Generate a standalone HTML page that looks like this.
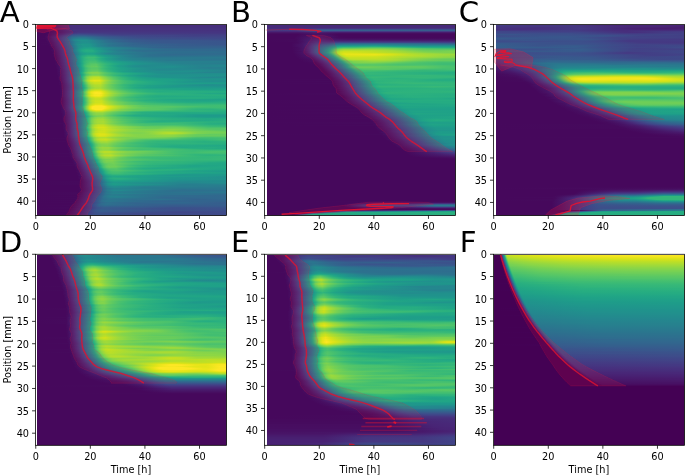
<!DOCTYPE html>
<html><head><meta charset="utf-8"><title>Figure</title>
<style>
html,body{margin:0;padding:0;background:#fff}
#fig{position:relative;width:685px;height:475px;overflow:hidden;background:#fff;font-family:"DejaVu Sans","Liberation Sans",sans-serif}
.hm{position:absolute;overflow:hidden}
.hm i{display:block;height:1px}
svg{position:absolute;left:0;top:0}
text{font-family:"DejaVu Sans","Liberation Sans",sans-serif;fill:#000}
</style></head><body><div id="fig">
<div class="hm" style="left:36px;top:25px;width:191px;height:191px">
<i style="background:linear-gradient(90deg,#fff 0.8px,#46085c 0.8px,#470e61 11.5px,#482979 28.5px,#46307e 36.5px,#472d7b 133.5px,#472f7d 190.5px)"></i>
<i style="background:linear-gradient(90deg,#fff 0.8px,#46085c 0.8px,#470e61 11.5px,#482979 29.5px,#472e7c 35.5px,#472e7c 190.5px)"></i>
<i style="background:linear-gradient(90deg,#fff 0.8px,#46085c 0.8px,#470e61 11.5px,#482677 27.5px,#472f7d 36.5px,#472d7b 79.5px,#46307e 96.5px,#46307e 190.5px)"></i>
<i style="background:linear-gradient(90deg,#fff 0.8px,#46085c 0.8px,#470e61 11.5px,#482979 28.5px,#472f7d 34.5px,#472d7b 77.5px,#46327e 99.5px,#46327e 190.5px)"></i>
<i style="background:linear-gradient(90deg,#fff 0.8px,#46085c 0.8px,#460b5e 10.5px,#482979 29.5px,#46327e 37.5px,#472f7d 79.5px,#46337f 103.5px,#46337f 190.5px)"></i>
<i style="background:linear-gradient(90deg,#fff 0.8px,#46085c 0.8px,#46085c 8.5px,#470d60 13.5px,#481c6e 24.5px,#472f7d 34.5px,#46337f 38.5px,#46327e 190.5px)"></i>
<i style="background:linear-gradient(90deg,#fff 0.8px,#46085c 0.8px,#46085c 10.5px,#470d60 15.5px,#472e7c 35.5px,#463480 43.5px,#463480 190.5px)"></i>
<i style="background:linear-gradient(90deg,#fff 0.8px,#46085c 0.8px,#46085c 10.5px,#481d6f 25.5px,#472f7d 34.5px,#453882 42.5px,#453581 190.5px)"></i>
<i style="background:linear-gradient(90deg,#fff 0.8px,#46085c 0.8px,#460a5d 11.5px,#482475 26.5px,#453882 34.5px,#414287 43.5px,#443a83 77.5px,#453882 190.5px)"></i>
<i style="background:linear-gradient(90deg,#fff 0.8px,#46085c 0.8px,#46085c 9.5px,#471164 15.5px,#46307e 28.5px,#424186 33.5px,#3e4c8a 37.5px,#3c508b 42.5px,#423f85 79.5px,#433d84 190.5px)"></i>
<i style="background:linear-gradient(90deg,#fff 0.8px,#46085c 0.8px,#46085c 8.5px,#471164 14.5px,#472a7a 23.5px,#423f85 29.5px,#38588c 36.5px,#365d8d 41.5px,#365d8d 48.5px,#3d4e8a 63.5px,#404588 86.5px,#414487 135.5px,#423f85 159.5px,#424186 190.5px)"></i>
<i style="background:linear-gradient(90deg,#fff 0.8px,#46085c 0.8px,#46085c 8.5px,#481467 14.5px,#46307e 23.5px,#3f4889 29.5px,#33638d 36.5px,#306a8e 42.5px,#306a8e 48.5px,#39568c 68.5px,#3f4889 102.5px,#414287 154.5px,#414487 190.5px)"></i>
<i style="background:linear-gradient(90deg,#fff 0.8px,#46085c 0.8px,#46085c 8.5px,#471063 12.5px,#482979 20.5px,#404688 27.5px,#2e6e8e 36.5px,#2a788e 43.5px,#2a778e 49.5px,#2f6b8e 57.5px,#365c8d 72.5px,#3e4c8a 102.5px,#404688 190.5px)"></i>
<i style="background:linear-gradient(90deg,#fff 0.8px,#46085c 0.8px,#460a5d 10.5px,#481769 15.5px,#46337f 22.5px,#414487 26.5px,#2a788e 37.5px,#26818e 44.5px,#277f8e 49.5px,#2f6b8e 61.5px,#355f8d 73.5px,#3a538b 95.5px,#3d4e8a 111.5px,#3f4889 190.5px)"></i>
<i style="background:linear-gradient(90deg,#fff 0.8px,#46085c 0.8px,#46085c 9.5px,#481a6c 16.5px,#453882 23.5px,#3e4a89 27.5px,#27808e 37.5px,#23888e 40.5px,#228c8d 44.5px,#238a8d 50.5px,#2a778e 59.5px,#2f6c8e 67.5px,#375a8c 92.5px,#3a538b 112.5px,#3e4c8a 190.5px)"></i>
<i style="background:linear-gradient(90deg,#fff 0.8px,#46085c 0.8px,#46085c 9.5px,#48186a 16.5px,#453781 23.5px,#3c4f8a 28.5px,#24868e 38.5px,#21918c 42.5px,#20938c 45.5px,#20928c 51.5px,#277f8e 60.5px,#2e6d8e 72.5px,#365d8d 93.5px,#39568c 115.5px,#39568c 152.5px,#3b518b 190.5px)"></i>
<i style="background:linear-gradient(90deg,#fff 0.8px,#46085c 0.8px,#46085c 10.5px,#481a6c 17.5px,#443983 24.5px,#3b518b 29.5px,#25848e 39.5px,#21908d 45.5px,#21908d 51.5px,#2e6f8e 72.5px,#33638d 84.5px,#365c8d 97.5px,#38588c 116.5px,#39558c 190.5px)"></i>
<i style="background:linear-gradient(90deg,#fff 0.8px,#46085c 0.8px,#460a5d 12.5px,#48186a 17.5px,#472d7b 22.5px,#404688 27.5px,#31668e 33.5px,#25848e 39.5px,#228d8d 42.5px,#20928c 47.5px,#21908d 52.5px,#2c738e 70.5px,#34608d 97.5px,#38588c 125.5px,#39558c 190.5px)"></i>
<i style="background:linear-gradient(90deg,#fff 0.8px,#46085c 0.8px,#46085c 11.5px,#481769 17.5px,#482677 21.5px,#453781 24.5px,#3c4f8a 29.5px,#228b8d 40.5px,#1f948c 46.5px,#1f948c 52.5px,#277f8e 64.5px,#2e6f8e 80.5px,#365d8d 109.5px,#39558c 190.5px)"></i>
<i style="background:linear-gradient(90deg,#fff 0.8px,#46085c 0.8px,#460a5d 13.5px,#481668 17.5px,#472e7c 23.5px,#3d4e8a 29.5px,#2d718e 35.5px,#21918c 41.5px,#1f998a 46.5px,#1f978b 53.5px,#24868e 61.5px,#2b758e 73.5px,#32648e 97.5px,#39558c 190.5px)"></i>
<i style="background:linear-gradient(90deg,#fff 0.8px,#46085c 0.8px,#46085c 12.5px,#481467 17.5px,#472c7a 23.5px,#453882 25.5px,#3b518b 30.5px,#218e8d 41.5px,#1f988b 47.5px,#1f978b 53.5px,#25848e 62.5px,#2b748e 73.5px,#31688e 91.5px,#365c8d 143.5px,#375a8c 190.5px)"></i>
<i style="background:linear-gradient(90deg,#fff 0.8px,#46085c 0.8px,#46085c 13.5px,#460b5e 15.5px,#472a7a 23.5px,#424086 27.5px,#3c4f8a 30.5px,#2d718e 36.5px,#21908d 42.5px,#1f998a 48.5px,#1f988b 54.5px,#23898e 61.5px,#29798e 73.5px,#30698e 98.5px,#355f8d 147.5px,#355e8d 190.5px)"></i>
<i style="background:linear-gradient(90deg,#fff 0.8px,#46085c 0.8px,#46085c 13.5px,#470d60 16.5px,#472d7b 24.5px,#3d4e8a 30.5px,#2d708e 36.5px,#20928c 42.5px,#1f9e89 48.5px,#1f9f88 54.5px,#24878e 69.5px,#32658e 115.5px,#34618d 130.5px,#34618d 190.5px)"></i>
<i style="background:linear-gradient(90deg,#fff 0.8px,#46085c 0.8px,#46085c 14.5px,#460b5e 16.5px,#472c7a 24.5px,#3d4d8a 30.5px,#2b748e 37.5px,#1f978b 43.5px,#1f9e89 45.5px,#20a486 50.5px,#20a486 55.5px,#21908d 67.5px,#25838e 79.5px,#306a8e 122.5px,#32648e 155.5px,#31668e 190.5px)"></i>
<i style="background:linear-gradient(90deg,#fff 0.8px,#46085c 0.8px,#46085c 14.5px,#471164 18.5px,#472f7d 25.5px,#424186 28.5px,#39568c 32.5px,#287d8e 38.5px,#1e9c89 43.5px,#21a585 46.5px,#24aa83 50.5px,#23a983 55.5px,#1e9c89 61.5px,#24868e 73.5px,#2a768e 94.5px,#2f6b8e 133.5px,#31688e 190.5px)"></i>
<i style="background:linear-gradient(90deg,#fff 0.8px,#46085c 0.8px,#46085c 14.5px,#471063 18.5px,#472d7b 25.5px,#423f85 28.5px,#39558c 32.5px,#287c8e 38.5px,#1e9d89 43.5px,#22a884 46.5px,#27ad81 50.5px,#25ac82 56.5px,#20a486 59.5px,#1f9a8a 64.5px,#238a8d 72.5px,#287c8e 82.5px,#2d708e 98.5px,#2f6b8e 122.5px,#31688e 190.5px)"></i>
<i style="background:linear-gradient(90deg,#fff 0.8px,#46085c 0.8px,#46085c 15.5px,#470e61 18.5px,#46307e 26.5px,#414487 29.5px,#375a8c 33.5px,#27808e 39.5px,#1f9f88 44.5px,#22a884 47.5px,#25ac82 50.5px,#25ab82 56.5px,#1e9c89 63.5px,#26818e 81.5px,#2e6f8e 106.5px,#2f6b8e 190.5px)"></i>
<i style="background:linear-gradient(90deg,#fff 0.8px,#46085c 0.8px,#46085c 15.5px,#470d60 18.5px,#472f7d 26.5px,#3b528b 32.5px,#287c8e 39.5px,#1f9a8a 44.5px,#20a386 47.5px,#22a884 51.5px,#21a685 57.5px,#20938c 66.5px,#25858e 77.5px,#2c738e 108.5px,#2e6d8e 138.5px,#2e6d8e 190.5px)"></i>
<i style="background:linear-gradient(90deg,#fff 0.8px,#46085c 0.8px,#46085c 15.5px,#471063 19.5px,#472e7c 26.5px,#3b518b 32.5px,#297a8e 39.5px,#1f978b 44.5px,#1f9e89 46.5px,#20a486 51.5px,#1fa287 57.5px,#24878e 71.5px,#29798e 92.5px,#2e6d8e 129.5px,#306a8e 190.5px)"></i>
<i style="background:linear-gradient(90deg,#fff 0.8px,#46085c 0.8px,#46085c 16.5px,#460b5e 18.5px,#482979 25.5px,#3e4c8a 31.5px,#29798e 39.5px,#1e9c89 45.5px,#22a785 51.5px,#21a685 57.5px,#1e9c89 62.5px,#21908d 69.5px,#25838e 80.5px,#2d708e 113.5px,#306a8e 136.5px,#2f6c8e 190.5px)"></i>
<i style="background:linear-gradient(90deg,#fff 0.8px,#46085c 0.8px,#46085c 16.5px,#470e61 19.5px,#481d6f 23.5px,#46327e 27.5px,#39568c 33.5px,#287c8e 39.5px,#1f968b 43.5px,#21a685 46.5px,#2ab07f 51.5px,#29af7f 58.5px,#21a685 62.5px,#1e9c89 68.5px,#25858e 86.5px,#2c718e 111.5px,#2e6d8e 128.5px,#2d708e 190.5px)"></i>
<i style="background:linear-gradient(90deg,#fff 0.8px,#46085c 0.8px,#46085c 16.5px,#470d60 19.5px,#46307e 27.5px,#404588 30.5px,#39568c 33.5px,#287d8e 39.5px,#1f998a 43.5px,#25ab82 46.5px,#34b679 52.5px,#32b67a 58.5px,#24aa83 63.5px,#1f9e89 69.5px,#26828e 89.5px,#2b748e 107.5px,#2c718e 120.5px,#2b748e 190.5px)"></i>
<i style="background:linear-gradient(90deg,#fff 0.8px,#46085c 0.8px,#46085c 17.5px,#471063 20.5px,#482071 24.5px,#453581 28.5px,#3e4989 31.5px,#33628d 35.5px,#25848e 40.5px,#1e9b8a 43.5px,#27ad81 46.5px,#35b779 49.5px,#3dbc74 52.5px,#3dbc74 58.5px,#26ad81 65.5px,#1fa187 71.5px,#23898e 86.5px,#277e8e 97.5px,#2a778e 117.5px,#2a788e 190.5px)"></i>
<i style="background:linear-gradient(90deg,#fff 0.8px,#46085c 0.8px,#46085c 17.5px,#460b5e 19.5px,#481f70 24.5px,#472f7d 27.5px,#3e4989 31.5px,#375b8d 34.5px,#25838e 40.5px,#1fa088 44.5px,#2ab07f 47.5px,#34b679 49.5px,#3aba76 52.5px,#3aba76 57.5px,#25ac82 64.5px,#1fa187 69.5px,#228c8d 83.5px,#26828e 96.5px,#297b8e 118.5px,#2a768e 190.5px)"></i>
<i style="background:linear-gradient(90deg,#fff 0.8px,#46085c 0.8px,#46085c 17.5px,#470e61 20.5px,#46337f 28.5px,#3f4889 31.5px,#34608d 35.5px,#26828e 40.5px,#1fa088 44.5px,#2fb47c 48.5px,#3bbb75 53.5px,#3bbb75 58.5px,#29af7f 63.5px,#1fa187 70.5px,#218f8d 82.5px,#25838e 96.5px,#297b8e 124.5px,#2b748e 190.5px)"></i>
<i style="background:linear-gradient(90deg,#fff 0.8px,#46085c 0.8px,#46085c 17.5px,#470d60 20.5px,#472d7b 27.5px,#3f4788 31.5px,#355f8d 35.5px,#26818e 40.5px,#1f9e89 44.5px,#2ab07f 47.5px,#38b977 50.5px,#3fbc73 53.5px,#3dbc74 59.5px,#28ae80 65.5px,#20a386 71.5px,#21908d 85.5px,#23898e 95.5px,#29798e 133.5px,#29798e 190.5px)"></i>
<i style="background:linear-gradient(90deg,#fff 0.8px,#46085c 0.8px,#46085c 18.5px,#471063 21.5px,#472d7b 27.5px,#3d4d8a 32.5px,#29798e 39.5px,#1f9f88 44.5px,#25ac82 46.5px,#2db27d 47.5px,#3bbb75 50.5px,#44bf70 54.5px,#44bf70 59.5px,#37b878 62.5px,#27ad81 68.5px,#1fa088 78.5px,#218f8d 98.5px,#27808e 125.5px,#277f8e 190.5px)"></i>
<i style="background:linear-gradient(90deg,#fff 0.8px,#46085c 0.8px,#46085c 18.5px,#460b5e 20.5px,#472a7a 27.5px,#3e4a89 32.5px,#2a778e 39.5px,#1e9d89 44.5px,#25ab82 46.5px,#32b67a 48.5px,#48c16e 53.5px,#4ac16d 59.5px,#2db27d 68.5px,#22a785 76.5px,#1fa188 82.5px,#21918c 101.5px,#26828e 130.5px,#277e8e 190.5px)"></i>
<i style="background:linear-gradient(90deg,#fff 0.8px,#46085c 0.8px,#46085c 18.5px,#470e61 21.5px,#482475 26.5px,#3e4989 32.5px,#2b758e 39.5px,#1e9c89 44.5px,#24aa83 46.5px,#32b67a 48.5px,#40bd72 50.5px,#50c46a 54.5px,#54c568 59.5px,#3aba76 66.5px,#2fb47c 70.5px,#23a983 78.5px,#1fa187 85.5px,#1f968b 98.5px,#26828e 139.5px,#297b8e 190.5px)"></i>
<i style="background:linear-gradient(90deg,#fff 0.8px,#46085c 0.8px,#46085c 18.5px,#470d60 21.5px,#482979 27.5px,#3f4889 32.5px,#2b758e 39.5px,#1e9d89 44.5px,#25ac82 46.5px,#37b878 48.5px,#4ac16d 51.5px,#58c765 55.5px,#5ac864 60.5px,#4ac16d 63.5px,#32b67a 70.5px,#26ad81 76.5px,#20a386 83.5px,#1f948c 99.5px,#228c8d 115.5px,#26818e 161.5px,#26818e 190.5px)"></i>
<i style="background:linear-gradient(90deg,#fff 0.8px,#46085c 0.8px,#46085c 19.5px,#471063 22.5px,#472d7b 28.5px,#3c4f8a 33.5px,#287d8e 40.5px,#1f9e89 44.5px,#26ad81 46.5px,#3bbb75 48.5px,#50c46a 51.5px,#5cc863 55.5px,#5cc863 60.5px,#46c06f 64.5px,#32b67a 69.5px,#25ab82 75.5px,#1fa188 81.5px,#21908d 97.5px,#228b8d 108.5px,#228b8d 134.5px,#26828e 165.5px,#24868e 190.5px)"></i>
<i style="background:linear-gradient(90deg,#fff 0.8px,#46085c 0.8px,#46085c 19.5px,#470e61 22.5px,#472c7a 28.5px,#3d4d8a 33.5px,#287c8e 40.5px,#1e9d89 44.5px,#26ad81 46.5px,#44bf70 49.5px,#54c568 51.5px,#60ca60 55.5px,#63cb5f 60.5px,#46c06f 65.5px,#32b67a 70.5px,#25ab82 76.5px,#1fa187 81.5px,#218e8d 98.5px,#238a8d 109.5px,#218f8d 135.5px,#25838e 163.5px,#25858e 190.5px)"></i>
<i style="background:linear-gradient(90deg,#fff 0.8px,#46085c 0.8px,#46085c 19.5px,#470e61 22.5px,#472c7a 28.5px,#3e4c8a 33.5px,#29798e 40.5px,#21918c 43.5px,#1fa187 45.5px,#2ab07f 47.5px,#3dbc74 49.5px,#52c569 52.5px,#5cc863 55.5px,#5ac864 61.5px,#3dbc74 67.5px,#2eb37c 72.5px,#25ab82 77.5px,#1fa287 83.5px,#20938c 97.5px,#228d8d 109.5px,#218e8d 135.5px,#277f8e 171.5px,#26818e 190.5px)"></i>
<i style="background:linear-gradient(90deg,#fff 0.8px,#46085c 0.8px,#46085c 19.5px,#470d60 22.5px,#472a7a 28.5px,#3e4c8a 33.5px,#2a788e 40.5px,#1fa088 45.5px,#28ae80 47.5px,#3bbb75 49.5px,#4ec36b 52.5px,#58c765 55.5px,#58c765 61.5px,#42be71 65.5px,#34b679 69.5px,#28ae80 74.5px,#1fa188 85.5px,#228d8d 112.5px,#23888e 146.5px,#27808e 173.5px,#27808e 190.5px)"></i>
<i style="background:linear-gradient(90deg,#fff 0.8px,#46085c 0.8px,#46085c 20.5px,#470d60 22.5px,#482374 27.5px,#3e4a89 33.5px,#2a788e 40.5px,#1f9f88 45.5px,#28ae80 47.5px,#3dbc74 49.5px,#52c569 52.5px,#5cc863 55.5px,#5cc863 61.5px,#46c06f 65.5px,#34b679 70.5px,#29af7f 74.5px,#20a486 82.5px,#20938c 101.5px,#23898e 121.5px,#23888e 159.5px,#26828e 190.5px)"></i>
<i style="background:linear-gradient(90deg,#fff 0.8px,#46085c 0.8px,#46085c 20.5px,#471063 23.5px,#472e7c 29.5px,#3b518b 34.5px,#277f8e 41.5px,#1f9f88 45.5px,#28ae80 47.5px,#3dbc74 49.5px,#54c568 52.5px,#60ca60 56.5px,#60ca60 61.5px,#42be71 67.5px,#34b679 71.5px,#26ad81 77.5px,#20a486 83.5px,#1f958b 99.5px,#238a8d 122.5px,#228d8d 160.5px,#25858e 190.5px)"></i>
<i style="background:linear-gradient(90deg,#fff 0.8px,#46085c 0.8px,#46085c 20.5px,#471063 23.5px,#482173 27.5px,#46337f 30.5px,#3c508b 34.5px,#277f8e 41.5px,#1fa088 45.5px,#29af7f 47.5px,#40bd72 49.5px,#5cc863 52.5px,#69cd5b 56.5px,#6ccd5a 61.5px,#4ec36b 66.5px,#38b977 71.5px,#26ad81 78.5px,#1fa187 85.5px,#1f958b 98.5px,#218f8d 114.5px,#21908d 154.5px,#26828e 190.5px)"></i>
<i style="background:linear-gradient(90deg,#fff 0.8px,#46085c 0.8px,#46085c 20.5px,#470e61 23.5px,#472d7b 29.5px,#3c508b 34.5px,#297a8e 40.5px,#1e9c89 44.5px,#27ad81 46.5px,#32b67a 47.5px,#50c46a 49.5px,#70cf57 52.5px,#7fd34e 55.5px,#81d34d 61.5px,#56c667 68.5px,#44bf70 72.5px,#2cb17e 80.5px,#22a884 87.5px,#1e9d89 99.5px,#218e8d 122.5px,#228c8d 150.5px,#25848e 171.5px,#25848e 190.5px)"></i>
<i style="background:linear-gradient(90deg,#fff 0.8px,#46085c 0.8px,#46085c 20.5px,#470e61 23.5px,#472d7b 29.5px,#3c508b 34.5px,#297a8e 40.5px,#1e9b8a 44.5px,#26ad81 46.5px,#3dbc74 48.5px,#5ac864 50.5px,#75d054 53.5px,#81d34d 56.5px,#81d34d 62.5px,#6ccd5a 65.5px,#5cc863 68.5px,#3bbb75 77.5px,#2ab07f 86.5px,#23a983 94.5px,#1e9d89 108.5px,#20928c 120.5px,#228c8d 134.5px,#228d8d 190.5px)"></i>
<i style="background:linear-gradient(90deg,#fff 0.8px,#46085c 0.8px,#46085c 20.5px,#470d60 23.5px,#472c7a 29.5px,#3c4f8a 34.5px,#277f8e 41.5px,#1fa088 45.5px,#29af7f 47.5px,#50c46a 50.5px,#69cd5b 53.5px,#77d153 56.5px,#7ad151 62.5px,#58c765 68.5px,#3fbc73 75.5px,#2fb47c 82.5px,#22a884 93.5px,#1e9b8a 108.5px,#21918c 130.5px,#218f8d 190.5px)"></i>
<i style="background:linear-gradient(90deg,#fff 0.8px,#46085c 0.8px,#46085c 21.5px,#470d60 23.5px,#482475 28.5px,#46327e 30.5px,#3d4e8a 34.5px,#277f8e 41.5px,#1fa188 45.5px,#24aa83 46.5px,#38b977 48.5px,#58c765 50.5px,#75d054 53.5px,#84d44b 56.5px,#86d549 62.5px,#5ac864 69.5px,#38b977 77.5px,#2cb17e 82.5px,#22a785 89.5px,#1f998a 103.5px,#20928c 120.5px,#21918c 190.5px)"></i>
<i style="background:linear-gradient(90deg,#fff 0.8px,#46085c 0.8px,#46085c 21.5px,#471063 24.5px,#472c7a 29.5px,#3c4f8a 34.5px,#297b8e 40.5px,#1f9e89 44.5px,#22a785 45.5px,#2ab07f 46.5px,#38b977 47.5px,#70cf57 50.5px,#95d840 53.5px,#a5db36 56.5px,#aadc32 58.5px,#aadc32 62.5px,#67cc5c 71.5px,#48c16e 77.5px,#2cb17e 86.5px,#22a785 93.5px,#1f978b 109.5px,#20928c 120.5px,#20938c 148.5px,#228b8d 190.5px)"></i>
<i style="background:linear-gradient(90deg,#fff 0.8px,#46085c 0.8px,#46085c 21.5px,#471063 24.5px,#472a7a 29.5px,#3c508b 34.5px,#287d8e 40.5px,#1fa188 44.5px,#24aa83 45.5px,#2eb37c 46.5px,#52c569 48.5px,#8ed645 51.5px,#addc30 54.5px,#bddf26 57.5px,#c0df25 62.5px,#bade28 63.5px,#9dd93b 66.5px,#77d153 71.5px,#54c568 77.5px,#34b679 86.5px,#28ae80 92.5px,#1fa287 103.5px,#1f958b 123.5px,#20928c 146.5px,#23888e 171.5px,#238a8d 190.5px)"></i>
<i style="background:linear-gradient(90deg,#fff 0.8px,#46085c 0.8px,#46085c 21.5px,#470e61 24.5px,#472a7a 29.5px,#3c508b 34.5px,#277e8e 40.5px,#1fa188 44.5px,#24aa83 45.5px,#3fbc73 47.5px,#90d743 51.5px,#aadc32 53.5px,#b5de2b 54.5px,#c5e021 57.5px,#c2df23 63.5px,#9dd93b 67.5px,#86d549 70.5px,#5ac864 77.5px,#40bd72 83.5px,#29af7f 93.5px,#23a983 99.5px,#1fa187 110.5px,#1e9d89 133.5px,#21908d 158.5px,#21918c 190.5px)"></i>
<i style="background:linear-gradient(90deg,#fff 0.8px,#46085c 0.8px,#46085c 21.5px,#470e61 24.5px,#482979 29.5px,#3c4f8a 34.5px,#277e8e 40.5px,#1f988b 43.5px,#1fa187 44.5px,#25ac82 45.5px,#31b57b 46.5px,#42be71 47.5px,#6ccd5a 49.5px,#9bd93c 51.5px,#c0df25 54.5px,#c5e021 55.5px,#d0e11c 57.5px,#d0e11c 63.5px,#a0da39 68.5px,#90d743 70.5px,#6ccd5a 75.5px,#56c667 79.5px,#3dbc74 85.5px,#32b67a 89.5px,#26ad81 96.5px,#20a386 112.5px,#1fa187 134.5px,#20938c 164.5px,#1f948c 190.5px)"></i>
<i style="background:linear-gradient(90deg,#fff 0.8px,#46085c 0.8px,#46085c 22.5px,#470e61 24.5px,#482878 29.5px,#404588 33.5px,#38588c 35.5px,#24878e 41.5px,#1f9a8a 43.5px,#20a486 44.5px,#28ae80 45.5px,#37b878 46.5px,#7ad151 49.5px,#aadc32 51.5px,#d5e21a 54.5px,#e5e419 58.5px,#e2e418 63.5px,#d0e11c 65.5px,#a8db34 69.5px,#7ad151 75.5px,#63cb5f 79.5px,#48c16e 85.5px,#3bbb75 89.5px,#2db27d 96.5px,#23a983 106.5px,#20a386 119.5px,#1fa088 137.5px,#21918c 171.5px,#21918c 190.5px)"></i>
<i style="background:linear-gradient(90deg,#fff 0.8px,#46085c 0.8px,#46085c 22.5px,#470d60 24.5px,#482677 29.5px,#3e4c8a 34.5px,#287c8e 40.5px,#1fa188 44.5px,#25ab82 45.5px,#31b57b 46.5px,#42be71 47.5px,#86d549 50.5px,#b0dd2f 52.5px,#c8e020 54.5px,#d0e11c 55.5px,#dae319 58.5px,#d8e219 63.5px,#d2e21b 64.5px,#c8e020 65.5px,#98d83e 70.5px,#81d34d 73.5px,#69cd5b 77.5px,#4cc26c 84.5px,#40bd72 88.5px,#2eb37c 99.5px,#24aa83 111.5px,#1fa287 127.5px,#1f948c 159.5px,#21908d 183.5px,#20928c 190.5px)"></i>
<i style="background:linear-gradient(90deg,#fff 0.8px,#46085c 0.8px,#46085c 22.5px,#471063 25.5px,#472c7a 30.5px,#3b528b 35.5px,#27808e 41.5px,#1f9a8a 44.5px,#20a486 45.5px,#27ad81 46.5px,#35b779 47.5px,#70cf57 50.5px,#89d548 51.5px,#9bd93c 52.5px,#b5de2b 54.5px,#bddf26 55.5px,#cae11f 58.5px,#c8e020 64.5px,#aadc32 67.5px,#84d44b 72.5px,#6ccd5a 76.5px,#5ac864 80.5px,#4cc26c 84.5px,#3aba76 91.5px,#2cb17e 101.5px,#21a685 120.5px,#1f988b 148.5px,#1f988b 190.5px)"></i>
<i style="background:linear-gradient(90deg,#fff 0.8px,#46085c 0.8px,#46085c 22.5px,#470e61 25.5px,#46307e 31.5px,#3c4f8a 35.5px,#277e8e 41.5px,#1fa188 45.5px,#25ab82 46.5px,#2fb47c 47.5px,#69cd5b 50.5px,#93d741 52.5px,#addc30 54.5px,#bade28 56.5px,#c5e021 58.5px,#c5e021 64.5px,#bade28 65.5px,#84d44b 72.5px,#58c765 81.5px,#40bd72 88.5px,#2ab07f 101.5px,#22a785 117.5px,#1f9e89 144.5px,#1e9b8a 190.5px)"></i>
<i style="background:linear-gradient(90deg,#fff 0.8px,#46085c 0.8px,#46085c 22.5px,#470e61 25.5px,#482878 30.5px,#3d4d8a 35.5px,#297a8e 41.5px,#1e9c89 45.5px,#21a585 46.5px,#37b878 48.5px,#5ac864 50.5px,#84d44b 52.5px,#a8db34 55.5px,#b8de29 59.5px,#b5de2b 64.5px,#84d44b 70.5px,#65cb5e 75.5px,#58c765 78.5px,#38b977 87.5px,#27ad81 98.5px,#1fa187 128.5px,#21908d 170.5px,#20938c 190.5px)"></i>
<i style="background:linear-gradient(90deg,#fff 0.8px,#46085c 0.8px,#46085c 23.5px,#470d60 25.5px,#472d7b 31.5px,#3b528b 36.5px,#277f8e 42.5px,#1fa187 46.5px,#25ab82 47.5px,#2fb47c 48.5px,#50c46a 50.5px,#7ad151 52.5px,#86d549 53.5px,#9dd93b 55.5px,#addc30 58.5px,#b0dd2f 64.5px,#81d34d 70.5px,#5ec962 76.5px,#3bbb75 85.5px,#29af7f 94.5px,#22a884 102.5px,#1fa287 112.5px,#20928c 155.5px,#218f8d 170.5px,#21918c 190.5px)"></i>
<i style="background:linear-gradient(90deg,#fff 0.8px,#46085c 0.8px,#46085c 23.5px,#470d60 25.5px,#472d7b 31.5px,#3b518b 36.5px,#287d8e 42.5px,#1fa088 46.5px,#23a983 47.5px,#2db27d 48.5px,#4ec36b 50.5px,#75d054 52.5px,#98d83e 55.5px,#aadc32 58.5px,#addc30 64.5px,#89d548 69.5px,#70cf57 73.5px,#54c568 79.5px,#37b878 88.5px,#28ae80 96.5px,#1fa287 111.5px,#1f988b 137.5px,#1f948c 190.5px)"></i>
<i style="background:linear-gradient(90deg,#fff 0.8px,#46085c 0.8px,#46085c 23.5px,#470d60 25.5px,#472c7a 31.5px,#3c508b 36.5px,#297b8e 42.5px,#1e9c89 46.5px,#21a585 47.5px,#28ae80 48.5px,#44bf70 50.5px,#6ccd5a 52.5px,#90d743 55.5px,#a5db36 59.5px,#a8db34 64.5px,#81d34d 70.5px,#60ca60 76.5px,#4cc26c 81.5px,#35b779 88.5px,#24aa83 98.5px,#1fa188 109.5px,#1e9c89 124.5px,#1f988b 190.5px)"></i>
<i style="background:linear-gradient(90deg,#fff 0.8px,#46085c 0.8px,#46085c 23.5px,#470d60 25.5px,#472d7b 31.5px,#3b518b 36.5px,#287c8e 42.5px,#1f9e89 46.5px,#22a785 47.5px,#2ab07f 48.5px,#48c16e 50.5px,#70cf57 52.5px,#95d840 55.5px,#a8db34 58.5px,#addc30 64.5px,#7fd34e 71.5px,#52c569 80.5px,#38b977 88.5px,#28ae80 97.5px,#22a785 107.5px,#20a386 119.5px,#1fa287 145.5px,#1e9d89 168.5px,#1f9f88 190.5px)"></i>
<i style="background:linear-gradient(90deg,#fff 0.8px,#46085c 0.8px,#46085c 23.5px,#470d60 25.5px,#472d7b 31.5px,#424186 34.5px,#3a538b 36.5px,#27808e 42.5px,#1f9a8a 45.5px,#20a486 46.5px,#27ad81 47.5px,#46c06f 49.5px,#6ece58 51.5px,#86d549 52.5px,#addc30 55.5px,#b8de29 57.5px,#c0df25 59.5px,#c2df23 64.5px,#9bd93c 69.5px,#81d34d 73.5px,#58c765 81.5px,#3fbc73 89.5px,#2db27d 100.5px,#24aa83 116.5px,#1fa287 148.5px,#1fa088 171.5px,#1fa287 190.5px)"></i>
<i style="background:linear-gradient(90deg,#fff 0.8px,#46085c 0.8px,#46085c 23.5px,#470d60 25.5px,#472e7c 31.5px,#3e4c8a 35.5px,#297b8e 41.5px,#1f9f88 45.5px,#22a884 46.5px,#2db27d 47.5px,#3dbc74 48.5px,#67cc5c 50.5px,#98d83e 52.5px,#c2df23 55.5px,#d2e21b 58.5px,#d8e219 60.5px,#d8e219 64.5px,#93d741 73.5px,#7ad151 77.5px,#6ccd5a 80.5px,#4cc26c 88.5px,#3aba76 95.5px,#32b67a 100.5px,#29af7f 112.5px,#25ab82 131.5px,#21a585 190.5px)"></i>
<i style="background:linear-gradient(90deg,#fff 0.8px,#46085c 0.8px,#46085c 23.5px,#470d60 25.5px,#472f7d 31.5px,#404588 34.5px,#38588c 36.5px,#23888e 42.5px,#1e9b8a 44.5px,#21a585 45.5px,#29af7f 46.5px,#3aba76 47.5px,#4ec36b 48.5px,#7fd34e 50.5px,#b2dd2d 52.5px,#d0e11c 54.5px,#dde318 55.5px,#ece51b 58.5px,#efe51c 61.5px,#ece51b 64.5px,#e7e419 65.5px,#d5e21a 67.5px,#aadc32 72.5px,#95d840 75.5px,#69cd5b 83.5px,#46c06f 93.5px,#37b878 101.5px,#2cb17e 109.5px,#25ac82 124.5px,#28ae80 146.5px,#25ac82 190.5px)"></i>
<i style="background:linear-gradient(90deg,#fff 0.8px,#46085c 0.8px,#46085c 23.5px,#470d60 25.5px,#482878 30.5px,#3c4f8a 35.5px,#29798e 40.5px,#1f9e89 44.5px,#23a983 45.5px,#2eb37c 46.5px,#40bd72 47.5px,#56c667 48.5px,#a2da37 51.5px,#c0df25 52.5px,#d0e11c 53.5px,#eae51a 55.5px,#f8e621 58.5px,#fbe723 60.5px,#f6e620 64.5px,#f1e51d 65.5px,#e7e419 66.5px,#d5e21a 68.5px,#a5db36 74.5px,#8bd646 78.5px,#65cb5e 86.5px,#48c16e 96.5px,#3bbb75 103.5px,#31b57b 111.5px,#2ab07f 121.5px,#25ab82 190.5px)"></i>
<i style="background:linear-gradient(90deg,#fff 0.8px,#46085c 0.8px,#46085c 23.5px,#470d60 25.5px,#472f7d 31.5px,#404588 34.5px,#38588c 36.5px,#23898e 42.5px,#1e9c89 44.5px,#21a685 45.5px,#2ab07f 46.5px,#3bbb75 47.5px,#84d44b 50.5px,#b8de29 52.5px,#cae11f 53.5px,#e7e419 55.5px,#f4e61e 57.5px,#fbe723 59.5px,#fbe723 64.5px,#f6e620 65.5px,#e5e419 67.5px,#d2e21b 69.5px,#a0da39 76.5px,#73d056 85.5px,#5cc863 92.5px,#46c06f 102.5px,#37b878 113.5px,#2eb37c 124.5px,#2ab07f 146.5px,#22a785 173.5px,#21a685 190.5px)"></i>
<i style="background:linear-gradient(90deg,#fff 0.8px,#46085c 0.8px,#46085c 23.5px,#470d60 25.5px,#472f7d 31.5px,#404588 34.5px,#38588c 36.5px,#23888e 42.5px,#1f9a8a 44.5px,#21a585 45.5px,#29af7f 46.5px,#38b977 47.5px,#65cb5e 49.5px,#b2dd2d 52.5px,#c5e021 53.5px,#e2e418 55.5px,#f4e61e 58.5px,#f6e620 63.5px,#efe51c 65.5px,#d5e21a 68.5px,#a5db36 74.5px,#8bd646 78.5px,#73d056 83.5px,#65cb5e 86.5px,#52c569 92.5px,#3dbc74 102.5px,#34b679 110.5px,#2db27d 122.5px,#25ac82 190.5px)"></i>
<i style="background:linear-gradient(90deg,#fff 0.8px,#46085c 0.8px,#46085c 23.5px,#470d60 25.5px,#482878 30.5px,#3d4e8a 35.5px,#2a788e 40.5px,#1e9d89 44.5px,#22a785 45.5px,#2db27d 46.5px,#3dbc74 47.5px,#86d549 50.5px,#bade28 52.5px,#cde11d 53.5px,#e7e419 55.5px,#f6e620 58.5px,#f8e621 62.5px,#f1e51d 65.5px,#e7e419 66.5px,#d5e21a 68.5px,#9dd93b 75.5px,#6ece58 83.5px,#56c667 89.5px,#3aba76 100.5px,#2db27d 109.5px,#27ad81 120.5px,#29af7f 190.5px)"></i>
<i style="background:linear-gradient(90deg,#fff 0.8px,#46085c 0.8px,#46085c 23.5px,#470d60 25.5px,#472e7c 31.5px,#39568c 36.5px,#24878e 42.5px,#1f998a 44.5px,#20a386 45.5px,#28ae80 46.5px,#37b878 47.5px,#4ac16d 48.5px,#7ad151 50.5px,#aadc32 52.5px,#bddf26 53.5px,#d8e219 55.5px,#e7e419 58.5px,#eae51a 62.5px,#e7e419 64.5px,#e2e418 65.5px,#d8e219 66.5px,#9bd93c 73.5px,#75d054 79.5px,#56c667 86.5px,#44bf70 92.5px,#37b878 99.5px,#29af7f 110.5px,#24aa83 124.5px,#26ad81 190.5px)"></i>
<i style="background:linear-gradient(90deg,#fff 0.8px,#46085c 0.8px,#46085c 23.5px,#471063 26.5px,#472d7b 31.5px,#3a548c 36.5px,#26828e 42.5px,#1f9e89 45.5px,#22a785 46.5px,#2cb17e 47.5px,#3bbb75 48.5px,#65cb5e 50.5px,#93d741 52.5px,#a5db36 53.5px,#c0df25 55.5px,#d5e21a 59.5px,#d2e21b 64.5px,#c5e021 66.5px,#bade28 67.5px,#84d44b 74.5px,#63cb5f 80.5px,#56c667 83.5px,#40bd72 90.5px,#2fb47c 100.5px,#26ad81 118.5px,#28ae80 163.5px,#25ac82 190.5px)"></i>
<i style="background:linear-gradient(90deg,#fff 0.8px,#46085c 0.8px,#46085c 23.5px,#471063 26.5px,#472c7a 31.5px,#3b528b 36.5px,#27808e 42.5px,#1f9a8a 45.5px,#20a386 46.5px,#34b679 48.5px,#6ece58 51.5px,#86d549 52.5px,#98d83e 53.5px,#b0dd2f 55.5px,#b8de29 56.5px,#c8e020 59.5px,#c5e021 64.5px,#84d44b 73.5px,#60ca60 80.5px,#4ac16d 87.5px,#34b679 101.5px,#2cb17e 112.5px,#27ad81 126.5px,#26ad81 165.5px,#22a785 190.5px)"></i>
<i style="background:linear-gradient(90deg,#fff 0.8px,#46085c 0.8px,#46085c 23.5px,#471063 26.5px,#472a7a 31.5px,#3c508b 36.5px,#277f8e 42.5px,#1f998a 45.5px,#1fa287 46.5px,#26ad81 47.5px,#32b67a 48.5px,#6ccd5a 51.5px,#95d840 53.5px,#addc30 55.5px,#b5de2b 56.5px,#c5e021 59.5px,#c0df25 65.5px,#84d44b 73.5px,#5ec962 81.5px,#4cc26c 87.5px,#32b67a 102.5px,#28ae80 115.5px,#22a884 132.5px,#1fa187 190.5px)"></i>
<i style="background:linear-gradient(90deg,#fff 0.8px,#46085c 0.8px,#46085c 23.5px,#470e61 26.5px,#46307e 32.5px,#3c4f8a 36.5px,#277e8e 42.5px,#1f998a 45.5px,#20a386 46.5px,#26ad81 47.5px,#34b679 48.5px,#70cf57 51.5px,#9bd93c 53.5px,#bddf26 56.5px,#cae11f 59.5px,#c8e020 65.5px,#addc30 68.5px,#8bd646 73.5px,#63cb5f 81.5px,#48c16e 89.5px,#32b67a 100.5px,#29af7f 109.5px,#24aa83 127.5px,#20a386 167.5px,#21a585 190.5px)"></i>
<i style="background:linear-gradient(90deg,#fff 0.8px,#46085c 0.8px,#46085c 23.5px,#470e61 26.5px,#482979 31.5px,#3c4f8a 36.5px,#287d8e 42.5px,#1f988b 45.5px,#1fa187 46.5px,#25ac82 47.5px,#42be71 49.5px,#84d44b 52.5px,#98d83e 53.5px,#b2dd2d 55.5px,#bade28 56.5px,#cde11d 59.5px,#cde11d 64.5px,#c5e021 66.5px,#a8db34 70.5px,#90d743 74.5px,#6ccd5a 82.5px,#54c568 89.5px,#42be71 96.5px,#31b57b 108.5px,#28ae80 124.5px,#22a884 150.5px,#22a785 174.5px,#25ac82 190.5px)"></i>
<i style="background:linear-gradient(90deg,#fff 0.8px,#46085c 0.8px,#46085c 23.5px,#470e61 26.5px,#482979 31.5px,#3d4e8a 36.5px,#287d8e 42.5px,#1fa188 46.5px,#25ab82 47.5px,#40bd72 49.5px,#81d34d 52.5px,#95d840 53.5px,#bade28 56.5px,#cae11f 59.5px,#cde11d 65.5px,#b8de29 68.5px,#98d83e 74.5px,#75d054 82.5px,#52c569 94.5px,#37b878 110.5px,#2cb17e 127.5px,#25ac82 155.5px,#29af7f 190.5px)"></i>
<i style="background:linear-gradient(90deg,#fff 0.8px,#46085c 0.8px,#46085c 23.5px,#470e61 26.5px,#482979 31.5px,#3c4f8a 36.5px,#277e8e 42.5px,#1f988b 45.5px,#1fa287 46.5px,#26ad81 47.5px,#34b679 48.5px,#44bf70 49.5px,#70cf57 51.5px,#9dd93b 53.5px,#c2df23 56.5px,#d2e21b 59.5px,#d5e21a 65.5px,#b8de29 69.5px,#84d44b 79.5px,#7cd250 81.5px,#65cb5e 88.5px,#56c667 94.5px,#46c06f 104.5px,#3bbb75 118.5px,#2eb37c 156.5px,#2eb37c 190.5px)"></i>
<i style="background:linear-gradient(90deg,#fff 0.8px,#46085c 0.8px,#46085c 23.5px,#470e61 26.5px,#482979 31.5px,#3c4f8a 36.5px,#277f8e 42.5px,#1f9a8a 45.5px,#20a486 46.5px,#28ae80 47.5px,#4ac16d 49.5px,#8ed645 52.5px,#a8db34 53.5px,#c2df23 55.5px,#d5e21a 57.5px,#dfe318 59.5px,#dfe318 65.5px,#c5e021 69.5px,#aadc32 73.5px,#84d44b 81.5px,#67cc5c 89.5px,#50c46a 100.5px,#46c06f 109.5px,#3fbc73 135.5px,#37b878 150.5px,#38b977 190.5px)"></i>
<i style="background:linear-gradient(90deg,#fff 0.8px,#46085c 0.8px,#46085c 23.5px,#470e61 26.5px,#472a7a 31.5px,#3b518b 36.5px,#26828e 42.5px,#1f9e89 45.5px,#22a884 46.5px,#2db27d 47.5px,#54c568 49.5px,#86d549 51.5px,#bade28 53.5px,#d5e21a 55.5px,#e2e418 56.5px,#f4e61e 59.5px,#f6e620 65.5px,#e5e419 68.5px,#d2e21b 71.5px,#addc30 78.5px,#98d83e 83.5px,#73d056 94.5px,#5ac864 106.5px,#52c569 114.5px,#3fbc73 151.5px,#3dbc74 169.5px,#40bd72 190.5px)"></i>
<i style="background:linear-gradient(90deg,#fff 0.8px,#46085c 0.8px,#46085c 24.5px,#470e61 26.5px,#472a7a 31.5px,#3b528b 36.5px,#25858e 42.5px,#1fa287 45.5px,#27ad81 46.5px,#35b779 47.5px,#4ac16d 48.5px,#7fd34e 50.5px,#d0e11c 53.5px,#dfe318 54.5px,#f8e621 56.5px,#fde725 57.5px,#fde725 67.5px,#fbe723 68.5px,#e7e419 71.5px,#d8e219 74.5px,#b5de2b 80.5px,#89d548 90.5px,#70cf57 97.5px,#5cc863 107.5px,#56c667 116.5px,#56c667 134.5px,#40bd72 172.5px,#3fbc73 190.5px)"></i>
<i style="background:linear-gradient(90deg,#fff 0.8px,#46085c 0.8px,#46085c 24.5px,#470e61 26.5px,#482979 31.5px,#443983 33.5px,#3b528b 36.5px,#24868e 42.5px,#1f998a 44.5px,#20a386 45.5px,#28ae80 46.5px,#37b878 47.5px,#4cc26c 48.5px,#81d34d 50.5px,#d5e21a 53.5px,#e5e419 54.5px,#fde725 56.5px,#fde725 67.5px,#f6e620 69.5px,#eae51a 71.5px,#d8e219 74.5px,#b0dd2f 81.5px,#a2da37 84.5px,#77d153 96.5px,#67cc5c 104.5px,#5cc863 113.5px,#54c568 135.5px,#40bd72 159.5px,#3dbc74 169.5px,#40bd72 190.5px)"></i>
<i style="background:linear-gradient(90deg,#fff 0.8px,#46085c 0.8px,#46085c 24.5px,#470e61 26.5px,#482979 31.5px,#3c508b 36.5px,#25848e 42.5px,#1fa187 45.5px,#26ad81 46.5px,#35b779 47.5px,#4ac16d 48.5px,#7fd34e 50.5px,#d2e21b 53.5px,#e2e418 54.5px,#fde725 56.5px,#fde725 67.5px,#eae51a 70.5px,#d8e219 73.5px,#c2df23 76.5px,#93d741 85.5px,#73d056 95.5px,#67cc5c 101.5px,#5cc863 111.5px,#56c667 123.5px,#35b779 160.5px,#34b679 173.5px,#3bbb75 190.5px)"></i>
<i style="background:linear-gradient(90deg,#fff 0.8px,#46085c 0.8px,#46085c 24.5px,#470d60 26.5px,#472e7c 32.5px,#3d4e8a 36.5px,#2a788e 41.5px,#1f9e89 45.5px,#22a884 46.5px,#3fbc73 48.5px,#70cf57 50.5px,#c0df25 53.5px,#d2e21b 54.5px,#dfe318 55.5px,#ece51b 56.5px,#fde725 59.5px,#fde725 65.5px,#f8e621 66.5px,#e7e419 68.5px,#dae319 70.5px,#b0dd2f 76.5px,#81d34d 85.5px,#60ca60 98.5px,#58c765 112.5px,#58c765 122.5px,#2fb47c 159.5px,#2cb17e 172.5px,#32b67a 190.5px)"></i>
<i style="background:linear-gradient(90deg,#fff 0.8px,#46085c 0.8px,#46085c 24.5px,#471063 27.5px,#472c7a 32.5px,#3a538b 37.5px,#25838e 43.5px,#1fa088 46.5px,#24aa83 47.5px,#2fb47c 48.5px,#40bd72 49.5px,#6ece58 51.5px,#a0da39 53.5px,#b2dd2d 54.5px,#c0df25 55.5px,#d8e219 57.5px,#e5e419 60.5px,#e5e419 65.5px,#d2e21b 68.5px,#bddf26 71.5px,#93d741 79.5px,#7cd250 85.5px,#60ca60 97.5px,#52c569 109.5px,#32b67a 152.5px,#2ab07f 190.5px)"></i>
<i style="background:linear-gradient(90deg,#fff 0.8px,#46085c 0.8px,#46085c 24.5px,#470e61 27.5px,#482979 32.5px,#3d4e8a 37.5px,#287c8e 43.5px,#1fa088 47.5px,#23a983 48.5px,#2eb37c 49.5px,#50c46a 51.5px,#8ed645 54.5px,#b0dd2f 57.5px,#c0df25 60.5px,#bddf26 65.5px,#b5de2b 67.5px,#a0da39 70.5px,#7cd250 77.5px,#65cb5e 83.5px,#46c06f 96.5px,#37b878 108.5px,#32b67a 119.5px,#2db27d 172.5px,#25ac82 190.5px)"></i>
<i style="background:linear-gradient(90deg,#fff 0.8px,#46085c 0.8px,#46085c 24.5px,#470e61 27.5px,#472d7b 33.5px,#3b528b 38.5px,#287d8e 44.5px,#1fa088 48.5px,#23a983 49.5px,#2db27d 50.5px,#6ece58 54.5px,#86d549 56.5px,#9dd93b 60.5px,#9dd93b 66.5px,#81d34d 71.5px,#67cc5c 77.5px,#42be71 89.5px,#34b679 96.5px,#29af7f 105.5px,#25ab82 121.5px,#24aa83 190.5px)"></i>
<i style="background:linear-gradient(90deg,#fff 0.8px,#46085c 0.8px,#46085c 25.5px,#470d60 27.5px,#472c7a 33.5px,#3c4f8a 38.5px,#297a8e 44.5px,#1e9c89 48.5px,#27ad81 50.5px,#40bd72 52.5px,#63cb5f 54.5px,#7fd34e 57.5px,#8ed645 60.5px,#8ed645 66.5px,#65cb5e 75.5px,#52c569 81.5px,#3dbc74 90.5px,#28ae80 106.5px,#22a884 130.5px,#22a884 190.5px)"></i>
<i style="background:linear-gradient(90deg,#fff 0.8px,#46085c 0.8px,#46085c 25.5px,#470d60 27.5px,#472a7a 33.5px,#3d4d8a 38.5px,#27808e 45.5px,#1f9a8a 48.5px,#1fa287 49.5px,#2fb47c 51.5px,#4cc26c 53.5px,#5ec962 54.5px,#7cd250 57.5px,#89d548 60.5px,#89d548 66.5px,#60ca60 74.5px,#4cc26c 80.5px,#3dbc74 86.5px,#2ab07f 99.5px,#25ab82 109.5px,#23a983 133.5px,#1fa088 157.5px,#1fa088 190.5px)"></i>
<i style="background:linear-gradient(90deg,#fff 0.8px,#46085c 0.8px,#46085c 25.5px,#471063 28.5px,#472f7d 34.5px,#3e4c8a 38.5px,#287c8e 45.5px,#1e9d89 49.5px,#28ae80 51.5px,#50c46a 54.5px,#6ece58 57.5px,#7cd250 60.5px,#7cd250 66.5px,#52c569 75.5px,#38b977 83.5px,#2eb37c 88.5px,#24aa83 98.5px,#21a685 135.5px,#1e9b8a 162.5px,#1f9a8a 190.5px)"></i>
<i style="background:linear-gradient(90deg,#fff 0.8px,#46085c 0.8px,#46085c 25.5px,#471063 28.5px,#472e7c 34.5px,#3b518b 39.5px,#277f8e 46.5px,#1fa188 50.5px,#2cb17e 52.5px,#52c569 55.5px,#6ccd5a 58.5px,#7ad151 61.5px,#7fd34e 66.5px,#48c16e 81.5px,#32b67a 91.5px,#29af7f 98.5px,#23a983 113.5px,#21a585 135.5px,#1e9c89 159.5px,#1e9c89 190.5px)"></i>
<i style="background:linear-gradient(90deg,#fff 0.8px,#46085c 0.8px,#46085c 25.5px,#470e61 28.5px,#472e7c 34.5px,#3e4a89 38.5px,#287c8e 45.5px,#1e9d89 49.5px,#21a685 50.5px,#34b679 52.5px,#63cb5f 55.5px,#7fd34e 58.5px,#8ed645 61.5px,#90d743 67.5px,#6ece58 74.5px,#50c46a 83.5px,#3fbc73 91.5px,#31b57b 101.5px,#26ad81 121.5px,#1f9f88 170.5px,#1fa287 190.5px)"></i>
<i style="background:linear-gradient(90deg,#fff 0.8px,#46085c 0.8px,#46085c 25.5px,#470e61 28.5px,#472e7c 34.5px,#3a538b 39.5px,#277e8e 45.5px,#1fa088 49.5px,#23a983 50.5px,#2db27d 51.5px,#3aba76 52.5px,#6ccd5a 55.5px,#81d34d 57.5px,#98d83e 61.5px,#9bd93c 66.5px,#98d83e 67.5px,#7cd250 72.5px,#67cc5c 77.5px,#4ac16d 87.5px,#3dbc74 94.5px,#32b67a 104.5px,#28ae80 128.5px,#22a884 167.5px,#23a983 190.5px)"></i>
<i style="background:linear-gradient(90deg,#fff 0.8px,#46085c 0.8px,#46085c 25.5px,#470e61 28.5px,#482677 33.5px,#3e4a89 38.5px,#277e8e 45.5px,#1fa088 49.5px,#23a983 50.5px,#2db27d 51.5px,#4cc26c 53.5px,#70cf57 55.5px,#89d548 57.5px,#93d741 58.5px,#a2da37 61.5px,#a5db36 67.5px,#9dd93b 68.5px,#75d054 76.5px,#54c568 86.5px,#44bf70 94.5px,#37b878 105.5px,#2cb17e 122.5px,#25ab82 156.5px,#23a983 173.5px,#26ad81 190.5px)"></i>
<i style="background:linear-gradient(90deg,#fff 0.8px,#46085c 0.8px,#46085c 26.5px,#470d60 28.5px,#472d7b 34.5px,#3b518b 39.5px,#287d8e 45.5px,#1fa088 49.5px,#23a983 50.5px,#2db27d 51.5px,#4cc26c 53.5px,#73d056 55.5px,#93d741 58.5px,#a2da37 61.5px,#a2da37 67.5px,#73d056 76.5px,#54c568 85.5px,#38b977 100.5px,#2fb47c 108.5px,#27ad81 124.5px,#22a884 170.5px,#27ad81 190.5px)"></i>
<i style="background:linear-gradient(90deg,#fff 0.8px,#46085c 0.8px,#46085c 26.5px,#470d60 28.5px,#472d7b 34.5px,#3b518b 39.5px,#287d8e 45.5px,#1fa088 49.5px,#23a983 50.5px,#2db27d 51.5px,#4cc26c 53.5px,#73d056 55.5px,#95d840 58.5px,#a5db36 62.5px,#a8db34 67.5px,#8bd646 72.5px,#75d054 77.5px,#58c765 86.5px,#40bd72 96.5px,#2cb17e 111.5px,#26ad81 120.5px,#29af7f 190.5px)"></i>
<i style="background:linear-gradient(90deg,#fff 0.8px,#46085c 0.8px,#46085c 26.5px,#470d60 28.5px,#472c7a 34.5px,#3b518b 39.5px,#287d8e 45.5px,#1fa088 49.5px,#23a983 50.5px,#2db27d 51.5px,#4cc26c 53.5px,#73d056 55.5px,#8bd646 57.5px,#95d840 58.5px,#a5db36 61.5px,#a8db34 67.5px,#7fd34e 75.5px,#58c765 86.5px,#48c16e 92.5px,#34b679 105.5px,#2fb47c 111.5px,#2fb47c 125.5px,#35b779 148.5px,#2ab07f 173.5px,#28ae80 190.5px)"></i>
<i style="background:linear-gradient(90deg,#fff 0.8px,#46085c 0.8px,#460a5d 27.5px,#471063 29.5px,#482576 33.5px,#423f85 37.5px,#3c508b 39.5px,#287c8e 45.5px,#1f9f88 49.5px,#22a785 50.5px,#2cb17e 51.5px,#5ac864 54.5px,#6ece58 55.5px,#89d548 57.5px,#93d741 58.5px,#a2da37 61.5px,#a5db36 67.5px,#81d34d 74.5px,#6ece58 79.5px,#58c765 87.5px,#46c06f 98.5px,#3dbc74 111.5px,#3dbc74 139.5px,#28ae80 172.5px,#25ab82 190.5px)"></i>
<i style="background:linear-gradient(90deg,#fff 0.8px,#46085c 0.8px,#46085c 26.5px,#471063 29.5px,#472a7a 34.5px,#3c4f8a 39.5px,#287d8e 45.5px,#1fa188 49.5px,#24aa83 50.5px,#2eb37c 51.5px,#7ad151 55.5px,#8bd646 56.5px,#aadc32 59.5px,#b8de29 62.5px,#b8de29 66.5px,#b2dd2d 68.5px,#8bd646 75.5px,#73d056 81.5px,#54c568 94.5px,#4cc26c 100.5px,#40bd72 117.5px,#3dbc74 146.5px,#2ab07f 173.5px,#29af7f 190.5px)"></i>
<i style="background:linear-gradient(90deg,#fff 0.8px,#46085c 0.8px,#46085c 26.5px,#471063 29.5px,#472a7a 34.5px,#3c508b 39.5px,#277e8e 45.5px,#1f988b 48.5px,#1fa287 49.5px,#25ac82 50.5px,#32b67a 51.5px,#58c765 53.5px,#95d840 56.5px,#addc30 58.5px,#bddf26 60.5px,#c5e021 62.5px,#c5e021 67.5px,#98d83e 76.5px,#7cd250 83.5px,#63cb5f 92.5px,#4ec36b 104.5px,#4ac16d 108.5px,#4ec36b 138.5px,#35b779 168.5px,#2fb47c 190.5px)"></i>
<i style="background:linear-gradient(90deg,#fff 0.8px,#46085c 0.8px,#46085c 26.5px,#470e61 29.5px,#472a7a 34.5px,#3c508b 39.5px,#277f8e 45.5px,#1f9a8a 48.5px,#20a386 49.5px,#34b679 51.5px,#6ece58 54.5px,#86d549 55.5px,#98d83e 56.5px,#b2dd2d 58.5px,#bade28 59.5px,#cae11f 62.5px,#cde11d 67.5px,#a8db34 76.5px,#95d840 83.5px,#7cd250 93.5px,#60ca60 109.5px,#5ec962 125.5px,#63cb5f 135.5px,#5cc863 145.5px,#4ac16d 158.5px,#3bbb75 173.5px,#37b878 190.5px)"></i>
<i style="background:linear-gradient(90deg,#fff 0.8px,#46085c 0.8px,#46085c 26.5px,#470e61 29.5px,#472a7a 34.5px,#3c508b 39.5px,#27808e 45.5px,#1e9b8a 48.5px,#20a486 49.5px,#28ae80 50.5px,#37b878 51.5px,#5ec962 53.5px,#a2da37 56.5px,#bddf26 58.5px,#c5e021 59.5px,#d5e21a 62.5px,#d8e219 67.5px,#cde11d 70.5px,#bddf26 73.5px,#a0da39 82.5px,#89d548 91.5px,#69cd5b 109.5px,#67cc5c 123.5px,#70cf57 132.5px,#70cf57 140.5px,#69cd5b 148.5px,#58c765 158.5px,#48c16e 172.5px,#48c16e 190.5px)"></i>
<i style="background:linear-gradient(90deg,#fff 0.8px,#46085c 0.8px,#46085c 26.5px,#470e61 29.5px,#482979 34.5px,#3c4f8a 39.5px,#277e8e 45.5px,#1fa187 49.5px,#25ab82 50.5px,#31b57b 51.5px,#69cd5b 54.5px,#98d83e 56.5px,#bade28 59.5px,#cde11d 62.5px,#d0e11c 68.5px,#aadc32 78.5px,#84d44b 93.5px,#75d054 101.5px,#6ccd5a 109.5px,#6ece58 121.5px,#77d153 128.5px,#7cd250 137.5px,#77d153 146.5px,#5ec962 161.5px,#54c568 171.5px,#54c568 183.5px,#5ac864 190.5px)"></i>
<i style="background:linear-gradient(90deg,#fff 0.8px,#46085c 0.8px,#46085c 26.5px,#460b5e 28.5px,#482374 33.5px,#453781 36.5px,#3d4e8a 39.5px,#287c8e 45.5px,#1f9e89 49.5px,#22a884 50.5px,#2cb17e 51.5px,#3bbb75 52.5px,#63cb5f 54.5px,#90d743 56.5px,#b5de2b 59.5px,#c8e020 62.5px,#d0e11c 65.5px,#d2e21b 68.5px,#addc30 81.5px,#98d83e 90.5px,#89d548 98.5px,#7fd34e 106.5px,#7fd34e 117.5px,#89d548 127.5px,#8bd646 137.5px,#7fd34e 149.5px,#73d056 155.5px,#5cc863 171.5px,#56c667 181.5px,#5ac864 190.5px)"></i>
<i style="background:linear-gradient(90deg,#fff 0.8px,#46085c 0.8px,#46085c 27.5px,#471365 30.5px,#482878 34.5px,#3d4e8a 39.5px,#287c8e 45.5px,#1f9f88 49.5px,#22a884 50.5px,#3bbb75 52.5px,#63cb5f 54.5px,#90d743 56.5px,#b5de2b 59.5px,#c8e020 62.5px,#cde11d 68.5px,#a5db36 82.5px,#90d743 92.5px,#84d44b 101.5px,#81d34d 114.5px,#8bd646 125.5px,#8bd646 136.5px,#6ece58 161.5px,#60ca60 184.5px,#60ca60 190.5px)"></i>
<i style="background:linear-gradient(90deg,#fff 0.8px,#46085c 0.8px,#46085c 27.5px,#471365 30.5px,#482878 34.5px,#414487 38.5px,#3d4e8a 39.5px,#287d8e 45.5px,#1fa188 49.5px,#25ab82 50.5px,#2fb47c 51.5px,#69cd5b 54.5px,#98d83e 56.5px,#bddf26 59.5px,#d0e11c 63.5px,#d0e11c 68.5px,#b2dd2d 75.5px,#98d83e 85.5px,#8ed645 91.5px,#86d549 99.5px,#86d549 107.5px,#9dd93b 128.5px,#9dd93b 135.5px,#7ad151 160.5px,#6ccd5a 190.5px)"></i>
<i style="background:linear-gradient(90deg,#fff 0.8px,#46085c 0.8px,#46085c 27.5px,#470d60 29.5px,#472e7c 35.5px,#3d4d8a 39.5px,#287c8e 45.5px,#1fa088 49.5px,#24aa83 50.5px,#3fbc73 52.5px,#69cd5b 54.5px,#95d840 56.5px,#b2dd2d 58.5px,#bddf26 59.5px,#d0e11c 63.5px,#cde11d 68.5px,#aadc32 76.5px,#9dd93b 80.5px,#8bd646 87.5px,#7fd34e 96.5px,#81d34d 106.5px,#8bd646 113.5px,#aadc32 127.5px,#b0dd2f 131.5px,#b0dd2f 137.5px,#a8db34 143.5px,#81d34d 159.5px,#7ad151 164.5px,#75d054 171.5px,#75d054 190.5px)"></i>
<i style="background:linear-gradient(90deg,#fff 0.8px,#46085c 0.8px,#46085c 27.5px,#470d60 29.5px,#472e7c 35.5px,#39558c 40.5px,#25858e 46.5px,#1fa187 49.5px,#25ab82 50.5px,#31b57b 51.5px,#58c765 53.5px,#9dd93b 56.5px,#b0dd2f 57.5px,#c8e020 59.5px,#d5e21a 61.5px,#dae319 63.5px,#d8e219 68.5px,#b8de29 75.5px,#9dd93b 82.5px,#8bd646 89.5px,#7fd34e 97.5px,#7fd34e 104.5px,#86d549 111.5px,#addc30 127.5px,#b5de2b 133.5px,#b5de2b 136.5px,#a8db34 145.5px,#90d743 153.5px,#7cd250 162.5px,#70cf57 176.5px,#70cf57 190.5px)"></i>
<i style="background:linear-gradient(90deg,#fff 0.8px,#46085c 0.8px,#46085c 27.5px,#471063 30.5px,#472d7b 35.5px,#3a538b 40.5px,#25838e 46.5px,#1fa088 49.5px,#24aa83 50.5px,#2fb47c 51.5px,#40bd72 52.5px,#6ccd5a 54.5px,#9dd93b 56.5px,#b0dd2f 57.5px,#cae11f 59.5px,#d8e219 61.5px,#dfe318 63.5px,#dfe318 68.5px,#d0e11c 72.5px,#b5de2b 78.5px,#9dd93b 85.5px,#86d549 97.5px,#84d44b 106.5px,#8bd646 115.5px,#98d83e 122.5px,#9dd93b 128.5px,#9dd93b 135.5px,#98d83e 139.5px,#69cd5b 160.5px,#63cb5f 172.5px,#67cc5c 190.5px)"></i>
<i style="background:linear-gradient(90deg,#fff 0.8px,#46085c 0.8px,#46085c 27.5px,#470e61 30.5px,#472c7a 35.5px,#424086 38.5px,#3b528b 40.5px,#26828e 46.5px,#1e9d89 49.5px,#22a785 50.5px,#2cb17e 51.5px,#3bbb75 52.5px,#7cd250 55.5px,#aadc32 57.5px,#cde11d 60.5px,#dde318 63.5px,#dae319 68.5px,#c8e020 73.5px,#b0dd2f 79.5px,#a0da39 85.5px,#93d741 90.5px,#84d44b 101.5px,#84d44b 113.5px,#90d743 127.5px,#90d743 134.5px,#67cc5c 159.5px,#67cc5c 190.5px)"></i>
<i style="background:linear-gradient(90deg,#fff 0.8px,#46085c 0.8px,#46085c 27.5px,#470e61 30.5px,#482979 35.5px,#3c4f8a 40.5px,#277f8e 46.5px,#1f998a 49.5px,#20a386 50.5px,#26ad81 51.5px,#34b679 52.5px,#6ece58 55.5px,#9dd93b 57.5px,#c0df25 60.5px,#cae11f 62.5px,#d0e11c 64.5px,#cde11d 69.5px,#b5de2b 74.5px,#a2da37 80.5px,#93d741 87.5px,#89d548 95.5px,#84d44b 103.5px,#84d44b 111.5px,#8bd646 122.5px,#8bd646 132.5px,#84d44b 139.5px,#63cb5f 158.5px,#5cc863 169.5px,#5cc863 190.5px)"></i>
<i style="background:linear-gradient(90deg,#fff 0.8px,#46085c 0.8px,#46085c 28.5px,#470d60 30.5px,#472e7c 36.5px,#3a538b 41.5px,#27808e 47.5px,#1f9a8a 50.5px,#20a386 51.5px,#26ad81 52.5px,#32b67a 53.5px,#69cd5b 56.5px,#7fd34e 57.5px,#a2da37 60.5px,#addc30 62.5px,#b2dd2d 64.5px,#b2dd2d 69.5px,#a0da39 73.5px,#81d34d 85.5px,#7cd250 91.5px,#7fd34e 110.5px,#7ad151 126.5px,#6ece58 137.5px,#58c765 149.5px,#4ac16d 160.5px,#46c06f 174.5px,#4cc26c 190.5px)"></i>
<i style="background:linear-gradient(90deg,#fff 0.8px,#46085c 0.8px,#460a5d 29.5px,#471063 31.5px,#472a7a 36.5px,#3c4f8a 41.5px,#287c8e 47.5px,#1f9f88 51.5px,#23a983 52.5px,#2db27d 53.5px,#4ec36b 55.5px,#89d548 58.5px,#a2da37 60.5px,#aadc32 61.5px,#bade28 64.5px,#bddf26 69.5px,#9dd93b 77.5px,#8ed645 82.5px,#7cd250 91.5px,#70cf57 103.5px,#65cb5e 128.5px,#56c667 140.5px,#4ac16d 146.5px,#3bbb75 160.5px,#42be71 190.5px)"></i>
<i style="background:linear-gradient(90deg,#fff 0.8px,#46085c 0.8px,#46085c 28.5px,#460b5e 30.5px,#482878 36.5px,#3d4d8a 41.5px,#29798e 47.5px,#1e9d89 51.5px,#21a685 52.5px,#2ab07f 53.5px,#3aba76 54.5px,#5ec962 56.5px,#8bd646 58.5px,#b0dd2f 61.5px,#bddf26 63.5px,#c2df23 64.5px,#c8e020 69.5px,#c2df23 71.5px,#95d840 81.5px,#7ad151 89.5px,#60ca60 99.5px,#52c569 110.5px,#4ac16d 134.5px,#35b779 158.5px,#37b878 170.5px,#40bd72 183.5px,#40bd72 190.5px)"></i>
<i style="background:linear-gradient(90deg,#fff 0.8px,#46085c 0.8px,#46085c 29.5px,#470d60 31.5px,#472d7b 37.5px,#424086 40.5px,#3b528b 42.5px,#277f8e 48.5px,#1f998a 51.5px,#20a386 52.5px,#26ad81 53.5px,#34b679 54.5px,#56c667 56.5px,#6ccd5a 57.5px,#81d34d 58.5px,#a5db36 61.5px,#b8de29 65.5px,#bade28 70.5px,#93d741 78.5px,#65cb5e 92.5px,#44bf70 108.5px,#3bbb75 117.5px,#2fb47c 167.5px,#3aba76 190.5px)"></i>
<i style="background:linear-gradient(90deg,#fff 0.8px,#46085c 0.8px,#460a5d 30.5px,#471063 32.5px,#482475 36.5px,#433e85 40.5px,#3c4f8a 42.5px,#297b8e 48.5px,#1f9e89 52.5px,#22a785 53.5px,#2ab07f 54.5px,#5ac864 57.5px,#6ece58 58.5px,#93d741 61.5px,#a5db36 64.5px,#aadc32 70.5px,#86d549 78.5px,#63cb5f 89.5px,#46c06f 103.5px,#38b977 112.5px,#31b57b 122.5px,#2fb47c 149.5px,#29af7f 168.5px,#2fb47c 190.5px)"></i>
<i style="background:linear-gradient(90deg,#fff 0.8px,#46085c 0.8px,#46085c 29.5px,#460b5e 31.5px,#472e7c 38.5px,#3a538b 43.5px,#25858e 50.5px,#1fa187 53.5px,#24aa83 54.5px,#2eb37c 55.5px,#6ece58 59.5px,#84d44b 61.5px,#9bd93c 65.5px,#9dd93b 70.5px,#9bd93c 71.5px,#86d549 75.5px,#6ece58 81.5px,#54c568 90.5px,#40bd72 100.5px,#37b878 109.5px,#31b57b 121.5px,#2fb47c 148.5px,#29af7f 168.5px,#2cb17e 190.5px)"></i>
<i style="background:linear-gradient(90deg,#fff 0.8px,#46085c 0.8px,#46085c 29.5px,#470d60 32.5px,#472c7a 38.5px,#3c4f8a 43.5px,#26818e 50.5px,#1e9b8a 53.5px,#20a386 54.5px,#31b57b 56.5px,#5ec962 59.5px,#75d054 61.5px,#8bd646 65.5px,#8ed645 71.5px,#73d056 77.5px,#54c568 87.5px,#40bd72 97.5px,#34b679 109.5px,#2eb37c 120.5px,#2fb47c 149.5px,#29af7f 190.5px)"></i>
<i style="background:linear-gradient(90deg,#fff 0.8px,#46085c 0.8px,#46085c 30.5px,#470d60 32.5px,#472a7a 38.5px,#3e4c8a 43.5px,#287d8e 50.5px,#1f9f88 54.5px,#2ab07f 56.5px,#56c667 59.5px,#73d056 62.5px,#81d34d 65.5px,#86d549 71.5px,#6ece58 77.5px,#5ac864 84.5px,#4ac16d 92.5px,#34b679 110.5px,#2cb17e 123.5px,#26ad81 190.5px)"></i>
<i style="background:linear-gradient(90deg,#fff 0.8px,#46085c 0.8px,#46085c 30.5px,#471063 33.5px,#472e7c 39.5px,#3b528b 44.5px,#287c8e 50.5px,#1f9e89 54.5px,#21a685 55.5px,#29af7f 56.5px,#34b679 57.5px,#52c569 59.5px,#73d056 62.5px,#7fd34e 65.5px,#81d34d 71.5px,#5ec962 80.5px,#48c16e 90.5px,#2eb37c 115.5px,#26ad81 136.5px,#22a785 190.5px)"></i>
<i style="background:linear-gradient(90deg,#fff 0.8px,#46085c 0.8px,#46085c 30.5px,#470e61 33.5px,#472e7c 39.5px,#3b518b 44.5px,#287c8e 50.5px,#1f9e89 54.5px,#21a685 55.5px,#29af7f 56.5px,#42be71 58.5px,#63cb5f 60.5px,#75d054 62.5px,#86d549 66.5px,#7fd34e 72.5px,#65cb5e 78.5px,#58c765 82.5px,#44bf70 92.5px,#2db27d 115.5px,#25ab82 133.5px,#23a983 190.5px)"></i>
<i style="background:linear-gradient(90deg,#fff 0.8px,#46085c 0.8px,#46085c 30.5px,#470d60 33.5px,#472d7b 39.5px,#3b518b 44.5px,#287c8e 50.5px,#1f9f88 54.5px,#22a884 55.5px,#2cb17e 56.5px,#48c16e 58.5px,#6ece58 60.5px,#8bd646 63.5px,#90d743 64.5px,#98d83e 66.5px,#98d83e 72.5px,#77d153 79.5px,#5ec962 88.5px,#4ac16d 99.5px,#32b67a 119.5px,#24aa83 146.5px,#27ad81 176.5px,#23a983 190.5px)"></i>
<i style="background:linear-gradient(90deg,#fff 0.8px,#46085c 0.8px,#46085c 31.5px,#470d60 33.5px,#472c7a 39.5px,#433e85 42.5px,#3c4f8a 44.5px,#297a8e 50.5px,#1e9b8a 54.5px,#20a486 55.5px,#27ad81 56.5px,#42be71 58.5px,#65cb5e 60.5px,#86d549 63.5px,#95d840 66.5px,#95d840 72.5px,#7fd34e 77.5px,#60ca60 86.5px,#54c568 92.5px,#46c06f 103.5px,#38b977 134.5px,#29af7f 156.5px,#23a983 190.5px)"></i>
<i style="background:linear-gradient(90deg,#fff 0.8px,#46085c 0.8px,#46085c 31.5px,#471063 34.5px,#46307e 40.5px,#3d4e8a 44.5px,#27808e 51.5px,#1f9a8a 54.5px,#1fa287 55.5px,#25ac82 56.5px,#31b57b 57.5px,#4ec36b 59.5px,#60ca60 60.5px,#6ece58 61.5px,#89d548 64.5px,#93d741 67.5px,#90d743 71.5px,#8bd646 73.5px,#77d153 77.5px,#60ca60 83.5px,#54c568 88.5px,#44bf70 99.5px,#40bd72 106.5px,#42be71 135.5px,#2db27d 172.5px,#2db27d 190.5px)"></i>
<i style="background:linear-gradient(90deg,#fff 0.8px,#46085c 0.8px,#46085c 31.5px,#470e61 34.5px,#472f7d 40.5px,#3a548c 45.5px,#26818e 51.5px,#1f9a8a 54.5px,#20a386 55.5px,#26ad81 56.5px,#32b67a 57.5px,#63cb5f 60.5px,#7fd34e 62.5px,#90d743 64.5px,#9bd93c 67.5px,#98d83e 72.5px,#6ece58 83.5px,#5ec962 91.5px,#56c667 100.5px,#54c568 110.5px,#3aba76 156.5px,#3bbb75 190.5px)"></i>
<i style="background:linear-gradient(90deg,#fff 0.8px,#46085c 0.8px,#46085c 32.5px,#470d60 34.5px,#472d7b 40.5px,#3e4a89 44.5px,#2a788e 50.5px,#1e9b8a 54.5px,#20a486 55.5px,#35b779 57.5px,#58c765 59.5px,#84d44b 61.5px,#a5db36 64.5px,#b8de29 68.5px,#b8de29 73.5px,#98d83e 81.5px,#81d34d 90.5px,#75d054 98.5px,#69cd5b 110.5px,#46c06f 135.5px,#3dbc74 145.5px,#3bbb75 157.5px,#44bf70 174.5px,#46c06f 190.5px)"></i>
<i style="background:linear-gradient(90deg,#fff 0.8px,#46085c 0.8px,#46085c 32.5px,#470d60 34.5px,#472c7a 40.5px,#3c508b 45.5px,#277e8e 51.5px,#1f988b 54.5px,#1fa187 55.5px,#25ac82 56.5px,#31b57b 57.5px,#40bd72 58.5px,#7cd250 61.5px,#98d83e 63.5px,#aadc32 65.5px,#b8de29 68.5px,#b8de29 73.5px,#98d83e 82.5px,#81d34d 91.5px,#6ccd5a 104.5px,#46c06f 135.5px,#3fbc73 144.5px,#3fbc73 157.5px,#46c06f 171.5px,#42be71 190.5px)"></i>
<i style="background:linear-gradient(90deg,#fff 0.8px,#46085c 0.8px,#460a5d 33.5px,#481467 36.5px,#482979 40.5px,#3d4e8a 45.5px,#297a8e 51.5px,#1e9d89 55.5px,#21a685 56.5px,#29af7f 57.5px,#37b878 58.5px,#6ccd5a 61.5px,#7cd250 62.5px,#93d741 64.5px,#a5db36 67.5px,#aadc32 68.5px,#aadc32 73.5px,#84d44b 85.5px,#6ccd5a 100.5px,#40bd72 143.5px,#3bbb75 158.5px,#40bd72 190.5px)"></i>
<i style="background:linear-gradient(90deg,#fff 0.8px,#46085c 0.8px,#46085c 32.5px,#460b5e 34.5px,#482878 40.5px,#3e4c8a 45.5px,#27808e 52.5px,#1f9a8a 55.5px,#20a386 56.5px,#26ad81 57.5px,#42be71 59.5px,#7cd250 62.5px,#89d548 63.5px,#9dd93b 65.5px,#a8db34 67.5px,#addc30 68.5px,#b0dd2f 74.5px,#98d83e 79.5px,#77d153 90.5px,#5ec962 105.5px,#50c46a 119.5px,#32b67a 159.5px,#31b57b 174.5px,#37b878 190.5px)"></i>
<i style="background:linear-gradient(90deg,#fff 0.8px,#46085c 0.8px,#46085c 33.5px,#470d60 35.5px,#472d7b 41.5px,#3b518b 46.5px,#287d8e 52.5px,#1fa187 56.5px,#25ab82 57.5px,#31b57b 58.5px,#52c569 60.5px,#7cd250 62.5px,#a2da37 65.5px,#b5de2b 68.5px,#bade28 74.5px,#98d83e 82.5px,#7ad151 91.5px,#63cb5f 101.5px,#58c765 108.5px,#4ac16d 133.5px,#32b67a 160.5px,#2eb37c 170.5px,#31b57b 190.5px)"></i>
<i style="background:linear-gradient(90deg,#fff 0.8px,#46085c 0.8px,#460a5d 34.5px,#471063 36.5px,#482475 40.5px,#453781 43.5px,#3d4e8a 46.5px,#29798e 52.5px,#1e9c89 56.5px,#21a585 57.5px,#28ae80 58.5px,#35b779 59.5px,#56c667 61.5px,#6ccd5a 62.5px,#90d743 65.5px,#a2da37 68.5px,#a8db34 71.5px,#a8db34 74.5px,#89d548 81.5px,#67cc5c 91.5px,#54c568 100.5px,#48c16e 110.5px,#32b67a 169.5px,#37b878 190.5px)"></i>
<i style="background:linear-gradient(90deg,#fff 0.8px,#46085c 0.8px,#46085c 33.5px,#460b5e 35.5px,#482677 41.5px,#463480 43.5px,#3b518b 47.5px,#287d8e 53.5px,#1f9f88 57.5px,#22a884 58.5px,#2cb17e 59.5px,#4ac16d 61.5px,#6ccd5a 63.5px,#77d153 64.5px,#89d548 66.5px,#98d83e 69.5px,#93d741 75.5px,#6ece58 83.5px,#56c667 91.5px,#48c16e 98.5px,#3fbc73 108.5px,#32b67a 167.5px,#37b878 190.5px)"></i>
<i style="background:linear-gradient(90deg,#fff 0.8px,#46085c 0.8px,#46085c 34.5px,#471063 37.5px,#46307e 43.5px,#3d4e8a 47.5px,#27808e 54.5px,#1f9a8a 57.5px,#1fa287 58.5px,#25ac82 59.5px,#3dbc74 61.5px,#5ec962 63.5px,#7cd250 66.5px,#86d549 68.5px,#8bd646 70.5px,#89d548 75.5px,#65cb5e 84.5px,#54c568 92.5px,#46c06f 104.5px,#3bbb75 118.5px,#37b878 131.5px,#34b679 168.5px,#38b977 190.5px)"></i>
<i style="background:linear-gradient(90deg,#fff 0.8px,#46085c 0.8px,#46085c 34.5px,#460b5e 36.5px,#482677 42.5px,#424086 46.5px,#3b518b 48.5px,#26828e 55.5px,#20928c 57.5px,#20a386 59.5px,#2fb47c 61.5px,#4cc26c 63.5px,#6ccd5a 66.5px,#7ad151 69.5px,#7cd250 76.5px,#6ece58 80.5px,#5ac864 90.5px,#3bbb75 124.5px,#35b779 152.5px,#37b878 190.5px)"></i>
<i style="background:linear-gradient(90deg,#fff 0.8px,#46085c 0.8px,#46085c 35.5px,#470d60 37.5px,#472a7a 43.5px,#3d4d8a 48.5px,#287d8e 55.5px,#1f9f88 59.5px,#22a785 60.5px,#2ab07f 61.5px,#35b779 62.5px,#54c568 64.5px,#70cf57 67.5px,#7fd34e 70.5px,#81d34d 76.5px,#6ece58 82.5px,#58c765 92.5px,#44bf70 108.5px,#31b57b 159.5px,#31b57b 190.5px)"></i>
<i style="background:linear-gradient(90deg,#fff 0.8px,#46085c 0.8px,#46085c 35.5px,#460b5e 37.5px,#482677 43.5px,#443983 46.5px,#3c508b 49.5px,#297a8e 55.5px,#1e9c89 59.5px,#27ad81 61.5px,#4ec36b 64.5px,#6ccd5a 67.5px,#7ad151 70.5px,#7ad151 76.5px,#60ca60 83.5px,#50c46a 89.5px,#3fbc73 99.5px,#38b977 107.5px,#28ae80 190.5px)"></i>
<i style="background:linear-gradient(90deg,#fff 0.8px,#46085c 0.8px,#46085c 36.5px,#470d60 38.5px,#472a7a 44.5px,#3d4d8a 49.5px,#277e8e 56.5px,#1fa188 60.5px,#2cb17e 62.5px,#52c569 65.5px,#6ccd5a 68.5px,#73d056 70.5px,#75d054 77.5px,#5cc863 84.5px,#48c16e 94.5px,#37b878 110.5px,#2eb37c 147.5px,#25ab82 173.5px,#23a983 190.5px)"></i>
<i style="background:linear-gradient(90deg,#fff 0.8px,#46085c 0.8px,#460a5d 37.5px,#482173 43.5px,#443983 47.5px,#3c508b 50.5px,#27808e 57.5px,#1fa187 61.5px,#2cb17e 63.5px,#44bf70 65.5px,#60ca60 68.5px,#69cd5b 70.5px,#73d056 77.5px,#50c46a 92.5px,#3bbb75 106.5px,#32b67a 117.5px,#2cb17e 148.5px,#22a884 171.5px,#22a785 190.5px)"></i>
<i style="background:linear-gradient(90deg,#fff 0.8px,#46085c 0.8px,#46085c 36.5px,#470d60 39.5px,#472a7a 45.5px,#3e4c8a 50.5px,#297b8e 57.5px,#1e9c89 61.5px,#26ad81 63.5px,#48c16e 66.5px,#5ec962 69.5px,#6ccd5a 72.5px,#6ece58 78.5px,#60ca60 82.5px,#44bf70 96.5px,#32b67a 112.5px,#23a983 159.5px,#21a685 190.5px)"></i>
<i style="background:linear-gradient(90deg,#fff 0.8px,#46085c 0.8px,#460a5d 38.5px,#482173 44.5px,#443983 48.5px,#3c4f8a 51.5px,#277e8e 58.5px,#1fa088 62.5px,#29af7f 64.5px,#42be71 66.5px,#5ec962 69.5px,#6ccd5a 72.5px,#6ece58 78.5px,#42be71 93.5px,#35b779 101.5px,#2db27d 110.5px,#20a486 158.5px,#21a685 190.5px)"></i>
<i style="background:linear-gradient(90deg,#fff 0.8px,#46085c 0.8px,#46085c 37.5px,#470d60 40.5px,#472a7a 46.5px,#3e4c8a 51.5px,#287c8e 58.5px,#1f9e89 62.5px,#28ae80 64.5px,#4cc26c 67.5px,#65cb5e 70.5px,#6ece58 72.5px,#70cf57 79.5px,#46c06f 93.5px,#37b878 102.5px,#2eb37c 110.5px,#20a486 156.5px,#22a884 190.5px)"></i>
<i style="background:linear-gradient(90deg,#fff 0.8px,#46085c 0.8px,#46085c 38.5px,#470d60 40.5px,#482173 45.5px,#443983 49.5px,#3c508b 52.5px,#26818e 59.5px,#20928c 61.5px,#1fa287 63.5px,#2db27d 65.5px,#46c06f 67.5px,#5ec962 70.5px,#69cd5b 73.5px,#67cc5c 79.5px,#42be71 91.5px,#35b779 98.5px,#2cb17e 107.5px,#25ac82 121.5px,#22a785 148.5px,#22a884 190.5px)"></i>
<i style="background:linear-gradient(90deg,#fff 0.8px,#46085c 0.8px,#46085c 38.5px,#460b5e 40.5px,#472a7a 47.5px,#3e4c8a 52.5px,#2c728e 58.5px,#1f998a 63.5px,#23a983 65.5px,#3dbc74 68.5px,#52c569 71.5px,#58c765 73.5px,#58c765 80.5px,#44bf70 86.5px,#37b878 92.5px,#26ad81 107.5px,#23a983 120.5px,#25ab82 154.5px,#21a585 190.5px)"></i>
<i style="background:linear-gradient(90deg,#fff 0.8px,#46085c 0.8px,#46085c 39.5px,#470d60 41.5px,#482173 46.5px,#443983 50.5px,#3d4e8a 53.5px,#297b8e 60.5px,#1f9a8a 64.5px,#23a983 66.5px,#34b679 68.5px,#46c06f 71.5px,#4ec36b 73.5px,#54c568 80.5px,#42be71 87.5px,#35b779 95.5px,#29af7f 109.5px,#2ab07f 146.5px,#22a884 168.5px,#20a386 190.5px)"></i>
<i style="background:linear-gradient(90deg,#fff 0.8px,#46085c 0.8px,#46085c 39.5px,#460b5e 41.5px,#472a7a 48.5px,#3e4a89 53.5px,#2a768e 60.5px,#1e9d89 65.5px,#25ab82 67.5px,#34b679 69.5px,#40bd72 71.5px,#50c46a 75.5px,#54c568 81.5px,#38b977 100.5px,#2db27d 115.5px,#28ae80 135.5px,#20a486 158.5px,#1f9e89 190.5px)"></i>
<i style="background:linear-gradient(90deg,#fff 0.8px,#46085c 0.8px,#46085c 39.5px,#470d60 42.5px,#482878 48.5px,#3f4788 53.5px,#29798e 61.5px,#1f9f88 66.5px,#21a585 67.5px,#2db27d 69.5px,#38b977 71.5px,#44bf70 74.5px,#48c16e 76.5px,#4ac16d 82.5px,#3dbc74 90.5px,#31b57b 102.5px,#25ab82 122.5px,#1e9b8a 190.5px)"></i>
<i style="background:linear-gradient(90deg,#fff 0.8px,#46085c 0.8px,#46085c 40.5px,#470d60 42.5px,#482071 47.5px,#46307e 50.5px,#3e4a89 54.5px,#33638d 58.5px,#25858e 63.5px,#1e9c89 66.5px,#24aa83 68.5px,#2ab07f 69.5px,#3aba76 72.5px,#42be71 75.5px,#44bf70 81.5px,#31b57b 94.5px,#26ad81 112.5px,#1fa088 190.5px)"></i>
<i style="background:linear-gradient(90deg,#fff 0.8px,#46085c 0.8px,#46085c 40.5px,#460b5e 42.5px,#481f70 47.5px,#46337f 51.5px,#3f4889 54.5px,#34608d 58.5px,#26828e 63.5px,#1f9f88 67.5px,#26ad81 69.5px,#35b779 72.5px,#3fbc73 76.5px,#40bd72 81.5px,#37b878 88.5px,#31b57b 96.5px,#24aa83 127.5px,#1fa187 157.5px,#1f9f88 190.5px)"></i>
<i style="background:linear-gradient(90deg,#fff 0.8px,#46085c 0.8px,#46085c 40.5px,#470d60 43.5px,#46327e 51.5px,#39568c 57.5px,#287d8e 63.5px,#1f988b 67.5px,#24aa83 70.5px,#34b679 76.5px,#35b779 83.5px,#2fb47c 89.5px,#28ae80 107.5px,#21a585 122.5px,#1f998a 147.5px,#1f9a8a 190.5px)"></i>
<i style="background:linear-gradient(90deg,#fff 0.8px,#46085c 0.8px,#46085c 41.5px,#482071 48.5px,#424186 54.5px,#3b528b 57.5px,#287d8e 64.5px,#1e9d89 69.5px,#22a884 72.5px,#27ad81 76.5px,#28ae80 82.5px,#20a486 102.5px,#1f988b 135.5px,#1f988b 190.5px)"></i>
<i style="background:linear-gradient(90deg,#fff 0.8px,#46085c 0.8px,#46085c 41.5px,#460b5e 43.5px,#481d6f 48.5px,#472d7b 51.5px,#3c4f8a 57.5px,#2a788e 64.5px,#1e9c89 70.5px,#22a884 76.5px,#1f9e89 115.5px,#1f9a8a 159.5px,#21918c 190.5px)"></i>
<i style="background:linear-gradient(90deg,#fff 0.8px,#46085c 0.8px,#46085c 41.5px,#470d60 44.5px,#472f7d 52.5px,#3b528b 58.5px,#277e8e 65.5px,#1e9c89 70.5px,#21a585 73.5px,#25ab82 77.5px,#1fa187 102.5px,#1f988b 130.5px,#21908d 190.5px)"></i>
<i style="background:linear-gradient(90deg,#fff 0.8px,#46085c 0.8px,#46085c 41.5px,#470d60 44.5px,#472d7b 52.5px,#423f85 55.5px,#39558c 59.5px,#287c8e 65.5px,#1e9d89 70.5px,#25ab82 74.5px,#28ae80 77.5px,#29af7f 83.5px,#1fa287 105.5px,#1f968b 138.5px,#21918c 190.5px)"></i>
<i style="background:linear-gradient(90deg,#fff 0.8px,#46085c 0.8px,#46085c 42.5px,#460b5e 44.5px,#472a7a 52.5px,#424186 56.5px,#3b518b 59.5px,#287c8e 66.5px,#1e9c89 71.5px,#21a585 74.5px,#25ab82 78.5px,#25ac82 84.5px,#1fa088 106.5px,#1f948c 136.5px,#21918c 190.5px)"></i>
<i style="background:linear-gradient(90deg,#fff 0.8px,#46085c 0.8px,#46085c 42.5px,#470d60 45.5px,#472d7b 53.5px,#414487 57.5px,#3a538b 60.5px,#2a788e 66.5px,#1f978b 71.5px,#1fa188 74.5px,#21a585 78.5px,#218f8d 143.5px,#228c8d 190.5px)"></i>
<i style="background:linear-gradient(90deg,#fff 0.8px,#46085c 0.8px,#460a5d 44.5px,#472a7a 53.5px,#424186 57.5px,#3c508b 60.5px,#2c738e 66.5px,#21918c 71.5px,#1f9a8a 74.5px,#1f9f88 78.5px,#1f988b 110.5px,#238a8d 147.5px,#228b8d 190.5px)"></i>
<i style="background:linear-gradient(90deg,#fff 0.8px,#46085c 0.8px,#460a5d 44.5px,#482576 52.5px,#424086 57.5px,#3c4f8a 60.5px,#228c8d 71.5px,#1f968b 75.5px,#1f998a 78.5px,#24878e 144.5px,#228d8d 190.5px)"></i>
<i style="background:linear-gradient(90deg,#fff 0.8px,#46085c 0.8px,#460a5d 44.5px,#482576 52.5px,#443a83 56.5px,#3c4f8a 60.5px,#2c728e 66.5px,#21908d 71.5px,#1f968b 73.5px,#1e9c89 77.5px,#21918c 100.5px,#25848e 144.5px,#25838e 159.5px,#238a8d 190.5px)"></i>
<i style="background:linear-gradient(90deg,#fff 0.8px,#46085c 0.8px,#460a5d 44.5px,#482979 53.5px,#443983 56.5px,#3a538b 61.5px,#2a778e 67.5px,#20928c 72.5px,#1e9c89 77.5px,#228d8d 122.5px,#277e8e 148.5px,#26828e 190.5px)"></i>
<i style="background:linear-gradient(90deg,#fff 0.8px,#46085c 0.8px,#46085c 42.5px,#470d60 45.5px,#482475 52.5px,#453882 56.5px,#3e4c8a 60.5px,#23898e 71.5px,#20928c 74.5px,#1f958b 78.5px,#277e8e 145.5px,#287d8e 190.5px)"></i>
<i style="background:linear-gradient(90deg,#fff 0.8px,#46085c 0.8px,#46085c 42.5px,#470d60 45.5px,#482878 53.5px,#3e4989 60.5px,#26828e 71.5px,#23898e 74.5px,#228d8d 78.5px,#27808e 109.5px,#297b8e 190.5px)"></i>
<i style="background:linear-gradient(90deg,#fff 0.8px,#46085c 0.8px,#46085c 42.5px,#470d60 45.5px,#482677 53.5px,#3f4788 60.5px,#277f8e 71.5px,#24868e 74.5px,#238a8d 78.5px,#287c8e 108.5px,#2a788e 190.5px)"></i>
<i style="background:linear-gradient(90deg,#fff 0.8px,#46085c 0.8px,#46085c 42.5px,#470d60 45.5px,#481f70 51.5px,#453581 56.5px,#404688 60.5px,#29798e 71.5px,#25838e 78.5px,#2a768e 146.5px,#2a778e 190.5px)"></i>
<i style="background:linear-gradient(90deg,#fff 0.8px,#46085c 0.8px,#46085c 42.5px,#470d60 45.5px,#481f70 51.5px,#404688 60.5px,#297a8e 71.5px,#25848e 77.5px,#27808e 109.5px,#2c718e 146.5px,#2a768e 190.5px)"></i>
<i style="background:linear-gradient(90deg,#fff 0.8px,#46085c 0.8px,#46085c 42.5px,#470d60 45.5px,#481f70 51.5px,#404688 60.5px,#287d8e 71.5px,#23888e 77.5px,#23898e 83.5px,#287d8e 102.5px,#2e6f8e 137.5px,#2c718e 190.5px)"></i>
<i style="background:linear-gradient(90deg,#fff 0.8px,#46085c 0.8px,#46085c 42.5px,#481c6e 50.5px,#453581 56.5px,#404688 60.5px,#29798e 71.5px,#26828e 77.5px,#2d708e 134.5px,#2b748e 190.5px)"></i>
<i style="background:linear-gradient(90deg,#fff 0.8px,#46085c 0.8px,#460a5d 43.5px,#482979 53.5px,#3f4788 60.5px,#2a768e 70.5px,#26818e 77.5px,#2c728e 123.5px,#2a768e 190.5px)"></i>
<i style="background:linear-gradient(90deg,#fff 0.8px,#46085c 0.8px,#460a5d 42.5px,#482374 51.5px,#463480 55.5px,#3e4989 60.5px,#2a788e 70.5px,#26828e 76.5px,#25838e 83.5px,#2d718e 130.5px,#2d708e 190.5px)"></i>
<i style="background:linear-gradient(90deg,#fff 0.8px,#46085c 0.8px,#460a5d 42.5px,#482475 51.5px,#46327e 54.5px,#404688 59.5px,#2c738e 69.5px,#287d8e 76.5px,#2d718e 118.5px,#2d718e 160.5px,#306a8e 190.5px)"></i>
<i style="background:linear-gradient(90deg,#fff 0.8px,#46085c 0.8px,#46085c 40.5px,#481f70 49.5px,#424086 57.5px,#2c728e 68.5px,#297a8e 71.5px,#277e8e 75.5px,#2f6b8e 135.5px,#31688e 190.5px)"></i>
<i style="background:linear-gradient(90deg,#fff 0.8px,#46085c 0.8px,#460a5d 41.5px,#482071 49.5px,#46327e 53.5px,#404688 58.5px,#2b758e 68.5px,#27808e 74.5px,#26818e 80.5px,#2f6c8e 124.5px,#31688e 190.5px)"></i>
<i style="background:linear-gradient(90deg,#fff 0.8px,#46085c 0.8px,#46085c 39.5px,#481b6d 47.5px,#414287 57.5px,#2d718e 67.5px,#287d8e 74.5px,#277e8e 81.5px,#31688e 130.5px,#31688e 190.5px)"></i>
<i style="background:linear-gradient(90deg,#fff 0.8px,#46085c 0.8px,#460a5d 40.5px,#482374 49.5px,#46307e 52.5px,#3f4889 58.5px,#2d708e 67.5px,#2a788e 73.5px,#32658e 154.5px,#30698e 190.5px)"></i>
<i style="background:linear-gradient(90deg,#fff 0.8px,#46085c 0.8px,#46085c 38.5px,#482173 48.5px,#404688 57.5px,#2e6d8e 66.5px,#2b758e 72.5px,#2e6f8e 96.5px,#2d718e 126.5px,#33628d 160.5px,#31678e 190.5px)"></i>
<i style="background:linear-gradient(90deg,#fff 0.8px,#46085c 0.8px,#460a5d 39.5px,#482374 48.5px,#414487 56.5px,#2e6f8e 66.5px,#2b748e 70.5px,#2b758e 78.5px,#2f6b8e 102.5px,#32648e 154.5px,#32648e 190.5px)"></i>
<i style="background:linear-gradient(90deg,#fff 0.8px,#46085c 0.8px,#46085c 37.5px,#481d6f 46.5px,#404588 56.5px,#2f6c8e 65.5px,#2c728e 68.5px,#2b758e 72.5px,#32658e 120.5px,#33628d 190.5px)"></i>
<i style="background:linear-gradient(90deg,#fff 0.8px,#46085c 0.8px,#460a5d 38.5px,#482173 47.5px,#424086 55.5px,#31688e 65.5px,#2d708e 71.5px,#31678e 98.5px,#31678e 149.5px,#365d8d 190.5px)"></i>
<i style="background:linear-gradient(90deg,#fff 0.8px,#46085c 0.8px,#46085c 36.5px,#481a6c 44.5px,#472f7d 50.5px,#414287 55.5px,#2f6b8e 65.5px,#2d718e 71.5px,#32648e 99.5px,#32648e 149.5px,#365c8d 190.5px)"></i>
<i style="background:linear-gradient(90deg,#fff 0.8px,#46085c 0.8px,#46085c 35.5px,#481b6d 44.5px,#46307e 50.5px,#3f4889 56.5px,#31678e 63.5px,#2d708e 69.5px,#34618d 113.5px,#355e8d 190.5px)"></i>
<i style="background:linear-gradient(90deg,#fff 0.8px,#46085c 0.8px,#460a5d 36.5px,#481f70 45.5px,#472a7a 48.5px,#3f4889 56.5px,#32648e 63.5px,#2f6b8e 69.5px,#375b8d 133.5px,#365c8d 190.5px)"></i>
<i style="background:linear-gradient(90deg,#fff 0.8px,#46085c 0.8px,#46085c 34.5px,#482071 45.5px,#3f4788 56.5px,#365d8d 62.5px,#32648e 68.5px,#38588c 133.5px,#375a8c 190.5px)"></i>
<i style="background:linear-gradient(90deg,#fff 0.8px,#46085c 0.8px,#460a5d 35.5px,#481b6d 43.5px,#433e85 54.5px,#39558c 61.5px,#365d8d 67.5px,#375a8c 104.5px,#3b518b 137.5px,#39558c 190.5px)"></i>
<i style="background:linear-gradient(90deg,#fff 0.8px,#46085c 0.8px,#460a5d 34.5px,#482374 45.5px,#423f85 54.5px,#3a548c 61.5px,#375b8d 67.5px,#3c4f8a 129.5px,#3b528b 190.5px)"></i>
<i style="background:linear-gradient(90deg,#fff 0.8px,#46085c 0.8px,#46085c 32.5px,#471063 37.5px,#481f70 43.5px,#404688 55.5px,#39558c 60.5px,#365c8d 65.5px,#3c4f8a 133.5px,#3c508b 190.5px)"></i>
<i style="background:linear-gradient(90deg,#fff 0.8px,#46085c 0.8px,#460a5d 33.5px,#481d6f 42.5px,#424186 53.5px,#39558c 59.5px,#365d8d 65.5px,#3c508b 130.5px,#3c4f8a 190.5px)"></i>
<i style="background:linear-gradient(90deg,#fff 0.8px,#46085c 0.8px,#460a5d 32.5px,#481f70 42.5px,#404688 54.5px,#39568c 60.5px,#375b8d 65.5px,#3e4989 141.5px,#3e4c8a 190.5px)"></i>
<i style="background:linear-gradient(90deg,#fff 0.8px,#46085c 0.8px,#46085c 30.5px,#48186a 39.5px,#472e7c 47.5px,#424186 53.5px,#3c508b 58.5px,#39558c 64.5px,#404588 143.5px,#3e4c8a 190.5px)"></i>
<i style="background:linear-gradient(90deg,#fff 0.8px,#46085c 0.8px,#460a5d 31.5px,#481769 38.5px,#472d7b 46.5px,#424086 52.5px,#3c508b 58.5px,#3a538b 62.5px,#3e4989 101.5px,#3e4a89 190.5px)"></i>
<i style="background:linear-gradient(90deg,#fff 0.8px,#46085c 0.8px,#460a5d 30.5px,#48186a 38.5px,#443b84 50.5px,#3e4c8a 55.5px,#3a548c 61.5px,#3f4788 108.5px,#3e4a89 190.5px)"></i>
<i style="background:linear-gradient(90deg,#fff 0.8px,#46085c 0.8px,#46085c 28.5px,#481769 37.5px,#472e7c 46.5px,#424186 52.5px,#3c4f8a 58.5px,#3b518b 62.5px,#3e4a89 91.5px,#3f4788 190.5px)"></i>
</div>
<div class="hm" style="left:265px;top:25px;width:191px;height:191px">
<i style="background:linear-gradient(90deg,#fff 1.9px,#472a7a 1.9px,#472a7a 190.5px)"></i>
<i style="background:linear-gradient(90deg,#fff 1.9px,#472a7a 1.9px,#472a7a 190.5px)"></i>
<i style="background:linear-gradient(90deg,#fff 1.9px,#472a7a 1.9px,#472c7a 190.5px)"></i>
<i style="background:linear-gradient(90deg,#fff 1.9px,#472e7c 1.9px,#472e7c 33.5px,#453581 52.5px,#463480 190.5px)"></i>
<i style="background:linear-gradient(90deg,#fff 1.9px,#453581 1.9px,#453781 31.5px,#3b518b 56.5px,#3c4f8a 190.5px)"></i>
<i style="background:linear-gradient(90deg,#fff 1.9px,#453882 1.9px,#443983 30.5px,#39568c 48.5px,#355f8d 57.5px,#365d8d 190.5px)"></i>
<i style="background:linear-gradient(90deg,#fff 1.9px,#482677 1.9px,#482878 31.5px,#443a83 48.5px,#423f85 56.5px,#443b84 70.5px,#443b84 190.5px)"></i>
<i style="background:linear-gradient(90deg,#fff 1.9px,#481769 1.9px,#481769 33.5px,#482071 52.5px,#481b6d 69.5px,#481b6d 190.5px)"></i>
<i style="background:linear-gradient(90deg,#fff 1.9px,#470d60 1.9px,#470d60 31.5px,#481668 50.5px,#470d60 74.5px,#470d60 190.5px)"></i>
<i style="background:linear-gradient(90deg,#fff 1.9px,#46085c 1.9px,#46085c 32.5px,#471365 49.5px,#471365 55.5px,#46085c 72.5px,#46085c 190.5px)"></i>
<i style="background:linear-gradient(90deg,#fff 1.9px,#46085c 1.9px,#46085c 31.5px,#481668 50.5px,#481467 57.5px,#46085c 73.5px,#46085c 190.5px)"></i>
<i style="background:linear-gradient(90deg,#fff 1.9px,#46085c 1.9px,#46085c 30.5px,#48186a 50.5px,#481769 57.5px,#46085c 75.5px,#46085c 190.5px)"></i>
<i style="background:linear-gradient(90deg,#fff 1.9px,#46085c 1.9px,#46085c 29.5px,#481b6d 49.5px,#481b6d 55.5px,#460b5e 71.5px,#46085c 81.5px,#46085c 190.5px)"></i>
<i style="background:linear-gradient(90deg,#fff 1.9px,#46085c 1.9px,#46085c 29.5px,#481f70 50.5px,#481d6f 57.5px,#470d60 74.5px,#460b5e 190.5px)"></i>
<i style="background:linear-gradient(90deg,#fff 1.9px,#46085c 1.9px,#460a5d 31.5px,#482475 51.5px,#482374 57.5px,#481769 67.5px,#471365 83.5px,#471365 190.5px)"></i>
<i style="background:linear-gradient(90deg,#fff 1.9px,#46085c 1.9px,#460a5d 31.5px,#482979 52.5px,#482979 57.5px,#481f70 69.5px,#481c6e 190.5px)"></i>
<i style="background:linear-gradient(90deg,#fff 1.9px,#46085c 1.9px,#460a5d 30.5px,#471164 37.5px,#472c7a 49.5px,#46327e 56.5px,#472d7b 64.5px,#472f7d 108.5px,#472c7a 190.5px)"></i>
<i style="background:linear-gradient(90deg,#fff 1.9px,#46085c 1.9px,#46085c 27.5px,#460b5e 32.5px,#48186a 40.5px,#453581 51.5px,#443b84 56.5px,#443b84 64.5px,#404588 75.5px,#424086 190.5px)"></i>
<i style="background:linear-gradient(90deg,#fff 1.9px,#46085c 1.9px,#46085c 26.5px,#470d60 33.5px,#481a6c 40.5px,#472e7c 46.5px,#423f85 52.5px,#3d4d8a 63.5px,#355f8d 72.5px,#32658e 78.5px,#30698e 127.5px,#32648e 159.5px,#375a8c 190.5px)"></i>
<i style="background:linear-gradient(90deg,#fff 1.9px,#46085c 1.9px,#46085c 26.5px,#481467 37.5px,#482173 42.5px,#46327e 46.5px,#404588 51.5px,#3a548c 57.5px,#34608d 64.5px,#2c728e 71.5px,#297b8e 78.5px,#27808e 111.5px,#2c718e 190.5px)"></i>
<i style="background:linear-gradient(90deg,#fff 1.9px,#46085c 1.9px,#46085c 26.5px,#481467 37.5px,#482374 42.5px,#443a83 47.5px,#3e4c8a 51.5px,#375b8d 55.5px,#2e6e8e 63.5px,#23898e 71.5px,#21918c 75.5px,#1f968b 110.5px,#23888e 148.5px,#238a8d 190.5px)"></i>
<i style="background:linear-gradient(90deg,#fff 1.9px,#46085c 1.9px,#46085c 26.5px,#481467 37.5px,#481c6e 40.5px,#46337f 45.5px,#3f4889 49.5px,#375b8d 53.5px,#2a788e 62.5px,#1f968b 69.5px,#1f9f88 71.5px,#22a884 75.5px,#28ae80 109.5px,#20a486 133.5px,#1e9c89 157.5px,#1e9d89 190.5px)"></i>
<i style="background:linear-gradient(90deg,#fff 1.9px,#46085c 1.9px,#46085c 26.5px,#460b5e 31.5px,#48186a 39.5px,#472f7d 44.5px,#3b518b 50.5px,#306a8e 55.5px,#287c8e 60.5px,#1e9d89 67.5px,#22a785 69.5px,#31b57b 72.5px,#42be71 78.5px,#42be71 88.5px,#4ec36b 106.5px,#4ec36b 114.5px,#4ac16d 122.5px,#2fb47c 148.5px,#28ae80 159.5px,#25ac82 190.5px)"></i>
<i style="background:linear-gradient(90deg,#fff 1.9px,#46085c 1.9px,#46085c 26.5px,#470e61 34.5px,#48186a 39.5px,#472f7d 44.5px,#3a538b 50.5px,#2e6f8e 55.5px,#25838e 60.5px,#1f9f88 65.5px,#25ab82 67.5px,#34b679 69.5px,#48c16e 71.5px,#52c569 72.5px,#65cb5e 75.5px,#6ece58 78.5px,#6ece58 87.5px,#77d153 103.5px,#77d153 115.5px,#6ccd5a 131.5px,#4cc26c 159.5px,#42be71 175.5px,#3fbc73 190.5px)"></i>
<i style="background:linear-gradient(90deg,#fff 1.9px,#46085c 1.9px,#46085c 26.5px,#470d60 33.5px,#481668 38.5px,#482374 42.5px,#443b84 46.5px,#3a548c 50.5px,#2a778e 56.5px,#25848e 59.5px,#1fa187 64.5px,#22a884 65.5px,#32b67a 67.5px,#69cd5b 71.5px,#7fd34e 73.5px,#93d741 76.5px,#9bd93c 78.5px,#9bd93c 108.5px,#90d743 122.5px,#60ca60 157.5px,#5ac864 171.5px,#5cc863 190.5px)"></i>
<i style="background:linear-gradient(90deg,#fff 1.9px,#46085c 1.9px,#46085c 27.5px,#481467 38.5px,#482878 43.5px,#443a83 46.5px,#3a548c 50.5px,#26828e 58.5px,#1fa088 63.5px,#27ad81 65.5px,#31b57b 66.5px,#5cc863 69.5px,#7fd34e 71.5px,#a8db34 75.5px,#b5de2b 79.5px,#b2dd2d 109.5px,#a0da39 127.5px,#7cd250 147.5px,#6ece58 158.5px,#6ccd5a 175.5px,#73d056 190.5px)"></i>
<i style="background:linear-gradient(90deg,#fff 1.9px,#46085c 1.9px,#46085c 27.5px,#470e61 35.5px,#481668 39.5px,#482071 42.5px,#443983 46.5px,#3a538b 50.5px,#25838e 58.5px,#1f958b 61.5px,#1fa287 63.5px,#24aa83 64.5px,#38b977 66.5px,#69cd5b 69.5px,#90d743 71.5px,#a0da39 72.5px,#bddf26 75.5px,#cae11f 78.5px,#cae11f 88.5px,#c2df23 103.5px,#a5db36 132.5px,#7cd250 157.5px,#77d153 163.5px,#75d054 175.5px,#7fd34e 190.5px)"></i>
<i style="background:linear-gradient(90deg,#fff 1.9px,#46085c 1.9px,#46085c 27.5px,#481467 39.5px,#482475 43.5px,#453882 46.5px,#3b518b 50.5px,#25838e 58.5px,#1f968b 61.5px,#20a486 63.5px,#2fb47c 65.5px,#3dbc74 66.5px,#86d549 70.5px,#aadc32 72.5px,#c8e020 75.5px,#d5e21a 78.5px,#d5e21a 85.5px,#c8e020 104.5px,#addc30 132.5px,#86d549 161.5px,#7fd34e 169.5px,#7cd250 182.5px,#81d34d 190.5px)"></i>
<i style="background:linear-gradient(90deg,#fff 1.9px,#46085c 1.9px,#46085c 28.5px,#481467 40.5px,#481f70 43.5px,#453781 47.5px,#3b518b 51.5px,#277e8e 58.5px,#1f9e89 63.5px,#27ad81 65.5px,#32b67a 66.5px,#40bd72 67.5px,#7ad151 70.5px,#a5db36 72.5px,#b5de2b 73.5px,#cae11f 75.5px,#e2e418 79.5px,#dae319 108.5px,#cde11d 124.5px,#a8db34 149.5px,#8ed645 178.5px,#8bd646 190.5px)"></i>
<i style="background:linear-gradient(90deg,#fff 1.9px,#46085c 1.9px,#46085c 29.5px,#481467 41.5px,#482374 45.5px,#472f7d 47.5px,#3d4e8a 52.5px,#26818e 60.5px,#1f948c 63.5px,#20a386 65.5px,#25ac82 66.5px,#3fbc73 68.5px,#7ad151 71.5px,#b8de29 74.5px,#d8e219 77.5px,#e7e419 81.5px,#eae51a 110.5px,#d8e219 126.5px,#b8de29 144.5px,#aadc32 155.5px,#9bd93c 180.5px,#9dd93b 190.5px)"></i>
<i style="background:linear-gradient(90deg,#fff 1.9px,#46085c 1.9px,#46085c 29.5px,#471365 42.5px,#481c6e 45.5px,#46327e 49.5px,#3c4f8a 54.5px,#26828e 62.5px,#1fa088 66.5px,#2ab07f 68.5px,#38b977 69.5px,#48c16e 70.5px,#70cf57 72.5px,#addc30 75.5px,#c5e021 77.5px,#dde318 81.5px,#e2e418 109.5px,#d0e11c 126.5px,#c5e021 133.5px,#9bd93c 175.5px,#95d840 190.5px)"></i>
<i style="background:linear-gradient(90deg,#fff 1.9px,#46085c 1.9px,#46085c 30.5px,#481467 44.5px,#472e7c 50.5px,#3e4c8a 55.5px,#2a788e 62.5px,#1e9c89 67.5px,#20a486 68.5px,#32b67a 70.5px,#54c568 72.5px,#a5db36 76.5px,#c5e021 79.5px,#d0e11c 81.5px,#d5e21a 83.5px,#d2e21b 108.5px,#c0df25 127.5px,#b5de2b 134.5px,#a8db34 158.5px,#93d741 178.5px,#8ed645 190.5px)"></i>
<i style="background:linear-gradient(90deg,#fff 1.9px,#46085c 1.9px,#46085c 31.5px,#471365 45.5px,#481c6e 48.5px,#46307e 52.5px,#3a538b 58.5px,#26818e 65.5px,#1fa088 69.5px,#2ab07f 71.5px,#48c16e 73.5px,#95d840 77.5px,#b5de2b 80.5px,#c8e020 84.5px,#c8e020 111.5px,#9bd93c 155.5px,#89d548 180.5px,#86d549 190.5px)"></i>
<i style="background:linear-gradient(90deg,#fff 1.9px,#46085c 1.9px,#46085c 32.5px,#471164 46.5px,#481a6c 49.5px,#482878 52.5px,#3c508b 59.5px,#287d8e 66.5px,#1e9c89 70.5px,#26ad81 72.5px,#31b57b 73.5px,#63cb5f 76.5px,#8bd646 78.5px,#addc30 81.5px,#c0df25 85.5px,#c2df23 109.5px,#bade28 119.5px,#a2da37 135.5px,#7ad151 170.5px,#70cf57 183.5px,#70cf57 190.5px)"></i>
<i style="background:linear-gradient(90deg,#fff 1.9px,#46085c 1.9px,#46085c 33.5px,#470e61 46.5px,#481467 49.5px,#472e7c 55.5px,#3d4d8a 60.5px,#297a8e 67.5px,#1fa088 72.5px,#23a983 73.5px,#38b977 75.5px,#58c765 77.5px,#7fd34e 79.5px,#a0da39 82.5px,#b0dd2f 85.5px,#b5de2b 88.5px,#b8de29 95.5px,#b5de2b 117.5px,#a5db36 131.5px,#89d548 148.5px,#6ccd5a 169.5px,#65cb5e 179.5px,#65cb5e 190.5px)"></i>
<i style="background:linear-gradient(90deg,#fff 1.9px,#46085c 1.9px,#46085c 35.5px,#470e61 48.5px,#481668 51.5px,#482677 55.5px,#424186 60.5px,#3c508b 62.5px,#26828e 70.5px,#1fa287 74.5px,#2db27d 76.5px,#67cc5c 80.5px,#84d44b 83.5px,#98d83e 87.5px,#9bd93c 96.5px,#a5db36 107.5px,#a5db36 118.5px,#98d83e 131.5px,#7cd250 147.5px,#6ece58 159.5px,#63cb5f 177.5px,#63cb5f 190.5px)"></i>
<i style="background:linear-gradient(90deg,#fff 1.9px,#46085c 1.9px,#46085c 36.5px,#470e61 50.5px,#482878 57.5px,#433e85 61.5px,#3b528b 64.5px,#25838e 72.5px,#20938c 74.5px,#20a386 76.5px,#25ab82 77.5px,#38b977 79.5px,#54c568 81.5px,#6ece58 84.5px,#81d34d 88.5px,#95d840 107.5px,#95d840 113.5px,#89d548 126.5px,#67cc5c 147.5px,#5cc863 158.5px,#52c569 175.5px,#52c569 190.5px)"></i>
<i style="background:linear-gradient(90deg,#fff 1.9px,#46085c 1.9px,#46085c 38.5px,#460b5e 50.5px,#471063 52.5px,#482677 58.5px,#443b84 62.5px,#3c508b 65.5px,#26828e 73.5px,#1fa188 77.5px,#29af7f 79.5px,#4ec36b 82.5px,#69cd5b 85.5px,#7ad151 89.5px,#81d34d 96.5px,#84d44b 109.5px,#75d054 123.5px,#63cb5f 135.5px,#50c46a 154.5px,#44bf70 175.5px,#44bf70 190.5px)"></i>
<i style="background:linear-gradient(90deg,#fff 1.9px,#46085c 1.9px,#46085c 41.5px,#460a5d 50.5px,#470e61 53.5px,#482576 59.5px,#443983 63.5px,#3d4e8a 66.5px,#2a778e 73.5px,#1e9d89 78.5px,#20a486 79.5px,#2db27d 81.5px,#44bf70 83.5px,#5ac864 86.5px,#67cc5c 89.5px,#6ccd5a 91.5px,#6ece58 96.5px,#6ece58 107.5px,#56c667 133.5px,#4ec36b 146.5px,#3fbc73 179.5px,#3fbc73 190.5px)"></i>
<i style="background:linear-gradient(90deg,#fff 1.9px,#46085c 1.9px,#46085c 44.5px,#460a5d 52.5px,#471063 55.5px,#472e7c 62.5px,#3d4d8a 67.5px,#287c8e 75.5px,#1fa188 80.5px,#27ad81 82.5px,#3aba76 84.5px,#4ec36b 87.5px,#58c765 90.5px,#5ac864 110.5px,#4cc26c 131.5px,#48c16e 160.5px,#3fbc73 177.5px,#3fbc73 190.5px)"></i>
<i style="background:linear-gradient(90deg,#fff 1.9px,#46085c 1.9px,#46085c 52.5px,#460b5e 54.5px,#482475 61.5px,#443983 65.5px,#3d4d8a 68.5px,#287c8e 76.5px,#1fa188 81.5px,#27ad81 83.5px,#3aba76 85.5px,#4ec36b 88.5px,#58c765 91.5px,#5ac864 106.5px,#50c46a 133.5px,#50c46a 159.5px,#42be71 190.5px)"></i>
<i style="background:linear-gradient(90deg,#fff 1.9px,#46085c 1.9px,#46085c 53.5px,#470d60 56.5px,#472f7d 64.5px,#3c4f8a 69.5px,#2a788e 76.5px,#1e9c89 81.5px,#20a386 82.5px,#2cb17e 84.5px,#4ac16d 87.5px,#58c765 89.5px,#67cc5c 93.5px,#67cc5c 106.5px,#5ec962 132.5px,#60ca60 146.5px,#5cc863 158.5px,#4ec36b 174.5px,#46c06f 190.5px)"></i>
<i style="background:linear-gradient(90deg,#fff 1.9px,#46085c 1.9px,#46085c 54.5px,#470d60 57.5px,#472a7a 64.5px,#3c4f8a 70.5px,#2a788e 77.5px,#1e9c89 82.5px,#25ab82 84.5px,#40bd72 87.5px,#5ac864 90.5px,#67cc5c 93.5px,#6ccd5a 95.5px,#6ccd5a 104.5px,#5ec962 123.5px,#5ec962 155.5px,#4ac16d 181.5px,#4ac16d 190.5px)"></i>
<i style="background:linear-gradient(90deg,#fff 1.9px,#46085c 1.9px,#46085c 55.5px,#470d60 58.5px,#472a7a 65.5px,#3d4d8a 71.5px,#297b8e 79.5px,#1f9e89 84.5px,#25ab82 86.5px,#3dbc74 89.5px,#58c765 94.5px,#5ec962 98.5px,#5ec962 119.5px,#58c765 131.5px,#52c569 159.5px,#46c06f 178.5px,#46c06f 190.5px)"></i>
<i style="background:linear-gradient(90deg,#fff 1.9px,#46085c 1.9px,#46085c 56.5px,#470d60 59.5px,#482979 66.5px,#3e4a89 72.5px,#2a778e 80.5px,#1f9f88 86.5px,#25ab82 88.5px,#38b977 91.5px,#50c46a 97.5px,#56c667 108.5px,#58c765 122.5px,#40bd72 159.5px,#40bd72 178.5px,#46c06f 190.5px)"></i>
<i style="background:linear-gradient(90deg,#fff 1.9px,#46085c 1.9px,#46085c 57.5px,#460b5e 59.5px,#482475 66.5px,#46337f 69.5px,#3e4989 73.5px,#32648e 78.5px,#23888e 84.5px,#1fa187 88.5px,#2db27d 91.5px,#42be71 97.5px,#46c06f 110.5px,#34b679 154.5px,#3aba76 190.5px)"></i>
<i style="background:linear-gradient(90deg,#fff 1.9px,#46085c 1.9px,#46085c 58.5px,#460b5e 60.5px,#481f70 66.5px,#472d7b 69.5px,#414287 73.5px,#38598c 77.5px,#27808e 84.5px,#1f998a 88.5px,#21a585 90.5px,#29af7f 92.5px,#38b977 96.5px,#3dbc74 99.5px,#3dbc74 104.5px,#34b679 133.5px,#2eb37c 190.5px)"></i>
<i style="background:linear-gradient(90deg,#fff 1.9px,#46085c 1.9px,#46085c 59.5px,#460b5e 61.5px,#481f70 67.5px,#472d7b 70.5px,#3f4788 75.5px,#365c8d 79.5px,#287d8e 85.5px,#1e9b8a 90.5px,#25ab82 93.5px,#2eb37c 96.5px,#35b779 100.5px,#26ad81 190.5px)"></i>
<i style="background:linear-gradient(90deg,#fff 1.9px,#46085c 1.9px,#46085c 59.5px,#460b5e 62.5px,#481f70 68.5px,#46307e 72.5px,#424186 75.5px,#39558c 79.5px,#297b8e 86.5px,#1f998a 91.5px,#20a386 93.5px,#26ad81 95.5px,#32b67a 100.5px,#35b779 106.5px,#28ae80 172.5px,#28ae80 190.5px)"></i>
<i style="background:linear-gradient(90deg,#fff 1.9px,#46085c 1.9px,#46085c 60.5px,#460b5e 63.5px,#472f7d 73.5px,#404688 77.5px,#3a548c 80.5px,#297a8e 87.5px,#1f978b 92.5px,#22a884 95.5px,#2eb37c 99.5px,#34b679 104.5px,#2ab07f 190.5px)"></i>
<i style="background:linear-gradient(90deg,#fff 1.9px,#46085c 1.9px,#46085c 61.5px,#470d60 64.5px,#472c7a 73.5px,#424086 77.5px,#3a548c 81.5px,#2a788e 88.5px,#1f958b 93.5px,#23a983 97.5px,#2ab07f 100.5px,#2fb47c 104.5px,#2fb47c 122.5px,#35b779 140.5px,#35b779 161.5px,#2eb37c 190.5px)"></i>
<i style="background:linear-gradient(90deg,#fff 1.9px,#46085c 1.9px,#46085c 62.5px,#470d60 65.5px,#472d7b 74.5px,#424186 78.5px,#39558c 82.5px,#29798e 89.5px,#1f968b 94.5px,#1fa188 96.5px,#2db27d 101.5px,#34b679 106.5px,#34b679 190.5px)"></i>
<i style="background:linear-gradient(90deg,#fff 1.9px,#46085c 1.9px,#46085c 63.5px,#470d60 66.5px,#482071 72.5px,#46327e 76.5px,#3f4788 80.5px,#375b8d 84.5px,#27808e 91.5px,#1f988b 95.5px,#22a785 98.5px,#2fb47c 102.5px,#37b878 107.5px,#31b57b 128.5px,#35b779 153.5px,#31b57b 190.5px)"></i>
<i style="background:linear-gradient(90deg,#fff 1.9px,#46085c 1.9px,#46085c 64.5px,#470d60 67.5px,#46307e 77.5px,#424186 80.5px,#355e8d 86.5px,#25838e 93.5px,#1f9a8a 97.5px,#23a983 100.5px,#28ae80 102.5px,#32b67a 108.5px,#2cb17e 132.5px,#31b57b 160.5px,#28ae80 190.5px)"></i>
<i style="background:linear-gradient(90deg,#fff 1.9px,#46085c 1.9px,#460a5d 66.5px,#482071 74.5px,#443b84 80.5px,#3a548c 85.5px,#287c8e 93.5px,#1f988b 98.5px,#22a785 101.5px,#26ad81 103.5px,#31b57b 109.5px,#2eb37c 147.5px,#26ad81 173.5px,#25ac82 190.5px)"></i>
<i style="background:linear-gradient(90deg,#fff 1.9px,#46085c 1.9px,#46085c 66.5px,#481769 72.5px,#46307e 79.5px,#404588 83.5px,#365c8d 88.5px,#27808e 95.5px,#1f9a8a 100.5px,#20a486 102.5px,#26ad81 105.5px,#2eb37c 110.5px,#31b57b 138.5px,#26ad81 171.5px,#26ad81 190.5px)"></i>
<i style="background:linear-gradient(90deg,#fff 1.9px,#46085c 1.9px,#460a5d 68.5px,#481769 73.5px,#46307e 80.5px,#414487 84.5px,#375b8d 89.5px,#277e8e 96.5px,#1f988b 101.5px,#21a685 104.5px,#2db27d 111.5px,#32b67a 134.5px,#2db27d 156.5px,#2cb17e 190.5px)"></i>
<i style="background:linear-gradient(90deg,#fff 1.9px,#46085c 1.9px,#46085c 67.5px,#481b6d 75.5px,#443b84 83.5px,#38588c 89.5px,#26818e 97.5px,#1e9b8a 102.5px,#22a884 105.5px,#2fb47c 111.5px,#35b779 131.5px,#2fb47c 190.5px)"></i>
<i style="background:linear-gradient(90deg,#fff 1.9px,#46085c 1.9px,#460a5d 69.5px,#481c6e 76.5px,#46337f 82.5px,#3c508b 88.5px,#2a768e 96.5px,#1f968b 102.5px,#20a486 105.5px,#28ae80 109.5px,#2eb37c 114.5px,#37b878 150.5px,#31b57b 190.5px)"></i>
<i style="background:linear-gradient(90deg,#fff 1.9px,#46085c 1.9px,#46085c 68.5px,#481b6d 76.5px,#453581 83.5px,#3b528b 89.5px,#2a778e 97.5px,#1f968b 103.5px,#20a486 106.5px,#26ad81 110.5px,#2ab07f 114.5px,#2fb47c 145.5px,#32b67a 190.5px)"></i>
<i style="background:linear-gradient(90deg,#fff 1.9px,#46085c 1.9px,#46085c 68.5px,#460b5e 71.5px,#472f7d 82.5px,#3a548c 90.5px,#297b8e 98.5px,#1f9a8a 104.5px,#24aa83 108.5px,#2db27d 113.5px,#31b57b 190.5px)"></i>
<i style="background:linear-gradient(90deg,#fff 1.9px,#46085c 1.9px,#46085c 69.5px,#470d60 72.5px,#481f70 78.5px,#443b84 85.5px,#38588c 91.5px,#277f8e 99.5px,#1f998a 104.5px,#22a884 107.5px,#32b67a 114.5px,#32b67a 149.5px,#38b977 170.5px,#35b779 190.5px)"></i>
<i style="background:linear-gradient(90deg,#fff 1.9px,#46085c 1.9px,#46085c 69.5px,#460b5e 72.5px,#481c6e 78.5px,#472f7d 83.5px,#3a538b 91.5px,#29798e 99.5px,#1f988b 105.5px,#21a685 108.5px,#29af7f 112.5px,#2eb37c 116.5px,#2eb37c 148.5px,#34b679 168.5px,#2fb47c 190.5px)"></i>
<i style="background:linear-gradient(90deg,#fff 1.9px,#46085c 1.9px,#46085c 70.5px,#481d6f 79.5px,#463480 85.5px,#414487 88.5px,#3a548c 92.5px,#297a8e 100.5px,#1f988b 106.5px,#22a785 110.5px,#29af7f 116.5px,#2db27d 190.5px)"></i>
<i style="background:linear-gradient(90deg,#fff 1.9px,#46085c 1.9px,#46085c 70.5px,#460b5e 73.5px,#481f70 80.5px,#472e7c 84.5px,#404588 89.5px,#39558c 93.5px,#218f8d 105.5px,#20a486 110.5px,#29af7f 118.5px,#2db27d 160.5px,#2ab07f 190.5px)"></i>
<i style="background:linear-gradient(90deg,#fff 1.9px,#46085c 1.9px,#46085c 71.5px,#481d6f 80.5px,#433e85 88.5px,#3a538b 93.5px,#287c8e 102.5px,#1f998a 108.5px,#1fa287 110.5px,#24aa83 113.5px,#2ab07f 119.5px,#2eb37c 159.5px,#2cb17e 190.5px)"></i>
<i style="background:linear-gradient(90deg,#fff 1.9px,#46085c 1.9px,#46085c 71.5px,#460b5e 74.5px,#481f70 81.5px,#46307e 86.5px,#3c508b 93.5px,#2a788e 102.5px,#1f958b 108.5px,#1fa287 111.5px,#25ac82 115.5px,#2cb17e 125.5px,#2fb47c 190.5px)"></i>
<i style="background:linear-gradient(90deg,#fff 1.9px,#46085c 1.9px,#46085c 72.5px,#481c6e 81.5px,#46327e 87.5px,#3b518b 94.5px,#297a8e 103.5px,#1f988b 109.5px,#21a585 112.5px,#28ae80 116.5px,#2eb37c 121.5px,#2db27d 190.5px)"></i>
<i style="background:linear-gradient(90deg,#fff 1.9px,#46085c 1.9px,#460a5d 74.5px,#482071 83.5px,#433d84 90.5px,#3b528b 95.5px,#297b8e 104.5px,#1f998a 110.5px,#21a585 113.5px,#29af7f 118.5px,#2db27d 122.5px,#29af7f 190.5px)"></i>
<i style="background:linear-gradient(90deg,#fff 1.9px,#46085c 1.9px,#460a5d 75.5px,#481d6f 83.5px,#46337f 89.5px,#3d4e8a 95.5px,#2b748e 104.5px,#1f958b 111.5px,#1fa187 114.5px,#24aa83 118.5px,#28ae80 123.5px,#2cb17e 146.5px,#27ad81 190.5px)"></i>
<i style="background:linear-gradient(90deg,#fff 1.9px,#46085c 1.9px,#46085c 74.5px,#460b5e 77.5px,#481d6f 84.5px,#453781 91.5px,#3d4d8a 96.5px,#2a778e 106.5px,#1f978b 113.5px,#1fa088 115.5px,#24aa83 120.5px,#2ab07f 142.5px,#27ad81 190.5px)"></i>
<i style="background:linear-gradient(90deg,#fff 1.9px,#46085c 1.9px,#46085c 75.5px,#460b5e 78.5px,#482071 86.5px,#443b84 93.5px,#3e4c8a 97.5px,#2c718e 106.5px,#20928c 113.5px,#1f9f88 116.5px,#22a884 120.5px,#27ad81 126.5px,#2ab07f 146.5px,#28ae80 190.5px)"></i>
<i style="background:linear-gradient(90deg,#fff 1.9px,#46085c 1.9px,#46085c 76.5px,#460b5e 79.5px,#481d6f 86.5px,#472e7c 91.5px,#3e4c8a 98.5px,#2d718e 107.5px,#21918c 114.5px,#1e9d89 117.5px,#21a685 121.5px,#25ac82 126.5px,#29af7f 150.5px,#25ac82 190.5px)"></i>
<i style="background:linear-gradient(90deg,#fff 1.9px,#46085c 1.9px,#46085c 77.5px,#470e61 81.5px,#482173 88.5px,#453781 94.5px,#3e4c8a 99.5px,#2f6b8e 107.5px,#218e8d 115.5px,#1e9d89 119.5px,#20a486 123.5px,#22a884 127.5px,#25ab82 154.5px,#25ab82 174.5px,#21a685 190.5px)"></i>
<i style="background:linear-gradient(90deg,#fff 1.9px,#46085c 1.9px,#46085c 78.5px,#482173 89.5px,#453882 95.5px,#3e4c8a 100.5px,#2d718e 109.5px,#20938c 117.5px,#21a685 124.5px,#25ac82 161.5px,#24aa83 190.5px)"></i>
<i style="background:linear-gradient(90deg,#fff 1.9px,#46085c 1.9px,#460a5d 80.5px,#482576 91.5px,#424186 98.5px,#3b518b 102.5px,#2a778e 111.5px,#1f968b 118.5px,#1fa187 121.5px,#23a983 125.5px,#26ad81 130.5px,#27ad81 190.5px)"></i>
<i style="background:linear-gradient(90deg,#fff 1.9px,#46085c 1.9px,#460a5d 81.5px,#481f70 90.5px,#46337f 96.5px,#3e4c8a 102.5px,#2d708e 111.5px,#20928c 119.5px,#1f9f88 122.5px,#22a884 127.5px,#25ac82 132.5px,#25ab82 190.5px)"></i>
<i style="background:linear-gradient(90deg,#fff 1.9px,#46085c 1.9px,#460a5d 82.5px,#482173 92.5px,#3e4989 103.5px,#31678e 111.5px,#228d8d 120.5px,#1fa187 127.5px,#22a785 132.5px,#25ab82 147.5px,#25ac82 190.5px)"></i>
<i style="background:linear-gradient(90deg,#fff 1.9px,#46085c 1.9px,#460a5d 83.5px,#482374 94.5px,#3e4a89 105.5px,#2b748e 116.5px,#1f988b 125.5px,#1fa088 129.5px,#20a486 135.5px,#25ab82 190.5px)"></i>
<i style="background:linear-gradient(90deg,#fff 1.9px,#46085c 1.9px,#46085c 83.5px,#460b5e 86.5px,#481f70 94.5px,#472e7c 99.5px,#423f85 103.5px,#3b518b 108.5px,#21908d 123.5px,#1e9b8a 126.5px,#20a486 131.5px,#22a884 136.5px,#21a585 162.5px,#23a983 190.5px)"></i>
<i style="background:linear-gradient(90deg,#fff 1.9px,#46085c 1.9px,#46085c 84.5px,#470d60 88.5px,#481d6f 95.5px,#453581 102.5px,#3e4c8a 108.5px,#2c728e 118.5px,#1f948c 126.5px,#20a386 132.5px,#22a785 137.5px,#22a785 190.5px)"></i>
<i style="background:linear-gradient(90deg,#fff 1.9px,#46085c 1.9px,#460a5d 87.5px,#481c6e 96.5px,#472e7c 102.5px,#404688 108.5px,#2e6f8e 119.5px,#1f968b 129.5px,#1fa188 134.5px,#20a486 139.5px,#21a685 190.5px)"></i>
<i style="background:linear-gradient(90deg,#fff 1.9px,#46085c 1.9px,#46085c 87.5px,#460b5e 90.5px,#482173 99.5px,#443983 106.5px,#3e4c8a 111.5px,#2b758e 122.5px,#1f988b 131.5px,#1fa187 136.5px,#21a585 141.5px,#1fa287 190.5px)"></i>
<i style="background:linear-gradient(90deg,#fff 1.9px,#46085c 1.9px,#46085c 88.5px,#470d60 92.5px,#482071 100.5px,#453882 107.5px,#3e4989 112.5px,#2f6b8e 121.5px,#218e8d 130.5px,#1f9f88 137.5px,#1fa287 142.5px,#1fa188 190.5px)"></i>
<i style="background:linear-gradient(90deg,#fff 1.9px,#46085c 1.9px,#460a5d 91.5px,#481f70 101.5px,#443983 109.5px,#3e4a89 114.5px,#24868e 130.5px,#20938c 134.5px,#1e9b8a 138.5px,#1fa088 144.5px,#1fa088 190.5px)"></i>
<i style="background:linear-gradient(90deg,#fff 1.9px,#46085c 1.9px,#460a5d 92.5px,#460b5e 94.5px,#482677 105.5px,#404688 114.5px,#2e6d8e 125.5px,#20928c 135.5px,#1e9d89 140.5px,#1fa187 145.5px,#1fa287 156.5px,#1fa188 190.5px)"></i>
<i style="background:linear-gradient(90deg,#fff 1.9px,#46085c 1.9px,#46085c 92.5px,#460b5e 95.5px,#482576 106.5px,#443a83 112.5px,#3e4a89 117.5px,#2d708e 127.5px,#1f958b 137.5px,#1f9e89 141.5px,#20a386 147.5px,#20a486 157.5px,#1fa187 190.5px)"></i>
<i style="background:linear-gradient(90deg,#fff 1.9px,#46085c 1.9px,#460a5d 95.5px,#482979 109.5px,#443b84 114.5px,#3e4c8a 119.5px,#2d718e 129.5px,#20928c 138.5px,#1f9e89 143.5px,#1fa287 148.5px,#1fa187 190.5px)"></i>
<i style="background:linear-gradient(90deg,#fff 1.9px,#46085c 1.9px,#460a5d 96.5px,#48186a 104.5px,#482878 110.5px,#3f4788 119.5px,#375b8d 125.5px,#297b8e 133.5px,#1f958b 140.5px,#1fa188 145.5px,#21a585 151.5px,#1fa287 190.5px)"></i>
<i style="background:linear-gradient(90deg,#fff 1.9px,#46085c 1.9px,#46085c 95.5px,#460b5e 99.5px,#472e7c 113.5px,#3e4c8a 121.5px,#2a778e 133.5px,#1f998a 142.5px,#1e9d89 144.5px,#20a486 151.5px,#1fa287 190.5px)"></i>
<i style="background:linear-gradient(90deg,#fff 1.9px,#46085c 1.9px,#46085c 97.5px,#470d60 101.5px,#481f70 109.5px,#46307e 115.5px,#3e4a89 122.5px,#2b748e 134.5px,#1f978b 144.5px,#1fa187 154.5px,#1fa187 190.5px)"></i>
<i style="background:linear-gradient(90deg,#fff 1.9px,#46085c 1.9px,#460a5d 100.5px,#481d6f 110.5px,#404588 122.5px,#2e6e8e 134.5px,#1f978b 146.5px,#1fa187 155.5px,#21a585 190.5px)"></i>
<i style="background:linear-gradient(90deg,#fff 1.9px,#46085c 1.9px,#46085c 100.5px,#481a6c 110.5px,#472f7d 118.5px,#404588 124.5px,#2c718e 137.5px,#20928c 146.5px,#1f998a 149.5px,#1fa187 157.5px,#21a685 190.5px)"></i>
<i style="background:linear-gradient(90deg,#fff 1.9px,#46085c 1.9px,#460a5d 103.5px,#482878 117.5px,#404688 126.5px,#2a768e 140.5px,#20938c 148.5px,#1f9e89 153.5px,#20a386 159.5px,#21a685 171.5px,#20a486 190.5px)"></i>
<i style="background:linear-gradient(90deg,#fff 1.9px,#46085c 1.9px,#46085c 102.5px,#460b5e 106.5px,#472d7b 120.5px,#3e4a89 129.5px,#2d718e 140.5px,#1f958b 150.5px,#1fa088 155.5px,#21a685 161.5px,#24aa83 171.5px,#22a785 190.5px)"></i>
<i style="background:linear-gradient(90deg,#fff 1.9px,#46085c 1.9px,#46085c 104.5px,#481a6c 114.5px,#472f7d 122.5px,#3e4a89 130.5px,#2d718e 141.5px,#20928c 150.5px,#20a386 157.5px,#25ac82 171.5px,#22a785 190.5px)"></i>
<i style="background:linear-gradient(90deg,#fff 1.9px,#46085c 1.9px,#46085c 104.5px,#460b5e 108.5px,#472c7a 122.5px,#3e4a89 131.5px,#2b748e 143.5px,#1f9a8a 154.5px,#21a685 165.5px,#21a585 190.5px)"></i>
<i style="background:linear-gradient(90deg,#fff 1.9px,#46085c 1.9px,#460a5d 107.5px,#481a6c 116.5px,#472c7a 123.5px,#414487 130.5px,#2e6e8e 143.5px,#21908d 153.5px,#1f968b 156.5px,#1fa088 165.5px,#1fa188 190.5px)"></i>
<i style="background:linear-gradient(90deg,#fff 1.9px,#46085c 1.9px,#460a5d 108.5px,#48186a 116.5px,#472d7b 124.5px,#3f4889 132.5px,#2c738e 145.5px,#218f8d 153.5px,#1f9a8a 158.5px,#1fa188 165.5px,#1f9f88 190.5px)"></i>
<i style="background:linear-gradient(90deg,#fff 1.9px,#46085c 1.9px,#46085c 107.5px,#481b6d 118.5px,#472e7c 125.5px,#414487 131.5px,#2f6c8e 143.5px,#1f998a 156.5px,#20a486 167.5px,#1fa187 190.5px)"></i>
<i style="background:linear-gradient(90deg,#fff 1.9px,#46085c 1.9px,#460a5d 109.5px,#481a6c 118.5px,#472e7c 126.5px,#3e4989 134.5px,#2b758e 147.5px,#21918c 155.5px,#1f9a8a 159.5px,#1fa187 168.5px,#1f9f88 190.5px)"></i>
<i style="background:linear-gradient(90deg,#fff 1.9px,#46085c 1.9px,#46085c 108.5px,#460b5e 112.5px,#481a6c 119.5px,#472e7c 127.5px,#3e4989 135.5px,#2d708e 147.5px,#1f948c 159.5px,#1f9e89 168.5px,#1e9d89 190.5px)"></i>
<i style="background:linear-gradient(90deg,#fff 1.9px,#46085c 1.9px,#46085c 109.5px,#481a6c 120.5px,#472e7c 128.5px,#404588 135.5px,#30698e 147.5px,#21918c 160.5px,#1e9b8a 170.5px,#1e9b8a 190.5px)"></i>
<i style="background:linear-gradient(90deg,#fff 1.9px,#46085c 1.9px,#46085c 110.5px,#482071 124.5px,#404688 137.5px,#2f6b8e 149.5px,#21918c 162.5px,#1f998a 171.5px,#1f988b 190.5px)"></i>
<i style="background:linear-gradient(90deg,#fff 1.9px,#46085c 1.9px,#46085c 111.5px,#481a6c 122.5px,#472d7b 130.5px,#424086 136.5px,#34618d 147.5px,#218e8d 161.5px,#1f998a 172.5px,#1f988b 190.5px)"></i>
<i style="background:linear-gradient(90deg,#fff 1.9px,#46085c 1.9px,#46085c 111.5px,#460b5e 115.5px,#481a6c 123.5px,#472a7a 130.5px,#404688 139.5px,#31688e 150.5px,#228d8d 162.5px,#1f978b 173.5px,#1f968b 190.5px)"></i>
<i style="background:linear-gradient(90deg,#fff 1.9px,#46085c 1.9px,#46085c 112.5px,#460b5e 116.5px,#481b6d 124.5px,#472f7d 132.5px,#3f4889 140.5px,#2e6d8e 152.5px,#26818e 158.5px,#20928c 165.5px,#1e9b8a 174.5px,#1f9a8a 190.5px)"></i>
<i style="background:linear-gradient(90deg,#fff 1.9px,#46085c 1.9px,#46085c 113.5px,#481b6d 125.5px,#472f7d 133.5px,#424086 138.5px,#32648e 150.5px,#21918c 164.5px,#1e9c89 175.5px,#1f9a8a 190.5px)"></i>
<i style="background:linear-gradient(90deg,#fff 1.9px,#46085c 1.9px,#46085c 113.5px,#460b5e 117.5px,#481b6d 126.5px,#472c7a 133.5px,#424186 140.5px,#31668e 152.5px,#21918c 165.5px,#1e9c89 172.5px,#1e9d89 190.5px)"></i>
<i style="background:linear-gradient(90deg,#fff 1.9px,#46085c 1.9px,#460a5d 116.5px,#481a6c 126.5px,#482979 133.5px,#414487 142.5px,#2f6c8e 155.5px,#20928c 167.5px,#1f9a8a 171.5px,#1fa088 178.5px,#1fa188 190.5px)"></i>
<i style="background:linear-gradient(90deg,#fff 1.9px,#46085c 1.9px,#46085c 115.5px,#460b5e 119.5px,#481c6e 128.5px,#414487 142.5px,#31678e 154.5px,#21908d 167.5px,#1e9c89 178.5px,#1f9e89 190.5px)"></i>
<i style="background:linear-gradient(90deg,#fff 1.9px,#46085c 1.9px,#46085c 116.5px,#460b5e 120.5px,#481c6e 129.5px,#472a7a 135.5px,#424086 142.5px,#31668e 155.5px,#228b8d 168.5px,#1f948c 178.5px,#1f948c 190.5px)"></i>
<i style="background:linear-gradient(90deg,#fff 1.9px,#46085c 1.9px,#46085c 117.5px,#460b5e 121.5px,#481a6c 129.5px,#472c7a 137.5px,#424086 144.5px,#34608d 155.5px,#23898e 169.5px,#20928c 176.5px,#20938c 190.5px)"></i>
<i style="background:linear-gradient(90deg,#fff 1.9px,#46085c 1.9px,#46085c 118.5px,#460b5e 122.5px,#481b6d 131.5px,#463480 141.5px,#3f4788 148.5px,#32658e 158.5px,#238a8d 170.5px,#1f948c 179.5px,#1f958b 190.5px)"></i>
<i style="background:linear-gradient(90deg,#fff 1.9px,#46085c 1.9px,#46085c 120.5px,#481c6e 133.5px,#482979 139.5px,#424086 147.5px,#31668e 160.5px,#23898e 172.5px,#20928c 179.5px,#20938c 190.5px)"></i>
<i style="background:linear-gradient(90deg,#fff 1.9px,#46085c 1.9px,#46085c 121.5px,#460b5e 125.5px,#481f70 136.5px,#443b84 147.5px,#3d4e8a 154.5px,#24868e 173.5px,#218f8d 179.5px,#20938c 190.5px)"></i>
<i style="background:linear-gradient(90deg,#fff 1.9px,#46085c 1.9px,#46085c 123.5px,#481d6f 137.5px,#46327e 145.5px,#3e4989 154.5px,#31688e 164.5px,#24878e 175.5px,#218f8d 181.5px,#20928c 190.5px)"></i>
<i style="background:linear-gradient(90deg,#fff 1.9px,#46085c 1.9px,#46085c 124.5px,#460b5e 128.5px,#481b6d 137.5px,#463480 147.5px,#3e4989 155.5px,#24868e 176.5px,#228d8d 181.5px,#21908d 190.5px)"></i>
<i style="background:linear-gradient(90deg,#fff 1.9px,#46085c 1.9px,#46085c 126.5px,#481a6c 138.5px,#453581 149.5px,#3e4a89 157.5px,#25838e 177.5px,#228c8d 183.5px,#218f8d 190.5px)"></i>
<i style="background:linear-gradient(90deg,#fff 1.9px,#46085c 1.9px,#46085c 127.5px,#470d60 132.5px,#482878 146.5px,#443a83 152.5px,#3c508b 160.5px,#23888e 179.5px,#21908d 185.5px,#21918c 190.5px)"></i>
<i style="background:linear-gradient(90deg,#fff 1.9px,#46085c 1.9px,#46085c 129.5px,#482173 145.5px,#453781 153.5px,#3e4c8a 161.5px,#24878e 181.5px,#218f8d 190.5px)"></i>
<i style="background:linear-gradient(90deg,#fff 1.9px,#46085c 1.9px,#46085c 130.5px,#481f70 146.5px,#453581 155.5px,#3e4c8a 164.5px,#287d8e 181.5px,#24878e 190.5px)"></i>
<i style="background:linear-gradient(90deg,#fff 1.9px,#46085c 1.9px,#46085c 132.5px,#482071 149.5px,#3f4788 165.5px,#29798e 183.5px,#26818e 190.5px)"></i>
<i style="background:linear-gradient(90deg,#fff 1.9px,#46085c 1.9px,#46085c 134.5px,#481d6f 150.5px,#424186 166.5px,#2e6e8e 183.5px,#2a778e 190.5px)"></i>
<i style="background:linear-gradient(90deg,#fff 1.9px,#46085c 1.9px,#46085c 135.5px,#481a6c 150.5px,#46337f 163.5px,#355e8d 181.5px,#2f6c8e 190.5px)"></i>
<i style="background:linear-gradient(90deg,#fff 1.9px,#46085c 1.9px,#46085c 137.5px,#481467 149.5px,#472f7d 165.5px,#3e4a89 178.5px,#355f8d 188.5px,#34608d 190.5px)"></i>
<i style="background:linear-gradient(90deg,#fff 1.9px,#46085c 1.9px,#46085c 139.5px,#481b6d 158.5px,#443a83 178.5px,#3d4e8a 190.5px)"></i>
<i style="background:linear-gradient(90deg,#fff 1.9px,#46085c 1.9px,#46085c 140.5px,#48186a 159.5px,#46307e 177.5px,#414287 190.5px)"></i>
<i style="background:linear-gradient(90deg,#fff 1.9px,#46085c 1.9px,#46085c 141.5px,#481d6f 169.5px,#453581 190.5px)"></i>
<i style="background:linear-gradient(90deg,#fff 1.9px,#46085c 1.9px,#46085c 142.5px,#481b6d 173.5px,#472a7a 190.5px)"></i>
<i style="background:linear-gradient(90deg,#fff 1.9px,#46085c 1.9px,#46085c 144.5px,#482071 190.5px)"></i>
<i style="background:linear-gradient(90deg,#fff 1.9px,#46085c 1.9px,#46085c 146.5px,#48186a 190.5px)"></i>
<i style="background:linear-gradient(90deg,#fff 1.9px,#46085c 1.9px,#46085c 152.5px,#471063 190.5px)"></i>
<i style="background:linear-gradient(90deg,#fff 1.9px,#46085c 1.9px,#46085c 167.5px,#460b5e 190.5px)"></i>
<i style="background:linear-gradient(90deg,#fff 1.9px,#46085c 1.9px,#46085c 190.5px)"></i>
<i style="background:linear-gradient(90deg,#fff 1.9px,#46085c 1.9px,#46085c 190.5px)"></i>
<i style="background:linear-gradient(90deg,#fff 1.9px,#46085c 1.9px,#46085c 190.5px)"></i>
<i style="background:linear-gradient(90deg,#fff 1.9px,#46085c 1.9px,#46085c 190.5px)"></i>
<i style="background:linear-gradient(90deg,#fff 1.9px,#46085c 1.9px,#46085c 190.5px)"></i>
<i style="background:linear-gradient(90deg,#fff 1.9px,#46085c 1.9px,#46085c 190.5px)"></i>
<i style="background:linear-gradient(90deg,#fff 1.9px,#46085c 1.9px,#46085c 190.5px)"></i>
<i style="background:linear-gradient(90deg,#fff 1.9px,#46085c 1.9px,#46085c 190.5px)"></i>
<i style="background:linear-gradient(90deg,#fff 1.9px,#46085c 1.9px,#46085c 190.5px)"></i>
<i style="background:linear-gradient(90deg,#fff 1.9px,#46085c 1.9px,#46085c 190.5px)"></i>
<i style="background:linear-gradient(90deg,#fff 1.9px,#46085c 1.9px,#46085c 190.5px)"></i>
<i style="background:linear-gradient(90deg,#fff 1.9px,#46085c 1.9px,#46085c 190.5px)"></i>
<i style="background:linear-gradient(90deg,#fff 1.9px,#46085c 1.9px,#46085c 190.5px)"></i>
<i style="background:linear-gradient(90deg,#fff 1.9px,#46085c 1.9px,#46085c 190.5px)"></i>
<i style="background:linear-gradient(90deg,#fff 1.9px,#46085c 1.9px,#46085c 190.5px)"></i>
<i style="background:linear-gradient(90deg,#fff 1.9px,#46085c 1.9px,#46085c 190.5px)"></i>
<i style="background:linear-gradient(90deg,#fff 1.9px,#46085c 1.9px,#46085c 190.5px)"></i>
<i style="background:linear-gradient(90deg,#fff 1.9px,#46085c 1.9px,#46085c 190.5px)"></i>
<i style="background:linear-gradient(90deg,#fff 1.9px,#46085c 1.9px,#46085c 190.5px)"></i>
<i style="background:linear-gradient(90deg,#fff 1.9px,#46085c 1.9px,#46085c 190.5px)"></i>
<i style="background:linear-gradient(90deg,#fff 1.9px,#46085c 1.9px,#46085c 190.5px)"></i>
<i style="background:linear-gradient(90deg,#fff 1.9px,#46085c 1.9px,#46085c 190.5px)"></i>
<i style="background:linear-gradient(90deg,#fff 1.9px,#46085c 1.9px,#46085c 190.5px)"></i>
<i style="background:linear-gradient(90deg,#fff 1.9px,#46085c 1.9px,#46085c 190.5px)"></i>
<i style="background:linear-gradient(90deg,#fff 1.9px,#46085c 1.9px,#46085c 190.5px)"></i>
<i style="background:linear-gradient(90deg,#fff 1.9px,#46085c 1.9px,#46085c 190.5px)"></i>
<i style="background:linear-gradient(90deg,#fff 1.9px,#46085c 1.9px,#46085c 190.5px)"></i>
<i style="background:linear-gradient(90deg,#fff 1.9px,#46085c 1.9px,#46085c 190.5px)"></i>
<i style="background:linear-gradient(90deg,#fff 1.9px,#46085c 1.9px,#46085c 190.5px)"></i>
<i style="background:linear-gradient(90deg,#fff 1.9px,#46085c 1.9px,#46085c 190.5px)"></i>
<i style="background:linear-gradient(90deg,#fff 1.9px,#46085c 1.9px,#46085c 190.5px)"></i>
<i style="background:linear-gradient(90deg,#fff 1.9px,#46085c 1.9px,#46085c 190.5px)"></i>
<i style="background:linear-gradient(90deg,#fff 1.9px,#46085c 1.9px,#46085c 190.5px)"></i>
<i style="background:linear-gradient(90deg,#fff 1.9px,#46085c 1.9px,#46085c 190.5px)"></i>
<i style="background:linear-gradient(90deg,#fff 1.9px,#46085c 1.9px,#46085c 190.5px)"></i>
<i style="background:linear-gradient(90deg,#fff 1.9px,#46085c 1.9px,#46085c 190.5px)"></i>
<i style="background:linear-gradient(90deg,#fff 1.9px,#46085c 1.9px,#46085c 190.5px)"></i>
<i style="background:linear-gradient(90deg,#fff 1.9px,#46085c 1.9px,#46085c 190.5px)"></i>
<i style="background:linear-gradient(90deg,#fff 1.9px,#46085c 1.9px,#46085c 190.5px)"></i>
<i style="background:linear-gradient(90deg,#fff 1.9px,#46085c 1.9px,#46085c 190.5px)"></i>
<i style="background:linear-gradient(90deg,#fff 1.9px,#46085c 1.9px,#46085c 190.5px)"></i>
<i style="background:linear-gradient(90deg,#fff 1.9px,#46085c 1.9px,#46085c 190.5px)"></i>
<i style="background:linear-gradient(90deg,#fff 1.9px,#46085c 1.9px,#460a5d 190.5px)"></i>
<i style="background:linear-gradient(90deg,#fff 1.9px,#46085c 1.9px,#46085c 86.5px,#470e61 111.5px,#471365 190.5px)"></i>
<i style="background:linear-gradient(90deg,#fff 1.9px,#46085c 1.9px,#46085c 80.5px,#481f70 110.5px,#481f70 144.5px,#46307e 168.5px,#46327e 190.5px)"></i>
<i style="background:linear-gradient(90deg,#fff 1.9px,#46085c 1.9px,#46085c 78.5px,#481467 87.5px,#472c7a 99.5px,#443983 109.5px,#443a83 142.5px,#423f85 148.5px,#375a8c 164.5px,#34608d 170.5px,#34618d 190.5px)"></i>
<i style="background:linear-gradient(90deg,#fff 1.9px,#46085c 1.9px,#46085c 78.5px,#481668 86.5px,#46337f 98.5px,#433d84 102.5px,#3f4889 110.5px,#3e4989 143.5px,#3c4f8a 148.5px,#2c728e 166.5px,#2a788e 172.5px,#2a788e 190.5px)"></i>
<i style="background:linear-gradient(90deg,#fff 1.9px,#46085c 1.9px,#46085c 78.5px,#481467 87.5px,#472c7a 99.5px,#443983 109.5px,#443a83 142.5px,#424086 149.5px,#375a8c 164.5px,#34608d 170.5px,#34618d 190.5px)"></i>
<i style="background:linear-gradient(90deg,#fff 1.9px,#46085c 1.9px,#46085c 80.5px,#481f70 110.5px,#481f70 144.5px,#46307e 168.5px,#46327e 190.5px)"></i>
<i style="background:linear-gradient(90deg,#fff 1.9px,#46085c 1.9px,#46085c 87.5px,#470e61 112.5px,#471365 190.5px)"></i>
<i style="background:linear-gradient(90deg,#fff 1.9px,#46085c 1.9px,#460a5d 190.5px)"></i>
<i style="background:linear-gradient(90deg,#fff 1.9px,#46085c 1.9px,#46085c 76.5px,#481668 81.5px,#481769 84.5px,#46327e 138.5px,#3a538b 190.5px)"></i>
<i style="background:linear-gradient(90deg,#fff 1.9px,#46085c 1.9px,#46085c 60.5px,#471063 63.5px,#46307e 70.5px,#3c4f8a 75.5px,#2d708e 81.5px,#1f968b 152.5px,#21a685 190.5px)"></i>
<i style="background:linear-gradient(90deg,#fff 1.9px,#46085c 1.9px,#460a5d 46.5px,#463480 54.5px,#38588c 60.5px,#2a788e 66.5px,#20938c 72.5px,#1fa188 76.5px,#22a884 81.5px,#2ab07f 190.5px)"></i>
<i style="background:linear-gradient(90deg,#fff 1.9px,#46085c 1.9px,#460a5d 37.5px,#481467 39.5px,#472f7d 42.5px,#3c508b 45.5px,#2d708e 48.5px,#1f958b 56.5px,#1fa187 60.5px,#22a884 64.5px,#2ab07f 190.5px)"></i>
<i style="background:linear-gradient(90deg,#fff 1.9px,#46085c 1.9px,#460a5d 29.5px,#481467 31.5px,#482475 33.5px,#443983 35.5px,#3b528b 37.5px,#2b758e 40.5px,#20928c 43.5px,#20a386 46.5px,#22a884 48.5px,#23a983 108.5px,#2ab07f 190.5px)"></i>
<i style="background:linear-gradient(90deg,#fff 1.9px,#46085c 1.9px,#46085c 21.5px,#470d60 23.5px,#482576 27.5px,#404588 30.5px,#355e8d 32.5px,#26818e 35.5px,#1e9c89 38.5px,#1fa187 39.5px,#22a884 42.5px,#23a983 108.5px,#2ab07f 190.5px)"></i>
</div>
<div class="hm" style="left:494px;top:25px;width:191px;height:191px">
<i style="background:linear-gradient(90deg,#fff 2px,#433d84 2px,#463480 35.5px,#453781 79.5px,#482677 121.5px,#482475 190.5px)"></i>
<i style="background:linear-gradient(90deg,#fff 2px,#453581 2px,#453781 83.5px,#482677 139.5px,#482677 161.5px,#482071 190.5px)"></i>
<i style="background:linear-gradient(90deg,#fff 2px,#463480 2px,#46307e 48.5px,#453882 85.5px,#482576 134.5px,#481d6f 190.5px)"></i>
<i style="background:linear-gradient(90deg,#fff 2px,#453581 2px,#472f7d 19.5px,#472f7d 42.5px,#443a83 87.5px,#482173 137.5px,#481c6e 170.5px,#481f70 190.5px)"></i>
<i style="background:linear-gradient(90deg,#fff 2px,#46327e 2px,#472f7d 26.5px,#453882 86.5px,#482374 142.5px,#482173 175.5px,#482576 190.5px)"></i>
<i style="background:linear-gradient(90deg,#fff 2px,#443a83 2px,#443983 27.5px,#423f85 73.5px,#472d7b 122.5px,#472e7c 190.5px)"></i>
<i style="background:linear-gradient(90deg,#fff 2px,#3f4788 2px,#424086 47.5px,#424086 82.5px,#472e7c 131.5px,#443983 171.5px,#443a83 190.5px)"></i>
<i style="background:linear-gradient(90deg,#fff 2px,#3f4889 2px,#404588 87.5px,#472f7d 132.5px,#46307e 146.5px,#433d84 171.5px,#423f85 190.5px)"></i>
<i style="background:linear-gradient(90deg,#fff 2px,#3e4c8a 2px,#3d4d8a 74.5px,#443983 130.5px,#424086 190.5px)"></i>
<i style="background:linear-gradient(90deg,#fff 2px,#3a538b 2px,#3a548c 17.5px,#3c4f8a 42.5px,#3c508b 75.5px,#424186 141.5px,#414487 173.5px,#424086 190.5px)"></i>
<i style="background:linear-gradient(90deg,#fff 2px,#3c4f8a 2px,#3b528b 58.5px,#3c508b 110.5px,#414487 146.5px,#423f85 190.5px)"></i>
<i style="background:linear-gradient(90deg,#fff 2px,#3d4e8a 2px,#39568c 70.5px,#3c508b 107.5px,#424186 146.5px,#424086 190.5px)"></i>
<i style="background:linear-gradient(90deg,#fff 2px,#39558c 2px,#39568c 75.5px,#414487 122.5px,#424186 190.5px)"></i>
<i style="background:linear-gradient(90deg,#fff 2px,#375b8d 2px,#3a548c 50.5px,#39558c 85.5px,#414287 127.5px,#433d84 190.5px)"></i>
<i style="background:linear-gradient(90deg,#fff 2px,#39568c 2px,#3a538b 58.5px,#39558c 87.5px,#3a538b 97.5px,#433e85 135.5px,#443983 190.5px)"></i>
<i style="background:linear-gradient(90deg,#fff 2px,#3d4e8a 2px,#3a548c 33.5px,#3c508b 60.5px,#3b518b 88.5px,#3c4f8a 97.5px,#443983 134.5px,#443b84 190.5px)"></i>
<i style="background:linear-gradient(90deg,#fff 2px,#3d4d8a 2px,#3c4f8a 87.5px,#3f4889 108.5px,#443983 135.5px,#443983 190.5px)"></i>
<i style="background:linear-gradient(90deg,#fff 2px,#3a538b 2px,#3c508b 87.5px,#3e4a89 111.5px,#443a83 144.5px,#453882 190.5px)"></i>
<i style="background:linear-gradient(90deg,#fff 2px,#375b8d 2px,#3b518b 53.5px,#3c508b 98.5px,#433e85 143.5px,#443b84 190.5px)"></i>
<i style="background:linear-gradient(90deg,#fff 2px,#365d8d 2px,#3a538b 44.5px,#3a538b 93.5px,#414487 138.5px,#424186 190.5px)"></i>
<i style="background:linear-gradient(90deg,#fff 2px,#355f8d 2px,#3a538b 43.5px,#38598c 72.5px,#38588c 88.5px,#414287 142.5px,#3f4788 170.5px,#404688 190.5px)"></i>
<i style="background:linear-gradient(90deg,#fff 2px,#355e8d 2px,#39568c 46.5px,#365c8d 83.5px,#3e4a89 118.5px,#414287 143.5px,#3e4989 190.5px)"></i>
<i style="background:linear-gradient(90deg,#fff 2px,#365d8d 2px,#365c8d 80.5px,#3d4e8a 108.5px,#404588 141.5px,#414487 159.5px,#3e4c8a 190.5px)"></i>
<i style="background:linear-gradient(90deg,#fff 2px,#38588c 2px,#39558c 53.5px,#375a8c 88.5px,#424086 144.5px,#404588 190.5px)"></i>
<i style="background:linear-gradient(90deg,#fff 2px,#3c4f8a 2px,#3b528b 48.5px,#365c8d 71.5px,#365d8d 87.5px,#414287 138.5px,#424186 190.5px)"></i>
<i style="background:linear-gradient(90deg,#fff 2px,#3b528b 2px,#39568c 16.5px,#39558c 48.5px,#365c8d 86.5px,#424186 141.5px,#404688 190.5px)"></i>
<i style="background:linear-gradient(90deg,#fff 2px,#3a548c 2px,#38598c 18.5px,#38598c 85.5px,#39558c 97.5px,#424186 134.5px,#3f4788 190.5px)"></i>
<i style="background:linear-gradient(90deg,#fff 2px,#3e4c8a 2px,#3a548c 77.5px,#3c508b 96.5px,#443a83 134.5px,#3f4889 190.5px)"></i>
<i style="background:linear-gradient(90deg,#fff 2px,#404688 2px,#3d4e8a 26.5px,#3b528b 75.5px,#3d4d8a 98.5px,#443b84 131.5px,#404588 190.5px)"></i>
<i style="background:linear-gradient(90deg,#fff 2px,#404688 2px,#3c508b 27.5px,#3b518b 86.5px,#423f85 150.5px,#414287 190.5px)"></i>
<i style="background:linear-gradient(90deg,#fff 2px,#404688 2px,#3d4e8a 13.5px,#3a548c 48.5px,#3a548c 76.5px,#3c4f8a 108.5px,#424086 156.5px,#424086 171.5px,#404688 190.5px)"></i>
<i style="background:linear-gradient(90deg,#fff 2px,#414287 2px,#3d4d8a 14.5px,#3a538b 31.5px,#38588c 63.5px,#3a548c 98.5px,#414487 147.5px,#3e4989 190.5px)"></i>
<i style="background:linear-gradient(90deg,#fff 2px,#423f85 2px,#3c4f8a 26.5px,#375a8c 69.5px,#38588c 96.5px,#3f4788 138.5px,#3e4989 190.5px)"></i>
<i style="background:linear-gradient(90deg,#fff 2px,#433e85 2px,#3e4c8a 15.5px,#3b528b 27.5px,#375b8d 55.5px,#38598c 96.5px,#3e4a89 139.5px,#3f4788 190.5px)"></i>
<i style="background:linear-gradient(90deg,#fff 2px,#443b84 2px,#3d4e8a 16.5px,#355e8d 47.5px,#38598c 107.5px,#3f4889 169.5px,#3e4a89 190.5px)"></i>
<i style="background:linear-gradient(90deg,#fff 2px,#453781 2px,#3f4788 13.5px,#3a548c 26.5px,#34608d 42.5px,#32658e 57.5px,#33628d 94.5px,#39558c 135.5px,#3a548c 190.5px)"></i>
<i style="background:linear-gradient(90deg,#fff 2px,#46337f 2px,#3e4989 16.5px,#375b8d 32.5px,#30698e 59.5px,#365d8d 190.5px)"></i>
<i style="background:linear-gradient(90deg,#fff 2px,#46307e 2px,#404588 13.5px,#39558c 24.5px,#33638d 36.5px,#2e6e8e 54.5px,#30698e 108.5px,#2f6b8e 163.5px,#31688e 190.5px)"></i>
<i style="background:linear-gradient(90deg,#fff 2px,#472d7b 2px,#3f4788 17.5px,#33628d 35.5px,#2d708e 48.5px,#2b758e 58.5px,#2c738e 98.5px,#2e6f8e 118.5px,#2d718e 190.5px)"></i>
<i style="background:linear-gradient(90deg,#fff 2px,#482677 2px,#443a83 14.5px,#3c508b 28.5px,#2e6d8e 48.5px,#29798e 63.5px,#297a8e 99.5px,#2b748e 121.5px,#2a788e 156.5px,#2a768e 190.5px)"></i>
<i style="background:linear-gradient(90deg,#fff 2px,#482173 2px,#463480 15.5px,#3e4c8a 29.5px,#2f6c8e 48.5px,#287c8e 63.5px,#277f8e 104.5px,#297b8e 190.5px)"></i>
<i style="background:linear-gradient(90deg,#fff 2px,#481c6e 2px,#46327e 17.5px,#3e4a89 31.5px,#2c738e 54.5px,#277f8e 64.5px,#25848e 95.5px,#297b8e 171.5px,#277f8e 190.5px)"></i>
<i style="background:linear-gradient(90deg,#fff 2px,#48186a 2px,#472f7d 19.5px,#3c4f8a 36.5px,#297a8e 58.5px,#24868e 70.5px,#25848e 190.5px)"></i>
<i style="background:linear-gradient(90deg,#fff 2px,#481668 2px,#472d7b 21.5px,#3d4d8a 37.5px,#297a8e 56.5px,#228c8d 68.5px,#21908d 150.5px,#238a8d 171.5px,#238a8d 190.5px)"></i>
<i style="background:linear-gradient(90deg,#fff 2px,#481467 2px,#481a6c 9.5px,#453581 28.5px,#38598c 42.5px,#24868e 59.5px,#20928c 65.5px,#1f968b 70.5px,#1f998a 118.5px,#20938c 166.5px,#1f958b 190.5px)"></i>
<i style="background:linear-gradient(90deg,#fff 2px,#471164 2px,#481b6d 14.5px,#463480 30.5px,#3d4d8a 39.5px,#2f6b8e 49.5px,#20928c 62.5px,#1fa187 71.5px,#21a585 89.5px,#1fa188 157.5px,#1fa287 190.5px)"></i>
<i style="background:linear-gradient(90deg,#fff 2px,#470e61 2px,#481a6c 17.5px,#472c7a 29.5px,#3d4d8a 41.5px,#2e6f8e 51.5px,#1f988b 63.5px,#22a884 70.5px,#26ad81 75.5px,#28ae80 102.5px,#22a884 139.5px,#26ad81 190.5px)"></i>
<i style="background:linear-gradient(90deg,#fff 2px,#470d60 2px,#481668 17.5px,#482576 29.5px,#433d84 38.5px,#38598c 46.5px,#287c8e 55.5px,#1f988b 62.5px,#21a685 66.5px,#2eb37c 72.5px,#38b977 81.5px,#3bbb75 97.5px,#2cb17e 140.5px,#2cb17e 161.5px,#32b67a 190.5px)"></i>
<i style="background:linear-gradient(90deg,#fff 2px,#460b5e 2px,#481467 20.5px,#482475 31.5px,#443a83 39.5px,#38598c 47.5px,#27808e 56.5px,#1e9b8a 62.5px,#22a785 65.5px,#31b57b 69.5px,#40bd72 74.5px,#4ac16d 80.5px,#50c46a 93.5px,#50c46a 110.5px,#44bf70 141.5px,#44bf70 178.5px,#48c16e 190.5px)"></i>
<i style="background:linear-gradient(90deg,#fff 2px,#460a5d 2px,#470d60 13.5px,#481668 25.5px,#481f70 31.5px,#472c7a 36.5px,#414487 43.5px,#355e8d 49.5px,#25838e 57.5px,#1f9e89 62.5px,#25ac82 65.5px,#3bbb75 69.5px,#54c568 74.5px,#60ca60 80.5px,#65cb5e 86.5px,#73d056 119.5px,#73d056 135.5px,#63cb5f 176.5px,#65cb5e 190.5px)"></i>
<i style="background:linear-gradient(90deg,#fff 2px,#460a5d 2px,#470e61 20.5px,#481b6d 31.5px,#472e7c 38.5px,#3c4f8a 46.5px,#287c8e 55.5px,#1f9e89 61.5px,#28ae80 64.5px,#54c568 69.5px,#7cd250 75.5px,#8bd646 80.5px,#93d741 86.5px,#a8db34 120.5px,#a5db36 145.5px,#89d548 177.5px,#86d549 190.5px)"></i>
<i style="background:linear-gradient(90deg,#fff 2px,#46085c 2px,#470e61 24.5px,#481b6d 33.5px,#472d7b 39.5px,#39558c 48.5px,#26828e 56.5px,#1fa187 61.5px,#22a884 62.5px,#31b57b 64.5px,#5ec962 68.5px,#8bd646 72.5px,#a2da37 75.5px,#b2dd2d 78.5px,#bddf26 82.5px,#c2df23 87.5px,#d2e21b 128.5px,#d2e21b 139.5px,#cde11d 151.5px,#a5db36 181.5px,#a5db36 190.5px)"></i>
<i style="background:linear-gradient(90deg,#fff 2px,#46085c 2px,#460b5e 22.5px,#481769 33.5px,#472f7d 41.5px,#3e4c8a 47.5px,#277f8e 56.5px,#1fa188 61.5px,#22a785 62.5px,#31b57b 64.5px,#75d054 69.5px,#9dd93b 72.5px,#bddf26 75.5px,#d0e11c 78.5px,#dae319 81.5px,#e5e419 91.5px,#ece51b 121.5px,#ece51b 149.5px,#e7e419 156.5px,#dae319 164.5px,#cae11f 171.5px,#b8de29 183.5px,#b8de29 190.5px)"></i>
<i style="background:linear-gradient(90deg,#fff 2px,#46085c 2px,#460a5d 22.5px,#470d60 28.5px,#481668 34.5px,#472e7c 42.5px,#3c508b 49.5px,#277f8e 57.5px,#20938c 60.5px,#1fa287 62.5px,#2cb17e 64.5px,#42be71 66.5px,#93d741 71.5px,#c5e021 75.5px,#d5e21a 77.5px,#e2e418 79.5px,#efe51c 83.5px,#f4e61e 87.5px,#f1e51d 135.5px,#f6e620 146.5px,#f4e61e 159.5px,#dfe318 172.5px,#cae11f 184.5px,#c8e020 190.5px)"></i>
<i style="background:linear-gradient(90deg,#fff 2px,#46085c 2px,#460a5d 26.5px,#48186a 37.5px,#46307e 44.5px,#3a538b 51.5px,#25838e 59.5px,#1fa188 63.5px,#22a884 64.5px,#34b679 66.5px,#70cf57 70.5px,#addc30 74.5px,#cde11d 77.5px,#e2e418 80.5px,#eae51a 82.5px,#f4e61e 86.5px,#f6e620 90.5px,#efe51c 123.5px,#f1e51d 159.5px,#e2e418 173.5px,#d8e219 180.5px,#d0e11c 190.5px)"></i>
<i style="background:linear-gradient(90deg,#fff 2px,#46085c 2px,#460a5d 28.5px,#481769 38.5px,#472a7a 44.5px,#3b518b 52.5px,#297b8e 59.5px,#1f9e89 64.5px,#27ad81 66.5px,#3bbb75 68.5px,#69cd5b 71.5px,#95d840 74.5px,#b0dd2f 76.5px,#c2df23 78.5px,#d2e21b 80.5px,#dde318 82.5px,#eae51a 87.5px,#ece51b 92.5px,#e7e419 103.5px,#e2e418 144.5px,#e5e419 154.5px,#dde318 171.5px,#cae11f 190.5px)"></i>
<i style="background:linear-gradient(90deg,#fff 2px,#46085c 2px,#460a5d 31.5px,#48186a 40.5px,#46307e 47.5px,#3a548c 54.5px,#277f8e 61.5px,#20938c 64.5px,#1fa187 66.5px,#2ab07f 68.5px,#40bd72 70.5px,#69cd5b 73.5px,#93d741 76.5px,#bade28 80.5px,#d0e11c 84.5px,#dae319 89.5px,#dae319 97.5px,#d0e11c 118.5px,#d5e21a 160.5px,#cde11d 171.5px,#bddf26 185.5px,#bddf26 190.5px)"></i>
<i style="background:linear-gradient(90deg,#fff 2px,#46085c 2px,#46085c 29.5px,#460a5d 33.5px,#481467 40.5px,#46327e 49.5px,#3c4f8a 55.5px,#277e8e 63.5px,#1f9f88 68.5px,#26ad81 70.5px,#37b878 72.5px,#7ad151 78.5px,#9bd93c 82.5px,#addc30 86.5px,#bade28 93.5px,#bade28 133.5px,#bddf26 134.5px,#bade28 155.5px,#a5db36 175.5px,#a0da39 182.5px,#a0da39 190.5px)"></i>
<i style="background:linear-gradient(90deg,#fff 2px,#46085c 2px,#46085c 31.5px,#460b5e 36.5px,#481a6c 44.5px,#472d7b 50.5px,#3b528b 58.5px,#277f8e 66.5px,#1e9d89 71.5px,#27ad81 74.5px,#3dbc74 77.5px,#60ca60 82.5px,#73d056 86.5px,#7cd250 89.5px,#84d44b 95.5px,#93d741 134.5px,#89d548 156.5px,#7ad151 172.5px,#77d153 190.5px)"></i>
<i style="background:linear-gradient(90deg,#fff 2px,#46085c 2px,#46085c 33.5px,#460b5e 38.5px,#481a6c 46.5px,#46337f 54.5px,#3a538b 61.5px,#277e8e 69.5px,#1e9d89 75.5px,#21a585 77.5px,#2ab07f 80.5px,#44bf70 87.5px,#4ec36b 92.5px,#52c569 97.5px,#63cb5f 143.5px,#60ca60 153.5px,#52c569 175.5px,#50c46a 190.5px)"></i>
<i style="background:linear-gradient(90deg,#fff 2px,#46085c 2px,#46085c 35.5px,#481668 46.5px,#482878 53.5px,#453781 57.5px,#34608d 66.5px,#228c8d 75.5px,#1e9c89 79.5px,#24aa83 84.5px,#2eb37c 90.5px,#3fbc73 130.5px,#3fbc73 152.5px,#38b977 169.5px,#37b878 190.5px)"></i>
<i style="background:linear-gradient(90deg,#fff 2px,#46085c 2px,#46085c 36.5px,#481467 47.5px,#472c7a 56.5px,#414487 62.5px,#355f8d 68.5px,#27808e 75.5px,#1f968b 81.5px,#22a884 89.5px,#25ac82 93.5px,#2cb17e 119.5px,#2cb17e 190.5px)"></i>
<i style="background:linear-gradient(90deg,#fff 2px,#46085c 2px,#46085c 37.5px,#471365 48.5px,#472c7a 58.5px,#423f85 63.5px,#375a8c 69.5px,#21918c 82.5px,#20a386 90.5px,#22a884 95.5px,#28ae80 121.5px,#25ac82 190.5px)"></i>
<i style="background:linear-gradient(90deg,#fff 2px,#46085c 2px,#46085c 39.5px,#481668 51.5px,#472a7a 59.5px,#433d84 64.5px,#365d8d 71.5px,#287d8e 78.5px,#1f978b 85.5px,#20a386 90.5px,#25ac82 96.5px,#2ab07f 108.5px,#2cb17e 128.5px,#25ab82 190.5px)"></i>
<i style="background:linear-gradient(90deg,#fff 2px,#46085c 2px,#46085c 40.5px,#481467 51.5px,#482878 59.5px,#414287 66.5px,#375b8d 71.5px,#26818e 79.5px,#1f998a 85.5px,#21a685 89.5px,#2cb17e 95.5px,#34b679 104.5px,#34b679 125.5px,#2cb17e 150.5px,#31b57b 190.5px)"></i>
<i style="background:linear-gradient(90deg,#fff 2px,#46085c 2px,#46085c 41.5px,#481467 52.5px,#472d7b 61.5px,#3a548c 70.5px,#287d8e 78.5px,#1f9a8a 84.5px,#21a685 87.5px,#31b57b 92.5px,#3dbc74 96.5px,#48c16e 105.5px,#40bd72 166.5px,#4cc26c 190.5px)"></i>
<i style="background:linear-gradient(90deg,#fff 2px,#46085c 2px,#46085c 42.5px,#471365 52.5px,#482677 60.5px,#453581 64.5px,#3b528b 70.5px,#287c8e 78.5px,#1e9d89 84.5px,#25ab82 87.5px,#3aba76 91.5px,#5cc863 98.5px,#67cc5c 103.5px,#69cd5b 106.5px,#69cd5b 136.5px,#60ca60 164.5px,#60ca60 179.5px,#65cb5e 190.5px)"></i>
<i style="background:linear-gradient(90deg,#fff 2px,#46085c 2px,#46085c 43.5px,#481467 54.5px,#482979 62.5px,#433d84 67.5px,#39558c 72.5px,#26818e 80.5px,#1f978b 84.5px,#1fa187 86.5px,#2ab07f 89.5px,#46c06f 93.5px,#54c568 95.5px,#6ccd5a 100.5px,#77d153 104.5px,#7fd34e 111.5px,#7fd34e 152.5px,#73d056 177.5px,#73d056 190.5px)"></i>
<i style="background:linear-gradient(90deg,#fff 2px,#46085c 2px,#46085c 44.5px,#470e61 52.5px,#481769 57.5px,#472a7a 64.5px,#3b528b 73.5px,#287d8e 81.5px,#1f9f88 87.5px,#27ad81 90.5px,#42be71 94.5px,#58c765 97.5px,#6ccd5a 101.5px,#81d34d 110.5px,#84d44b 166.5px,#7ad151 190.5px)"></i>
<i style="background:linear-gradient(90deg,#fff 2px,#46085c 2px,#46085c 45.5px,#460b5e 51.5px,#481467 57.5px,#482576 64.5px,#453882 69.5px,#3a548c 75.5px,#277f8e 83.5px,#1fa088 89.5px,#28ae80 92.5px,#42be71 96.5px,#5ac864 100.5px,#6ccd5a 104.5px,#7ad151 110.5px,#7fd34e 117.5px,#75d054 190.5px)"></i>
<i style="background:linear-gradient(90deg,#fff 2px,#46085c 2px,#46085c 47.5px,#471365 58.5px,#472d7b 68.5px,#3c508b 76.5px,#277e8e 85.5px,#1e9d89 91.5px,#25ab82 94.5px,#38b977 98.5px,#48c16e 101.5px,#5ec962 107.5px,#69cd5b 114.5px,#6ece58 121.5px,#6ece58 140.5px,#67cc5c 159.5px,#67cc5c 180.5px,#6ccd5a 190.5px)"></i>
<i style="background:linear-gradient(90deg,#fff 2px,#46085c 2px,#46085c 49.5px,#471164 59.5px,#472a7a 69.5px,#3e4c8a 77.5px,#2a788e 86.5px,#1f9a8a 93.5px,#24aa83 97.5px,#32b67a 101.5px,#42be71 106.5px,#4cc26c 111.5px,#52c569 118.5px,#52c569 157.5px,#5ec962 190.5px)"></i>
<i style="background:linear-gradient(90deg,#fff 2px,#46085c 2px,#46085c 50.5px,#460b5e 56.5px,#481668 63.5px,#472a7a 71.5px,#3c508b 80.5px,#287c8e 89.5px,#1e9c89 96.5px,#22a785 99.5px,#2ab07f 102.5px,#3bbb75 108.5px,#46c06f 118.5px,#40bd72 141.5px,#40bd72 161.5px,#4ec36b 190.5px)"></i>
<i style="background:linear-gradient(90deg,#fff 2px,#46085c 2px,#46085c 52.5px,#481467 64.5px,#482878 72.5px,#3f4788 80.5px,#30698e 87.5px,#218f8d 95.5px,#1fa088 99.5px,#29af7f 104.5px,#3aba76 110.5px,#40bd72 114.5px,#46c06f 123.5px,#42be71 159.5px,#4ac16d 190.5px)"></i>
<i style="background:linear-gradient(90deg,#fff 2px,#46085c 2px,#46085c 53.5px,#460b5e 59.5px,#481668 66.5px,#472a7a 74.5px,#3a548c 84.5px,#297b8e 92.5px,#1e9b8a 99.5px,#22a785 102.5px,#2ab07f 105.5px,#3dbc74 111.5px,#4ac16d 118.5px,#52c569 132.5px,#50c46a 190.5px)"></i>
<i style="background:linear-gradient(90deg,#fff 2px,#46085c 2px,#46085c 55.5px,#471365 66.5px,#482979 75.5px,#3d4e8a 84.5px,#297a8e 93.5px,#1e9c89 100.5px,#22a884 103.5px,#35b779 108.5px,#50c46a 116.5px,#5ac864 122.5px,#60ca60 130.5px,#5ac864 190.5px)"></i>
<i style="background:linear-gradient(90deg,#fff 2px,#46085c 2px,#46085c 56.5px,#481668 69.5px,#472a7a 77.5px,#433d84 82.5px,#3a548c 87.5px,#26818e 96.5px,#1f9e89 102.5px,#21a685 104.5px,#31b57b 108.5px,#58c765 117.5px,#65cb5e 122.5px,#6ece58 130.5px,#63cb5f 190.5px)"></i>
<i style="background:linear-gradient(90deg,#fff 2px,#46085c 2px,#46085c 58.5px,#481467 70.5px,#472e7c 80.5px,#3c508b 88.5px,#287c8e 97.5px,#1e9d89 104.5px,#23a983 107.5px,#3bbb75 113.5px,#5cc863 122.5px,#69cd5b 129.5px,#6ece58 134.5px,#6ece58 190.5px)"></i>
<i style="background:linear-gradient(90deg,#fff 2px,#46085c 2px,#46085c 59.5px,#470e61 68.5px,#48186a 74.5px,#472c7a 81.5px,#414287 87.5px,#355f8d 93.5px,#27808e 100.5px,#1f9a8a 106.5px,#25ab82 111.5px,#40bd72 119.5px,#5cc863 129.5px,#6ccd5a 142.5px,#6ece58 190.5px)"></i>
<i style="background:linear-gradient(90deg,#fff 2px,#46085c 2px,#46085c 61.5px,#471063 71.5px,#482878 82.5px,#443983 87.5px,#3a538b 93.5px,#27808e 103.5px,#1e9c89 110.5px,#25ab82 115.5px,#40bd72 124.5px,#58c765 134.5px,#67cc5c 148.5px,#63cb5f 190.5px)"></i>
<i style="background:linear-gradient(90deg,#fff 2px,#46085c 2px,#46085c 63.5px,#470d60 70.5px,#482173 82.5px,#453882 89.5px,#355f8d 98.5px,#26828e 106.5px,#1e9b8a 113.5px,#22a785 117.5px,#34b679 124.5px,#4cc26c 136.5px,#56c667 148.5px,#58c765 163.5px,#52c569 190.5px)"></i>
<i style="background:linear-gradient(90deg,#fff 2px,#46085c 2px,#46085c 65.5px,#470d60 72.5px,#481a6c 81.5px,#472c7a 88.5px,#404688 95.5px,#375b8d 100.5px,#2a788e 107.5px,#1f978b 116.5px,#20a486 121.5px,#2ab07f 127.5px,#38b977 136.5px,#3dbc74 144.5px,#40bd72 166.5px,#3fbc73 190.5px)"></i>
<i style="background:linear-gradient(90deg,#fff 2px,#46085c 2px,#46085c 67.5px,#470e61 76.5px,#481769 82.5px,#472c7a 91.5px,#404588 98.5px,#38598c 103.5px,#2c738e 110.5px,#21908d 119.5px,#21a585 129.5px,#2cb17e 145.5px,#31b57b 190.5px)"></i>
<i style="background:linear-gradient(90deg,#fff 2px,#46085c 2px,#46085c 69.5px,#470d60 77.5px,#481f70 89.5px,#46327e 96.5px,#3b528b 105.5px,#25838e 120.5px,#1e9b8a 132.5px,#22a884 151.5px,#25ab82 190.5px)"></i>
<i style="background:linear-gradient(90deg,#fff 2px,#46085c 2px,#46085c 71.5px,#470e61 81.5px,#481d6f 91.5px,#46337f 99.5px,#3c4f8a 107.5px,#26818e 122.5px,#1f9a8a 135.5px,#20a486 155.5px,#1fa287 190.5px)"></i>
<i style="background:linear-gradient(90deg,#fff 2px,#46085c 2px,#46085c 72.5px,#470e61 83.5px,#482173 95.5px,#453882 103.5px,#3a548c 111.5px,#26818e 125.5px,#1f958b 135.5px,#1fa187 151.5px,#20a486 190.5px)"></i>
<i style="background:linear-gradient(90deg,#fff 2px,#46085c 2px,#46085c 74.5px,#470d60 84.5px,#481a6c 94.5px,#482475 99.5px,#463480 105.5px,#3c4f8a 113.5px,#287c8e 127.5px,#20938c 138.5px,#1fa187 154.5px,#21a685 190.5px)"></i>
<i style="background:linear-gradient(90deg,#fff 2px,#46085c 2px,#46085c 77.5px,#470e61 88.5px,#482374 101.5px,#453581 108.5px,#3c508b 116.5px,#26828e 132.5px,#1f958b 142.5px,#1fa088 156.5px,#20a386 190.5px)"></i>
<i style="background:linear-gradient(90deg,#fff 2px,#46085c 2px,#46085c 79.5px,#470e61 90.5px,#482475 104.5px,#3e4a89 117.5px,#26818e 135.5px,#1f968b 146.5px,#1fa188 160.5px,#1fa188 190.5px)"></i>
<i style="background:linear-gradient(90deg,#fff 2px,#46085c 2px,#46085c 81.5px,#470e61 93.5px,#482475 107.5px,#3e4c8a 121.5px,#2b758e 135.5px,#228d8d 146.5px,#1e9b8a 160.5px,#1e9c89 190.5px)"></i>
<i style="background:linear-gradient(90deg,#fff 2px,#46085c 2px,#46085c 84.5px,#470d60 94.5px,#48186a 104.5px,#482576 111.5px,#3f4889 124.5px,#2b758e 141.5px,#23888e 152.5px,#218f8d 158.5px,#1f948c 171.5px,#20938c 190.5px)"></i>
<i style="background:linear-gradient(90deg,#fff 2px,#46085c 2px,#46085c 86.5px,#460b5e 94.5px,#481467 104.5px,#481d6f 110.5px,#46337f 120.5px,#3e4c8a 129.5px,#2e6d8e 142.5px,#26828e 154.5px,#228d8d 169.5px,#218f8d 190.5px)"></i>
<i style="background:linear-gradient(90deg,#fff 2px,#46085c 2px,#46085c 89.5px,#460b5e 97.5px,#481467 107.5px,#481d6f 113.5px,#46307e 122.5px,#3e4989 131.5px,#2e6d8e 145.5px,#277e8e 155.5px,#228b8d 171.5px,#228d8d 190.5px)"></i>
<i style="background:linear-gradient(90deg,#fff 2px,#46085c 2px,#46085c 92.5px,#460b5e 100.5px,#481467 110.5px,#481f70 117.5px,#46337f 126.5px,#3f4889 134.5px,#31668e 146.5px,#297a8e 157.5px,#24878e 170.5px,#238a8d 190.5px)"></i>
<i style="background:linear-gradient(90deg,#fff 2px,#46085c 2px,#46085c 95.5px,#460b5e 103.5px,#471164 111.5px,#482173 122.5px,#453781 131.5px,#3e4c8a 139.5px,#33628d 148.5px,#2a768e 159.5px,#25838e 172.5px,#24878e 190.5px)"></i>
<i style="background:linear-gradient(90deg,#fff 2px,#46085c 2px,#46085c 98.5px,#470d60 109.5px,#482173 125.5px,#404688 140.5px,#375a8c 148.5px,#2d708e 160.5px,#297b8e 172.5px,#26818e 190.5px)"></i>
<i style="background:linear-gradient(90deg,#fff 2px,#46085c 2px,#46085c 101.5px,#470d60 112.5px,#471365 119.5px,#482173 129.5px,#414487 144.5px,#31668e 161.5px,#2c728e 175.5px,#2a778e 190.5px)"></i>
<i style="background:linear-gradient(90deg,#fff 2px,#46085c 2px,#46085c 104.5px,#460b5e 113.5px,#481668 125.5px,#482071 132.5px,#46337f 141.5px,#3e4c8a 152.5px,#32648e 168.5px,#2c718e 190.5px)"></i>
<i style="background:linear-gradient(90deg,#fff 2px,#46085c 2px,#46085c 107.5px,#460b5e 116.5px,#471164 124.5px,#482071 135.5px,#443983 147.5px,#3e4989 155.5px,#355f8d 170.5px,#30698e 190.5px)"></i>
<i style="background:linear-gradient(90deg,#fff 2px,#46085c 2px,#460a5d 116.5px,#471365 129.5px,#482071 139.5px,#414287 157.5px,#38588c 173.5px,#34608d 190.5px)"></i>
<i style="background:linear-gradient(90deg,#fff 2px,#46085c 2px,#460a5d 120.5px,#481b6d 141.5px,#443a83 161.5px,#3e4c8a 177.5px,#3b528b 190.5px)"></i>
<i style="background:linear-gradient(90deg,#fff 2px,#46085c 2px,#460a5d 123.5px,#481769 142.5px,#453781 167.5px,#3e4989 190.5px)"></i>
<i style="background:linear-gradient(90deg,#fff 2px,#46085c 2px,#460a5d 127.5px,#481769 146.5px,#472f7d 167.5px,#424086 190.5px)"></i>
<i style="background:linear-gradient(90deg,#fff 2px,#46085c 2px,#460a5d 131.5px,#481467 148.5px,#482979 169.5px,#453882 190.5px)"></i>
<i style="background:linear-gradient(90deg,#fff 2px,#46085c 2px,#46085c 128.5px,#470e61 145.5px,#482677 174.5px,#46307e 190.5px)"></i>
<i style="background:linear-gradient(90deg,#fff 2px,#46085c 2px,#46085c 132.5px,#471063 153.5px,#472c7a 190.5px)"></i>
<i style="background:linear-gradient(90deg,#fff 2px,#46085c 2px,#46085c 137.5px,#471063 159.5px,#482475 190.5px)"></i>
<i style="background:linear-gradient(90deg,#fff 2px,#46085c 2px,#46085c 142.5px,#481c6e 190.5px)"></i>
<i style="background:linear-gradient(90deg,#fff 2px,#46085c 2px,#46085c 147.5px,#481769 190.5px)"></i>
<i style="background:linear-gradient(90deg,#fff 2px,#46085c 2px,#46085c 154.5px,#471164 190.5px)"></i>
<i style="background:linear-gradient(90deg,#fff 2px,#46085c 2px,#46085c 161.5px,#470e61 190.5px)"></i>
<i style="background:linear-gradient(90deg,#fff 2px,#46085c 2px,#46085c 169.5px,#460b5e 190.5px)"></i>
<i style="background:linear-gradient(90deg,#fff 2px,#46085c 2px,#460a5d 190.5px)"></i>
<i style="background:linear-gradient(90deg,#fff 2px,#46085c 2px,#46085c 190.5px)"></i>
<i style="background:linear-gradient(90deg,#fff 2px,#46085c 2px,#46085c 190.5px)"></i>
<i style="background:linear-gradient(90deg,#fff 2px,#46085c 2px,#46085c 190.5px)"></i>
<i style="background:linear-gradient(90deg,#fff 2px,#46085c 2px,#46085c 190.5px)"></i>
<i style="background:linear-gradient(90deg,#fff 2px,#46085c 2px,#46085c 190.5px)"></i>
<i style="background:linear-gradient(90deg,#fff 2px,#46085c 2px,#46085c 190.5px)"></i>
<i style="background:linear-gradient(90deg,#fff 2px,#46085c 2px,#46085c 190.5px)"></i>
<i style="background:linear-gradient(90deg,#fff 2px,#46085c 2px,#46085c 190.5px)"></i>
<i style="background:linear-gradient(90deg,#fff 2px,#46085c 2px,#46085c 190.5px)"></i>
<i style="background:linear-gradient(90deg,#fff 2px,#46085c 2px,#46085c 190.5px)"></i>
<i style="background:linear-gradient(90deg,#fff 2px,#46085c 2px,#46085c 190.5px)"></i>
<i style="background:linear-gradient(90deg,#fff 2px,#46085c 2px,#46085c 190.5px)"></i>
<i style="background:linear-gradient(90deg,#fff 2px,#46085c 2px,#46085c 190.5px)"></i>
<i style="background:linear-gradient(90deg,#fff 2px,#46085c 2px,#46085c 190.5px)"></i>
<i style="background:linear-gradient(90deg,#fff 2px,#46085c 2px,#46085c 190.5px)"></i>
<i style="background:linear-gradient(90deg,#fff 2px,#46085c 2px,#46085c 190.5px)"></i>
<i style="background:linear-gradient(90deg,#fff 2px,#46085c 2px,#46085c 190.5px)"></i>
<i style="background:linear-gradient(90deg,#fff 2px,#46085c 2px,#46085c 190.5px)"></i>
<i style="background:linear-gradient(90deg,#fff 2px,#46085c 2px,#46085c 190.5px)"></i>
<i style="background:linear-gradient(90deg,#fff 2px,#46085c 2px,#46085c 190.5px)"></i>
<i style="background:linear-gradient(90deg,#fff 2px,#46085c 2px,#46085c 190.5px)"></i>
<i style="background:linear-gradient(90deg,#fff 2px,#46085c 2px,#46085c 190.5px)"></i>
<i style="background:linear-gradient(90deg,#fff 2px,#46085c 2px,#46085c 190.5px)"></i>
<i style="background:linear-gradient(90deg,#fff 2px,#46085c 2px,#46085c 190.5px)"></i>
<i style="background:linear-gradient(90deg,#fff 2px,#46085c 2px,#46085c 190.5px)"></i>
<i style="background:linear-gradient(90deg,#fff 2px,#46085c 2px,#46085c 190.5px)"></i>
<i style="background:linear-gradient(90deg,#fff 2px,#46085c 2px,#46085c 190.5px)"></i>
<i style="background:linear-gradient(90deg,#fff 2px,#46085c 2px,#46085c 190.5px)"></i>
<i style="background:linear-gradient(90deg,#fff 2px,#46085c 2px,#46085c 190.5px)"></i>
<i style="background:linear-gradient(90deg,#fff 2px,#46085c 2px,#46085c 190.5px)"></i>
<i style="background:linear-gradient(90deg,#fff 2px,#46085c 2px,#46085c 190.5px)"></i>
<i style="background:linear-gradient(90deg,#fff 2px,#46085c 2px,#46085c 190.5px)"></i>
<i style="background:linear-gradient(90deg,#fff 2px,#46085c 2px,#46085c 190.5px)"></i>
<i style="background:linear-gradient(90deg,#fff 2px,#46085c 2px,#46085c 190.5px)"></i>
<i style="background:linear-gradient(90deg,#fff 2px,#46085c 2px,#46085c 190.5px)"></i>
<i style="background:linear-gradient(90deg,#fff 2px,#46085c 2px,#46085c 190.5px)"></i>
<i style="background:linear-gradient(90deg,#fff 2px,#46085c 2px,#46085c 190.5px)"></i>
<i style="background:linear-gradient(90deg,#fff 2px,#46085c 2px,#46085c 190.5px)"></i>
<i style="background:linear-gradient(90deg,#fff 2px,#46085c 2px,#46085c 190.5px)"></i>
<i style="background:linear-gradient(90deg,#fff 2px,#46085c 2px,#46085c 190.5px)"></i>
<i style="background:linear-gradient(90deg,#fff 2px,#46085c 2px,#46085c 190.5px)"></i>
<i style="background:linear-gradient(90deg,#fff 2px,#46085c 2px,#46085c 190.5px)"></i>
<i style="background:linear-gradient(90deg,#fff 2px,#46085c 2px,#46085c 190.5px)"></i>
<i style="background:linear-gradient(90deg,#fff 2px,#46085c 2px,#46085c 190.5px)"></i>
<i style="background:linear-gradient(90deg,#fff 2px,#46085c 2px,#46085c 190.5px)"></i>
<i style="background:linear-gradient(90deg,#fff 2px,#46085c 2px,#46085c 190.5px)"></i>
<i style="background:linear-gradient(90deg,#fff 2px,#46085c 2px,#46085c 190.5px)"></i>
<i style="background:linear-gradient(90deg,#fff 2px,#46085c 2px,#46085c 190.5px)"></i>
<i style="background:linear-gradient(90deg,#fff 2px,#46085c 2px,#46085c 190.5px)"></i>
<i style="background:linear-gradient(90deg,#fff 2px,#46085c 2px,#460a5d 190.5px)"></i>
<i style="background:linear-gradient(90deg,#fff 2px,#46085c 2px,#470d60 190.5px)"></i>
<i style="background:linear-gradient(90deg,#fff 2px,#46085c 2px,#46085c 90.5px,#470e61 117.5px,#471365 190.5px)"></i>
<i style="background:linear-gradient(90deg,#fff 2px,#46085c 2px,#46085c 85.5px,#481467 118.5px,#481668 144.5px,#481c6e 166.5px,#481c6e 190.5px)"></i>
<i style="background:linear-gradient(90deg,#fff 2px,#46085c 2px,#46085c 82.5px,#481d6f 120.5px,#481f70 140.5px,#472c7a 169.5px,#472c7a 190.5px)"></i>
<i style="background:linear-gradient(90deg,#fff 2px,#46085c 2px,#46085c 81.5px,#472a7a 120.5px,#472f7d 145.5px,#424086 169.5px,#424086 190.5px)"></i>
<i style="background:linear-gradient(90deg,#fff 2px,#46085c 2px,#46085c 80.5px,#482173 101.5px,#443983 119.5px,#424086 143.5px,#38598c 169.5px,#375a8c 190.5px)"></i>
<i style="background:linear-gradient(90deg,#fff 2px,#46085c 2px,#46085c 68.5px,#460b5e 79.5px,#481668 87.5px,#453781 104.5px,#3f4889 114.5px,#3b528b 123.5px,#39568c 141.5px,#2a768e 170.5px,#2a768e 190.5px)"></i>
<i style="background:linear-gradient(90deg,#fff 2px,#46085c 2px,#46085c 61.5px,#471063 75.5px,#481c6e 84.5px,#423f85 98.5px,#365d8d 111.5px,#31688e 118.5px,#2d708e 127.5px,#2c718e 140.5px,#1f988b 170.5px,#1f998a 190.5px)"></i>
<i style="background:linear-gradient(90deg,#fff 2px,#46085c 2px,#46085c 58.5px,#470d60 65.5px,#481d6f 79.5px,#46327e 87.5px,#3d4e8a 96.5px,#2e6e8e 108.5px,#26828e 120.5px,#23898e 128.5px,#238a8d 139.5px,#20928c 146.5px,#1fa088 154.5px,#24aa83 160.5px,#32b67a 169.5px,#32b67a 190.5px)"></i>
<i style="background:linear-gradient(90deg,#fff 2px,#46085c 2px,#460a5d 60.5px,#482173 77.5px,#463480 84.5px,#3c4f8a 92.5px,#2b748e 104.5px,#20928c 119.5px,#1e9b8a 129.5px,#1e9b8a 138.5px,#20a386 146.5px,#26ad81 151.5px,#32b67a 156.5px,#32b67a 190.5px)"></i>
<i style="background:linear-gradient(90deg,#fff 2px,#46085c 2px,#46085c 57.5px,#460b5e 61.5px,#482475 76.5px,#453781 83.5px,#3c4f8a 90.5px,#287d8e 105.5px,#1f9a8a 121.5px,#1fa088 129.5px,#1fa088 138.5px,#21a585 144.5px,#26ad81 149.5px,#32b67a 154.5px,#32b67a 190.5px)"></i>
<i style="background:linear-gradient(90deg,#fff 2px,#46085c 2px,#460a5d 59.5px,#482475 76.5px,#453781 83.5px,#3d4e8a 90.5px,#2a788e 105.5px,#228d8d 117.5px,#1f968b 128.5px,#1f978b 139.5px,#1fa188 148.5px,#24aa83 154.5px,#32b67a 162.5px,#32b67a 190.5px)"></i>
<i style="background:linear-gradient(90deg,#fff 2px,#46085c 2px,#460a5d 59.5px,#482475 76.5px,#3e4a89 90.5px,#2e6f8e 104.5px,#277f8e 115.5px,#23888e 126.5px,#238a8d 141.5px,#1e9c89 157.5px,#22a884 168.5px,#24aa83 190.5px)"></i>
<i style="background:linear-gradient(90deg,#fff 2px,#46085c 2px,#46085c 57.5px,#481668 68.5px,#482475 76.5px,#414287 88.5px,#365d8d 99.5px,#2f6c8e 108.5px,#29798e 125.5px,#287c8e 143.5px,#20928c 170.5px,#20928c 190.5px)"></i>
<i style="background:linear-gradient(90deg,#fff 2px,#46085c 2px,#46085c 57.5px,#481b6d 71.5px,#433e85 87.5px,#39558c 98.5px,#33628d 107.5px,#2f6c8e 125.5px,#2e6d8e 141.5px,#297b8e 166.5px,#287c8e 190.5px)"></i>
<i style="background:linear-gradient(90deg,#fff 2px,#46085c 2px,#46085c 57.5px,#481668 68.5px,#453882 85.5px,#3b528b 99.5px,#375b8d 107.5px,#34618d 124.5px,#33628d 143.5px,#2f6b8e 166.5px,#2f6c8e 190.5px)"></i>
<i style="background:linear-gradient(90deg,#fff 2px,#46085c 2px,#46085c 57.5px,#481668 68.5px,#443983 86.5px,#3c4f8a 99.5px,#39558c 107.5px,#355f8d 165.5px,#355f8d 190.5px)"></i>
<i style="background:linear-gradient(90deg,#fff 2px,#46085c 2px,#46085c 57.5px,#481668 68.5px,#453781 85.5px,#3e4a89 97.5px,#3b528b 106.5px,#38588c 190.5px)"></i>
<i style="background:linear-gradient(90deg,#fff 2px,#46085c 2px,#46085c 57.5px,#481668 68.5px,#443a83 87.5px,#3f4889 96.5px,#3c508b 105.5px,#3a538b 190.5px)"></i>
<i style="background:linear-gradient(90deg,#fff 2px,#46085c 2px,#46085c 57.5px,#481668 68.5px,#453882 86.5px,#414487 93.5px,#3c4f8a 104.5px,#3c508b 190.5px)"></i>
<i style="background:linear-gradient(90deg,#fff 2px,#46085c 2px,#46085c 57.5px,#481668 68.5px,#453882 86.5px,#414487 93.5px,#3c4f8a 105.5px,#3c508b 190.5px)"></i>
<i style="background:linear-gradient(90deg,#fff 2px,#46085c 2px,#46085c 57.5px,#481668 68.5px,#453882 86.5px,#375a8c 109.5px,#2d708e 190.5px)"></i>
<i style="background:linear-gradient(90deg,#fff 2px,#46085c 2px,#46085c 81.5px,#471365 87.5px,#472c7a 95.5px,#3f4788 102.5px,#355e8d 108.5px,#277e8e 190.5px)"></i>
<i style="background:linear-gradient(90deg,#fff 2px,#46085c 2px,#46085c 69.5px,#460a5d 70.5px,#482576 73.5px,#3e4c8a 83.5px,#277f8e 97.5px,#1f9e89 108.5px,#25ac82 190.5px)"></i>
<i style="background:linear-gradient(90deg,#fff 2px,#46085c 2px,#460a5d 65.5px,#481a6c 67.5px,#463480 69.5px,#39558c 71.5px,#2d708e 73.5px,#25858e 79.5px,#1f998a 86.5px,#20a486 91.5px,#25ac82 97.5px,#26ad81 190.5px)"></i>
<i style="background:linear-gradient(90deg,#fff 2px,#46085c 2px,#460a5d 60.5px,#481668 62.5px,#482071 63.5px,#443b84 65.5px,#3e4c8a 66.5px,#29798e 69.5px,#1f948c 71.5px,#1f9f88 72.5px,#22a884 74.5px,#26ad81 78.5px,#26ad81 190.5px)"></i>
<i style="background:linear-gradient(90deg,#fff 2px,#46085c 2px,#46085c 55.5px,#471164 57.5px,#482374 59.5px,#3e4a89 62.5px,#2b748e 65.5px,#1f978b 68.5px,#1f9f88 69.5px,#21a685 71.5px,#26ad81 75.5px,#26ad81 190.5px)"></i>
<i style="background:linear-gradient(90deg,#fff 2px,#46085c 2px,#460a5d 51.5px,#471164 53.5px,#482979 56.5px,#3d4e8a 59.5px,#2c728e 62.5px,#25858e 64.5px,#1e9b8a 68.5px,#21a685 71.5px,#26ad81 75.5px,#26ad81 190.5px)"></i>
</div>
<div class="hm" style="left:36px;top:255px;width:191px;height:191px">
<i style="background:linear-gradient(90deg,#fff 0.7px,#46085c 0.7px,#46085c 12.5px,#460b5e 15.5px,#482979 24.5px,#3e4989 31.5px,#26818e 42.5px,#238a8d 45.5px,#218f8d 49.5px,#277e8e 69.5px,#2a768e 83.5px,#2b758e 122.5px,#375b8d 161.5px,#3b528b 190.5px)"></i>
<i style="background:linear-gradient(90deg,#fff 0.7px,#46085c 0.7px,#46085c 13.5px,#471063 17.5px,#482374 23.5px,#453581 27.5px,#3f4788 31.5px,#277e8e 42.5px,#24878e 45.5px,#228d8d 49.5px,#2a778e 81.5px,#2a778e 122.5px,#365d8d 166.5px,#38588c 190.5px)"></i>
<i style="background:linear-gradient(90deg,#fff 0.7px,#46085c 0.7px,#46085c 13.5px,#471164 18.5px,#482979 25.5px,#3d4e8a 33.5px,#277e8e 43.5px,#24878e 47.5px,#228b8d 51.5px,#297a8e 84.5px,#2b758e 129.5px,#355f8d 176.5px,#365d8d 190.5px)"></i>
<i style="background:linear-gradient(90deg,#fff 0.7px,#46085c 0.7px,#46085c 14.5px,#460b5e 16.5px,#482071 23.5px,#453781 28.5px,#3f4889 32.5px,#287d8e 43.5px,#25838e 45.5px,#238a8d 50.5px,#2a778e 94.5px,#2a788e 136.5px,#31678e 170.5px,#32648e 190.5px)"></i>
<i style="background:linear-gradient(90deg,#fff 0.7px,#46085c 0.7px,#46085c 14.5px,#471164 19.5px,#472a7a 26.5px,#3e4c8a 33.5px,#25858e 45.5px,#218f8d 51.5px,#277e8e 80.5px,#29798e 106.5px,#297b8e 137.5px,#306a8e 170.5px,#306a8e 190.5px)"></i>
<i style="background:linear-gradient(90deg,#fff 0.7px,#46085c 0.7px,#46085c 15.5px,#460b5e 17.5px,#482979 26.5px,#433d84 30.5px,#3c508b 34.5px,#25838e 44.5px,#218e8d 47.5px,#20938c 51.5px,#1f948c 54.5px,#24878e 68.5px,#277e8e 85.5px,#2a778e 147.5px,#2e6e8e 169.5px,#306a8e 190.5px)"></i>
<i style="background:linear-gradient(90deg,#fff 0.7px,#46085c 0.7px,#46085c 15.5px,#470d60 18.5px,#482878 26.5px,#3e4989 33.5px,#25848e 45.5px,#20928c 51.5px,#20928c 55.5px,#25838e 77.5px,#2a778e 109.5px,#2b758e 157.5px,#2f6c8e 190.5px)"></i>
<i style="background:linear-gradient(90deg,#fff 0.7px,#46085c 0.7px,#46085c 16.5px,#460b5e 18.5px,#482677 26.5px,#3e4989 33.5px,#33638d 38.5px,#23888e 45.5px,#20928c 48.5px,#1f998a 52.5px,#1f9a8a 55.5px,#297a8e 100.5px,#297a8e 139.5px,#2c718e 190.5px)"></i>
<i style="background:linear-gradient(90deg,#fff 0.7px,#46085c 0.7px,#46085c 16.5px,#471365 21.5px,#472f7d 28.5px,#3a548c 35.5px,#287d8e 42.5px,#1f988b 47.5px,#1fa187 50.5px,#21a585 53.5px,#21a685 56.5px,#1f998a 68.5px,#25848e 96.5px,#26818e 123.5px,#2c728e 159.5px,#2c728e 190.5px)"></i>
<i style="background:linear-gradient(90deg,#fff 0.7px,#46085c 0.7px,#46085c 17.5px,#471164 21.5px,#482071 25.5px,#463480 29.5px,#365d8d 36.5px,#26828e 42.5px,#1f9a8a 46.5px,#22a785 49.5px,#28ae80 53.5px,#29af7f 56.5px,#1fa188 69.5px,#20938c 90.5px,#23888e 125.5px,#2a788e 158.5px,#2c718e 190.5px)"></i>
<i style="background:linear-gradient(90deg,#fff 0.7px,#46085c 0.7px,#46085c 17.5px,#471063 21.5px,#482475 26.5px,#443983 30.5px,#3d4d8a 33.5px,#32648e 37.5px,#25848e 42.5px,#1fa188 46.5px,#2ab07f 49.5px,#37b878 52.5px,#3dbc74 56.5px,#2cb17e 65.5px,#26ad81 70.5px,#1fa188 89.5px,#27808e 153.5px,#277e8e 190.5px)"></i>
<i style="background:linear-gradient(90deg,#fff 0.7px,#46085c 0.7px,#46085c 18.5px,#470e61 21.5px,#472e7c 28.5px,#3d4e8a 33.5px,#26828e 41.5px,#1fa188 45.5px,#28ae80 47.5px,#3aba76 49.5px,#4ec36b 52.5px,#5ac864 56.5px,#5ac864 58.5px,#40bd72 66.5px,#2cb17e 77.5px,#20a486 91.5px,#1f978b 109.5px,#228c8d 136.5px,#25858e 168.5px,#24878e 190.5px)"></i>
<i style="background:linear-gradient(90deg,#fff 0.7px,#46085c 0.7px,#46085c 18.5px,#471164 22.5px,#46337f 29.5px,#3c4f8a 33.5px,#287d8e 40.5px,#1e9c89 44.5px,#25ac82 46.5px,#46c06f 49.5px,#60ca60 52.5px,#70cf57 56.5px,#6ece58 59.5px,#4ec36b 67.5px,#38b977 75.5px,#2cb17e 81.5px,#22a785 90.5px,#1f998a 106.5px,#21918c 124.5px,#23888e 190.5px)"></i>
<i style="background:linear-gradient(90deg,#fff 0.7px,#46085c 0.7px,#46085c 19.5px,#471063 22.5px,#472c7a 28.5px,#3d4e8a 33.5px,#277e8e 40.5px,#1f9f88 44.5px,#29af7f 46.5px,#60ca60 50.5px,#7ad151 53.5px,#84d44b 55.5px,#89d548 57.5px,#86d549 59.5px,#75d054 62.5px,#52c569 70.5px,#3dbc74 77.5px,#2db27d 85.5px,#24aa83 94.5px,#1fa187 105.5px,#1f978b 124.5px,#1f958b 146.5px,#228b8d 178.5px,#228c8d 190.5px)"></i>
<i style="background:linear-gradient(90deg,#fff 0.7px,#46085c 0.7px,#46085c 19.5px,#470e61 22.5px,#472a7a 28.5px,#3d4d8a 33.5px,#277e8e 40.5px,#1fa088 44.5px,#2cb17e 46.5px,#5ac864 49.5px,#77d153 51.5px,#95d840 55.5px,#9dd93b 58.5px,#9bd93c 59.5px,#69cd5b 67.5px,#44bf70 76.5px,#2fb47c 84.5px,#25ac82 92.5px,#20a386 104.5px,#1e9c89 122.5px,#218f8d 170.5px,#21908d 190.5px)"></i>
<i style="background:linear-gradient(90deg,#fff 0.7px,#46085c 0.7px,#46085c 19.5px,#470d60 22.5px,#482979 28.5px,#3e4a89 33.5px,#287c8e 40.5px,#1f9e89 44.5px,#22a785 45.5px,#2ab07f 46.5px,#48c16e 48.5px,#6ccd5a 50.5px,#90d743 53.5px,#a8db34 57.5px,#aadc32 59.5px,#7cd250 67.5px,#4ec36b 78.5px,#3bbb75 84.5px,#28ae80 95.5px,#20a386 109.5px,#1f978b 139.5px,#218e8d 171.5px,#218e8d 190.5px)"></i>
<i style="background:linear-gradient(90deg,#fff 0.7px,#46085c 0.7px,#46085c 20.5px,#471063 23.5px,#472d7b 29.5px,#3c4f8a 34.5px,#27808e 41.5px,#1fa187 45.5px,#2db27d 47.5px,#69cd5b 51.5px,#89d548 54.5px,#98d83e 57.5px,#9bd93c 58.5px,#98d83e 60.5px,#70cf57 68.5px,#5ac864 74.5px,#42be71 82.5px,#29af7f 98.5px,#1f9f88 130.5px,#218f8d 190.5px)"></i>
<i style="background:linear-gradient(90deg,#fff 0.7px,#46085c 0.7px,#46085c 20.5px,#470e61 23.5px,#472c7a 29.5px,#3d4d8a 34.5px,#287d8e 41.5px,#1f9f88 45.5px,#29af7f 47.5px,#35b779 48.5px,#65cb5e 51.5px,#7cd250 53.5px,#95d840 57.5px,#9bd93c 59.5px,#98d83e 60.5px,#6ccd5a 69.5px,#4ec36b 78.5px,#37b878 90.5px,#2cb17e 100.5px,#1fa187 128.5px,#1e9b8a 146.5px,#1e9b8a 172.5px,#1f948c 190.5px)"></i>
<i style="background:linear-gradient(90deg,#fff 0.7px,#46085c 0.7px,#46085c 20.5px,#471164 24.5px,#472f7d 30.5px,#3b528b 35.5px,#287c8e 41.5px,#1e9d89 45.5px,#21a585 46.5px,#34b679 48.5px,#73d056 52.5px,#90d743 55.5px,#a0da39 58.5px,#a2da37 60.5px,#9bd93c 61.5px,#73d056 69.5px,#4ec36b 80.5px,#38b977 91.5px,#2ab07f 102.5px,#21a585 119.5px,#1f978b 147.5px,#1f998a 190.5px)"></i>
<i style="background:linear-gradient(90deg,#fff 0.7px,#46085c 0.7px,#46085c 21.5px,#471063 24.5px,#482979 29.5px,#3e4a89 34.5px,#287c8e 41.5px,#1e9d89 45.5px,#28ae80 47.5px,#44bf70 49.5px,#67cc5c 51.5px,#77d153 52.5px,#98d83e 55.5px,#a2da37 57.5px,#a8db34 59.5px,#a5db36 61.5px,#93d741 64.5px,#67cc5c 73.5px,#46c06f 83.5px,#2ab07f 100.5px,#21a585 122.5px,#1f968b 162.5px,#1f968b 190.5px)"></i>
<i style="background:linear-gradient(90deg,#fff 0.7px,#46085c 0.7px,#46085c 21.5px,#470e61 24.5px,#472d7b 30.5px,#3b518b 35.5px,#297b8e 41.5px,#1e9c89 45.5px,#27ad81 47.5px,#34b679 48.5px,#77d153 52.5px,#98d83e 55.5px,#a2da37 57.5px,#a8db34 59.5px,#a5db36 61.5px,#70cf57 70.5px,#58c765 76.5px,#4cc26c 80.5px,#40bd72 84.5px,#2cb17e 98.5px,#23a983 115.5px,#20a486 130.5px,#1f948c 171.5px,#1f948c 190.5px)"></i>
<i style="background:linear-gradient(90deg,#fff 0.7px,#46085c 0.7px,#46085c 21.5px,#471164 25.5px,#472a7a 30.5px,#3e4c8a 35.5px,#287d8e 42.5px,#1f9e89 46.5px,#29af7f 48.5px,#35b779 49.5px,#65cb5e 52.5px,#73d056 53.5px,#86d549 55.5px,#93d741 57.5px,#9bd93c 61.5px,#86d549 64.5px,#77d153 67.5px,#4ec36b 77.5px,#3aba76 85.5px,#2ab07f 97.5px,#23a983 115.5px,#22a785 134.5px,#1f9a8a 171.5px,#1f998a 190.5px)"></i>
<i style="background:linear-gradient(90deg,#fff 0.7px,#46085c 0.7px,#46085c 22.5px,#471063 25.5px,#472e7c 31.5px,#3b528b 36.5px,#287c8e 42.5px,#1f9e89 46.5px,#21a685 47.5px,#29af7f 48.5px,#56c667 51.5px,#77d153 53.5px,#84d44b 54.5px,#95d840 56.5px,#a5db36 59.5px,#a5db36 61.5px,#81d34d 67.5px,#5cc863 75.5px,#52c569 78.5px,#3fbc73 85.5px,#2eb37c 97.5px,#21a585 124.5px,#1f9a8a 190.5px)"></i>
<i style="background:linear-gradient(90deg,#fff 0.7px,#46085c 0.7px,#46085c 22.5px,#470e61 25.5px,#472d7b 31.5px,#3c508b 36.5px,#297b8e 42.5px,#1e9d89 46.5px,#21a585 47.5px,#28ae80 48.5px,#35b779 49.5px,#7cd250 53.5px,#8bd646 54.5px,#a0da39 56.5px,#b2dd2d 59.5px,#b5de2b 60.5px,#b2dd2d 62.5px,#8ed645 68.5px,#7ad151 72.5px,#52c569 84.5px,#3fbc73 94.5px,#2db27d 108.5px,#21a585 123.5px,#1e9b8a 140.5px,#1f978b 190.5px)"></i>
<i style="background:linear-gradient(90deg,#fff 0.7px,#46085c 0.7px,#46085c 22.5px,#470d60 25.5px,#472a7a 31.5px,#3d4e8a 36.5px,#27808e 43.5px,#1f998a 46.5px,#1fa287 47.5px,#25ac82 48.5px,#3fbc73 50.5px,#86d549 54.5px,#a2da37 57.5px,#b2dd2d 60.5px,#b2dd2d 62.5px,#7cd250 72.5px,#65cb5e 78.5px,#4ac16d 88.5px,#32b67a 102.5px,#28ae80 112.5px,#21a585 126.5px,#21918c 159.5px,#21908d 176.5px,#1f948c 190.5px)"></i>
<i style="background:linear-gradient(90deg,#fff 0.7px,#46085c 0.7px,#46085c 23.5px,#471063 26.5px,#472f7d 32.5px,#3e4c8a 36.5px,#287d8e 43.5px,#1f9e89 47.5px,#21a685 48.5px,#35b779 50.5px,#67cc5c 53.5px,#8bd646 56.5px,#9dd93b 59.5px,#a2da37 61.5px,#a0da39 63.5px,#7fd34e 69.5px,#6ece58 73.5px,#58c765 80.5px,#3bbb75 92.5px,#26ad81 107.5px,#1f9f88 128.5px,#228b8d 159.5px,#23898e 175.5px,#218e8d 190.5px)"></i>
<i style="background:linear-gradient(90deg,#fff 0.7px,#46085c 0.7px,#46085c 23.5px,#470e61 26.5px,#472d7b 32.5px,#3c4f8a 37.5px,#26818e 44.5px,#1fa187 48.5px,#2eb37c 50.5px,#5cc863 53.5px,#7ad151 55.5px,#8ed645 57.5px,#9dd93b 60.5px,#a0da39 63.5px,#75d054 72.5px,#5ac864 80.5px,#52c569 84.5px,#3fbc73 90.5px,#2eb37c 98.5px,#22a884 107.5px,#1e9d89 124.5px,#20928c 166.5px,#21908d 190.5px)"></i>
<i style="background:linear-gradient(90deg,#fff 0.7px,#46085c 0.7px,#46085c 24.5px,#470d60 26.5px,#472a7a 32.5px,#3e4c8a 37.5px,#287d8e 44.5px,#1f9e89 48.5px,#21a685 49.5px,#29af7f 50.5px,#35b779 51.5px,#65cb5e 54.5px,#89d548 57.5px,#9bd93c 60.5px,#a0da39 63.5px,#77d153 71.5px,#67cc5c 75.5px,#44bf70 86.5px,#2fb47c 95.5px,#26ad81 103.5px,#20a486 119.5px,#20a386 147.5px,#1f978b 190.5px)"></i>
<i style="background:linear-gradient(90deg,#fff 0.7px,#46085c 0.7px,#46085c 24.5px,#471063 27.5px,#482979 32.5px,#3e4a89 37.5px,#2b758e 43.5px,#1e9d89 48.5px,#21a685 49.5px,#35b779 51.5px,#67cc5c 54.5px,#77d153 55.5px,#98d83e 58.5px,#a2da37 60.5px,#a8db34 62.5px,#a5db36 64.5px,#86d549 69.5px,#6ece58 74.5px,#4ec36b 83.5px,#3aba76 91.5px,#2eb37c 99.5px,#27ad81 111.5px,#21a685 144.5px,#1f9f88 190.5px)"></i>
<i style="background:linear-gradient(90deg,#fff 0.7px,#46085c 0.7px,#46085c 24.5px,#470e61 27.5px,#472e7c 33.5px,#3b518b 38.5px,#287c8e 44.5px,#1e9d89 48.5px,#21a585 49.5px,#28ae80 50.5px,#35b779 51.5px,#7ad151 55.5px,#93d741 57.5px,#a8db34 60.5px,#addc30 62.5px,#addc30 64.5px,#8bd646 69.5px,#60ca60 78.5px,#4ac16d 85.5px,#35b779 97.5px,#21a685 147.5px,#1f9e89 190.5px)"></i>
<i style="background:linear-gradient(90deg,#fff 0.7px,#46085c 0.7px,#46085c 25.5px,#471164 28.5px,#472a7a 33.5px,#3d4d8a 38.5px,#277f8e 45.5px,#1fa188 49.5px,#2db27d 51.5px,#5ec962 54.5px,#70cf57 55.5px,#8bd646 57.5px,#9dd93b 59.5px,#a8db34 61.5px,#aadc32 62.5px,#a8db34 65.5px,#81d34d 72.5px,#5ac864 83.5px,#3aba76 101.5px,#2db27d 115.5px,#22a884 137.5px,#1fa187 159.5px,#1fa188 190.5px)"></i>
<i style="background:linear-gradient(90deg,#fff 0.7px,#46085c 0.7px,#460a5d 26.5px,#482173 32.5px,#443983 36.5px,#3c4f8a 39.5px,#277f8e 46.5px,#1fa088 50.5px,#2ab07f 52.5px,#63cb5f 56.5px,#7fd34e 59.5px,#8ed645 62.5px,#90d743 63.5px,#8ed645 65.5px,#69cd5b 74.5px,#4cc26c 86.5px,#38b977 98.5px,#27ad81 115.5px,#21a585 128.5px,#1f9f88 145.5px,#1fa188 190.5px)"></i>
<i style="background:linear-gradient(90deg,#fff 0.7px,#46085c 0.7px,#46085c 25.5px,#470e61 28.5px,#472a7a 34.5px,#3e4c8a 39.5px,#29798e 46.5px,#21918c 49.5px,#1fa188 51.5px,#2cb17e 53.5px,#52c569 56.5px,#6ccd5a 59.5px,#7ad151 62.5px,#7cd250 65.5px,#63cb5f 72.5px,#46c06f 83.5px,#31b57b 96.5px,#29af7f 104.5px,#21a685 121.5px,#1e9b8a 144.5px,#1f9a8a 190.5px)"></i>
<i style="background:linear-gradient(90deg,#fff 0.7px,#46085c 0.7px,#46085c 25.5px,#470d60 28.5px,#472e7c 35.5px,#3c4f8a 40.5px,#26828e 48.5px,#20928c 50.5px,#1fa287 52.5px,#2cb17e 54.5px,#42be71 56.5px,#5cc863 59.5px,#69cd5b 62.5px,#6ccd5a 65.5px,#54c568 74.5px,#3dbc74 86.5px,#2cb17e 104.5px,#1fa187 139.5px,#20938c 183.5px,#1f948c 190.5px)"></i>
<i style="background:linear-gradient(90deg,#fff 0.7px,#46085c 0.7px,#46085c 26.5px,#471063 29.5px,#482576 34.5px,#3e4a89 40.5px,#2b758e 47.5px,#1e9b8a 52.5px,#23a983 54.5px,#3aba76 57.5px,#48c16e 59.5px,#56c667 63.5px,#56c667 65.5px,#46c06f 72.5px,#38b977 81.5px,#28ae80 103.5px,#1fa187 151.5px,#20928c 182.5px,#21918c 190.5px)"></i>
<i style="background:linear-gradient(90deg,#fff 0.7px,#46085c 0.7px,#460a5d 27.5px,#482071 33.5px,#453581 37.5px,#3e4989 40.5px,#2b758e 47.5px,#1e9c89 52.5px,#24aa83 54.5px,#3fbc73 57.5px,#52c569 60.5px,#5cc863 63.5px,#5cc863 65.5px,#3fbc73 76.5px,#34b679 82.5px,#23a983 98.5px,#20a486 109.5px,#20a386 143.5px,#1f998a 170.5px,#1f978b 190.5px)"></i>
<i style="background:linear-gradient(90deg,#fff 0.7px,#46085c 0.7px,#46085c 26.5px,#470e61 29.5px,#472a7a 35.5px,#3b528b 41.5px,#27808e 48.5px,#1f9f88 52.5px,#27ad81 54.5px,#46c06f 57.5px,#56c667 59.5px,#5ec962 61.5px,#63cb5f 65.5px,#4ec36b 71.5px,#37b878 80.5px,#2ab07f 88.5px,#22a785 98.5px,#1fa187 110.5px,#1fa287 135.5px,#1f988b 159.5px,#1f978b 172.5px,#1e9c89 190.5px)"></i>
<i style="background:linear-gradient(90deg,#fff 0.7px,#46085c 0.7px,#46085c 26.5px,#470e61 29.5px,#482475 34.5px,#3e4a89 40.5px,#2a788e 47.5px,#1f9e89 52.5px,#27ad81 54.5px,#46c06f 57.5px,#5cc863 60.5px,#63cb5f 62.5px,#67cc5c 64.5px,#60ca60 67.5px,#48c16e 74.5px,#38b977 81.5px,#25ab82 98.5px,#1fa287 117.5px,#1f9a8a 159.5px,#1e9b8a 190.5px)"></i>
<i style="background:linear-gradient(90deg,#fff 0.7px,#46085c 0.7px,#46085c 26.5px,#471164 30.5px,#482979 35.5px,#3e4989 40.5px,#2b758e 47.5px,#1e9b8a 52.5px,#24aa83 54.5px,#40bd72 57.5px,#5ac864 61.5px,#60ca60 65.5px,#44bf70 74.5px,#37b878 80.5px,#2cb17e 88.5px,#26ad81 96.5px,#1fa088 133.5px,#1e9b8a 190.5px)"></i>
<i style="background:linear-gradient(90deg,#fff 0.7px,#46085c 0.7px,#46085c 26.5px,#470d60 29.5px,#472e7c 36.5px,#3c4f8a 41.5px,#297b8e 48.5px,#1f9a8a 52.5px,#1fa287 53.5px,#2ab07f 55.5px,#40bd72 57.5px,#52c569 59.5px,#60ca60 62.5px,#65cb5e 66.5px,#4ac16d 73.5px,#34b679 83.5px,#28ae80 97.5px,#20a486 133.5px,#1e9c89 190.5px)"></i>
<i style="background:linear-gradient(90deg,#fff 0.7px,#46085c 0.7px,#46085c 27.5px,#471063 30.5px,#472d7b 36.5px,#3d4e8a 41.5px,#26828e 49.5px,#20928c 51.5px,#1fa287 53.5px,#2cb17e 55.5px,#4ec36b 58.5px,#65cb5e 61.5px,#70cf57 64.5px,#70cf57 66.5px,#56c667 73.5px,#44bf70 80.5px,#32b67a 91.5px,#27ad81 104.5px,#22a785 121.5px,#1fa187 190.5px)"></i>
<i style="background:linear-gradient(90deg,#fff 0.7px,#46085c 0.7px,#46085c 27.5px,#471063 30.5px,#472d7b 36.5px,#3d4e8a 41.5px,#287d8e 48.5px,#1e9d89 52.5px,#27ad81 54.5px,#3fbc73 56.5px,#5cc863 58.5px,#75d054 61.5px,#7fd34e 63.5px,#84d44b 66.5px,#5ac864 76.5px,#40bd72 85.5px,#28ae80 103.5px,#21a585 122.5px,#21a585 190.5px)"></i>
<i style="background:linear-gradient(90deg,#fff 0.7px,#46085c 0.7px,#46085c 27.5px,#470e61 30.5px,#46307e 37.5px,#3a538b 42.5px,#26828e 49.5px,#20938c 51.5px,#20a486 53.5px,#31b57b 55.5px,#4ec36b 57.5px,#67cc5c 59.5px,#77d153 61.5px,#81d34d 63.5px,#86d549 65.5px,#84d44b 67.5px,#5cc863 76.5px,#42be71 85.5px,#2fb47c 97.5px,#25ac82 107.5px,#1fa188 132.5px,#20a486 190.5px)"></i>
<i style="background:linear-gradient(90deg,#fff 0.7px,#46085c 0.7px,#46085c 27.5px,#460b5e 29.5px,#472a7a 36.5px,#3d4d8a 41.5px,#287d8e 48.5px,#1f9e89 52.5px,#28ae80 54.5px,#40bd72 56.5px,#60ca60 58.5px,#7fd34e 61.5px,#8ed645 64.5px,#90d743 65.5px,#8ed645 67.5px,#6ccd5a 75.5px,#58c765 82.5px,#4cc26c 88.5px,#27ad81 118.5px,#21a585 131.5px,#1fa088 150.5px,#1fa287 190.5px)"></i>
<i style="background:linear-gradient(90deg,#fff 0.7px,#46085c 0.7px,#46085c 27.5px,#460b5e 29.5px,#471164 31.5px,#472a7a 36.5px,#3d4d8a 41.5px,#287d8e 48.5px,#1e9d89 52.5px,#28ae80 54.5px,#40bd72 56.5px,#60ca60 58.5px,#7fd34e 61.5px,#90d743 65.5px,#8bd646 68.5px,#70cf57 74.5px,#56c667 84.5px,#48c16e 93.5px,#37b878 109.5px,#29af7f 127.5px,#22a785 147.5px,#1fa287 159.5px,#1fa088 190.5px)"></i>
<i style="background:linear-gradient(90deg,#fff 0.7px,#46085c 0.7px,#46085c 28.5px,#470d60 30.5px,#472a7a 36.5px,#3e4c8a 41.5px,#2b748e 47.5px,#1e9b8a 52.5px,#25ac82 54.5px,#3bbb75 56.5px,#58c765 58.5px,#6ece58 60.5px,#7cd250 62.5px,#89d548 65.5px,#89d548 67.5px,#75d054 71.5px,#67cc5c 75.5px,#54c568 83.5px,#44bf70 91.5px,#31b57b 108.5px,#27ad81 123.5px,#22a884 141.5px,#1f9e89 173.5px,#1e9d89 190.5px)"></i>
<i style="background:linear-gradient(90deg,#fff 0.7px,#46085c 0.7px,#46085c 28.5px,#471063 31.5px,#472e7c 37.5px,#3b518b 42.5px,#26818e 49.5px,#1fa188 53.5px,#2cb17e 55.5px,#42be71 57.5px,#5ec962 59.5px,#77d153 62.5px,#7fd34e 64.5px,#7fd34e 68.5px,#67cc5c 73.5px,#4ac16d 83.5px,#35b779 97.5px,#2cb17e 112.5px,#20a486 142.5px,#1e9b8a 163.5px,#1e9b8a 190.5px)"></i>
<i style="background:linear-gradient(90deg,#fff 0.7px,#46085c 0.7px,#46085c 28.5px,#470e61 31.5px,#472d7b 37.5px,#3d4e8a 42.5px,#277e8e 49.5px,#1f9f88 53.5px,#22a785 54.5px,#34b679 56.5px,#5ec962 59.5px,#77d153 62.5px,#7fd34e 64.5px,#84d44b 66.5px,#7fd34e 68.5px,#67cc5c 73.5px,#4cc26c 82.5px,#3bbb75 91.5px,#35b779 97.5px,#22a884 131.5px,#1f998a 157.5px,#1e9c89 190.5px)"></i>
<i style="background:linear-gradient(90deg,#fff 0.7px,#46085c 0.7px,#46085c 28.5px,#470e61 31.5px,#472c7a 37.5px,#3d4d8a 42.5px,#277e8e 49.5px,#1f9e89 53.5px,#28ae80 55.5px,#40bd72 57.5px,#5ec962 59.5px,#7ad151 62.5px,#81d34d 64.5px,#81d34d 68.5px,#67cc5c 73.5px,#44bf70 84.5px,#32b67a 97.5px,#22a884 126.5px,#1f9f88 146.5px,#1e9c89 159.5px,#1f9f88 190.5px)"></i>
<i style="background:linear-gradient(90deg,#fff 0.7px,#46085c 0.7px,#46085c 28.5px,#470d60 31.5px,#472f7d 38.5px,#3b518b 43.5px,#277f8e 50.5px,#1f9e89 54.5px,#27ad81 56.5px,#3bbb75 58.5px,#4ac16d 59.5px,#63cb5f 62.5px,#6ece58 65.5px,#70cf57 68.5px,#63cb5f 71.5px,#54c568 76.5px,#3fbc73 87.5px,#28ae80 115.5px,#1fa187 148.5px,#1fa088 190.5px)"></i>
<i style="background:linear-gradient(90deg,#fff 0.7px,#46085c 0.7px,#46085c 29.5px,#470d60 31.5px,#482878 37.5px,#3d4e8a 43.5px,#297a8e 50.5px,#20928c 53.5px,#1fa188 55.5px,#29af7f 57.5px,#3fbc73 59.5px,#58c765 62.5px,#65cb5e 65.5px,#69cd5b 68.5px,#5ec962 71.5px,#52c569 77.5px,#3fbc73 89.5px,#27ad81 120.5px,#20a386 146.5px,#1e9c89 190.5px)"></i>
<i style="background:linear-gradient(90deg,#fff 0.7px,#46085c 0.7px,#46085c 29.5px,#470d60 31.5px,#472e7c 38.5px,#3c4f8a 43.5px,#287c8e 50.5px,#20928c 53.5px,#1fa287 55.5px,#2cb17e 57.5px,#4cc26c 60.5px,#60ca60 63.5px,#6ccd5a 66.5px,#6ccd5a 68.5px,#5cc863 73.5px,#44bf70 85.5px,#2db27d 107.5px,#21a685 137.5px,#1f998a 190.5px)"></i>
<i style="background:linear-gradient(90deg,#fff 0.7px,#46085c 0.7px,#46085c 29.5px,#471063 32.5px,#472e7c 38.5px,#3c4f8a 43.5px,#287c8e 50.5px,#1e9b8a 54.5px,#24aa83 56.5px,#35b779 58.5px,#4cc26c 60.5px,#60ca60 63.5px,#67cc5c 65.5px,#69cd5b 68.5px,#50c46a 77.5px,#3fbc73 87.5px,#2ab07f 111.5px,#1fa187 145.5px,#1f9e89 190.5px)"></i>
<i style="background:linear-gradient(90deg,#fff 0.7px,#46085c 0.7px,#460a5d 30.5px,#482677 37.5px,#3d4d8a 43.5px,#29798e 50.5px,#1fa088 55.5px,#27ad81 57.5px,#44bf70 60.5px,#54c568 62.5px,#63cb5f 66.5px,#63cb5f 68.5px,#52c569 73.5px,#3dbc74 84.5px,#2db27d 103.5px,#20a386 152.5px,#1fa287 190.5px)"></i>
<i style="background:linear-gradient(90deg,#fff 0.7px,#46085c 0.7px,#460a5d 30.5px,#481c6e 35.5px,#472c7a 38.5px,#3d4d8a 43.5px,#26818e 51.5px,#1fa188 55.5px,#29af7f 57.5px,#48c16e 60.5px,#60ca60 64.5px,#67cc5c 67.5px,#4ec36b 76.5px,#38b977 88.5px,#29af7f 107.5px,#22a884 145.5px,#20a486 190.5px)"></i>
<i style="background:linear-gradient(90deg,#fff 0.7px,#46085c 0.7px,#46085c 29.5px,#470e61 32.5px,#472a7a 38.5px,#3e4c8a 43.5px,#2a788e 50.5px,#1f9f88 55.5px,#27ad81 57.5px,#46c06f 60.5px,#5cc863 63.5px,#63cb5f 65.5px,#67cc5c 68.5px,#5ac864 72.5px,#44bf70 82.5px,#34b679 98.5px,#24aa83 142.5px,#25ab82 174.5px,#21a685 190.5px)"></i>
<i style="background:linear-gradient(90deg,#fff 0.7px,#46085c 0.7px,#46085c 29.5px,#460b5e 31.5px,#482979 38.5px,#3c4f8a 44.5px,#26828e 52.5px,#1fa187 56.5px,#2ab07f 58.5px,#3dbc74 60.5px,#52c569 63.5px,#5ec962 66.5px,#5ec962 69.5px,#4ac16d 79.5px,#40bd72 86.5px,#32b67a 110.5px,#25ab82 128.5px,#1fa287 147.5px,#1fa187 190.5px)"></i>
<i style="background:linear-gradient(90deg,#fff 0.7px,#46085c 0.7px,#46085c 29.5px,#460b5e 31.5px,#482374 37.5px,#3f4788 43.5px,#2a788e 51.5px,#1f9f88 56.5px,#27ad81 58.5px,#3aba76 60.5px,#4ec36b 63.5px,#5ac864 66.5px,#5ec962 68.5px,#4ac16d 80.5px,#3bbb75 92.5px,#26ad81 119.5px,#1fa287 146.5px,#1f9e89 190.5px)"></i>
<i style="background:linear-gradient(90deg,#fff 0.7px,#46085c 0.7px,#46085c 29.5px,#460b5e 31.5px,#481f70 36.5px,#463480 40.5px,#3f4889 43.5px,#2b758e 50.5px,#1e9c89 55.5px,#25ac82 57.5px,#44bf70 60.5px,#5ac864 63.5px,#67cc5c 66.5px,#69cd5b 69.5px,#52c569 80.5px,#3dbc74 93.5px,#28ae80 114.5px,#21a685 135.5px,#1fa188 190.5px)"></i>
<i style="background:linear-gradient(90deg,#fff 0.7px,#46085c 0.7px,#46085c 29.5px,#460b5e 31.5px,#472a7a 38.5px,#3e4c8a 43.5px,#26818e 51.5px,#20928c 53.5px,#1fa187 55.5px,#24aa83 56.5px,#37b878 58.5px,#52c569 60.5px,#69cd5b 63.5px,#70cf57 65.5px,#75d054 68.5px,#58c765 78.5px,#48c16e 86.5px,#38b977 95.5px,#2cb17e 107.5px,#22a884 131.5px,#23a983 171.5px,#20a486 190.5px)"></i>
<i style="background:linear-gradient(90deg,#fff 0.7px,#46085c 0.7px,#46085c 29.5px,#470e61 32.5px,#46307e 39.5px,#3a538b 44.5px,#26828e 51.5px,#1fa187 55.5px,#2cb17e 57.5px,#50c46a 60.5px,#67cc5c 63.5px,#6ece58 65.5px,#70cf57 68.5px,#4ec36b 80.5px,#3aba76 91.5px,#2fb47c 101.5px,#29af7f 117.5px,#26ad81 171.5px,#21a585 190.5px)"></i>
<i style="background:linear-gradient(90deg,#fff 0.7px,#46085c 0.7px,#46085c 29.5px,#470e61 32.5px,#472c7a 38.5px,#3d4d8a 43.5px,#26818e 51.5px,#1fa188 55.5px,#2ab07f 57.5px,#4cc26c 60.5px,#63cb5f 63.5px,#69cd5b 65.5px,#6ece58 67.5px,#6ccd5a 69.5px,#52c569 78.5px,#40bd72 87.5px,#2fb47c 98.5px,#2ab07f 106.5px,#27ad81 124.5px,#2db27d 159.5px,#23a983 190.5px)"></i>
<i style="background:linear-gradient(90deg,#fff 0.7px,#46085c 0.7px,#460a5d 30.5px,#482677 37.5px,#3d4e8a 43.5px,#287c8e 50.5px,#1e9b8a 54.5px,#25ab82 56.5px,#2db27d 57.5px,#52c569 60.5px,#67cc5c 63.5px,#73d056 66.5px,#73d056 68.5px,#60ca60 74.5px,#40bd72 90.5px,#32b67a 104.5px,#2cb17e 120.5px,#2ab07f 137.5px,#35b779 172.5px,#2cb17e 190.5px)"></i>
<i style="background:linear-gradient(90deg,#fff 0.7px,#46085c 0.7px,#46085c 29.5px,#471063 32.5px,#472d7b 38.5px,#3c4f8a 43.5px,#277e8e 50.5px,#1f9e89 54.5px,#21a685 55.5px,#32b67a 57.5px,#5ac864 60.5px,#73d056 63.5px,#7cd250 65.5px,#81d34d 68.5px,#5ac864 86.5px,#48c16e 99.5px,#3fbc73 110.5px,#38b977 130.5px,#3fbc73 162.5px,#2db27d 190.5px)"></i>
<i style="background:linear-gradient(90deg,#fff 0.7px,#46085c 0.7px,#460a5d 30.5px,#482677 37.5px,#3c4f8a 43.5px,#287d8e 50.5px,#1e9d89 54.5px,#27ad81 56.5px,#5ac864 60.5px,#73d056 63.5px,#81d34d 66.5px,#84d44b 68.5px,#63cb5f 82.5px,#56c667 90.5px,#42be71 108.5px,#3aba76 127.5px,#3dbc74 159.5px,#2cb17e 190.5px)"></i>
<i style="background:linear-gradient(90deg,#fff 0.7px,#46085c 0.7px,#460a5d 30.5px,#482677 37.5px,#3c4f8a 43.5px,#287c8e 50.5px,#1e9c89 54.5px,#20a486 55.5px,#2fb47c 57.5px,#56c667 60.5px,#6ece58 63.5px,#7ad151 66.5px,#7ad151 68.5px,#5ac864 83.5px,#46c06f 102.5px,#40bd72 114.5px,#3fbc73 134.5px,#2ab07f 170.5px,#2db27d 190.5px)"></i>
<i style="background:linear-gradient(90deg,#fff 0.7px,#46085c 0.7px,#460a5d 30.5px,#482173 36.5px,#443983 40.5px,#3c4f8a 43.5px,#277e8e 50.5px,#1f9e89 54.5px,#22a785 55.5px,#34b679 57.5px,#5ec962 60.5px,#7ad151 63.5px,#89d548 66.5px,#8bd646 69.5px,#6ece58 82.5px,#5cc863 94.5px,#50c46a 107.5px,#4ac16d 133.5px,#2cb17e 158.5px,#28ae80 164.5px,#26ad81 174.5px,#2db27d 190.5px)"></i>
<i style="background:linear-gradient(90deg,#fff 0.7px,#46085c 0.7px,#460a5d 30.5px,#482677 37.5px,#3c4f8a 43.5px,#277e8e 50.5px,#1fa088 54.5px,#22a884 55.5px,#37b878 57.5px,#65cb5e 60.5px,#7cd250 62.5px,#95d840 66.5px,#9bd93c 68.5px,#6ece58 92.5px,#56c667 111.5px,#48c16e 134.5px,#31b57b 160.5px,#2db27d 190.5px)"></i>
<i style="background:linear-gradient(90deg,#fff 0.7px,#46085c 0.7px,#460a5d 30.5px,#482677 37.5px,#3c4f8a 43.5px,#287d8e 50.5px,#1f9e89 54.5px,#28ae80 56.5px,#40bd72 58.5px,#5ec962 60.5px,#7ad151 63.5px,#89d548 66.5px,#8ed645 68.5px,#63cb5f 93.5px,#50c46a 110.5px,#4cc26c 122.5px,#38b977 148.5px,#37b878 171.5px,#2eb37c 190.5px)"></i>
<i style="background:linear-gradient(90deg,#fff 0.7px,#46085c 0.7px,#46085c 29.5px,#471063 32.5px,#46337f 39.5px,#3c4f8a 43.5px,#277f8e 50.5px,#1f9f88 54.5px,#22a785 55.5px,#34b679 57.5px,#5ec962 60.5px,#7ad151 63.5px,#7fd34e 64.5px,#89d548 68.5px,#77d153 75.5px,#63cb5f 88.5px,#4ec36b 110.5px,#3aba76 146.5px,#32b67a 190.5px)"></i>
<i style="background:linear-gradient(90deg,#fff 0.7px,#46085c 0.7px,#46085c 29.5px,#470e61 32.5px,#472d7b 38.5px,#3c508b 43.5px,#27808e 50.5px,#1fa188 54.5px,#2cb17e 56.5px,#56c667 59.5px,#65cb5e 60.5px,#81d34d 63.5px,#8ed645 67.5px,#8ed645 68.5px,#7ad151 74.5px,#5cc863 87.5px,#50c46a 97.5px,#4ac16d 106.5px,#42be71 131.5px,#34b679 157.5px,#32b67a 190.5px)"></i>
<i style="background:linear-gradient(90deg,#fff 0.7px,#46085c 0.7px,#46085c 29.5px,#470e61 32.5px,#472e7c 38.5px,#3b518b 43.5px,#297b8e 49.5px,#1e9c89 53.5px,#20a486 54.5px,#32b67a 56.5px,#75d054 60.5px,#93d741 63.5px,#98d83e 64.5px,#a0da39 66.5px,#a0da39 68.5px,#75d054 81.5px,#63cb5f 89.5px,#56c667 99.5px,#52c569 108.5px,#52c569 134.5px,#38b977 159.5px,#37b878 190.5px)"></i>
<i style="background:linear-gradient(90deg,#fff 0.7px,#46085c 0.7px,#46085c 29.5px,#470e61 32.5px,#472e7c 38.5px,#424086 41.5px,#3b518b 43.5px,#297b8e 49.5px,#1e9b8a 53.5px,#26ad81 55.5px,#32b67a 56.5px,#52c569 58.5px,#77d153 60.5px,#98d83e 63.5px,#a8db34 66.5px,#aadc32 68.5px,#95d840 75.5px,#67cc5c 94.5px,#58c765 106.5px,#50c46a 132.5px,#3bbb75 164.5px,#35b779 190.5px)"></i>
<i style="background:linear-gradient(90deg,#fff 0.7px,#46085c 0.7px,#46085c 29.5px,#460b5e 31.5px,#482677 37.5px,#423f85 41.5px,#3c508b 43.5px,#26818e 50.5px,#1f9a8a 53.5px,#1fa287 54.5px,#2fb47c 56.5px,#4ec36b 58.5px,#73d056 60.5px,#7fd34e 61.5px,#9bd93c 64.5px,#a5db36 66.5px,#a8db34 69.5px,#93d741 76.5px,#81d34d 84.5px,#70cf57 94.5px,#65cb5e 105.5px,#5ec962 120.5px,#48c16e 146.5px,#3fbc73 190.5px)"></i>
<i style="background:linear-gradient(90deg,#fff 0.7px,#46085c 0.7px,#46085c 29.5px,#460b5e 31.5px,#482677 37.5px,#443983 40.5px,#3c508b 43.5px,#26818e 50.5px,#20928c 52.5px,#1fa287 54.5px,#25ac82 55.5px,#31b57b 56.5px,#4ec36b 58.5px,#73d056 60.5px,#95d840 63.5px,#a0da39 65.5px,#a8db34 67.5px,#a8db34 69.5px,#95d840 75.5px,#7fd34e 89.5px,#6ccd5a 122.5px,#4ec36b 148.5px,#4ac16d 156.5px,#4ec36b 183.5px,#4ac16d 190.5px)"></i>
<i style="background:linear-gradient(90deg,#fff 0.7px,#46085c 0.7px,#46085c 29.5px,#460b5e 31.5px,#472d7b 38.5px,#3c4f8a 43.5px,#297a8e 49.5px,#1e9b8a 53.5px,#26ad81 55.5px,#32b67a 56.5px,#54c568 58.5px,#7cd250 60.5px,#a2da37 63.5px,#b5de2b 66.5px,#bade28 69.5px,#a0da39 78.5px,#90d743 86.5px,#86d549 95.5px,#81d34d 109.5px,#77d153 121.5px,#54c568 141.5px,#48c16e 150.5px,#42be71 157.5px,#44bf70 171.5px,#4ac16d 180.5px,#48c16e 190.5px)"></i>
<i style="background:linear-gradient(90deg,#fff 0.7px,#46085c 0.7px,#46085c 29.5px,#460b5e 31.5px,#482677 37.5px,#463480 39.5px,#3b518b 43.5px,#287d8e 49.5px,#1fa088 53.5px,#24aa83 54.5px,#2eb37c 55.5px,#65cb5e 58.5px,#7cd250 59.5px,#93d741 60.5px,#a2da37 61.5px,#bddf26 63.5px,#c5e021 64.5px,#d8e219 67.5px,#d8e219 69.5px,#cde11d 73.5px,#aadc32 83.5px,#89d548 97.5px,#75d054 122.5px,#4cc26c 149.5px,#42be71 159.5px,#42be71 171.5px,#4cc26c 190.5px)"></i>
<i style="background:linear-gradient(90deg,#fff 0.7px,#46085c 0.7px,#46085c 29.5px,#460b5e 31.5px,#482677 37.5px,#463480 39.5px,#3b518b 43.5px,#277e8e 49.5px,#1fa088 53.5px,#23a983 54.5px,#2db27d 55.5px,#63cb5f 58.5px,#8ed645 60.5px,#b8de29 63.5px,#c0df25 64.5px,#cae11f 66.5px,#cde11d 69.5px,#a0da39 82.5px,#7cd250 97.5px,#70cf57 113.5px,#6ece58 123.5px,#54c568 146.5px,#48c16e 161.5px,#42be71 176.5px,#42be71 190.5px)"></i>
<i style="background:linear-gradient(90deg,#fff 0.7px,#46085c 0.7px,#46085c 30.5px,#471164 33.5px,#482576 37.5px,#443983 40.5px,#3c508b 43.5px,#297a8e 49.5px,#1e9b8a 53.5px,#20a486 54.5px,#27ad81 55.5px,#34b679 56.5px,#54c568 58.5px,#7cd250 60.5px,#8bd646 61.5px,#aadc32 64.5px,#b8de29 67.5px,#b8de29 69.5px,#a8db34 73.5px,#86d549 86.5px,#75d054 99.5px,#69cd5b 117.5px,#65cb5e 135.5px,#48c16e 167.5px,#44bf70 178.5px,#46c06f 190.5px)"></i>
<i style="background:linear-gradient(90deg,#fff 0.7px,#46085c 0.7px,#46085c 30.5px,#470d60 32.5px,#472c7a 38.5px,#3c4f8a 43.5px,#26818e 50.5px,#1f9a8a 53.5px,#1fa287 54.5px,#25ac82 55.5px,#31b57b 56.5px,#3fbc73 57.5px,#63cb5f 59.5px,#84d44b 61.5px,#a2da37 64.5px,#addc30 66.5px,#b2dd2d 69.5px,#a5db36 72.5px,#86d549 85.5px,#67cc5c 115.5px,#60ca60 141.5px,#42be71 170.5px,#42be71 181.5px,#48c16e 190.5px)"></i>
<i style="background:linear-gradient(90deg,#fff 0.7px,#46085c 0.7px,#46085c 30.5px,#470d60 32.5px,#472a7a 38.5px,#3d4e8a 43.5px,#26818e 50.5px,#1f998a 53.5px,#1fa287 54.5px,#2fb47c 56.5px,#50c46a 58.5px,#77d153 60.5px,#93d741 62.5px,#a8db34 64.5px,#b5de2b 67.5px,#b8de29 69.5px,#a8db34 73.5px,#84d44b 87.5px,#69cd5b 106.5px,#60ca60 120.5px,#5cc863 144.5px,#42be71 173.5px,#42be71 190.5px)"></i>
<i style="background:linear-gradient(90deg,#fff 0.7px,#46085c 0.7px,#46085c 30.5px,#470d60 32.5px,#482475 37.5px,#453882 40.5px,#3d4e8a 43.5px,#26818e 50.5px,#1f9a8a 53.5px,#20a386 54.5px,#25ac82 55.5px,#31b57b 56.5px,#65cb5e 59.5px,#7ad151 60.5px,#8ed645 61.5px,#addc30 64.5px,#bddf26 67.5px,#c0df25 69.5px,#98d83e 82.5px,#81d34d 93.5px,#75d054 102.5px,#6ccd5a 115.5px,#65cb5e 139.5px,#50c46a 165.5px,#46c06f 190.5px)"></i>
<i style="background:linear-gradient(90deg,#fff 0.7px,#46085c 0.7px,#460a5d 31.5px,#471063 33.5px,#472a7a 38.5px,#3c4f8a 43.5px,#287c8e 49.5px,#1f9e89 53.5px,#22a785 54.5px,#2ab07f 55.5px,#5ec962 58.5px,#8bd646 60.5px,#9dd93b 61.5px,#c0df25 64.5px,#cae11f 66.5px,#d0e11c 69.5px,#bade28 74.5px,#95d840 85.5px,#7cd250 96.5px,#6ece58 106.5px,#67cc5c 117.5px,#67cc5c 138.5px,#56c667 168.5px,#52c569 190.5px)"></i>
<i style="background:linear-gradient(90deg,#fff 0.7px,#46085c 0.7px,#460a5d 31.5px,#481467 34.5px,#482475 37.5px,#453882 40.5px,#3d4e8a 43.5px,#297a8e 49.5px,#1e9c89 53.5px,#21a585 54.5px,#28ae80 55.5px,#35b779 56.5px,#5ac864 58.5px,#98d83e 61.5px,#bddf26 64.5px,#cde11d 68.5px,#a0da39 81.5px,#86d549 91.5px,#70cf57 105.5px,#69cd5b 117.5px,#69cd5b 137.5px,#52c569 158.5px,#4cc26c 169.5px,#50c46a 190.5px)"></i>
<i style="background:linear-gradient(90deg,#fff 0.7px,#46085c 0.7px,#46085c 30.5px,#470e61 33.5px,#472f7d 39.5px,#3a538b 44.5px,#277f8e 50.5px,#1fa188 54.5px,#23a983 55.5px,#2db27d 56.5px,#4ec36b 58.5px,#89d548 61.5px,#addc30 64.5px,#bddf26 67.5px,#c0df25 70.5px,#9dd93b 82.5px,#86d549 92.5px,#69cd5b 112.5px,#5ec962 134.5px,#46c06f 159.5px,#44bf70 164.5px,#44bf70 173.5px,#4ec36b 190.5px)"></i>
<i style="background:linear-gradient(90deg,#fff 0.7px,#46085c 0.7px,#46085c 30.5px,#460b5e 32.5px,#482677 38.5px,#3c508b 44.5px,#26828e 51.5px,#1e9b8a 54.5px,#20a386 55.5px,#31b57b 57.5px,#50c46a 59.5px,#75d054 61.5px,#9dd93b 65.5px,#aadc32 68.5px,#aadc32 69.5px,#84d44b 84.5px,#6ece58 97.5px,#69cd5b 106.5px,#69cd5b 130.5px,#65cb5e 137.5px,#4cc26c 159.5px,#4cc26c 172.5px,#54c568 183.5px,#54c568 190.5px)"></i>
<i style="background:linear-gradient(90deg,#fff 0.7px,#46085c 0.7px,#46085c 30.5px,#470d60 33.5px,#472a7a 39.5px,#3d4d8a 44.5px,#277e8e 51.5px,#1f9f88 55.5px,#2ab07f 57.5px,#46c06f 59.5px,#69cd5b 61.5px,#77d153 62.5px,#8bd646 64.5px,#9dd93b 67.5px,#a0da39 70.5px,#84d44b 83.5px,#73d056 97.5px,#73d056 115.5px,#7ad151 125.5px,#7cd250 136.5px,#65cb5e 165.5px,#5cc863 190.5px)"></i>
<i style="background:linear-gradient(90deg,#fff 0.7px,#46085c 0.7px,#46085c 31.5px,#470d60 33.5px,#482878 39.5px,#443a83 42.5px,#3b518b 45.5px,#297a8e 51.5px,#1e9b8a 55.5px,#26ad81 57.5px,#50c46a 60.5px,#63cb5f 61.5px,#7cd250 63.5px,#90d743 65.5px,#9bd93c 67.5px,#a0da39 69.5px,#a0da39 71.5px,#8ed645 79.5px,#7cd250 90.5px,#69cd5b 110.5px,#69cd5b 125.5px,#70cf57 136.5px,#70cf57 144.5px,#5ac864 175.5px,#58c765 190.5px)"></i>
<i style="background:linear-gradient(90deg,#fff 0.7px,#46085c 0.7px,#460a5d 32.5px,#482677 39.5px,#3d4e8a 45.5px,#277e8e 52.5px,#1fa088 56.5px,#2cb17e 58.5px,#46c06f 60.5px,#67cc5c 62.5px,#84d44b 65.5px,#93d741 68.5px,#95d840 71.5px,#70cf57 92.5px,#5cc863 112.5px,#60ca60 141.5px,#4ec36b 172.5px,#4ec36b 190.5px)"></i>
<i style="background:linear-gradient(90deg,#fff 0.7px,#46085c 0.7px,#46085c 31.5px,#460b5e 33.5px,#472c7a 40.5px,#3d4e8a 45.5px,#287d8e 52.5px,#1f9e89 56.5px,#29af7f 58.5px,#42be71 60.5px,#60ca60 62.5px,#7fd34e 65.5px,#8ed645 68.5px,#90d743 71.5px,#7fd34e 80.5px,#73d056 89.5px,#60ca60 111.5px,#63cb5f 136.5px,#4ac16d 170.5px,#4cc26c 190.5px)"></i>
<i style="background:linear-gradient(90deg,#fff 0.7px,#46085c 0.7px,#46085c 31.5px,#460b5e 33.5px,#472d7b 40.5px,#3c4f8a 45.5px,#26818e 52.5px,#1f9a8a 55.5px,#20a386 56.5px,#25ac82 57.5px,#31b57b 58.5px,#75d054 62.5px,#84d44b 63.5px,#a0da39 66.5px,#addc30 69.5px,#addc30 71.5px,#8bd646 89.5px,#75d054 108.5px,#70cf57 137.5px,#5ac864 157.5px,#52c569 170.5px,#54c568 190.5px)"></i>
<i style="background:linear-gradient(90deg,#fff 0.7px,#46085c 0.7px,#46085c 31.5px,#460b5e 33.5px,#471164 35.5px,#482576 39.5px,#3d4e8a 45.5px,#27808e 52.5px,#1f998a 55.5px,#1fa287 56.5px,#25ab82 57.5px,#2fb47c 58.5px,#63cb5f 61.5px,#84d44b 63.5px,#9dd93b 65.5px,#a5db36 66.5px,#b5de2b 69.5px,#b8de29 71.5px,#aadc32 79.5px,#8bd646 112.5px,#86d549 130.5px,#7fd34e 141.5px,#65cb5e 158.5px,#58c765 170.5px,#54c568 180.5px,#56c667 190.5px)"></i>
<i style="background:linear-gradient(90deg,#fff 0.7px,#46085c 0.7px,#46085c 32.5px,#470d60 34.5px,#46307e 41.5px,#3a548c 46.5px,#277e8e 52.5px,#1f9f88 56.5px,#2ab07f 58.5px,#48c16e 60.5px,#7ad151 63.5px,#93d741 65.5px,#9bd93c 66.5px,#addc30 70.5px,#95d840 89.5px,#8bd646 108.5px,#8ed645 117.5px,#9bd93c 131.5px,#9bd93c 137.5px,#93d741 145.5px,#7ad151 156.5px,#63cb5f 170.5px,#5ac864 182.5px,#5cc863 190.5px)"></i>
<i style="background:linear-gradient(90deg,#fff 0.7px,#46085c 0.7px,#46085c 32.5px,#470d60 34.5px,#482979 40.5px,#3d4d8a 45.5px,#277f8e 52.5px,#1fa188 56.5px,#2db27d 58.5px,#4cc26c 60.5px,#70cf57 62.5px,#81d34d 63.5px,#9bd93c 65.5px,#aadc32 67.5px,#b5de2b 70.5px,#b5de2b 71.5px,#90d743 86.5px,#7fd34e 97.5px,#7cd250 101.5px,#7ad151 110.5px,#86d549 122.5px,#98d83e 134.5px,#98d83e 143.5px,#7fd34e 164.5px,#6ccd5a 190.5px)"></i>
<i style="background:linear-gradient(90deg,#fff 0.7px,#46085c 0.7px,#460a5d 33.5px,#48186a 37.5px,#482878 40.5px,#443a83 43.5px,#3b518b 46.5px,#287d8e 52.5px,#1f9f88 56.5px,#22a785 57.5px,#2ab07f 58.5px,#38b977 59.5px,#70cf57 62.5px,#84d44b 63.5px,#a0da39 65.5px,#bade28 68.5px,#c0df25 69.5px,#c5e021 72.5px,#89d548 105.5px,#7ad151 120.5px,#7fd34e 137.5px,#7ad151 154.5px,#7ad151 164.5px,#81d34d 181.5px,#7fd34e 190.5px)"></i>
<i style="background:linear-gradient(90deg,#fff 0.7px,#46085c 0.7px,#46085c 32.5px,#460b5e 34.5px,#482576 40.5px,#3d4e8a 46.5px,#26818e 53.5px,#1f9a8a 56.5px,#20a386 57.5px,#26ad81 58.5px,#40bd72 60.5px,#7ad151 63.5px,#98d83e 65.5px,#addc30 67.5px,#bade28 69.5px,#c2df23 72.5px,#b2dd2d 84.5px,#a0da39 93.5px,#86d549 109.5px,#81d34d 116.5px,#86d549 139.5px,#6ece58 160.5px,#6ccd5a 170.5px,#7fd34e 190.5px)"></i>
<i style="background:linear-gradient(90deg,#fff 0.7px,#46085c 0.7px,#46085c 32.5px,#470d60 35.5px,#482979 41.5px,#3e4c8a 46.5px,#277e8e 53.5px,#1fa088 57.5px,#22a884 58.5px,#38b977 60.5px,#6ece58 63.5px,#8ed645 65.5px,#b2dd2d 69.5px,#bade28 71.5px,#bade28 75.5px,#aadc32 89.5px,#9bd93c 110.5px,#a2da37 137.5px,#98d83e 146.5px,#7fd34e 161.5px,#7ad151 169.5px,#7cd250 190.5px)"></i>
<i style="background:linear-gradient(90deg,#fff 0.7px,#46085c 0.7px,#460a5d 34.5px,#482677 41.5px,#443983 44.5px,#3c508b 47.5px,#297b8e 53.5px,#1e9c89 57.5px,#20a486 58.5px,#32b67a 60.5px,#54c568 62.5px,#86d549 65.5px,#9dd93b 67.5px,#addc30 69.5px,#bade28 73.5px,#bade28 74.5px,#aadc32 87.5px,#a0da39 100.5px,#a0da39 114.5px,#a8db34 124.5px,#a8db34 136.5px,#89d548 161.5px,#84d44b 180.5px,#7cd250 190.5px)"></i>
<i style="background:linear-gradient(90deg,#fff 0.7px,#46085c 0.7px,#46085c 33.5px,#460b5e 35.5px,#482475 41.5px,#3e4c8a 47.5px,#277f8e 54.5px,#1fa188 58.5px,#23a983 59.5px,#2db27d 60.5px,#3aba76 61.5px,#6ccd5a 64.5px,#7cd250 65.5px,#95d840 67.5px,#addc30 70.5px,#b5de2b 72.5px,#b5de2b 76.5px,#a5db36 86.5px,#95d840 102.5px,#95d840 118.5px,#9bd93c 123.5px,#9dd93b 138.5px,#8bd646 158.5px,#86d549 184.5px,#81d34d 190.5px)"></i>
<i style="background:linear-gradient(90deg,#fff 0.7px,#46085c 0.7px,#46085c 33.5px,#460b5e 35.5px,#481467 38.5px,#482677 42.5px,#3c4f8a 48.5px,#26818e 55.5px,#1f9a8a 58.5px,#1fa287 59.5px,#25ab82 60.5px,#2fb47c 61.5px,#6ccd5a 65.5px,#86d549 67.5px,#a0da39 70.5px,#addc30 73.5px,#addc30 77.5px,#90d743 99.5px,#86d549 115.5px,#86d549 122.5px,#93d741 139.5px,#93d741 154.5px,#8ed645 167.5px,#90d743 171.5px,#86d549 190.5px)"></i>
<i style="background:linear-gradient(90deg,#fff 0.7px,#46085c 0.7px,#46085c 33.5px,#470d60 36.5px,#482475 42.5px,#3e4a89 48.5px,#287c8e 55.5px,#1e9d89 59.5px,#27ad81 61.5px,#40bd72 63.5px,#60ca60 65.5px,#89d548 68.5px,#a2da37 71.5px,#b0dd2f 74.5px,#b0dd2f 80.5px,#a8db34 87.5px,#8ed645 101.5px,#81d34d 114.5px,#84d44b 123.5px,#93d741 138.5px,#93d741 149.5px,#8bd646 160.5px,#8ed645 184.5px,#89d548 190.5px)"></i>
<i style="background:linear-gradient(90deg,#fff 0.7px,#46085c 0.7px,#46085c 33.5px,#470e61 37.5px,#472d7b 44.5px,#3d4e8a 49.5px,#26818e 56.5px,#1fa188 60.5px,#24aa83 61.5px,#38b977 63.5px,#65cb5e 66.5px,#81d34d 68.5px,#a5db36 72.5px,#b0dd2f 74.5px,#b5de2b 77.5px,#b5de2b 85.5px,#aadc32 92.5px,#98d83e 110.5px,#9bd93c 121.5px,#a5db36 131.5px,#a5db36 143.5px,#98d83e 159.5px,#98d83e 176.5px,#93d741 190.5px)"></i>
<i style="background:linear-gradient(90deg,#fff 0.7px,#46085c 0.7px,#46085c 34.5px,#471063 38.5px,#482475 43.5px,#3e4a89 49.5px,#2c738e 55.5px,#1e9b8a 60.5px,#20a386 61.5px,#2eb37c 63.5px,#48c16e 65.5px,#70cf57 68.5px,#95d840 72.5px,#a0da39 74.5px,#a8db34 77.5px,#aadc32 81.5px,#a0da39 97.5px,#a0da39 108.5px,#c2df23 133.5px,#c2df23 139.5px,#bddf26 144.5px,#a0da39 161.5px,#9dd93b 190.5px)"></i>
<i style="background:linear-gradient(90deg,#fff 0.7px,#46085c 0.7px,#46085c 34.5px,#470e61 38.5px,#482071 43.5px,#453781 47.5px,#3c508b 51.5px,#26818e 58.5px,#1fa088 62.5px,#28ae80 64.5px,#54c568 68.5px,#7ad151 72.5px,#8ed645 76.5px,#98d83e 84.5px,#98d83e 99.5px,#9dd93b 107.5px,#a8db34 115.5px,#bade28 124.5px,#c8e020 133.5px,#c2df23 144.5px,#addc30 156.5px,#a8db34 162.5px,#addc30 190.5px)"></i>
<i style="background:linear-gradient(90deg,#fff 0.7px,#46085c 0.7px,#46085c 34.5px,#471063 39.5px,#482173 44.5px,#433e85 49.5px,#3c508b 52.5px,#26818e 59.5px,#1fa088 63.5px,#28ae80 65.5px,#52c569 69.5px,#77d153 73.5px,#89d548 76.5px,#98d83e 81.5px,#a0da39 86.5px,#aadc32 110.5px,#c0df25 135.5px,#c0df25 144.5px,#bade28 151.5px,#bddf26 172.5px,#b8de29 190.5px)"></i>
<i style="background:linear-gradient(90deg,#fff 0.7px,#46085c 0.7px,#46085c 35.5px,#470e61 39.5px,#481f70 44.5px,#463480 48.5px,#3d4d8a 52.5px,#287d8e 59.5px,#20938c 62.5px,#20a386 64.5px,#2cb17e 66.5px,#56c667 70.5px,#69cd5b 72.5px,#7fd34e 75.5px,#89d548 77.5px,#98d83e 82.5px,#a0da39 88.5px,#a2da37 114.5px,#b5de2b 137.5px,#b2dd2d 146.5px,#b5de2b 158.5px,#bade28 168.5px,#c0df25 171.5px,#bddf26 172.5px,#c0df25 183.5px,#bade28 190.5px)"></i>
<i style="background:linear-gradient(90deg,#fff 0.7px,#46085c 0.7px,#46085c 35.5px,#471063 40.5px,#482173 45.5px,#453781 49.5px,#3c4f8a 53.5px,#277f8e 60.5px,#1f958b 63.5px,#20a386 65.5px,#34b679 68.5px,#52c569 71.5px,#70cf57 75.5px,#7ad151 77.5px,#93d741 87.5px,#9bd93c 113.5px,#b5de2b 135.5px,#b8de29 140.5px,#b5de2b 159.5px,#c5e021 181.5px,#c0df25 190.5px)"></i>
<i style="background:linear-gradient(90deg,#fff 0.7px,#46085c 0.7px,#46085c 36.5px,#470e61 40.5px,#472c7a 48.5px,#3c4f8a 54.5px,#287d8e 61.5px,#1fa088 66.5px,#25ac82 68.5px,#40bd72 72.5px,#5cc863 76.5px,#6ece58 80.5px,#89d548 89.5px,#98d83e 97.5px,#cae11f 134.5px,#cae11f 144.5px,#c0df25 156.5px,#c0df25 169.5px,#cae11f 182.5px,#c8e020 190.5px)"></i>
<i style="background:linear-gradient(90deg,#fff 0.7px,#46085c 0.7px,#46085c 36.5px,#471164 42.5px,#472c7a 49.5px,#3a538b 56.5px,#26818e 63.5px,#1fa188 68.5px,#25ac82 70.5px,#3dbc74 74.5px,#63cb5f 81.5px,#77d153 86.5px,#9bd93c 96.5px,#b0dd2f 104.5px,#cae11f 118.5px,#dde318 130.5px,#dfe318 142.5px,#d8e219 148.5px,#d0e11c 161.5px,#d8e219 173.5px,#e5e419 182.5px,#e2e418 190.5px)"></i>
<i style="background:linear-gradient(90deg,#fff 0.7px,#46085c 0.7px,#46085c 37.5px,#471063 42.5px,#482878 49.5px,#443b84 53.5px,#3a538b 57.5px,#277f8e 64.5px,#1f9e89 69.5px,#22a884 71.5px,#35b779 75.5px,#6ece58 87.5px,#c5e021 111.5px,#dde318 119.5px,#e7e419 122.5px,#f1e51d 127.5px,#fbe723 134.5px,#fbe723 140.5px,#e7e419 159.5px,#e7e419 170.5px,#f8e621 182.5px,#f8e621 190.5px)"></i>
<i style="background:linear-gradient(90deg,#fff 0.7px,#46085c 0.7px,#46085c 37.5px,#470e61 42.5px,#482979 50.5px,#3d4d8a 57.5px,#287d8e 65.5px,#20938c 69.5px,#1fa287 72.5px,#27ad81 75.5px,#38b977 79.5px,#5ac864 87.5px,#84d44b 98.5px,#98d83e 102.5px,#cae11f 114.5px,#e2e418 120.5px,#f6e620 128.5px,#fde725 133.5px,#fde725 145.5px,#eae51a 159.5px,#e5e419 165.5px,#e5e419 171.5px,#f6e620 180.5px,#fde725 190.5px)"></i>
<i style="background:linear-gradient(90deg,#fff 0.7px,#46085c 0.7px,#46085c 37.5px,#471164 44.5px,#46327e 53.5px,#3b518b 59.5px,#21908d 70.5px,#1fa287 74.5px,#26ad81 77.5px,#32b67a 80.5px,#48c16e 85.5px,#63cb5f 90.5px,#a8db34 103.5px,#cae11f 111.5px,#dde318 117.5px,#efe51c 124.5px,#f6e620 130.5px,#f8e621 138.5px,#e5e419 156.5px,#e2e418 169.5px,#ece51b 175.5px,#fde725 183.5px,#fde725 190.5px)"></i>
<i style="background:linear-gradient(90deg,#fff 0.7px,#46085c 0.7px,#46085c 38.5px,#471063 44.5px,#482878 52.5px,#3c4f8a 60.5px,#24868e 70.5px,#1fa188 76.5px,#2ab07f 81.5px,#42be71 87.5px,#75d054 96.5px,#90d743 100.5px,#b0dd2f 105.5px,#d0e11c 111.5px,#e7e419 117.5px,#f4e61e 120.5px,#fde725 124.5px,#fde725 146.5px,#eae51a 160.5px,#e5e419 168.5px,#e7e419 172.5px,#fbe723 183.5px,#fbe723 190.5px)"></i>
<i style="background:linear-gradient(90deg,#fff 0.7px,#46085c 0.7px,#46085c 39.5px,#471063 45.5px,#481c6e 50.5px,#472f7d 55.5px,#3b528b 62.5px,#218f8d 74.5px,#20a386 80.5px,#2eb37c 86.5px,#54c568 94.5px,#84d44b 101.5px,#bade28 109.5px,#d0e11c 113.5px,#e5e419 117.5px,#fde725 123.5px,#fde725 154.5px,#eae51a 167.5px,#eae51a 172.5px,#fde725 183.5px,#fde725 190.5px)"></i>
<i style="background:linear-gradient(90deg,#fff 0.7px,#46085c 0.7px,#46085c 40.5px,#471063 46.5px,#481f70 52.5px,#443a83 59.5px,#3a538b 64.5px,#27808e 73.5px,#1fa088 82.5px,#28ae80 87.5px,#42be71 93.5px,#54c568 96.5px,#8ed645 104.5px,#b8de29 110.5px,#cde11d 114.5px,#dde318 117.5px,#eae51a 120.5px,#fbe723 127.5px,#fde725 146.5px,#ece51b 162.5px,#eae51a 170.5px,#fde725 181.5px,#fde725 190.5px)"></i>
<i style="background:linear-gradient(90deg,#fff 0.7px,#46085c 0.7px,#46085c 40.5px,#471164 48.5px,#482475 55.5px,#443b84 61.5px,#3a538b 66.5px,#2c738e 73.5px,#218e8d 80.5px,#20a386 87.5px,#29af7f 91.5px,#40bd72 96.5px,#89d548 106.5px,#b2dd2d 112.5px,#c8e020 116.5px,#d5e21a 119.5px,#e7e419 126.5px,#efe51c 134.5px,#efe51c 141.5px,#e2e418 156.5px,#e2e418 167.5px,#eae51a 173.5px,#fde725 181.5px,#fde725 190.5px)"></i>
<i style="background:linear-gradient(90deg,#fff 0.7px,#46085c 0.7px,#46085c 41.5px,#471164 49.5px,#472c7a 59.5px,#3b518b 68.5px,#2b758e 77.5px,#228d8d 84.5px,#1fa287 91.5px,#29af7f 95.5px,#38b977 98.5px,#52c569 102.5px,#7ad151 107.5px,#a8db34 113.5px,#bade28 116.5px,#d8e219 122.5px,#dfe318 125.5px,#e7e419 130.5px,#eae51a 137.5px,#d5e21a 160.5px,#d5e21a 169.5px,#e2e418 177.5px,#efe51c 183.5px,#efe51c 190.5px)"></i>
<i style="background:linear-gradient(90deg,#fff 0.7px,#46085c 0.7px,#46085c 42.5px,#481467 52.5px,#482878 60.5px,#433e85 66.5px,#3b518b 71.5px,#27808e 85.5px,#1fa088 95.5px,#24aa83 98.5px,#35b779 102.5px,#4ec36b 106.5px,#65cb5e 109.5px,#95d840 116.5px,#b0dd2f 121.5px,#bddf26 125.5px,#c5e021 130.5px,#c8e020 137.5px,#b2dd2d 159.5px,#b2dd2d 164.5px,#b8de29 172.5px,#d0e11c 184.5px,#d0e11c 190.5px)"></i>
<i style="background:linear-gradient(90deg,#fff 0.7px,#46085c 0.7px,#46085c 43.5px,#481467 54.5px,#472d7b 64.5px,#3c4f8a 74.5px,#277f8e 90.5px,#1f9f88 100.5px,#2cb17e 106.5px,#60ca60 116.5px,#77d153 121.5px,#84d44b 125.5px,#8ed645 133.5px,#8ed645 138.5px,#86d549 146.5px,#84d44b 160.5px,#90d743 170.5px,#b5de2b 184.5px,#b8de29 190.5px)"></i>
<i style="background:linear-gradient(90deg,#fff 0.7px,#46085c 0.7px,#46085c 44.5px,#470d60 51.5px,#482173 63.5px,#453882 71.5px,#3e4989 77.5px,#2a778e 93.5px,#1e9d89 104.5px,#26ad81 109.5px,#4ac16d 117.5px,#63cb5f 123.5px,#6ccd5a 127.5px,#70cf57 131.5px,#70cf57 139.5px,#65cb5e 154.5px,#65cb5e 162.5px,#6ccd5a 171.5px,#81d34d 184.5px,#84d44b 190.5px)"></i>
<i style="background:linear-gradient(90deg,#fff 0.7px,#46085c 0.7px,#46085c 46.5px,#481668 60.5px,#46307e 73.5px,#3d4e8a 84.5px,#287c8e 99.5px,#1e9d89 108.5px,#23a983 112.5px,#35b779 117.5px,#50c46a 124.5px,#5cc863 132.5px,#5cc863 137.5px,#4cc26c 156.5px,#48c16e 165.5px,#4cc26c 190.5px)"></i>
<i style="background:linear-gradient(90deg,#fff 0.7px,#46085c 0.7px,#46085c 47.5px,#471063 58.5px,#481d6f 68.5px,#424086 84.5px,#306a8e 98.5px,#1e9d89 114.5px,#23a983 119.5px,#2fb47c 125.5px,#38b977 134.5px,#34b679 156.5px,#35b779 190.5px)"></i>
<i style="background:linear-gradient(90deg,#fff 0.7px,#46085c 0.7px,#46085c 49.5px,#471063 61.5px,#472c7a 80.5px,#3c508b 95.5px,#24878e 114.5px,#1f9f88 126.5px,#22a785 138.5px,#27ad81 158.5px,#24aa83 190.5px)"></i>
<i style="background:linear-gradient(90deg,#fff 0.7px,#46085c 0.7px,#46085c 51.5px,#481467 70.5px,#46327e 90.5px,#3d4d8a 100.5px,#297b8e 116.5px,#21918c 128.5px,#1f958b 140.5px,#1f948c 190.5px)"></i>
<i style="background:linear-gradient(90deg,#fff 0.7px,#46085c 0.7px,#46085c 54.5px,#470d60 65.5px,#482475 88.5px,#443983 98.5px,#3d4e8a 105.5px,#2d708e 117.5px,#26828e 127.5px,#24878e 137.5px,#24868e 190.5px)"></i>
<i style="background:linear-gradient(90deg,#fff 0.7px,#46085c 0.7px,#46085c 57.5px,#470e61 72.5px,#481769 83.5px,#482475 93.5px,#453882 102.5px,#3c4f8a 110.5px,#30698e 120.5px,#2a768e 129.5px,#297a8e 138.5px,#29798e 190.5px)"></i>
<i style="background:linear-gradient(90deg,#fff 0.7px,#46085c 0.7px,#46085c 60.5px,#471063 80.5px,#48186a 90.5px,#482374 97.5px,#3e4a89 113.5px,#33638d 124.5px,#2f6b8e 131.5px,#2f6c8e 190.5px)"></i>
<i style="background:linear-gradient(90deg,#fff 0.7px,#46085c 0.7px,#46085c 64.5px,#470d60 80.5px,#481467 91.5px,#482071 100.5px,#414287 115.5px,#3a548c 123.5px,#355f8d 132.5px,#34608d 190.5px)"></i>
<i style="background:linear-gradient(90deg,#fff 0.7px,#46085c 0.7px,#46085c 69.5px,#470d60 86.5px,#481a6c 100.5px,#424086 119.5px,#3d4d8a 126.5px,#3a538b 133.5px,#3a538b 190.5px)"></i>
<i style="background:linear-gradient(90deg,#fff 0.7px,#46085c 0.7px,#46085c 75.5px,#460b5e 88.5px,#481b6d 105.5px,#46337f 118.5px,#404688 131.5px,#3f4788 190.5px)"></i>
<i style="background:linear-gradient(90deg,#fff 0.7px,#46085c 0.7px,#460a5d 89.5px,#481467 104.5px,#472d7b 120.5px,#443b84 133.5px,#443b84 190.5px)"></i>
<i style="background:linear-gradient(90deg,#fff 0.7px,#46085c 0.7px,#460a5d 94.5px,#471365 107.5px,#482979 124.5px,#46327e 135.5px,#46327e 190.5px)"></i>
<i style="background:linear-gradient(90deg,#fff 0.7px,#46085c 0.7px,#46085c 92.5px,#470e61 106.5px,#482173 124.5px,#482979 135.5px,#482979 190.5px)"></i>
<i style="background:linear-gradient(90deg,#fff 0.7px,#46085c 0.7px,#46085c 96.5px,#460b5e 105.5px,#482374 136.5px,#482374 190.5px)"></i>
<i style="background:linear-gradient(90deg,#fff 0.7px,#46085c 0.7px,#46085c 99.5px,#481c6e 133.5px,#481c6e 190.5px)"></i>
<i style="background:linear-gradient(90deg,#fff 0.7px,#46085c 0.7px,#46085c 103.5px,#48186a 138.5px,#481769 190.5px)"></i>
<i style="background:linear-gradient(90deg,#fff 0.7px,#46085c 0.7px,#46085c 107.5px,#471365 134.5px,#471365 190.5px)"></i>
<i style="background:linear-gradient(90deg,#fff 0.7px,#46085c 0.7px,#46085c 112.5px,#470e61 135.5px,#470e61 190.5px)"></i>
<i style="background:linear-gradient(90deg,#fff 0.7px,#46085c 0.7px,#460a5d 190.5px)"></i>
<i style="background:linear-gradient(90deg,#fff 0.7px,#46085c 0.7px,#46085c 190.5px)"></i>
<i style="background:linear-gradient(90deg,#fff 0.7px,#46085c 0.7px,#46085c 190.5px)"></i>
<i style="background:linear-gradient(90deg,#fff 0.7px,#46085c 0.7px,#46085c 190.5px)"></i>
<i style="background:linear-gradient(90deg,#fff 0.7px,#46085c 0.7px,#46085c 190.5px)"></i>
<i style="background:linear-gradient(90deg,#fff 0.7px,#46085c 0.7px,#46085c 190.5px)"></i>
<i style="background:linear-gradient(90deg,#fff 0.7px,#46085c 0.7px,#46085c 190.5px)"></i>
<i style="background:linear-gradient(90deg,#fff 0.7px,#46085c 0.7px,#46085c 190.5px)"></i>
<i style="background:linear-gradient(90deg,#fff 0.7px,#46085c 0.7px,#46085c 190.5px)"></i>
<i style="background:linear-gradient(90deg,#fff 0.7px,#46085c 0.7px,#46085c 190.5px)"></i>
<i style="background:linear-gradient(90deg,#fff 0.7px,#46085c 0.7px,#46085c 190.5px)"></i>
<i style="background:linear-gradient(90deg,#fff 0.7px,#46085c 0.7px,#46085c 190.5px)"></i>
<i style="background:linear-gradient(90deg,#fff 0.7px,#46085c 0.7px,#46085c 190.5px)"></i>
<i style="background:linear-gradient(90deg,#fff 0.7px,#46085c 0.7px,#46085c 190.5px)"></i>
<i style="background:linear-gradient(90deg,#fff 0.7px,#46085c 0.7px,#46085c 190.5px)"></i>
<i style="background:linear-gradient(90deg,#fff 0.7px,#46085c 0.7px,#46085c 190.5px)"></i>
<i style="background:linear-gradient(90deg,#fff 0.7px,#46085c 0.7px,#46085c 190.5px)"></i>
<i style="background:linear-gradient(90deg,#fff 0.7px,#46085c 0.7px,#46085c 190.5px)"></i>
<i style="background:linear-gradient(90deg,#fff 0.7px,#46085c 0.7px,#46085c 190.5px)"></i>
<i style="background:linear-gradient(90deg,#fff 0.7px,#46085c 0.7px,#46085c 190.5px)"></i>
<i style="background:linear-gradient(90deg,#fff 0.7px,#46085c 0.7px,#46085c 190.5px)"></i>
<i style="background:linear-gradient(90deg,#fff 0.7px,#46085c 0.7px,#46085c 190.5px)"></i>
<i style="background:linear-gradient(90deg,#fff 0.7px,#46085c 0.7px,#46085c 190.5px)"></i>
<i style="background:linear-gradient(90deg,#fff 0.7px,#46085c 0.7px,#46085c 190.5px)"></i>
<i style="background:linear-gradient(90deg,#fff 0.7px,#46085c 0.7px,#46085c 190.5px)"></i>
<i style="background:linear-gradient(90deg,#fff 0.7px,#46085c 0.7px,#46085c 190.5px)"></i>
<i style="background:linear-gradient(90deg,#fff 0.7px,#46085c 0.7px,#46085c 190.5px)"></i>
<i style="background:linear-gradient(90deg,#fff 0.7px,#46085c 0.7px,#46085c 190.5px)"></i>
<i style="background:linear-gradient(90deg,#fff 0.7px,#46085c 0.7px,#46085c 190.5px)"></i>
<i style="background:linear-gradient(90deg,#fff 0.7px,#46085c 0.7px,#46085c 190.5px)"></i>
<i style="background:linear-gradient(90deg,#fff 0.7px,#46085c 0.7px,#46085c 190.5px)"></i>
<i style="background:linear-gradient(90deg,#fff 0.7px,#46085c 0.7px,#46085c 190.5px)"></i>
<i style="background:linear-gradient(90deg,#fff 0.7px,#46085c 0.7px,#46085c 190.5px)"></i>
<i style="background:linear-gradient(90deg,#fff 0.7px,#46085c 0.7px,#46085c 190.5px)"></i>
<i style="background:linear-gradient(90deg,#fff 0.7px,#46085c 0.7px,#46085c 190.5px)"></i>
<i style="background:linear-gradient(90deg,#fff 0.7px,#46085c 0.7px,#46085c 190.5px)"></i>
<i style="background:linear-gradient(90deg,#fff 0.7px,#46085c 0.7px,#46085c 190.5px)"></i>
<i style="background:linear-gradient(90deg,#fff 0.7px,#46085c 0.7px,#46085c 190.5px)"></i>
<i style="background:linear-gradient(90deg,#fff 0.7px,#46085c 0.7px,#46085c 190.5px)"></i>
<i style="background:linear-gradient(90deg,#fff 0.7px,#46085c 0.7px,#46085c 190.5px)"></i>
<i style="background:linear-gradient(90deg,#fff 0.7px,#46085c 0.7px,#46085c 190.5px)"></i>
<i style="background:linear-gradient(90deg,#fff 0.7px,#46085c 0.7px,#46085c 190.5px)"></i>
<i style="background:linear-gradient(90deg,#fff 0.7px,#46085c 0.7px,#46085c 190.5px)"></i>
<i style="background:linear-gradient(90deg,#fff 0.7px,#46085c 0.7px,#46085c 190.5px)"></i>
<i style="background:linear-gradient(90deg,#fff 0.7px,#46085c 0.7px,#46085c 190.5px)"></i>
<i style="background:linear-gradient(90deg,#fff 0.7px,#46085c 0.7px,#46085c 190.5px)"></i>
<i style="background:linear-gradient(90deg,#fff 0.7px,#46085c 0.7px,#46085c 190.5px)"></i>
<i style="background:linear-gradient(90deg,#fff 0.7px,#46085c 0.7px,#46085c 190.5px)"></i>
<i style="background:linear-gradient(90deg,#fff 0.7px,#46085c 0.7px,#46085c 190.5px)"></i>
<i style="background:linear-gradient(90deg,#fff 0.7px,#46085c 0.7px,#46085c 190.5px)"></i>
<i style="background:linear-gradient(90deg,#fff 0.7px,#46085c 0.7px,#46085c 190.5px)"></i>
<i style="background:linear-gradient(90deg,#fff 0.7px,#46085c 0.7px,#46085c 190.5px)"></i>
<i style="background:linear-gradient(90deg,#fff 0.7px,#46085c 0.7px,#46085c 190.5px)"></i>
</div>
<div class="hm" style="left:265px;top:255px;width:191px;height:191px">
<i style="background:linear-gradient(90deg,#fff 1.9px,#46085c 1.9px,#460b5e 13.5px,#482374 27.5px,#453882 35.5px,#424186 42.5px,#443983 112.5px,#46307e 139.5px,#46307e 157.5px,#443a83 190.5px)"></i>
<i style="background:linear-gradient(90deg,#fff 1.9px,#46085c 1.9px,#46085c 9.5px,#471164 17.5px,#482173 25.5px,#443a83 34.5px,#3f4788 42.5px,#404588 62.5px,#443983 85.5px,#443b84 122.5px,#46307e 153.5px,#46327e 171.5px,#443983 190.5px)"></i>
<i style="background:linear-gradient(90deg,#fff 1.9px,#46085c 1.9px,#46085c 9.5px,#471164 17.5px,#472a7a 28.5px,#443a83 33.5px,#3f4788 38.5px,#3d4d8a 43.5px,#423f85 78.5px,#424086 110.5px,#443b84 128.5px,#453882 190.5px)"></i>
<i style="background:linear-gradient(90deg,#fff 1.9px,#46085c 1.9px,#46085c 10.5px,#471063 16.5px,#443983 32.5px,#3f4788 37.5px,#3d4e8a 43.5px,#414287 64.5px,#3f4889 98.5px,#433d84 122.5px,#424086 163.5px,#443983 190.5px)"></i>
<i style="background:linear-gradient(90deg,#fff 1.9px,#46085c 1.9px,#46085c 10.5px,#471063 16.5px,#482878 25.5px,#423f85 32.5px,#3c508b 37.5px,#375a8c 43.5px,#3e4c8a 60.5px,#404688 73.5px,#404688 166.5px,#443b84 190.5px)"></i>
<i style="background:linear-gradient(90deg,#fff 1.9px,#46085c 1.9px,#46085c 11.5px,#471164 17.5px,#482979 25.5px,#424086 31.5px,#33638d 40.5px,#306a8e 45.5px,#38588c 62.5px,#3d4e8a 79.5px,#3a538b 163.5px,#3e4a89 190.5px)"></i>
<i style="background:linear-gradient(90deg,#fff 1.9px,#46085c 1.9px,#46085c 12.5px,#471365 18.5px,#472a7a 25.5px,#404688 32.5px,#31688e 40.5px,#2d718e 44.5px,#2c728e 47.5px,#34608d 63.5px,#39568c 81.5px,#39568c 190.5px)"></i>
<i style="background:linear-gradient(90deg,#fff 1.9px,#46085c 1.9px,#46085c 13.5px,#470e61 17.5px,#481f70 23.5px,#453781 29.5px,#3f4788 33.5px,#306a8e 41.5px,#2c738e 45.5px,#2a768e 48.5px,#31668e 65.5px,#365d8d 84.5px,#34608d 126.5px,#3b518b 170.5px,#3b528b 190.5px)"></i>
<i style="background:linear-gradient(90deg,#fff 1.9px,#46085c 1.9px,#46085c 14.5px,#470e61 18.5px,#482374 25.5px,#423f85 32.5px,#31668e 41.5px,#2e6f8e 44.5px,#2b748e 48.5px,#34618d 71.5px,#38588c 95.5px,#375a8c 135.5px,#3b518b 190.5px)"></i>
<i style="background:linear-gradient(90deg,#fff 1.9px,#46085c 1.9px,#46085c 14.5px,#471164 20.5px,#472d7b 28.5px,#404688 34.5px,#306a8e 42.5px,#2c728e 45.5px,#2a788e 49.5px,#355f8d 76.5px,#39558c 97.5px,#3a548c 125.5px,#375b8d 157.5px,#39558c 190.5px)"></i>
<i style="background:linear-gradient(90deg,#fff 1.9px,#46085c 1.9px,#46085c 15.5px,#471063 20.5px,#482677 27.5px,#404688 34.5px,#2d708e 43.5px,#287d8e 49.5px,#287d8e 52.5px,#32658e 72.5px,#355e8d 87.5px,#38588c 138.5px,#375a8c 190.5px)"></i>
<i style="background:linear-gradient(90deg,#fff 1.9px,#46085c 1.9px,#46085c 16.5px,#470e61 20.5px,#482979 28.5px,#404688 34.5px,#2c738e 43.5px,#26828e 47.5px,#25858e 50.5px,#25848e 54.5px,#297a8e 61.5px,#2e6d8e 76.5px,#355f8d 122.5px,#365d8d 149.5px,#31678e 190.5px)"></i>
<i style="background:linear-gradient(90deg,#fff 1.9px,#46085c 1.9px,#46085c 17.5px,#470d60 20.5px,#482979 28.5px,#404688 34.5px,#277e8e 45.5px,#238a8d 50.5px,#228b8d 53.5px,#2b758e 76.5px,#2e6d8e 100.5px,#31688e 150.5px,#2d718e 190.5px)"></i>
<i style="background:linear-gradient(90deg,#fff 1.9px,#46085c 1.9px,#46085c 17.5px,#470d60 20.5px,#472c7a 29.5px,#3e4989 35.5px,#287c8e 45.5px,#25838e 47.5px,#228b8d 52.5px,#29798e 72.5px,#2d708e 101.5px,#2e6d8e 119.5px,#2e6f8e 190.5px)"></i>
<i style="background:linear-gradient(90deg,#fff 1.9px,#46085c 1.9px,#46085c 18.5px,#460b5e 20.5px,#482576 28.5px,#443983 32.5px,#3e4c8a 36.5px,#277e8e 46.5px,#25848e 48.5px,#238a8d 52.5px,#297a8e 73.5px,#2c728e 106.5px,#2e6f8e 190.5px)"></i>
<i style="background:linear-gradient(90deg,#fff 1.9px,#46085c 1.9px,#46085c 18.5px,#470d60 21.5px,#482878 29.5px,#453882 32.5px,#3e4a89 36.5px,#26828e 47.5px,#228d8d 53.5px,#287c8e 71.5px,#2c718e 98.5px,#2e6e8e 190.5px)"></i>
<i style="background:linear-gradient(90deg,#fff 1.9px,#46085c 1.9px,#46085c 18.5px,#470d60 21.5px,#482979 29.5px,#443983 32.5px,#3d4d8a 36.5px,#24868e 47.5px,#21908d 51.5px,#20928c 54.5px,#287c8e 71.5px,#2d718e 93.5px,#2e6d8e 190.5px)"></i>
<i style="background:linear-gradient(90deg,#fff 1.9px,#46085c 1.9px,#460a5d 20.5px,#482979 29.5px,#443a83 32.5px,#3d4e8a 36.5px,#228b8d 47.5px,#1f948c 50.5px,#1f998a 54.5px,#238a8d 65.5px,#297b8e 81.5px,#2c728e 97.5px,#2e6e8e 147.5px,#2d708e 190.5px)"></i>
<i style="background:linear-gradient(90deg,#fff 1.9px,#46085c 1.9px,#46085c 19.5px,#460b5e 21.5px,#482071 27.5px,#463480 31.5px,#3e4989 35.5px,#2d718e 42.5px,#20928c 48.5px,#1e9c89 51.5px,#1fa088 54.5px,#297b8e 92.5px,#2b758e 102.5px,#2d708e 131.5px,#2c718e 190.5px)"></i>
<i style="background:linear-gradient(90deg,#fff 1.9px,#46085c 1.9px,#46085c 19.5px,#470e61 22.5px,#481d6f 26.5px,#46327e 30.5px,#414487 33.5px,#375b8d 37.5px,#26828e 43.5px,#1e9b8a 47.5px,#22a884 50.5px,#29af7f 54.5px,#21a685 61.5px,#1e9b8a 70.5px,#287d8e 98.5px,#2b758e 111.5px,#2c738e 133.5px,#29798e 160.5px,#2c718e 190.5px)"></i>
<i style="background:linear-gradient(90deg,#fff 1.9px,#46085c 1.9px,#46085c 19.5px,#470e61 22.5px,#482475 27.5px,#3e4989 33.5px,#2b758e 40.5px,#1e9c89 45.5px,#24aa83 47.5px,#31b57b 49.5px,#3bbb75 51.5px,#46c06f 55.5px,#32b67a 60.5px,#21a685 68.5px,#1e9c89 75.5px,#218e8d 85.5px,#25838e 98.5px,#277f8e 117.5px,#26828e 161.5px,#2a768e 190.5px)"></i>
<i style="background:linear-gradient(90deg,#fff 1.9px,#46085c 1.9px,#46085c 19.5px,#470e61 22.5px,#46307e 29.5px,#3d4d8a 33.5px,#297b8e 40.5px,#1e9c89 44.5px,#25ac82 46.5px,#42be71 49.5px,#58c765 52.5px,#60ca60 55.5px,#3fbc73 61.5px,#32b67a 64.5px,#26ad81 68.5px,#1fa187 74.5px,#20928c 85.5px,#24878e 101.5px,#228c8d 150.5px,#26818e 190.5px)"></i>
<i style="background:linear-gradient(90deg,#fff 1.9px,#46085c 1.9px,#46085c 19.5px,#470e61 22.5px,#472c7a 28.5px,#3d4d8a 33.5px,#287d8e 40.5px,#1f9f88 44.5px,#29af7f 46.5px,#4ec36b 49.5px,#67cc5c 52.5px,#75d054 55.5px,#46c06f 63.5px,#35b779 67.5px,#26ad81 73.5px,#1fa287 79.5px,#20928c 97.5px,#1f948c 141.5px,#23888e 190.5px)"></i>
<i style="background:linear-gradient(90deg,#fff 1.9px,#46085c 1.9px,#46085c 19.5px,#470e61 22.5px,#472d7b 28.5px,#3c508b 33.5px,#297b8e 39.5px,#1e9d89 43.5px,#21a685 44.5px,#29af7f 45.5px,#35b779 46.5px,#65cb5e 49.5px,#84d44b 52.5px,#90d743 55.5px,#8ed645 56.5px,#7cd250 58.5px,#54c568 64.5px,#40bd72 68.5px,#2db27d 74.5px,#21a585 83.5px,#1f9a8a 100.5px,#1e9c89 135.5px,#20928c 170.5px,#20928c 190.5px)"></i>
<i style="background:linear-gradient(90deg,#fff 1.9px,#46085c 1.9px,#46085c 20.5px,#470d60 22.5px,#472d7b 28.5px,#3e4a89 32.5px,#27808e 39.5px,#1f9a8a 42.5px,#20a386 43.5px,#34b679 45.5px,#6ccd5a 48.5px,#7fd34e 49.5px,#98d83e 51.5px,#a2da37 52.5px,#a8db34 53.5px,#b0dd2f 55.5px,#b0dd2f 56.5px,#93d741 59.5px,#6ece58 64.5px,#58c765 68.5px,#44bf70 73.5px,#34b679 79.5px,#27ad81 88.5px,#22a785 98.5px,#1fa188 117.5px,#1f9f88 146.5px,#1f968b 170.5px,#1f978b 190.5px)"></i>
<i style="background:linear-gradient(90deg,#fff 1.9px,#46085c 1.9px,#46085c 20.5px,#470d60 22.5px,#472c7a 28.5px,#3b518b 33.5px,#277e8e 39.5px,#1fa188 43.5px,#24aa83 44.5px,#2fb47c 45.5px,#50c46a 47.5px,#77d153 49.5px,#86d549 50.5px,#9bd93c 52.5px,#a8db34 54.5px,#addc30 56.5px,#89d548 60.5px,#6ece58 64.5px,#4ac16d 72.5px,#3dbc74 77.5px,#2eb37c 87.5px,#25ab82 99.5px,#1fa287 112.5px,#1e9d89 146.5px,#20938c 169.5px,#1f968b 190.5px)"></i>
<i style="background:linear-gradient(90deg,#fff 1.9px,#46085c 1.9px,#46085c 20.5px,#471063 23.5px,#472f7d 29.5px,#3a548c 34.5px,#277f8e 40.5px,#1f998a 43.5px,#1fa187 44.5px,#25ab82 45.5px,#2fb47c 46.5px,#6ece58 50.5px,#89d548 53.5px,#93d741 55.5px,#95d840 56.5px,#65cb5e 63.5px,#44bf70 71.5px,#32b67a 79.5px,#25ac82 91.5px,#1fa188 104.5px,#1f978b 122.5px,#21908d 166.5px,#20938c 190.5px)"></i>
<i style="background:linear-gradient(90deg,#fff 1.9px,#46085c 1.9px,#46085c 20.5px,#470e61 23.5px,#472e7c 29.5px,#3b518b 34.5px,#287c8e 40.5px,#1f9e89 44.5px,#22a785 45.5px,#2ab07f 46.5px,#44bf70 48.5px,#65cb5e 50.5px,#84d44b 53.5px,#8ed645 55.5px,#90d743 56.5px,#8ed645 57.5px,#75d054 60.5px,#5ec962 64.5px,#3fbc73 72.5px,#2db27d 81.5px,#25ab82 90.5px,#1fa187 104.5px,#1f9a8a 120.5px,#20928c 190.5px)"></i>
<i style="background:linear-gradient(90deg,#fff 1.9px,#46085c 1.9px,#46085c 20.5px,#470e61 23.5px,#472d7b 29.5px,#3b528b 34.5px,#277e8e 40.5px,#1fa188 44.5px,#24aa83 45.5px,#2eb37c 46.5px,#4ec36b 48.5px,#75d054 50.5px,#81d34d 51.5px,#9dd93b 54.5px,#a8db34 56.5px,#a5db36 57.5px,#73d056 64.5px,#50c46a 72.5px,#3fbc73 78.5px,#2db27d 90.5px,#20a486 114.5px,#1f978b 148.5px,#1f948c 160.5px,#1f968b 190.5px)"></i>
<i style="background:linear-gradient(90deg,#fff 1.9px,#46085c 1.9px,#46085c 21.5px,#470d60 23.5px,#472d7b 29.5px,#3b518b 34.5px,#287d8e 40.5px,#1fa088 44.5px,#23a983 45.5px,#2db27d 46.5px,#4cc26c 48.5px,#70cf57 50.5px,#89d548 52.5px,#93d741 53.5px,#a2da37 56.5px,#a0da39 57.5px,#7ad151 62.5px,#63cb5f 66.5px,#46c06f 73.5px,#31b57b 82.5px,#28ae80 89.5px,#1fa287 111.5px,#1f948c 146.5px,#20928c 190.5px)"></i>
<i style="background:linear-gradient(90deg,#fff 1.9px,#46085c 1.9px,#46085c 21.5px,#470d60 23.5px,#472c7a 29.5px,#433e85 32.5px,#3c4f8a 34.5px,#297a8e 40.5px,#1e9b8a 44.5px,#26ad81 46.5px,#50c46a 49.5px,#63cb5f 50.5px,#81d34d 53.5px,#90d743 56.5px,#90d743 57.5px,#70cf57 61.5px,#5ac864 65.5px,#3fbc73 72.5px,#2db27d 80.5px,#25ab82 87.5px,#1e9c89 110.5px,#24878e 190.5px)"></i>
<i style="background:linear-gradient(90deg,#fff 1.9px,#46085c 1.9px,#46085c 21.5px,#471063 24.5px,#482979 29.5px,#3d4d8a 34.5px,#277f8e 41.5px,#1fa188 45.5px,#2cb17e 47.5px,#56c667 50.5px,#75d054 53.5px,#84d44b 56.5px,#84d44b 57.5px,#60ca60 62.5px,#42be71 69.5px,#2ab07f 79.5px,#21a685 88.5px,#1f9a8a 108.5px,#23888e 147.5px,#25858e 158.5px,#24878e 190.5px)"></i>
<i style="background:linear-gradient(90deg,#fff 1.9px,#46085c 1.9px,#46085c 21.5px,#470e61 24.5px,#46337f 31.5px,#3c508b 35.5px,#26818e 42.5px,#1fa187 46.5px,#2db27d 48.5px,#44bf70 50.5px,#60ca60 53.5px,#6ece58 57.5px,#4ac16d 63.5px,#34b679 69.5px,#25ac82 76.5px,#20a386 83.5px,#1f998a 97.5px,#1f968b 121.5px,#25858e 157.5px,#23888e 190.5px)"></i>
<i style="background:linear-gradient(90deg,#fff 1.9px,#46085c 1.9px,#46085c 21.5px,#470e61 24.5px,#46307e 31.5px,#3d4d8a 35.5px,#297b8e 42.5px,#1f9a8a 46.5px,#24aa83 48.5px,#3fbc73 51.5px,#4ec36b 53.5px,#5ac864 57.5px,#3dbc74 63.5px,#2eb37c 68.5px,#25ac82 73.5px,#20a486 80.5px,#1f998a 100.5px,#24878e 159.5px,#24878e 190.5px)"></i>
<i style="background:linear-gradient(90deg,#fff 1.9px,#46085c 1.9px,#46085c 21.5px,#470d60 24.5px,#482979 30.5px,#3e4989 35.5px,#2a768e 42.5px,#1e9d89 47.5px,#25ab82 49.5px,#34b679 51.5px,#44bf70 54.5px,#4cc26c 57.5px,#3bbb75 61.5px,#2ab07f 67.5px,#22a884 73.5px,#1fa187 80.5px,#25858e 158.5px,#25838e 190.5px)"></i>
<i style="background:linear-gradient(90deg,#fff 1.9px,#46085c 1.9px,#46085c 22.5px,#471063 25.5px,#472c7a 31.5px,#3d4d8a 36.5px,#29798e 43.5px,#1f9e89 48.5px,#25ab82 50.5px,#31b57b 52.5px,#3aba76 54.5px,#40bd72 57.5px,#2eb37c 63.5px,#26ad81 67.5px,#1fa188 77.5px,#1f988b 87.5px,#21918c 106.5px,#228c8d 142.5px,#25838e 170.5px,#25848e 190.5px)"></i>
<i style="background:linear-gradient(90deg,#fff 1.9px,#46085c 1.9px,#46085c 22.5px,#460b5e 24.5px,#472e7c 32.5px,#3f4889 36.5px,#34618d 40.5px,#25838e 45.5px,#1fa188 49.5px,#2fb47c 53.5px,#3bbb75 57.5px,#26ad81 66.5px,#21a585 71.5px,#1f968b 86.5px,#21918c 98.5px,#228d8d 118.5px,#21908d 147.5px,#23888e 174.5px,#228b8d 190.5px)"></i>
<i style="background:linear-gradient(90deg,#fff 1.9px,#46085c 1.9px,#46085c 22.5px,#470e61 25.5px,#482374 30.5px,#46337f 33.5px,#3f4788 36.5px,#355e8d 40.5px,#27808e 45.5px,#1e9c89 49.5px,#25ac82 52.5px,#32b67a 57.5px,#21a585 68.5px,#1f968b 82.5px,#20928c 90.5px,#228d8d 134.5px,#218e8d 190.5px)"></i>
<i style="background:linear-gradient(90deg,#fff 1.9px,#46085c 1.9px,#46085c 22.5px,#470e61 25.5px,#46337f 33.5px,#3f4889 36.5px,#34608d 40.5px,#26828e 45.5px,#1f9e89 49.5px,#29af7f 52.5px,#3aba76 58.5px,#28ae80 65.5px,#22a884 70.5px,#1f988b 86.5px,#20938c 96.5px,#228c8d 145.5px,#20928c 190.5px)"></i>
<i style="background:linear-gradient(90deg,#fff 1.9px,#46085c 1.9px,#46085c 22.5px,#470e61 25.5px,#482374 30.5px,#46337f 33.5px,#3f4889 36.5px,#2c738e 43.5px,#1f998a 48.5px,#22a785 50.5px,#2eb37c 52.5px,#38b977 54.5px,#44bf70 58.5px,#2ab07f 67.5px,#23a983 73.5px,#1fa187 81.5px,#1f998a 95.5px,#20928c 120.5px,#20928c 190.5px)"></i>
<i style="background:linear-gradient(90deg,#fff 1.9px,#46085c 1.9px,#46085c 22.5px,#470e61 25.5px,#482979 31.5px,#3e4989 36.5px,#2a768e 43.5px,#1e9c89 48.5px,#24aa83 50.5px,#34b679 52.5px,#44bf70 55.5px,#4cc26c 58.5px,#37b878 64.5px,#2cb17e 69.5px,#21a685 82.5px,#20928c 138.5px,#20928c 190.5px)"></i>
<i style="background:linear-gradient(90deg,#fff 1.9px,#46085c 1.9px,#46085c 22.5px,#470e61 25.5px,#482475 30.5px,#453581 33.5px,#3e4c8a 36.5px,#29798e 43.5px,#1fa088 48.5px,#28ae80 50.5px,#3bbb75 52.5px,#50c46a 55.5px,#58c765 58.5px,#3dbc74 65.5px,#34b679 69.5px,#29af7f 76.5px,#25ac82 82.5px,#20a486 109.5px,#1f968b 136.5px,#1f948c 190.5px)"></i>
<i style="background:linear-gradient(90deg,#fff 1.9px,#46085c 1.9px,#46085c 22.5px,#470d60 25.5px,#472f7d 32.5px,#3e4c8a 36.5px,#2c738e 42.5px,#1f9a8a 47.5px,#24aa83 49.5px,#42be71 52.5px,#58c765 55.5px,#5ec962 57.5px,#5ec962 59.5px,#46c06f 64.5px,#31b57b 71.5px,#24aa83 83.5px,#1f9a8a 140.5px,#1f968b 190.5px)"></i>
<i style="background:linear-gradient(90deg,#fff 1.9px,#46085c 1.9px,#46085c 23.5px,#470d60 25.5px,#482374 30.5px,#3e4a89 36.5px,#297b8e 43.5px,#1e9d89 47.5px,#28ae80 49.5px,#32b67a 50.5px,#4ec36b 52.5px,#6ccd5a 55.5px,#75d054 57.5px,#77d153 59.5px,#52c569 67.5px,#3bbb75 74.5px,#2eb37c 81.5px,#27ad81 88.5px,#21a685 104.5px,#1e9d89 134.5px,#1f9f88 163.5px,#1f9a8a 190.5px)"></i>
<i style="background:linear-gradient(90deg,#fff 1.9px,#46085c 1.9px,#46085c 23.5px,#471063 26.5px,#472f7d 32.5px,#3b528b 37.5px,#287d8e 43.5px,#1f9f88 47.5px,#22a884 48.5px,#37b878 50.5px,#58c765 52.5px,#77d153 55.5px,#89d548 58.5px,#89d548 59.5px,#5ec962 68.5px,#46c06f 76.5px,#37b878 84.5px,#2cb17e 93.5px,#21a585 118.5px,#1fa088 133.5px,#21a685 170.5px,#1fa088 190.5px)"></i>
<i style="background:linear-gradient(90deg,#fff 1.9px,#46085c 1.9px,#46085c 23.5px,#471063 26.5px,#472e7c 32.5px,#3b518b 37.5px,#297b8e 43.5px,#1e9c89 47.5px,#20a486 48.5px,#27ad81 49.5px,#31b57b 50.5px,#4ec36b 52.5px,#6ccd5a 55.5px,#7cd250 58.5px,#7fd34e 59.5px,#69cd5b 63.5px,#4cc26c 72.5px,#3aba76 81.5px,#2fb47c 91.5px,#20a386 132.5px,#1e9d89 190.5px)"></i>
<i style="background:linear-gradient(90deg,#fff 1.9px,#46085c 1.9px,#46085c 23.5px,#471063 26.5px,#482677 31.5px,#3c4f8a 37.5px,#277f8e 44.5px,#1fa088 48.5px,#29af7f 50.5px,#4ac16d 53.5px,#5ac864 55.5px,#63cb5f 57.5px,#67cc5c 59.5px,#4ec36b 65.5px,#3dbc74 71.5px,#32b67a 78.5px,#2ab07f 89.5px,#21a585 126.5px,#1f978b 190.5px)"></i>
<i style="background:linear-gradient(90deg,#fff 1.9px,#46085c 1.9px,#46085c 23.5px,#470e61 26.5px,#472c7a 32.5px,#3d4e8a 37.5px,#287c8e 44.5px,#1e9c89 48.5px,#25ab82 50.5px,#40bd72 53.5px,#50c46a 55.5px,#5cc863 59.5px,#4cc26c 63.5px,#35b779 72.5px,#27ad81 91.5px,#1fa187 123.5px,#1f9f88 145.5px,#1f958b 170.5px,#1f958b 190.5px)"></i>
<i style="background:linear-gradient(90deg,#fff 1.9px,#46085c 1.9px,#46085c 23.5px,#470e61 26.5px,#472c7a 32.5px,#3d4e8a 37.5px,#287d8e 44.5px,#1f9f88 48.5px,#28ae80 50.5px,#3fbc73 52.5px,#5ec962 56.5px,#65cb5e 58.5px,#67cc5c 59.5px,#52c569 64.5px,#3dbc74 71.5px,#31b57b 79.5px,#29af7f 88.5px,#1fa188 122.5px,#1e9b8a 160.5px,#1e9c89 190.5px)"></i>
<i style="background:linear-gradient(90deg,#fff 1.9px,#46085c 1.9px,#46085c 23.5px,#470e61 26.5px,#472c7a 32.5px,#3d4e8a 37.5px,#277f8e 44.5px,#1fa187 48.5px,#2cb17e 50.5px,#52c569 53.5px,#65cb5e 55.5px,#75d054 58.5px,#77d153 59.5px,#56c667 67.5px,#42be71 74.5px,#35b779 81.5px,#26ad81 96.5px,#1fa187 122.5px,#1f9f88 190.5px)"></i>
<i style="background:linear-gradient(90deg,#fff 1.9px,#46085c 1.9px,#46085c 23.5px,#471063 26.5px,#472e7c 32.5px,#3b528b 37.5px,#287d8e 43.5px,#1fa088 47.5px,#22a884 48.5px,#2cb17e 49.5px,#38b977 50.5px,#5ac864 52.5px,#7cd250 55.5px,#93d741 59.5px,#73d056 65.5px,#52c569 75.5px,#3aba76 86.5px,#2ab07f 97.5px,#21a685 118.5px,#1f9e89 190.5px)"></i>
<i style="background:linear-gradient(90deg,#fff 1.9px,#46085c 1.9px,#46085c 23.5px,#471063 26.5px,#46307e 32.5px,#3c4f8a 36.5px,#297b8e 42.5px,#1f9e89 46.5px,#22a785 47.5px,#2cb17e 48.5px,#4ac16d 50.5px,#73d056 52.5px,#9bd93c 55.5px,#addc30 58.5px,#b0dd2f 59.5px,#8ed645 64.5px,#6ccd5a 71.5px,#58c765 76.5px,#3aba76 87.5px,#2ab07f 97.5px,#23a983 114.5px,#24aa83 148.5px,#1fa188 190.5px)"></i>
<i style="background:linear-gradient(90deg,#fff 1.9px,#46085c 1.9px,#46085c 23.5px,#470d60 25.5px,#472d7b 31.5px,#424186 34.5px,#3a538b 36.5px,#26818e 42.5px,#1e9b8a 45.5px,#20a486 46.5px,#35b779 48.5px,#5ac864 50.5px,#89d548 52.5px,#a5db36 54.5px,#b8de29 56.5px,#c5e021 59.5px,#a2da37 64.5px,#93d741 67.5px,#7fd34e 71.5px,#5ec962 79.5px,#3aba76 92.5px,#2cb17e 101.5px,#24aa83 115.5px,#27ad81 150.5px,#1fa188 190.5px)"></i>
<i style="background:linear-gradient(90deg,#fff 1.9px,#46085c 1.9px,#46085c 23.5px,#470d60 25.5px,#482677 30.5px,#3e4c8a 35.5px,#29798e 41.5px,#1e9d89 45.5px,#21a685 46.5px,#38b977 48.5px,#60ca60 50.5px,#8ed645 52.5px,#b8de29 55.5px,#cde11d 58.5px,#cde11d 59.5px,#b2dd2d 63.5px,#8ed645 70.5px,#69cd5b 79.5px,#44bf70 92.5px,#2fb47c 105.5px,#26ad81 122.5px,#27ad81 147.5px,#20a386 190.5px)"></i>
<i style="background:linear-gradient(90deg,#fff 1.9px,#46085c 1.9px,#46085c 23.5px,#470e61 25.5px,#482878 30.5px,#3d4d8a 35.5px,#287c8e 41.5px,#1fa088 45.5px,#23a983 46.5px,#2eb37c 47.5px,#3fbc73 48.5px,#67cc5c 50.5px,#98d83e 52.5px,#c0df25 55.5px,#cde11d 57.5px,#d2e21b 58.5px,#d2e21b 59.5px,#addc30 64.5px,#7ad151 74.5px,#6ece58 77.5px,#4ec36b 88.5px,#3dbc74 98.5px,#2ab07f 135.5px,#23a983 190.5px)"></i>
<i style="background:linear-gradient(90deg,#fff 1.9px,#46085c 1.9px,#46085c 23.5px,#470e61 25.5px,#472f7d 31.5px,#3d4e8a 35.5px,#287c8e 41.5px,#1fa088 45.5px,#23a983 46.5px,#2db27d 47.5px,#50c46a 49.5px,#90d743 52.5px,#b5de2b 55.5px,#c5e021 58.5px,#c5e021 59.5px,#a5db36 63.5px,#93d741 66.5px,#6ece58 74.5px,#58c765 81.5px,#4ac16d 88.5px,#42be71 94.5px,#32b67a 132.5px,#31b57b 156.5px,#28ae80 190.5px)"></i>
<i style="background:linear-gradient(90deg,#fff 1.9px,#46085c 1.9px,#46085c 22.5px,#470e61 25.5px,#482979 30.5px,#3d4e8a 35.5px,#287d8e 41.5px,#1fa188 45.5px,#24aa83 46.5px,#2eb37c 47.5px,#52c569 49.5px,#93d741 52.5px,#b8de29 55.5px,#c8e020 58.5px,#c5e021 59.5px,#addc30 62.5px,#93d741 66.5px,#75d054 72.5px,#5ec962 79.5px,#4cc26c 89.5px,#40bd72 105.5px,#3aba76 146.5px,#2db27d 169.5px,#29af7f 190.5px)"></i>
<i style="background:linear-gradient(90deg,#fff 1.9px,#46085c 1.9px,#46085c 22.5px,#470e61 25.5px,#472f7d 31.5px,#3d4e8a 35.5px,#287c8e 41.5px,#1f9f88 45.5px,#23a983 46.5px,#2db27d 47.5px,#50c46a 49.5px,#90d743 52.5px,#b2dd2d 55.5px,#c2df23 58.5px,#c0df25 59.5px,#9bd93c 64.5px,#75d054 71.5px,#5cc863 78.5px,#46c06f 89.5px,#3fbc73 98.5px,#37b878 134.5px,#26ad81 168.5px,#22a884 190.5px)"></i>
<i style="background:linear-gradient(90deg,#fff 1.9px,#46085c 1.9px,#46085c 22.5px,#470e61 25.5px,#472e7c 31.5px,#3e4c8a 35.5px,#2a788e 41.5px,#1e9b8a 45.5px,#20a486 46.5px,#27ad81 47.5px,#42be71 49.5px,#67cc5c 51.5px,#7ad151 52.5px,#86d549 53.5px,#9bd93c 55.5px,#a0da39 56.5px,#a8db34 58.5px,#a5db36 59.5px,#95d840 61.5px,#77d153 66.5px,#5ec962 72.5px,#50c46a 77.5px,#3dbc74 87.5px,#27ad81 134.5px,#21a685 170.5px,#22a785 190.5px)"></i>
<i style="background:linear-gradient(90deg,#fff 1.9px,#46085c 1.9px,#46085c 22.5px,#470e61 25.5px,#472d7b 31.5px,#3b518b 36.5px,#297b8e 42.5px,#1e9c89 46.5px,#27ad81 48.5px,#3fbc73 50.5px,#5ec962 52.5px,#7ad151 55.5px,#86d549 58.5px,#67cc5c 64.5px,#52c569 70.5px,#46c06f 74.5px,#32b67a 86.5px,#2ab07f 101.5px,#22a785 136.5px,#21a585 175.5px,#23a983 190.5px)"></i>
<i style="background:linear-gradient(90deg,#fff 1.9px,#46085c 1.9px,#46085c 22.5px,#470e61 25.5px,#472a7a 31.5px,#3d4d8a 36.5px,#287c8e 43.5px,#1f9e89 47.5px,#28ae80 49.5px,#4cc26c 52.5px,#63cb5f 55.5px,#6ccd5a 57.5px,#6ccd5a 59.5px,#52c569 65.5px,#42be71 70.5px,#34b679 78.5px,#2cb17e 86.5px,#20a386 139.5px,#20a486 190.5px)"></i>
<i style="background:linear-gradient(90deg,#fff 1.9px,#46085c 1.9px,#46085c 22.5px,#470d60 25.5px,#472a7a 31.5px,#3e4a89 36.5px,#2c738e 42.5px,#1e9b8a 47.5px,#25ab82 49.5px,#42be71 52.5px,#58c765 55.5px,#60ca60 57.5px,#60ca60 59.5px,#4cc26c 64.5px,#37b878 72.5px,#27ad81 88.5px,#21a585 112.5px,#1f9f88 144.5px,#1f9f88 190.5px)"></i>
<i style="background:linear-gradient(90deg,#fff 1.9px,#46085c 1.9px,#46085c 22.5px,#470d60 25.5px,#472e7c 32.5px,#3c4f8a 37.5px,#277e8e 44.5px,#1f9f88 48.5px,#27ad81 50.5px,#3aba76 52.5px,#4ec36b 55.5px,#56c667 57.5px,#56c667 59.5px,#42be71 65.5px,#35b779 71.5px,#27ad81 82.5px,#23a983 89.5px,#1f9f88 118.5px,#1e9d89 190.5px)"></i>
<i style="background:linear-gradient(90deg,#fff 1.9px,#46085c 1.9px,#46085c 22.5px,#470d60 25.5px,#482979 31.5px,#3e4989 36.5px,#2a778e 43.5px,#1fa088 48.5px,#28ae80 50.5px,#3dbc74 52.5px,#52c569 55.5px,#5cc863 58.5px,#46c06f 64.5px,#34b679 71.5px,#28ae80 77.5px,#21a585 85.5px,#1e9d89 98.5px,#1e9c89 107.5px,#1fa088 190.5px)"></i>
<i style="background:linear-gradient(90deg,#fff 1.9px,#46085c 1.9px,#46085c 22.5px,#470d60 25.5px,#472f7d 32.5px,#3b528b 37.5px,#26828e 44.5px,#1fa187 48.5px,#2ab07f 50.5px,#40bd72 52.5px,#54c568 55.5px,#5cc863 57.5px,#5cc863 59.5px,#42be71 66.5px,#32b67a 73.5px,#22a884 86.5px,#1fa287 97.5px,#20a386 122.5px,#1f9e89 143.5px,#1fa188 168.5px,#1f9e89 190.5px)"></i>
<i style="background:linear-gradient(90deg,#fff 1.9px,#46085c 1.9px,#46085c 22.5px,#470d60 25.5px,#472a7a 31.5px,#3d4d8a 36.5px,#287c8e 43.5px,#1e9d89 47.5px,#27ad81 49.5px,#4ac16d 52.5px,#60ca60 55.5px,#6ccd5a 58.5px,#52c569 65.5px,#3dbc74 73.5px,#32b67a 81.5px,#2cb17e 90.5px,#21a585 190.5px)"></i>
<i style="background:linear-gradient(90deg,#fff 1.9px,#46085c 1.9px,#46085c 23.5px,#470d60 25.5px,#472c7a 31.5px,#3c4f8a 36.5px,#29798e 42.5px,#1e9b8a 46.5px,#20a386 47.5px,#31b57b 49.5px,#5ec962 52.5px,#75d054 54.5px,#8bd646 58.5px,#8bd646 59.5px,#70cf57 65.5px,#5cc863 71.5px,#4cc26c 78.5px,#3bbb75 91.5px,#37b878 123.5px,#2eb37c 147.5px,#2db27d 190.5px)"></i>
<i style="background:linear-gradient(90deg,#fff 1.9px,#46085c 1.9px,#46085c 23.5px,#470d60 25.5px,#472d7b 31.5px,#3b528b 36.5px,#277f8e 42.5px,#1f998a 45.5px,#1fa287 46.5px,#25ac82 47.5px,#32b67a 48.5px,#67cc5c 51.5px,#7cd250 52.5px,#8bd646 53.5px,#a2da37 55.5px,#b2dd2d 58.5px,#b2dd2d 59.5px,#8bd646 67.5px,#65cb5e 79.5px,#58c765 85.5px,#48c16e 99.5px,#40bd72 119.5px,#3aba76 163.5px,#3aba76 174.5px,#40bd72 190.5px)"></i>
<i style="background:linear-gradient(90deg,#fff 1.9px,#46085c 1.9px,#46085c 23.5px,#471164 26.5px,#472e7c 31.5px,#3d4d8a 35.5px,#287c8e 41.5px,#1fa088 45.5px,#24aa83 46.5px,#2fb47c 47.5px,#69cd5b 50.5px,#98d83e 52.5px,#b5de2b 54.5px,#c0df25 55.5px,#d0e11c 58.5px,#d0e11c 59.5px,#a2da37 67.5px,#89d548 73.5px,#6ece58 81.5px,#54c568 94.5px,#46c06f 107.5px,#40bd72 124.5px,#46c06f 142.5px,#44bf70 176.5px,#48c16e 190.5px)"></i>
<i style="background:linear-gradient(90deg,#fff 1.9px,#46085c 1.9px,#46085c 23.5px,#470d60 25.5px,#472e7c 31.5px,#3d4d8a 35.5px,#287d8e 41.5px,#1fa188 45.5px,#25ab82 46.5px,#31b57b 47.5px,#58c765 49.5px,#9dd93b 52.5px,#c8e020 55.5px,#dae319 59.5px,#a8db34 68.5px,#7fd34e 79.5px,#60ca60 92.5px,#4ec36b 107.5px,#48c16e 120.5px,#4ec36b 179.5px,#48c16e 190.5px)"></i>
<i style="background:linear-gradient(90deg,#fff 1.9px,#46085c 1.9px,#46085c 23.5px,#470d60 25.5px,#472e7c 31.5px,#39558c 36.5px,#25858e 42.5px,#1fa188 45.5px,#25ab82 46.5px,#31b57b 47.5px,#5ac864 49.5px,#89d548 51.5px,#a2da37 52.5px,#b2dd2d 53.5px,#cde11d 55.5px,#d5e21a 56.5px,#e2e418 59.5px,#cae11f 63.5px,#a5db36 70.5px,#81d34d 79.5px,#69cd5b 88.5px,#58c765 101.5px,#48c16e 130.5px,#48c16e 143.5px,#54c568 170.5px,#4ec36b 190.5px)"></i>
<i style="background:linear-gradient(90deg,#fff 1.9px,#46085c 1.9px,#46085c 23.5px,#471063 26.5px,#472d7b 31.5px,#424186 34.5px,#3a538b 36.5px,#297a8e 41.5px,#1e9d89 45.5px,#22a785 46.5px,#3aba76 48.5px,#7ad151 51.5px,#a2da37 53.5px,#bddf26 55.5px,#c5e021 56.5px,#d2e21b 59.5px,#95d840 70.5px,#7ad151 77.5px,#63cb5f 85.5px,#54c568 96.5px,#4ac16d 119.5px,#4cc26c 165.5px,#44bf70 190.5px)"></i>
<i style="background:linear-gradient(90deg,#fff 1.9px,#46085c 1.9px,#46085c 23.5px,#471063 26.5px,#472a7a 31.5px,#3c4f8a 36.5px,#287d8e 42.5px,#1fa088 46.5px,#23a983 47.5px,#2db27d 48.5px,#4ec36b 50.5px,#77d153 52.5px,#89d548 53.5px,#a8db34 56.5px,#b5de2b 59.5px,#86d549 68.5px,#69cd5b 76.5px,#58c765 83.5px,#48c16e 97.5px,#3dbc74 127.5px,#44bf70 164.5px,#40bd72 190.5px)"></i>
<i style="background:linear-gradient(90deg,#fff 1.9px,#46085c 1.9px,#46085c 23.5px,#470e61 26.5px,#482878 31.5px,#3e4c8a 36.5px,#277f8e 43.5px,#1f998a 46.5px,#1fa187 47.5px,#25ab82 48.5px,#2fb47c 49.5px,#5ec962 52.5px,#6ece58 53.5px,#8bd646 56.5px,#95d840 59.5px,#93d741 60.5px,#70cf57 66.5px,#5cc863 71.5px,#4ec36b 76.5px,#3dbc74 86.5px,#37b878 110.5px,#2ab07f 134.5px,#2db27d 147.5px,#3fbc73 171.5px,#3bbb75 190.5px)"></i>
<i style="background:linear-gradient(90deg,#fff 1.9px,#46085c 1.9px,#46085c 23.5px,#470e61 26.5px,#472d7b 32.5px,#3c508b 37.5px,#297b8e 43.5px,#1e9d89 47.5px,#21a685 48.5px,#29af7f 49.5px,#42be71 51.5px,#63cb5f 53.5px,#7fd34e 56.5px,#8bd646 59.5px,#60ca60 68.5px,#50c46a 73.5px,#40bd72 79.5px,#34b679 88.5px,#2eb37c 98.5px,#26ad81 134.5px,#2eb37c 163.5px,#2cb17e 190.5px)"></i>
<i style="background:linear-gradient(90deg,#fff 1.9px,#46085c 1.9px,#46085c 23.5px,#470d60 26.5px,#472a7a 32.5px,#3d4e8a 37.5px,#277f8e 44.5px,#1fa188 48.5px,#24aa83 49.5px,#38b977 51.5px,#58c765 53.5px,#73d056 56.5px,#81d34d 59.5px,#5ec962 69.5px,#50c46a 75.5px,#40bd72 84.5px,#35b779 96.5px,#2ab07f 124.5px,#2db27d 190.5px)"></i>
<i style="background:linear-gradient(90deg,#fff 1.9px,#46085c 1.9px,#46085c 24.5px,#470d60 26.5px,#482475 31.5px,#46327e 33.5px,#3d4e8a 37.5px,#29798e 43.5px,#1e9b8a 47.5px,#20a386 48.5px,#26ad81 49.5px,#3fbc73 51.5px,#60ca60 53.5px,#81d34d 56.5px,#90d743 59.5px,#90d743 60.5px,#70cf57 68.5px,#58c765 77.5px,#40bd72 93.5px,#3aba76 104.5px,#32b67a 133.5px,#34b679 178.5px,#31b57b 190.5px)"></i>
<i style="background:linear-gradient(90deg,#fff 1.9px,#46085c 1.9px,#46085c 24.5px,#470d60 26.5px,#472d7b 32.5px,#3b518b 37.5px,#287d8e 43.5px,#1fa188 47.5px,#24aa83 48.5px,#2eb37c 49.5px,#4ec36b 51.5px,#75d054 53.5px,#8ed645 55.5px,#98d83e 56.5px,#a8db34 59.5px,#a8db34 60.5px,#86d549 67.5px,#65cb5e 77.5px,#50c46a 86.5px,#40bd72 97.5px,#3aba76 108.5px,#3dbc74 164.5px,#35b779 190.5px)"></i>
<i style="background:linear-gradient(90deg,#fff 1.9px,#46085c 1.9px,#46085c 24.5px,#470d60 26.5px,#472d7b 32.5px,#3e4a89 36.5px,#27808e 43.5px,#1f9a8a 46.5px,#20a386 47.5px,#34b679 49.5px,#6ccd5a 52.5px,#81d34d 53.5px,#a8db34 56.5px,#b8de29 59.5px,#b8de29 60.5px,#a0da39 65.5px,#89d548 71.5px,#6ece58 81.5px,#5ac864 93.5px,#4ac16d 109.5px,#46c06f 118.5px,#48c16e 138.5px,#42be71 190.5px)"></i>
<i style="background:linear-gradient(90deg,#fff 1.9px,#46085c 1.9px,#46085c 24.5px,#470d60 26.5px,#472d7b 32.5px,#3e4a89 36.5px,#297a8e 42.5px,#1e9d89 46.5px,#22a785 47.5px,#2ab07f 48.5px,#3aba76 49.5px,#60ca60 51.5px,#8ed645 53.5px,#b8de29 56.5px,#cae11f 60.5px,#addc30 66.5px,#a2da37 69.5px,#81d34d 81.5px,#73d056 90.5px,#60ca60 107.5px,#4ac16d 147.5px,#50c46a 190.5px)"></i>
<i style="background:linear-gradient(90deg,#fff 1.9px,#46085c 1.9px,#46085c 24.5px,#471063 27.5px,#472d7b 32.5px,#3a538b 37.5px,#297a8e 42.5px,#1e9d89 46.5px,#22a785 47.5px,#3aba76 49.5px,#63cb5f 51.5px,#90d743 53.5px,#a2da37 54.5px,#bddf26 56.5px,#d0e11c 60.5px,#b2dd2d 66.5px,#98d83e 73.5px,#7cd250 84.5px,#70cf57 96.5px,#6ccd5a 122.5px,#5ac864 144.5px,#56c667 155.5px,#58c765 190.5px)"></i>
<i style="background:linear-gradient(90deg,#fff 1.9px,#46085c 1.9px,#46085c 24.5px,#471063 27.5px,#46337f 33.5px,#3a538b 37.5px,#26828e 43.5px,#1f9f88 46.5px,#22a884 47.5px,#2db27d 48.5px,#3dbc74 49.5px,#69cd5b 51.5px,#98d83e 53.5px,#aadc32 54.5px,#c5e021 56.5px,#cde11d 57.5px,#dde318 60.5px,#c2df23 65.5px,#a5db36 72.5px,#8ed645 81.5px,#81d34d 90.5px,#7cd250 99.5px,#7cd250 110.5px,#73d056 123.5px,#67cc5c 132.5px,#60ca60 143.5px,#63cb5f 190.5px)"></i>
<i style="background:linear-gradient(90deg,#fff 1.9px,#46085c 1.9px,#46085c 24.5px,#471063 27.5px,#472d7b 32.5px,#3a548c 37.5px,#25858e 43.5px,#1fa187 46.5px,#25ac82 47.5px,#46c06f 49.5px,#75d054 51.5px,#a8db34 53.5px,#bddf26 54.5px,#d8e219 56.5px,#efe51c 60.5px,#d5e21a 65.5px,#bddf26 70.5px,#aadc32 75.5px,#8ed645 86.5px,#7cd250 100.5px,#75d054 121.5px,#69cd5b 136.5px,#69cd5b 149.5px,#77d153 171.5px,#7ad151 190.5px)"></i>
<i style="background:linear-gradient(90deg,#fff 1.9px,#46085c 1.9px,#46085c 24.5px,#471063 27.5px,#472c7a 32.5px,#443b84 34.5px,#3a538b 37.5px,#25858e 43.5px,#1fa187 46.5px,#25ac82 47.5px,#32b67a 48.5px,#44bf70 49.5px,#8ed645 52.5px,#bddf26 54.5px,#d8e219 56.5px,#e2e418 57.5px,#efe51c 60.5px,#d8e219 65.5px,#b0dd2f 74.5px,#8ed645 87.5px,#7fd34e 98.5px,#7fd34e 125.5px,#77d153 144.5px,#7ad151 162.5px,#7fd34e 170.5px,#7fd34e 190.5px)"></i>
<i style="background:linear-gradient(90deg,#fff 1.9px,#46085c 1.9px,#46085c 24.5px,#470e61 27.5px,#472a7a 32.5px,#3b528b 37.5px,#25838e 43.5px,#1fa088 46.5px,#24aa83 47.5px,#2fb47c 48.5px,#58c765 50.5px,#8bd646 52.5px,#bddf26 54.5px,#cde11d 55.5px,#e5e419 57.5px,#f4e61e 60.5px,#f4e61e 61.5px,#e5e419 64.5px,#d8e219 67.5px,#bddf26 73.5px,#b0dd2f 77.5px,#93d741 89.5px,#86d549 99.5px,#84d44b 112.5px,#89d548 120.5px,#89d548 131.5px,#84d44b 142.5px,#84d44b 157.5px,#86d549 168.5px,#8bd646 173.5px,#8bd646 184.5px,#86d549 190.5px)"></i>
<i style="background:linear-gradient(90deg,#fff 1.9px,#46085c 1.9px,#46085c 25.5px,#470e61 27.5px,#482979 32.5px,#3c508b 37.5px,#29798e 42.5px,#1e9d89 46.5px,#22a785 47.5px,#2cb17e 48.5px,#3dbc74 49.5px,#69cd5b 51.5px,#b8de29 54.5px,#d5e21a 56.5px,#e2e418 57.5px,#f4e61e 60.5px,#f4e61e 61.5px,#e2e418 65.5px,#d0e11c 70.5px,#b0dd2f 79.5px,#a0da39 85.5px,#90d743 94.5px,#89d548 103.5px,#86d549 116.5px,#8bd646 165.5px,#aadc32 181.5px,#a8db34 190.5px)"></i>
<i style="background:linear-gradient(90deg,#fff 1.9px,#46085c 1.9px,#46085c 25.5px,#470d60 27.5px,#472f7d 33.5px,#404588 36.5px,#38588c 38.5px,#23888e 44.5px,#1e9b8a 46.5px,#21a585 47.5px,#2ab07f 48.5px,#3aba76 49.5px,#67cc5c 51.5px,#b8de29 54.5px,#cae11f 55.5px,#e5e419 57.5px,#f4e61e 59.5px,#fbe723 61.5px,#eae51a 65.5px,#d5e21a 71.5px,#b8de29 79.5px,#a0da39 88.5px,#90d743 97.5px,#89d548 109.5px,#95d840 149.5px,#95d840 164.5px,#a2da37 169.5px,#cae11f 178.5px,#d8e219 183.5px,#d8e219 190.5px)"></i>
<i style="background:linear-gradient(90deg,#fff 1.9px,#46085c 1.9px,#46085c 25.5px,#470d60 27.5px,#482677 32.5px,#3d4d8a 37.5px,#277e8e 43.5px,#1f998a 46.5px,#20a486 47.5px,#28ae80 48.5px,#4cc26c 50.5px,#7fd34e 52.5px,#b2dd2d 54.5px,#c8e020 55.5px,#e5e419 57.5px,#f8e621 60.5px,#fbe723 61.5px,#eae51a 65.5px,#dde318 68.5px,#cae11f 73.5px,#a8db34 83.5px,#93d741 97.5px,#93d741 109.5px,#a0da39 142.5px,#9dd93b 164.5px,#a2da37 167.5px,#addc30 170.5px,#cde11d 177.5px,#dde318 182.5px,#dde318 190.5px)"></i>
<i style="background:linear-gradient(90deg,#fff 1.9px,#46085c 1.9px,#46085c 25.5px,#471063 28.5px,#472c7a 33.5px,#3a538b 38.5px,#25838e 44.5px,#1fa088 47.5px,#24aa83 48.5px,#2fb47c 49.5px,#40bd72 50.5px,#6ece58 52.5px,#b5de2b 55.5px,#d2e21b 57.5px,#e2e418 59.5px,#eae51a 61.5px,#d5e21a 66.5px,#aadc32 76.5px,#9dd93b 80.5px,#8bd646 87.5px,#7cd250 99.5px,#7fd34e 118.5px,#90d743 145.5px,#8bd646 160.5px,#86d549 164.5px,#8bd646 169.5px,#a0da39 177.5px,#a8db34 182.5px,#a5db36 190.5px)"></i>
<i style="background:linear-gradient(90deg,#fff 1.9px,#46085c 1.9px,#46085c 25.5px,#470e61 28.5px,#482979 33.5px,#3c4f8a 38.5px,#287d8e 44.5px,#1fa188 48.5px,#25ab82 49.5px,#2fb47c 50.5px,#69cd5b 53.5px,#81d34d 54.5px,#a5db36 56.5px,#c2df23 59.5px,#cde11d 61.5px,#b0dd2f 68.5px,#84d44b 81.5px,#77d153 86.5px,#65cb5e 100.5px,#60ca60 110.5px,#63cb5f 147.5px,#5ac864 164.5px,#67cc5c 182.5px,#65cb5e 190.5px)"></i>
<i style="background:linear-gradient(90deg,#fff 1.9px,#46085c 1.9px,#46085c 26.5px,#471164 29.5px,#46337f 35.5px,#3b518b 39.5px,#287d8e 45.5px,#1f9f88 49.5px,#22a884 50.5px,#2cb17e 51.5px,#4ac16d 53.5px,#6ece58 55.5px,#90d743 58.5px,#a0da39 61.5px,#a0da39 62.5px,#84d44b 68.5px,#5ac864 82.5px,#4cc26c 90.5px,#42be71 99.5px,#3fbc73 106.5px,#3fbc73 135.5px,#34b679 157.5px,#37b878 172.5px,#40bd72 190.5px)"></i>
<i style="background:linear-gradient(90deg,#fff 1.9px,#46085c 1.9px,#46085c 26.5px,#471063 29.5px,#472f7d 35.5px,#3e4c8a 39.5px,#287c8e 46.5px,#1f9e89 50.5px,#29af7f 52.5px,#34b679 53.5px,#52c569 55.5px,#70cf57 58.5px,#7ad151 60.5px,#7fd34e 62.5px,#65cb5e 68.5px,#44bf70 79.5px,#34b679 88.5px,#2ab07f 97.5px,#25ac82 110.5px,#22a785 154.5px,#28ae80 190.5px)"></i>
<i style="background:linear-gradient(90deg,#fff 1.9px,#46085c 1.9px,#46085c 26.5px,#470e61 29.5px,#472c7a 35.5px,#3e4c8a 40.5px,#297a8e 47.5px,#1f9a8a 51.5px,#24aa83 53.5px,#37b878 55.5px,#4ec36b 58.5px,#5cc863 61.5px,#5ec962 62.5px,#48c16e 70.5px,#37b878 79.5px,#25ab82 97.5px,#1f9e89 132.5px,#1f9e89 159.5px,#20a386 190.5px)"></i>
<i style="background:linear-gradient(90deg,#fff 1.9px,#46085c 1.9px,#46085c 26.5px,#460b5e 28.5px,#482475 34.5px,#3e4a89 40.5px,#2a768e 47.5px,#1e9d89 52.5px,#25ab82 54.5px,#32b67a 56.5px,#42be71 59.5px,#4ac16d 62.5px,#31b57b 73.5px,#25ac82 83.5px,#21a585 92.5px,#1e9c89 127.5px,#1e9c89 162.5px,#1fa187 190.5px)"></i>
<i style="background:linear-gradient(90deg,#fff 1.9px,#46085c 1.9px,#46085c 26.5px,#460b5e 28.5px,#482979 35.5px,#3e4989 40.5px,#2a768e 47.5px,#1e9d89 52.5px,#25ab82 54.5px,#34b679 56.5px,#3fbc73 58.5px,#4ac16d 62.5px,#3dbc74 66.5px,#2eb37c 73.5px,#21a685 88.5px,#1f9f88 110.5px,#1fa088 190.5px)"></i>
<i style="background:linear-gradient(90deg,#fff 1.9px,#46085c 1.9px,#46085c 26.5px,#470d60 29.5px,#482878 35.5px,#3d4e8a 41.5px,#297b8e 48.5px,#1f998a 52.5px,#22a785 54.5px,#2eb37c 56.5px,#3dbc74 59.5px,#44bf70 62.5px,#2cb17e 75.5px,#22a785 91.5px,#1fa088 126.5px,#1e9c89 190.5px)"></i>
<i style="background:linear-gradient(90deg,#fff 1.9px,#46085c 1.9px,#46085c 26.5px,#470d60 29.5px,#472d7b 36.5px,#3d4e8a 41.5px,#297b8e 48.5px,#1f9a8a 52.5px,#23a983 54.5px,#31b57b 56.5px,#42be71 59.5px,#4cc26c 62.5px,#2eb37c 80.5px,#21a585 96.5px,#1e9c89 122.5px,#1f988b 190.5px)"></i>
<i style="background:linear-gradient(90deg,#fff 1.9px,#46085c 1.9px,#46085c 26.5px,#470d60 29.5px,#482979 35.5px,#443983 38.5px,#3f4889 40.5px,#2b758e 47.5px,#1e9c89 52.5px,#24aa83 54.5px,#34b679 56.5px,#46c06f 59.5px,#50c46a 62.5px,#32b67a 79.5px,#22a884 99.5px,#1fa088 120.5px,#1f998a 190.5px)"></i>
<i style="background:linear-gradient(90deg,#fff 1.9px,#46085c 1.9px,#46085c 26.5px,#470d60 29.5px,#472e7c 36.5px,#3e4989 40.5px,#2a768e 47.5px,#1f9e89 52.5px,#25ac82 54.5px,#37b878 56.5px,#44bf70 58.5px,#50c46a 61.5px,#52c569 62.5px,#3bbb75 74.5px,#34b679 81.5px,#27ad81 102.5px,#1fa187 144.5px,#1fa088 190.5px)"></i>
<i style="background:linear-gradient(90deg,#fff 1.9px,#46085c 1.9px,#46085c 26.5px,#470e61 29.5px,#482979 35.5px,#3e4989 40.5px,#2a768e 47.5px,#1f9e89 52.5px,#26ad81 54.5px,#37b878 56.5px,#44bf70 58.5px,#52c569 62.5px,#38b977 75.5px,#29af7f 94.5px,#21a585 165.5px,#21a585 190.5px)"></i>
<i style="background:linear-gradient(90deg,#fff 1.9px,#46085c 1.9px,#46085c 26.5px,#470e61 29.5px,#482475 34.5px,#3e4a89 40.5px,#2a788e 47.5px,#1f9f88 52.5px,#26ad81 54.5px,#37b878 56.5px,#4ac16d 60.5px,#4ec36b 62.5px,#40bd72 67.5px,#2db27d 80.5px,#25ab82 95.5px,#25ac82 146.5px,#22a884 167.5px,#25ab82 190.5px)"></i>
<i style="background:linear-gradient(90deg,#fff 1.9px,#46085c 1.9px,#46085c 26.5px,#471063 29.5px,#482677 34.5px,#453882 37.5px,#3c4f8a 40.5px,#287d8e 47.5px,#1f9e89 51.5px,#26ad81 53.5px,#3aba76 55.5px,#52c569 58.5px,#58c765 60.5px,#5cc863 62.5px,#46c06f 69.5px,#37b878 77.5px,#2ab07f 92.5px,#24aa83 120.5px,#27ad81 145.5px,#26ad81 190.5px)"></i>
<i style="background:linear-gradient(90deg,#fff 1.9px,#46085c 1.9px,#46085c 26.5px,#471063 29.5px,#472e7c 35.5px,#3b518b 40.5px,#26818e 47.5px,#1fa187 51.5px,#2cb17e 53.5px,#42be71 55.5px,#5cc863 58.5px,#67cc5c 61.5px,#65cb5e 63.5px,#48c16e 72.5px,#35b779 86.5px,#27ad81 119.5px,#28ae80 134.5px,#2fb47c 149.5px,#2fb47c 160.5px,#26ad81 182.5px,#27ad81 190.5px)"></i>
<i style="background:linear-gradient(90deg,#fff 1.9px,#46085c 1.9px,#46085c 26.5px,#471063 29.5px,#482979 34.5px,#3e4a89 39.5px,#297b8e 46.5px,#1e9d89 50.5px,#27ad81 52.5px,#31b57b 53.5px,#4cc26c 55.5px,#67cc5c 58.5px,#6ece58 60.5px,#73d056 62.5px,#56c667 70.5px,#42be71 80.5px,#3aba76 88.5px,#2ab07f 122.5px,#2eb37c 162.5px,#27ad81 190.5px)"></i>
<i style="background:linear-gradient(90deg,#fff 1.9px,#46085c 1.9px,#46085c 26.5px,#471063 29.5px,#482979 34.5px,#443a83 37.5px,#3e4a89 39.5px,#2c738e 45.5px,#1e9b8a 50.5px,#25ac82 52.5px,#2eb37c 53.5px,#48c16e 55.5px,#60ca60 58.5px,#6ccd5a 61.5px,#6ccd5a 62.5px,#5cc863 66.5px,#4cc26c 72.5px,#3aba76 84.5px,#34b679 101.5px,#32b67a 122.5px,#29af7f 144.5px,#21a685 190.5px)"></i>
<i style="background:linear-gradient(90deg,#fff 1.9px,#46085c 1.9px,#46085c 26.5px,#471063 29.5px,#472e7c 35.5px,#3b518b 40.5px,#26818e 47.5px,#20928c 49.5px,#1fa287 51.5px,#2db27d 53.5px,#46c06f 55.5px,#60ca60 58.5px,#6ccd5a 61.5px,#6ccd5a 62.5px,#50c46a 71.5px,#3aba76 86.5px,#37b878 96.5px,#38b977 121.5px,#28ae80 155.5px,#22a785 190.5px)"></i>
<i style="background:linear-gradient(90deg,#fff 1.9px,#46085c 1.9px,#46085c 26.5px,#471063 29.5px,#472e7c 35.5px,#3b518b 40.5px,#26818e 47.5px,#20928c 49.5px,#1fa187 51.5px,#2cb17e 53.5px,#42be71 55.5px,#54c568 57.5px,#63cb5f 60.5px,#65cb5e 62.5px,#4ac16d 70.5px,#3aba76 79.5px,#31b57b 91.5px,#2fb47c 134.5px,#25ab82 171.5px,#27ad81 190.5px)"></i>
<i style="background:linear-gradient(90deg,#fff 1.9px,#46085c 1.9px,#46085c 26.5px,#471063 29.5px,#472e7c 35.5px,#3b518b 40.5px,#297a8e 46.5px,#1e9b8a 50.5px,#25ac82 52.5px,#4ac16d 55.5px,#63cb5f 58.5px,#70cf57 61.5px,#52c569 71.5px,#42be71 78.5px,#37b878 86.5px,#2eb37c 96.5px,#2ab07f 107.5px,#2eb37c 132.5px,#2ab07f 168.5px,#2fb47c 182.5px,#2eb37c 190.5px)"></i>
<i style="background:linear-gradient(90deg,#fff 1.9px,#46085c 1.9px,#46085c 26.5px,#471063 29.5px,#463480 36.5px,#3b528b 40.5px,#287c8e 46.5px,#1f9e89 50.5px,#29af7f 52.5px,#34b679 53.5px,#52c569 55.5px,#6ece58 58.5px,#7cd250 61.5px,#7cd250 62.5px,#6ccd5a 66.5px,#4ec36b 77.5px,#3aba76 88.5px,#2fb47c 97.5px,#2cb17e 112.5px,#34b679 133.5px,#35b779 190.5px)"></i>
<i style="background:linear-gradient(90deg,#fff 1.9px,#46085c 1.9px,#46085c 26.5px,#460b5e 28.5px,#482677 34.5px,#443983 37.5px,#3c508b 40.5px,#26818e 47.5px,#20928c 49.5px,#1fa287 51.5px,#2eb37c 53.5px,#54c568 56.5px,#6ece58 59.5px,#75d054 61.5px,#77d153 62.5px,#50c46a 79.5px,#44bf70 88.5px,#3bbb75 100.5px,#2eb37c 159.5px,#32b67a 190.5px)"></i>
<i style="background:linear-gradient(90deg,#fff 1.9px,#46085c 1.9px,#46085c 26.5px,#470e61 29.5px,#482576 34.5px,#453882 37.5px,#3c4f8a 40.5px,#277f8e 47.5px,#1fa188 51.5px,#2cb17e 53.5px,#54c568 56.5px,#6ece58 59.5px,#7cd250 62.5px,#5ec962 76.5px,#54c568 84.5px,#4cc26c 95.5px,#44bf70 119.5px,#37b878 138.5px,#2eb37c 158.5px,#35b779 190.5px)"></i>
<i style="background:linear-gradient(90deg,#fff 1.9px,#46085c 1.9px,#46085c 27.5px,#470d60 29.5px,#472a7a 35.5px,#3d4d8a 40.5px,#277e8e 47.5px,#1fa088 51.5px,#2cb17e 53.5px,#54c568 56.5px,#73d056 59.5px,#7fd34e 61.5px,#84d44b 63.5px,#60ca60 77.5px,#56c667 84.5px,#4cc26c 96.5px,#48c16e 122.5px,#3fbc73 136.5px,#38b977 157.5px,#3dbc74 190.5px)"></i>
<i style="background:linear-gradient(90deg,#fff 1.9px,#46085c 1.9px,#46085c 27.5px,#471063 30.5px,#472f7d 36.5px,#3b528b 41.5px,#287d8e 47.5px,#1f9f88 51.5px,#2ab07f 53.5px,#63cb5f 57.5px,#75d054 59.5px,#81d34d 61.5px,#86d549 63.5px,#73d056 69.5px,#5cc863 79.5px,#50c46a 91.5px,#3fbc73 143.5px,#32b67a 168.5px,#38b977 190.5px)"></i>
<i style="background:linear-gradient(90deg,#fff 1.9px,#46085c 1.9px,#46085c 27.5px,#460b5e 29.5px,#482677 35.5px,#3b518b 41.5px,#287c8e 47.5px,#1e9d89 51.5px,#21a685 52.5px,#29af7f 53.5px,#42be71 55.5px,#54c568 56.5px,#77d153 59.5px,#89d548 62.5px,#8bd646 63.5px,#70cf57 71.5px,#54c568 84.5px,#48c16e 99.5px,#3fbc73 131.5px,#2fb47c 163.5px,#2fb47c 172.5px,#38b977 190.5px)"></i>
<i style="background:linear-gradient(90deg,#fff 1.9px,#46085c 1.9px,#46085c 28.5px,#470d60 30.5px,#472a7a 36.5px,#3d4e8a 41.5px,#29798e 47.5px,#1e9b8a 51.5px,#20a486 52.5px,#32b67a 54.5px,#63cb5f 57.5px,#84d44b 60.5px,#93d741 63.5px,#93d741 64.5px,#7cd250 70.5px,#5cc863 82.5px,#54c568 86.5px,#48c16e 98.5px,#4ac16d 125.5px,#3dbc74 154.5px,#44bf70 190.5px)"></i>
<i style="background:linear-gradient(90deg,#fff 1.9px,#46085c 1.9px,#460a5d 29.5px,#481467 32.5px,#482979 36.5px,#433d84 39.5px,#3a548c 42.5px,#277f8e 48.5px,#1fa187 52.5px,#24aa83 53.5px,#2eb37c 54.5px,#5cc863 57.5px,#7fd34e 60.5px,#8bd646 62.5px,#90d743 64.5px,#6ece58 75.5px,#60ca60 81.5px,#50c46a 95.5px,#4cc26c 123.5px,#37b878 146.5px,#3aba76 190.5px)"></i>
<i style="background:linear-gradient(90deg,#fff 1.9px,#46085c 1.9px,#46085c 28.5px,#460b5e 30.5px,#482677 36.5px,#3b518b 42.5px,#287c8e 48.5px,#1f9e89 52.5px,#21a685 53.5px,#29af7f 54.5px,#42be71 56.5px,#63cb5f 58.5px,#77d153 60.5px,#8bd646 63.5px,#8ed645 65.5px,#70cf57 76.5px,#60ca60 89.5px,#4ec36b 122.5px,#3bbb75 144.5px,#38b977 190.5px)"></i>
<i style="background:linear-gradient(90deg,#fff 1.9px,#46085c 1.9px,#46085c 29.5px,#470d60 31.5px,#472a7a 37.5px,#3d4e8a 42.5px,#27808e 49.5px,#1fa187 53.5px,#2db27d 55.5px,#58c765 58.5px,#75d054 61.5px,#86d549 64.5px,#89d548 65.5px,#70cf57 74.5px,#67cc5c 80.5px,#4ac16d 110.5px,#42be71 128.5px,#3aba76 190.5px)"></i>
<i style="background:linear-gradient(90deg,#fff 1.9px,#46085c 1.9px,#46085c 29.5px,#471063 32.5px,#482878 37.5px,#3e4a89 42.5px,#287c8e 49.5px,#1e9d89 53.5px,#27ad81 55.5px,#4ec36b 58.5px,#75d054 62.5px,#7fd34e 64.5px,#81d34d 66.5px,#6ccd5a 75.5px,#67cc5c 79.5px,#44bf70 116.5px,#40bd72 125.5px,#40bd72 159.5px,#37b878 182.5px,#37b878 190.5px)"></i>
<i style="background:linear-gradient(90deg,#fff 1.9px,#46085c 1.9px,#46085c 29.5px,#460b5e 31.5px,#482677 37.5px,#443983 40.5px,#3c508b 43.5px,#297a8e 49.5px,#1e9c89 53.5px,#20a486 54.5px,#27ad81 55.5px,#3fbc73 57.5px,#5ec962 59.5px,#7cd250 62.5px,#8ed645 65.5px,#69cd5b 81.5px,#5ac864 92.5px,#50c46a 103.5px,#4ac16d 117.5px,#4ac16d 146.5px,#3aba76 172.5px,#35b779 190.5px)"></i>
<i style="background:linear-gradient(90deg,#fff 1.9px,#46085c 1.9px,#46085c 29.5px,#460b5e 31.5px,#482475 37.5px,#3d4d8a 43.5px,#27808e 50.5px,#1f9a8a 53.5px,#1fa287 54.5px,#2fb47c 56.5px,#5ec962 59.5px,#77d153 61.5px,#8bd646 63.5px,#9bd93c 66.5px,#86d549 74.5px,#6ece58 88.5px,#5ac864 109.5px,#56c667 133.5px,#42be71 158.5px,#40bd72 172.5px,#48c16e 190.5px)"></i>
<i style="background:linear-gradient(90deg,#fff 1.9px,#46085c 1.9px,#46085c 30.5px,#470d60 32.5px,#482677 38.5px,#443983 41.5px,#3c508b 44.5px,#297b8e 50.5px,#1f9e89 54.5px,#29af7f 56.5px,#35b779 57.5px,#63cb5f 60.5px,#86d549 63.5px,#98d83e 66.5px,#98d83e 68.5px,#8ed645 73.5px,#77d153 81.5px,#60ca60 93.5px,#4ec36b 111.5px,#4cc26c 136.5px,#3bbb75 159.5px,#3fbc73 172.5px,#48c16e 181.5px,#4cc26c 190.5px)"></i>
<i style="background:linear-gradient(90deg,#fff 1.9px,#46085c 1.9px,#46085c 30.5px,#460b5e 32.5px,#482475 38.5px,#3e4c8a 44.5px,#27808e 51.5px,#1fa187 55.5px,#2eb37c 57.5px,#5ac864 60.5px,#73d056 62.5px,#86d549 64.5px,#93d741 66.5px,#90d743 70.5px,#67cc5c 86.5px,#56c667 101.5px,#52c569 109.5px,#52c569 142.5px,#4ec36b 157.5px,#52c569 190.5px)"></i>
<i style="background:linear-gradient(90deg,#fff 1.9px,#46085c 1.9px,#46085c 30.5px,#470d60 33.5px,#482677 39.5px,#3c4f8a 45.5px,#297a8e 51.5px,#1e9b8a 55.5px,#25ac82 57.5px,#4ac16d 60.5px,#6ece58 63.5px,#81d34d 65.5px,#8bd646 67.5px,#8ed645 70.5px,#7ad151 80.5px,#65cb5e 95.5px,#5cc863 109.5px,#5ac864 126.5px,#50c46a 152.5px,#50c46a 171.5px,#56c667 190.5px)"></i>
<i style="background:linear-gradient(90deg,#fff 1.9px,#46085c 1.9px,#46085c 30.5px,#471164 35.5px,#472d7b 41.5px,#3d4e8a 46.5px,#26818e 53.5px,#1fa188 57.5px,#29af7f 59.5px,#4ac16d 62.5px,#67cc5c 65.5px,#77d153 68.5px,#7ad151 72.5px,#54c568 96.5px,#4cc26c 109.5px,#4cc26c 126.5px,#3dbc74 155.5px,#42be71 190.5px)"></i>
<i style="background:linear-gradient(90deg,#fff 1.9px,#46085c 1.9px,#46085c 31.5px,#481668 37.5px,#472d7b 42.5px,#3d4d8a 47.5px,#2a768e 53.5px,#1e9c89 58.5px,#24aa83 60.5px,#3bbb75 63.5px,#5ec962 68.5px,#65cb5e 71.5px,#63cb5f 76.5px,#50c46a 93.5px,#46c06f 109.5px,#44bf70 134.5px,#3dbc74 147.5px,#32b67a 190.5px)"></i>
<i style="background:linear-gradient(90deg,#fff 1.9px,#46085c 1.9px,#46085c 31.5px,#470e61 35.5px,#481f70 40.5px,#463480 44.5px,#3d4d8a 48.5px,#287d8e 55.5px,#20928c 58.5px,#1fa188 60.5px,#27ad81 62.5px,#3dbc74 65.5px,#5ac864 70.5px,#60ca60 75.5px,#60ca60 82.5px,#56c667 97.5px,#48c16e 108.5px,#40bd72 120.5px,#46c06f 171.5px,#3dbc74 190.5px)"></i>
<i style="background:linear-gradient(90deg,#fff 1.9px,#46085c 1.9px,#46085c 31.5px,#471063 36.5px,#482576 42.5px,#3d4e8a 49.5px,#287c8e 56.5px,#1f9e89 61.5px,#28ae80 64.5px,#35b779 66.5px,#50c46a 71.5px,#58c765 78.5px,#58c765 86.5px,#42be71 109.5px,#3dbc74 119.5px,#3dbc74 147.5px,#48c16e 169.5px,#46c06f 190.5px)"></i>
<i style="background:linear-gradient(90deg,#fff 1.9px,#46085c 1.9px,#46085c 31.5px,#470e61 36.5px,#482374 42.5px,#3e4989 49.5px,#2a768e 56.5px,#1e9d89 62.5px,#22a884 64.5px,#2cb17e 66.5px,#44bf70 71.5px,#4ec36b 77.5px,#4ec36b 85.5px,#46c06f 105.5px,#42be71 147.5px,#50c46a 171.5px,#50c46a 190.5px)"></i>
<i style="background:linear-gradient(90deg,#fff 1.9px,#46085c 1.9px,#46085c 32.5px,#471063 37.5px,#482979 44.5px,#3e4c8a 50.5px,#29798e 57.5px,#1f998a 62.5px,#23a983 65.5px,#31b57b 68.5px,#42be71 72.5px,#4ac16d 76.5px,#44bf70 109.5px,#50c46a 136.5px,#54c568 156.5px,#52c569 190.5px)"></i>
<i style="background:linear-gradient(90deg,#fff 1.9px,#46085c 1.9px,#46085c 32.5px,#471063 38.5px,#482979 45.5px,#3b518b 52.5px,#277e8e 59.5px,#1e9d89 64.5px,#22a785 66.5px,#2fb47c 69.5px,#48c16e 75.5px,#4ec36b 84.5px,#44bf70 99.5px,#42be71 112.5px,#56c667 146.5px,#56c667 160.5px,#4ac16d 190.5px)"></i>
<i style="background:linear-gradient(90deg,#fff 1.9px,#46085c 1.9px,#46085c 33.5px,#470e61 38.5px,#482576 45.5px,#3e4a89 52.5px,#2a768e 59.5px,#1f9a8a 65.5px,#22a884 68.5px,#2ab07f 70.5px,#42be71 76.5px,#4ec36b 87.5px,#4ac16d 107.5px,#4cc26c 159.5px,#3bbb75 190.5px)"></i>
<i style="background:linear-gradient(90deg,#fff 1.9px,#46085c 1.9px,#46085c 33.5px,#471164 40.5px,#481d6f 44.5px,#463480 49.5px,#33628d 57.5px,#21918c 65.5px,#1f9f88 68.5px,#26ad81 72.5px,#37b878 77.5px,#3fbc73 82.5px,#46c06f 93.5px,#42be71 135.5px,#35b779 165.5px,#38b977 190.5px)"></i>
<i style="background:linear-gradient(90deg,#fff 1.9px,#46085c 1.9px,#46085c 34.5px,#481467 42.5px,#482979 48.5px,#453882 51.5px,#32658e 59.5px,#20928c 67.5px,#1f9f88 70.5px,#23a983 73.5px,#2db27d 76.5px,#37b878 80.5px,#40bd72 87.5px,#48c16e 102.5px,#46c06f 128.5px,#38b977 159.5px,#40bd72 190.5px)"></i>
<i style="background:linear-gradient(90deg,#fff 1.9px,#46085c 1.9px,#46085c 35.5px,#481467 43.5px,#482475 48.5px,#453781 52.5px,#33638d 60.5px,#238a8d 67.5px,#1e9c89 71.5px,#22a884 74.5px,#2cb17e 77.5px,#3aba76 82.5px,#4ac16d 95.5px,#50c46a 106.5px,#50c46a 123.5px,#48c16e 137.5px,#48c16e 149.5px,#56c667 178.5px,#54c568 190.5px)"></i>
<i style="background:linear-gradient(90deg,#fff 1.9px,#46085c 1.9px,#46085c 36.5px,#481467 44.5px,#472c7a 51.5px,#3a548c 59.5px,#26818e 67.5px,#1e9d89 73.5px,#25ab82 77.5px,#34b679 81.5px,#3fbc73 85.5px,#4ec36b 94.5px,#58c765 107.5px,#58c765 123.5px,#50c46a 141.5px,#52c569 164.5px,#58c765 181.5px,#56c667 190.5px)"></i>
<i style="background:linear-gradient(90deg,#fff 1.9px,#46085c 1.9px,#46085c 36.5px,#481467 45.5px,#482677 51.5px,#3d4e8a 59.5px,#297a8e 67.5px,#1e9c89 74.5px,#28ae80 79.5px,#40bd72 85.5px,#52c569 94.5px,#58c765 101.5px,#58c765 115.5px,#54c568 121.5px,#56c667 148.5px,#4cc26c 169.5px,#4ec36b 190.5px)"></i>
<i style="background:linear-gradient(90deg,#fff 1.9px,#46085c 1.9px,#46085c 37.5px,#481467 46.5px,#472a7a 53.5px,#3b528b 61.5px,#2a788e 68.5px,#1f998a 75.5px,#25ac82 80.5px,#3dbc74 87.5px,#4ec36b 97.5px,#56c667 109.5px,#56c667 121.5px,#44bf70 172.5px,#44bf70 190.5px)"></i>
<i style="background:linear-gradient(90deg,#fff 1.9px,#46085c 1.9px,#46085c 38.5px,#471063 45.5px,#482173 52.5px,#472d7b 55.5px,#404588 60.5px,#355f8d 65.5px,#25858e 73.5px,#1f998a 78.5px,#21a685 82.5px,#2fb47c 88.5px,#4cc26c 109.5px,#50c46a 118.5px,#3dbc74 156.5px,#3dbc74 190.5px)"></i>
<i style="background:linear-gradient(90deg,#fff 1.9px,#46085c 1.9px,#46085c 39.5px,#471164 47.5px,#482071 53.5px,#46327e 58.5px,#404588 62.5px,#365d8d 67.5px,#2a778e 73.5px,#1f948c 81.5px,#1fa187 86.5px,#26ad81 92.5px,#3bbb75 114.5px,#3bbb75 124.5px,#2fb47c 146.5px,#34b679 190.5px)"></i>
<i style="background:linear-gradient(90deg,#fff 1.9px,#46085c 1.9px,#46085c 40.5px,#471365 49.5px,#482878 57.5px,#424086 63.5px,#365c8d 69.5px,#26818e 78.5px,#1f978b 85.5px,#22a785 92.5px,#27ad81 98.5px,#35b779 114.5px,#35b779 124.5px,#29af7f 145.5px,#2fb47c 190.5px)"></i>
<i style="background:linear-gradient(90deg,#fff 1.9px,#46085c 1.9px,#46085c 41.5px,#471063 49.5px,#482576 58.5px,#424086 65.5px,#39558c 70.5px,#287d8e 80.5px,#228d8d 85.5px,#20a386 94.5px,#23a983 99.5px,#2eb37c 119.5px,#2eb37c 128.5px,#23a983 158.5px,#27ad81 190.5px)"></i>
<i style="background:linear-gradient(90deg,#fff 1.9px,#46085c 1.9px,#46085c 42.5px,#481467 53.5px,#482576 60.5px,#46337f 64.5px,#375a8c 74.5px,#2c728e 81.5px,#1f988b 95.5px,#1f9f88 98.5px,#21a585 105.5px,#28ae80 121.5px,#28ae80 134.5px,#20a486 168.5px,#22a884 190.5px)"></i>
<i style="background:linear-gradient(90deg,#fff 1.9px,#46085c 1.9px,#46085c 43.5px,#460b5e 48.5px,#481668 55.5px,#482677 62.5px,#443b84 68.5px,#39558c 75.5px,#2c728e 84.5px,#1f978b 99.5px,#21a685 112.5px,#25ac82 125.5px,#1fa187 169.5px,#22a785 190.5px)"></i>
<i style="background:linear-gradient(90deg,#fff 1.9px,#46085c 1.9px,#46085c 44.5px,#470d60 51.5px,#481467 56.5px,#482677 64.5px,#433e85 71.5px,#3a538b 77.5px,#2f6c8e 85.5px,#1f978b 103.5px,#21a685 116.5px,#25ab82 135.5px,#1fa187 172.5px,#22a884 190.5px)"></i>
<i style="background:linear-gradient(90deg,#fff 1.9px,#46085c 1.9px,#46085c 45.5px,#470e61 54.5px,#481c6e 62.5px,#472c7a 68.5px,#404588 76.5px,#38588c 82.5px,#287c8e 96.5px,#1f988b 107.5px,#20a386 112.5px,#27ad81 121.5px,#2cb17e 136.5px,#21a585 168.5px,#21a685 190.5px)"></i>
<i style="background:linear-gradient(90deg,#fff 1.9px,#46085c 1.9px,#46085c 47.5px,#470e61 56.5px,#481b6d 64.5px,#472e7c 72.5px,#423f85 78.5px,#39568c 87.5px,#297a8e 102.5px,#1f978b 113.5px,#1e9d89 115.5px,#24aa83 126.5px,#27ad81 136.5px,#22a785 158.5px,#20a486 190.5px)"></i>
<i style="background:linear-gradient(90deg,#fff 1.9px,#46085c 1.9px,#46085c 49.5px,#471164 61.5px,#472c7a 75.5px,#3d4d8a 89.5px,#2c718e 105.5px,#20928c 118.5px,#1e9d89 128.5px,#1fa088 190.5px)"></i>
<i style="background:linear-gradient(90deg,#fff 1.9px,#46085c 1.9px,#46085c 51.5px,#471164 64.5px,#472e7c 81.5px,#3e4a89 94.5px,#24878e 119.5px,#1f968b 130.5px,#1e9b8a 190.5px)"></i>
<i style="background:linear-gradient(90deg,#fff 1.9px,#46085c 1.9px,#46085c 53.5px,#471164 67.5px,#482677 82.5px,#3d4d8a 100.5px,#306a8e 111.5px,#228d8d 125.5px,#1f988b 135.5px,#1f978b 190.5px)"></i>
<i style="background:linear-gradient(90deg,#fff 1.9px,#46085c 1.9px,#46085c 55.5px,#471365 72.5px,#472a7a 89.5px,#3d4e8a 105.5px,#26828e 125.5px,#20928c 135.5px,#1f958b 147.5px,#218e8d 171.5px,#21908d 190.5px)"></i>
<i style="background:linear-gradient(90deg,#fff 1.9px,#46085c 1.9px,#46085c 57.5px,#460b5e 66.5px,#481c6e 85.5px,#472e7c 97.5px,#39568c 114.5px,#2c738e 125.5px,#25838e 134.5px,#238a8d 145.5px,#23888e 190.5px)"></i>
<i style="background:linear-gradient(90deg,#fff 1.9px,#46085c 1.9px,#46085c 60.5px,#470e61 74.5px,#481d6f 91.5px,#472a7a 100.5px,#3b518b 116.5px,#2c738e 129.5px,#26828e 138.5px,#24878e 146.5px,#23888e 160.5px,#26828e 190.5px)"></i>
<i style="background:linear-gradient(90deg,#fff 1.9px,#46085c 1.9px,#46085c 63.5px,#470e61 78.5px,#481a6c 92.5px,#472c7a 105.5px,#3c4f8a 119.5px,#31678e 128.5px,#297b8e 138.5px,#25848e 154.5px,#287d8e 190.5px)"></i>
<i style="background:linear-gradient(90deg,#fff 1.9px,#46085c 1.9px,#46085c 66.5px,#470e61 84.5px,#481769 96.5px,#482576 107.5px,#3f4788 121.5px,#34618d 132.5px,#2e6e8e 140.5px,#2c728e 153.5px,#2c728e 190.5px)"></i>
<i style="background:linear-gradient(90deg,#fff 1.9px,#46085c 1.9px,#46085c 70.5px,#471063 92.5px,#482071 108.5px,#404588 124.5px,#375a8c 133.5px,#31678e 143.5px,#2f6b8e 190.5px)"></i>
<i style="background:linear-gradient(90deg,#fff 1.9px,#46085c 1.9px,#46085c 74.5px,#460b5e 88.5px,#471365 101.5px,#482071 112.5px,#424186 127.5px,#3a538b 135.5px,#365c8d 141.5px,#33628d 159.5px,#33628d 190.5px)"></i>
<i style="background:linear-gradient(90deg,#fff 1.9px,#46085c 1.9px,#46085c 79.5px,#470d60 97.5px,#481467 107.5px,#481f70 115.5px,#424186 131.5px,#3d4d8a 137.5px,#3a548c 144.5px,#38598c 156.5px,#375a8c 190.5px)"></i>
<i style="background:linear-gradient(90deg,#fff 1.9px,#46085c 1.9px,#46085c 85.5px,#460b5e 98.5px,#471164 108.5px,#481c6e 117.5px,#453882 131.5px,#3e4989 142.5px,#3c508b 157.5px,#3b518b 190.5px)"></i>
<i style="background:linear-gradient(90deg,#fff 1.9px,#46085c 1.9px,#46085c 89.5px,#460b5e 103.5px,#471164 112.5px,#481f70 122.5px,#46337f 133.5px,#414287 145.5px,#3f4889 162.5px,#3f4889 190.5px)"></i>
<i style="background:linear-gradient(90deg,#fff 1.9px,#46085c 1.9px,#460a5d 102.5px,#481668 119.5px,#472d7b 134.5px,#443b84 147.5px,#424086 164.5px,#424086 190.5px)"></i>
<i style="background:linear-gradient(90deg,#fff 1.9px,#46085c 1.9px,#460a5d 106.5px,#481467 121.5px,#472a7a 138.5px,#463480 149.5px,#443983 190.5px)"></i>
<i style="background:linear-gradient(90deg,#fff 1.9px,#46085c 1.9px,#460a5d 108.5px,#471164 121.5px,#482173 135.5px,#472d7b 148.5px,#46327e 164.5px,#46327e 190.5px)"></i>
<i style="background:linear-gradient(90deg,#fff 1.9px,#46085c 1.9px,#460a5d 110.5px,#471365 125.5px,#482979 149.5px,#472e7c 166.5px,#472e7c 190.5px)"></i>
<i style="background:linear-gradient(90deg,#fff 1.9px,#460a5d 1.9px,#460a5d 110.5px,#470e61 121.5px,#482878 152.5px,#472d7b 190.5px)"></i>
<i style="background:linear-gradient(90deg,#fff 1.9px,#460a5d 1.9px,#460a5d 109.5px,#470e61 122.5px,#482374 146.5px,#482979 159.5px,#472c7a 190.5px)"></i>
<i style="background:linear-gradient(90deg,#fff 1.9px,#460a5d 1.9px,#460b5e 116.5px,#482576 154.5px,#472c7a 190.5px)"></i>
<i style="background:linear-gradient(90deg,#fff 1.9px,#460b5e 1.9px,#460b5e 115.5px,#471063 127.5px,#482677 160.5px,#472a7a 190.5px)"></i>
<i style="background:linear-gradient(90deg,#fff 1.9px,#460b5e 1.9px,#460b5e 113.5px,#471063 128.5px,#482677 164.5px,#482979 190.5px)"></i>
<i style="background:linear-gradient(90deg,#fff 1.9px,#470d60 1.9px,#470d60 120.5px,#482475 161.5px,#482979 190.5px)"></i>
<i style="background:linear-gradient(90deg,#fff 1.9px,#470d60 1.9px,#470d60 118.5px,#471164 133.5px,#482576 168.5px,#482878 190.5px)"></i>
<i style="background:linear-gradient(90deg,#fff 1.9px,#470d60 1.9px,#470e61 125.5px,#482475 168.5px,#482878 190.5px)"></i>
<i style="background:linear-gradient(90deg,#fff 1.9px,#470e61 1.9px,#470e61 123.5px,#482374 168.5px,#482677 190.5px)"></i>
<i style="background:linear-gradient(90deg,#fff 1.9px,#470e61 1.9px,#470e61 118.5px,#471365 140.5px,#482475 176.5px,#482576 190.5px)"></i>
<i style="background:linear-gradient(90deg,#fff 1.9px,#471063 1.9px,#471063 129.5px,#482374 175.5px,#482576 190.5px)"></i>
<i style="background:linear-gradient(90deg,#fff 1.9px,#471063 1.9px,#471063 126.5px,#482475 190.5px)"></i>
<i style="background:linear-gradient(90deg,#fff 1.9px,#471164 1.9px,#471164 131.5px,#482475 190.5px)"></i>
<i style="background:linear-gradient(90deg,#fff 1.9px,#471365 1.9px,#481668 129.5px,#481a6c 152.5px,#482878 190.5px)"></i>
<i style="background:linear-gradient(90deg,#fff 1.9px,#481467 1.9px,#481467 59.5px,#481c6e 97.5px,#481d6f 144.5px,#472d7b 190.5px)"></i>
<i style="background:linear-gradient(90deg,#fff 1.9px,#481769 1.9px,#481769 59.5px,#482475 101.5px,#482677 153.5px,#463480 190.5px)"></i>
<i style="background:linear-gradient(90deg,#fff 1.9px,#481a6c 1.9px,#481a6c 58.5px,#472c7a 103.5px,#472d7b 151.5px,#443a83 190.5px)"></i>
<i style="background:linear-gradient(90deg,#fff 1.9px,#481c6e 1.9px,#481c6e 59.5px,#46307e 100.5px,#46337f 155.5px,#423f85 190.5px)"></i>
<i style="background:linear-gradient(90deg,#fff 1.9px,#481f70 1.9px,#481f70 60.5px,#463480 100.5px,#453581 150.5px,#414287 190.5px)"></i>
<i style="background:linear-gradient(90deg,#fff 1.9px,#482071 1.9px,#482071 59.5px,#453581 99.5px,#453882 158.5px,#414487 190.5px)"></i>
<i style="background:linear-gradient(90deg,#fff 1.9px,#482173 1.9px,#482173 61.5px,#453781 101.5px,#453882 156.5px,#414487 190.5px)"></i>
<i style="background:linear-gradient(90deg,#fff 1.9px,#482173 1.9px,#482173 61.5px,#453781 101.5px,#453882 158.5px,#414487 190.5px)"></i>
<i style="background:linear-gradient(90deg,#fff 1.9px,#482173 1.9px,#482173 60.5px,#453882 103.5px,#453882 157.5px,#414287 190.5px)"></i>
<i style="background:linear-gradient(90deg,#fff 1.9px,#482173 1.9px,#482374 55.5px,#433d84 98.5px,#423f85 108.5px,#443b84 166.5px,#414487 190.5px)"></i>
<i style="background:linear-gradient(90deg,#fff 1.9px,#482173 1.9px,#482677 57.5px,#424086 91.5px,#3f4788 106.5px,#404688 131.5px,#423f85 161.5px,#414487 190.5px)"></i>
<i style="background:linear-gradient(90deg,#fff 1.9px,#482173 1.9px,#482878 56.5px,#433e85 83.5px,#3e4c8a 105.5px,#3e4a89 131.5px,#424086 166.5px,#404588 190.5px)"></i>
<i style="background:linear-gradient(90deg,#fff 1.9px,#482173 1.9px,#482878 56.5px,#433e85 83.5px,#3e4c8a 104.5px,#3e4a89 131.5px,#424086 165.5px,#414487 190.5px)"></i>
</div>
<div class="hm" style="left:494px;top:255px;width:191px;height:191px">
<i style="background:linear-gradient(90deg,#440154 0.5px,#440154 5.5px,#460a5d 6.5px,#472c7a 7.5px,#38588c 8.5px,#26828e 9.5px,#26ad81 10.5px,#69cd5b 11.5px,#aadc32 12.5px,#c2df23 13.5px,#cde11d 20.5px,#dfe318 40.5px,#f1e51d 80.5px,#f8e621 131.5px,#f8e621 190.5px)"></i>
<i style="background:linear-gradient(90deg,#440154 0.5px,#440154 5.5px,#450457 6.5px,#482173 7.5px,#3e4a89 8.5px,#2a768e 9.5px,#1fa188 10.5px,#50c46a 11.5px,#98d83e 12.5px,#bade28 13.5px,#c5e021 19.5px,#d5e21a 35.5px,#e7e419 69.5px,#f1e51d 120.5px,#f4e61e 190.5px)"></i>
<i style="background:linear-gradient(90deg,#440154 0.5px,#440154 6.5px,#481769 7.5px,#433e85 8.5px,#306a8e 9.5px,#20938c 10.5px,#38b977 11.5px,#7fd34e 12.5px,#addc30 13.5px,#b5de2b 15.5px,#bddf26 21.5px,#cde11d 38.5px,#dde318 68.5px,#e7e419 120.5px,#eae51a 190.5px)"></i>
<i style="background:linear-gradient(90deg,#440154 0.5px,#440154 6.5px,#470e61 7.5px,#46327e 8.5px,#365d8d 9.5px,#24868e 10.5px,#27ad81 11.5px,#63cb5f 12.5px,#9bd93c 13.5px,#a8db34 14.5px,#b5de2b 23.5px,#c2df23 38.5px,#d5e21a 76.5px,#dde318 120.5px,#dfe318 190.5px)"></i>
<i style="background:linear-gradient(90deg,#440154 0.5px,#440154 6.5px,#46085c 7.5px,#482677 8.5px,#3c4f8a 9.5px,#29798e 10.5px,#1fa188 11.5px,#4ac16d 12.5px,#86d549 13.5px,#a0da39 14.5px,#bade28 41.5px,#cae11f 76.5px,#d2e21b 120.5px,#d5e21a 190.5px)"></i>
<i style="background:linear-gradient(90deg,#440154 0.5px,#440256 7.5px,#481b6d 8.5px,#414287 9.5px,#2f6c8e 10.5px,#20938c 11.5px,#35b779 12.5px,#6ece58 13.5px,#93d741 14.5px,#9dd93b 20.5px,#addc30 37.5px,#bddf26 67.5px,#c8e020 120.5px,#cae11f 190.5px)"></i>
<i style="background:linear-gradient(90deg,#440154 0.5px,#440154 7.5px,#471365 8.5px,#453581 9.5px,#355f8d 10.5px,#24868e 11.5px,#25ab82 12.5px,#58c765 13.5px,#84d44b 14.5px,#8ed645 15.5px,#9dd93b 30.5px,#aadc32 49.5px,#b5de2b 75.5px,#bddf26 120.5px,#c0df25 190.5px)"></i>
<i style="background:linear-gradient(90deg,#440154 0.5px,#440154 7.5px,#460a5d 8.5px,#482979 9.5px,#3b518b 10.5px,#29798e 11.5px,#1f9f88 12.5px,#42be71 13.5px,#73d056 14.5px,#84d44b 15.5px,#90d743 25.5px,#9dd93b 41.5px,#aadc32 68.5px,#b5de2b 126.5px,#b8de29 190.5px)"></i>
<i style="background:linear-gradient(90deg,#440154 0.5px,#440154 7.5px,#450457 8.5px,#481d6f 9.5px,#414487 10.5px,#2f6c8e 11.5px,#20928c 12.5px,#2fb47c 13.5px,#60ca60 14.5px,#7cd250 15.5px,#81d34d 17.5px,#8ed645 30.5px,#a2da37 67.5px,#addc30 122.5px,#b0dd2f 190.5px)"></i>
<i style="background:linear-gradient(90deg,#440154 0.5px,#440154 8.5px,#481467 9.5px,#453781 10.5px,#355f8d 11.5px,#25858e 12.5px,#22a884 13.5px,#4ec36b 14.5px,#73d056 15.5px,#77d153 16.5px,#8bd646 36.5px,#9dd93b 75.5px,#a5db36 119.5px,#a8db34 190.5px)"></i>
<i style="background:linear-gradient(90deg,#440154 0.5px,#440154 8.5px,#460b5e 9.5px,#472a7a 10.5px,#3b518b 11.5px,#2a788e 12.5px,#1e9c89 13.5px,#3aba76 14.5px,#65cb5e 15.5px,#73d056 16.5px,#86d549 39.5px,#95d840 74.5px,#9dd93b 117.5px,#a0da39 190.5px)"></i>
<i style="background:linear-gradient(90deg,#440154 0.5px,#440154 8.5px,#450559 9.5px,#481f70 10.5px,#414487 11.5px,#2f6b8e 12.5px,#21908d 13.5px,#29af7f 14.5px,#54c568 15.5px,#6ccd5a 16.5px,#84d44b 47.5px,#90d743 82.5px,#98d83e 149.5px,#98d83e 190.5px)"></i>
<i style="background:linear-gradient(90deg,#440154 0.5px,#440154 9.5px,#481467 10.5px,#453781 11.5px,#355e8d 12.5px,#26828e 13.5px,#20a486 14.5px,#40bd72 15.5px,#60ca60 16.5px,#65cb5e 17.5px,#77d153 38.5px,#86d549 71.5px,#8ed645 111.5px,#90d743 190.5px)"></i>
<i style="background:linear-gradient(90deg,#440154 0.5px,#440154 9.5px,#460b5e 10.5px,#482979 11.5px,#3c508b 12.5px,#2b758e 13.5px,#1f978b 14.5px,#31b57b 15.5px,#54c568 16.5px,#60ca60 17.5px,#75d054 46.5px,#81d34d 80.5px,#89d548 139.5px,#89d548 190.5px)"></i>
<i style="background:linear-gradient(90deg,#440154 0.5px,#440154 9.5px,#450559 10.5px,#481d6f 11.5px,#424186 12.5px,#31688e 13.5px,#228b8d 14.5px,#24aa83 15.5px,#46c06f 16.5px,#5ac864 17.5px,#70cf57 48.5px,#7ad151 75.5px,#81d34d 123.5px,#84d44b 190.5px)"></i>
<i style="background:linear-gradient(90deg,#440154 0.5px,#440154 10.5px,#481467 11.5px,#463480 12.5px,#375b8d 13.5px,#277e8e 14.5px,#1f9f88 15.5px,#37b878 16.5px,#52c569 17.5px,#56c667 18.5px,#69cd5b 45.5px,#75d054 79.5px,#7cd250 136.5px,#7cd250 190.5px)"></i>
<i style="background:linear-gradient(90deg,#440154 0.5px,#440154 10.5px,#460a5d 11.5px,#482878 12.5px,#3d4d8a 13.5px,#2c718e 14.5px,#20928c 15.5px,#28ae80 16.5px,#46c06f 17.5px,#52c569 18.5px,#65cb5e 47.5px,#70cf57 83.5px,#75d054 116.5px,#77d153 190.5px)"></i>
<i style="background:linear-gradient(90deg,#440154 0.5px,#440154 10.5px,#450457 11.5px,#481c6e 12.5px,#423f85 13.5px,#32648e 14.5px,#24868e 15.5px,#20a486 16.5px,#3aba76 17.5px,#4cc26c 18.5px,#5ec962 44.5px,#69cd5b 76.5px,#70cf57 127.5px,#70cf57 190.5px)"></i>
<i style="background:linear-gradient(90deg,#440154 0.5px,#440154 11.5px,#471164 12.5px,#46307e 13.5px,#39558c 14.5px,#29798e 15.5px,#1f998a 16.5px,#2db27d 17.5px,#44bf70 18.5px,#4ac16d 19.5px,#58c765 41.5px,#65cb5e 80.5px,#6ccd5a 143.5px,#6ccd5a 190.5px)"></i>
<i style="background:linear-gradient(90deg,#440154 0.5px,#440154 11.5px,#46085c 12.5px,#482475 13.5px,#3f4889 14.5px,#2f6c8e 15.5px,#228c8d 16.5px,#22a884 17.5px,#3aba76 18.5px,#44bf70 19.5px,#56c667 47.5px,#60ca60 84.5px,#67cc5c 190.5px)"></i>
<i style="background:linear-gradient(90deg,#440154 0.5px,#440256 12.5px,#48186a 13.5px,#443a83 14.5px,#355e8d 15.5px,#27808e 16.5px,#1e9d89 17.5px,#2eb37c 18.5px,#40bd72 19.5px,#50c46a 44.5px,#5ac864 77.5px,#60ca60 133.5px,#60ca60 190.5px)"></i>
<i style="background:linear-gradient(90deg,#440154 0.5px,#440154 12.5px,#470e61 13.5px,#472d7b 14.5px,#3c508b 15.5px,#2c728e 16.5px,#20928c 17.5px,#25ab82 18.5px,#38b977 19.5px,#3dbc74 20.5px,#4cc26c 46.5px,#56c667 81.5px,#5cc863 190.5px)"></i>
<i style="background:linear-gradient(90deg,#440154 0.5px,#440154 12.5px,#46075a 13.5px,#482071 14.5px,#424186 15.5px,#32658e 16.5px,#25858e 17.5px,#1fa188 18.5px,#2eb37c 19.5px,#3aba76 20.5px,#4ac16d 53.5px,#52c569 86.5px,#58c765 190.5px)"></i>
<i style="background:linear-gradient(90deg,#440154 0.5px,#440256 13.5px,#481467 14.5px,#463480 15.5px,#38588c 16.5px,#2a788e 17.5px,#1f958b 18.5px,#25ac82 19.5px,#35b779 20.5px,#40bd72 40.5px,#4cc26c 79.5px,#52c569 139.5px,#52c569 190.5px)"></i>
<i style="background:linear-gradient(90deg,#440154 0.5px,#440154 13.5px,#460b5e 14.5px,#482677 15.5px,#3e4989 16.5px,#2f6b8e 17.5px,#23898e 18.5px,#1fa287 19.5px,#2db27d 20.5px,#32b67a 21.5px,#3fbc73 46.5px,#48c16e 83.5px,#4ec36b 190.5px)"></i>
<i style="background:linear-gradient(90deg,#440154 0.5px,#440154 13.5px,#450457 14.5px,#481b6d 15.5px,#443a83 16.5px,#355e8d 17.5px,#1f988b 19.5px,#25ac82 20.5px,#2fb47c 21.5px,#3bbb75 48.5px,#44bf70 87.5px,#48c16e 190.5px)"></i>
<i style="background:linear-gradient(90deg,#440154 0.5px,#440154 14.5px,#471063 15.5px,#472d7b 16.5px,#3c4f8a 17.5px,#228d8d 19.5px,#20a386 20.5px,#2ab07f 21.5px,#2db27d 22.5px,#38b977 50.5px,#3fbc73 80.5px,#44bf70 190.5px)"></i>
<i style="background:linear-gradient(90deg,#440154 0.5px,#440154 14.5px,#46085c 15.5px,#482071 16.5px,#424186 17.5px,#33638d 18.5px,#1f9a8a 20.5px,#25ab82 21.5px,#2ab07f 22.5px,#3bbb75 84.5px,#40bd72 190.5px)"></i>
<i style="background:linear-gradient(90deg,#440154 0.5px,#440256 15.5px,#481668 16.5px,#46337f 17.5px,#3a548c 18.5px,#218f8d 20.5px,#20a386 21.5px,#27ad81 22.5px,#31b57b 48.5px,#38b977 89.5px,#3bbb75 190.5px)"></i>
<i style="background:linear-gradient(90deg,#440154 0.5px,#440154 15.5px,#460b5e 16.5px,#482576 17.5px,#404688 18.5px,#31678e 19.5px,#25838e 20.5px,#1e9b8a 21.5px,#23a983 22.5px,#26ad81 23.5px,#35b779 89.5px,#38b977 190.5px)"></i>
<i style="background:linear-gradient(90deg,#440154 0.5px,#440154 15.5px,#450457 16.5px,#481a6c 17.5px,#453882 18.5px,#375a8c 19.5px,#21918c 21.5px,#20a386 22.5px,#25ab82 23.5px,#32b67a 85.5px,#35b779 190.5px)"></i>
<i style="background:linear-gradient(90deg,#440154 0.5px,#440154 16.5px,#471063 17.5px,#472a7a 18.5px,#3e4c8a 19.5px,#2f6b8e 20.5px,#1e9c89 22.5px,#22a884 23.5px,#24aa83 24.5px,#31b57b 96.5px,#34b679 190.5px)"></i>
<i style="background:linear-gradient(90deg,#440154 0.5px,#440154 16.5px,#46075a 17.5px,#481d6f 18.5px,#433d84 19.5px,#365d8d 20.5px,#20928c 22.5px,#1fa287 23.5px,#22a884 24.5px,#2eb37c 92.5px,#31b57b 190.5px)"></i>
<i style="background:linear-gradient(90deg,#440154 0.5px,#440154 17.5px,#471365 18.5px,#472e7c 19.5px,#3c4f8a 20.5px,#2e6e8e 21.5px,#24878e 22.5px,#1e9c89 23.5px,#21a685 24.5px,#2ab07f 76.5px,#2eb37c 190.5px)"></i>
<i style="background:linear-gradient(90deg,#440154 0.5px,#440154 17.5px,#46085c 18.5px,#482173 19.5px,#424086 20.5px,#34608d 21.5px,#287c8e 22.5px,#20928c 23.5px,#1fa187 24.5px,#21a585 25.5px,#29af7f 85.5px,#2db27d 190.5px)"></i>
<i style="background:linear-gradient(90deg,#440154 0.5px,#440256 18.5px,#481668 19.5px,#46327e 20.5px,#3b528b 21.5px,#23888e 23.5px,#1e9b8a 24.5px,#20a386 25.5px,#27ad81 81.5px,#2ab07f 190.5px)"></i>
<i style="background:linear-gradient(90deg,#440154 0.5px,#440154 18.5px,#460b5e 19.5px,#482475 20.5px,#414287 21.5px,#33628d 22.5px,#287d8e 23.5px,#20928c 24.5px,#1fa088 25.5px,#1fa287 26.5px,#26ad81 91.5px,#28ae80 190.5px)"></i>
<i style="background:linear-gradient(90deg,#440154 0.5px,#440154 18.5px,#450457 19.5px,#48186a 20.5px,#463480 21.5px,#3a538b 22.5px,#23888e 24.5px,#1f998a 25.5px,#1fa188 26.5px,#25ab82 87.5px,#26ad81 190.5px)"></i>
<i style="background:linear-gradient(90deg,#440154 0.5px,#440154 19.5px,#470d60 20.5px,#482677 21.5px,#404588 22.5px,#33638d 23.5px,#287d8e 24.5px,#20928c 25.5px,#1f9e89 26.5px,#1fa088 27.5px,#23a983 84.5px,#25ac82 190.5px)"></i>
<i style="background:linear-gradient(90deg,#440154 0.5px,#440154 19.5px,#450559 20.5px,#481a6c 21.5px,#453581 22.5px,#3a548c 23.5px,#2d718e 24.5px,#24878e 25.5px,#1f978b 26.5px,#1f9e89 27.5px,#22a785 81.5px,#24aa83 190.5px)"></i>
<i style="background:linear-gradient(90deg,#440154 0.5px,#440154 20.5px,#470e61 21.5px,#482878 22.5px,#404688 23.5px,#287c8e 25.5px,#21908d 26.5px,#1e9b8a 27.5px,#1e9d89 29.5px,#21a685 90.5px,#22a884 190.5px)"></i>
<i style="background:linear-gradient(90deg,#440154 0.5px,#440154 20.5px,#450559 21.5px,#481b6d 22.5px,#453781 23.5px,#3a548c 24.5px,#24868e 26.5px,#1f958b 27.5px,#1e9b8a 28.5px,#20a486 87.5px,#21a685 190.5px)"></i>
<i style="background:linear-gradient(90deg,#440154 0.5px,#440154 21.5px,#470e61 22.5px,#482878 23.5px,#404688 24.5px,#297b8e 26.5px,#218e8d 27.5px,#1f988b 28.5px,#1f9a8a 30.5px,#1fa287 84.5px,#21a585 190.5px)"></i>
<i style="background:linear-gradient(90deg,#440154 0.5px,#440154 21.5px,#450559 22.5px,#481b6d 23.5px,#453781 24.5px,#3a548c 25.5px,#25848e 27.5px,#20928c 28.5px,#1f988b 29.5px,#1fa187 94.5px,#20a386 190.5px)"></i>
<i style="background:linear-gradient(90deg,#440154 0.5px,#440154 22.5px,#470e61 23.5px,#482878 24.5px,#404588 25.5px,#29798e 27.5px,#228b8d 28.5px,#1f958b 29.5px,#1f968b 30.5px,#1fa088 90.5px,#1fa187 190.5px)"></i>
<i style="background:linear-gradient(90deg,#440154 0.5px,#440154 22.5px,#450559 23.5px,#481b6d 24.5px,#453581 25.5px,#3b528b 26.5px,#2e6d8e 27.5px,#26828e 28.5px,#21908d 29.5px,#1f958b 31.5px,#1f9e89 86.5px,#1fa088 190.5px)"></i>
<i style="background:linear-gradient(90deg,#440154 0.5px,#440154 23.5px,#470e61 24.5px,#482677 25.5px,#414487 26.5px,#2a768e 28.5px,#23888e 29.5px,#20928c 30.5px,#20938c 31.5px,#1e9c89 83.5px,#1f9f88 190.5px)"></i>
<i style="background:linear-gradient(90deg,#440154 0.5px,#440154 23.5px,#450559 24.5px,#481a6c 25.5px,#463480 26.5px,#3c508b 27.5px,#2f6b8e 28.5px,#277f8e 29.5px,#218e8d 30.5px,#20928c 31.5px,#1e9b8a 87.5px,#1e9d89 190.5px)"></i>
<i style="background:linear-gradient(90deg,#440154 0.5px,#440154 24.5px,#470e61 25.5px,#482576 26.5px,#424186 27.5px,#365d8d 28.5px,#2b748e 29.5px,#24868e 30.5px,#21908d 31.5px,#20928c 32.5px,#1f9a8a 91.5px,#1e9c89 190.5px)"></i>
<i style="background:linear-gradient(90deg,#440154 0.5px,#440154 24.5px,#450559 25.5px,#48186a 26.5px,#46327e 27.5px,#3d4e8a 28.5px,#287d8e 30.5px,#228b8d 31.5px,#21908d 32.5px,#1f988b 82.5px,#1e9b8a 190.5px)"></i>
<i style="background:linear-gradient(90deg,#440154 0.5px,#440154 25.5px,#470d60 26.5px,#482374 27.5px,#423f85 28.5px,#375a8c 29.5px,#2c718e 30.5px,#25838e 31.5px,#218e8d 32.5px,#218f8d 33.5px,#1f978b 86.5px,#1f998a 190.5px)"></i>
<i style="background:linear-gradient(90deg,#440154 0.5px,#440154 25.5px,#450457 26.5px,#481668 27.5px,#472f7d 28.5px,#3e4a89 29.5px,#32658e 30.5px,#29798e 31.5px,#23888e 32.5px,#218e8d 33.5px,#1f968b 90.5px,#1f988b 190.5px)"></i>
<i style="background:linear-gradient(90deg,#440154 0.5px,#440154 26.5px,#460a5d 27.5px,#482071 28.5px,#443b84 29.5px,#39568c 30.5px,#2e6e8e 31.5px,#27808e 32.5px,#228b8d 33.5px,#228d8d 34.5px,#1f958b 94.5px,#1f978b 190.5px)"></i>
<i style="background:linear-gradient(90deg,#440154 0.5px,#440256 27.5px,#481467 28.5px,#472c7a 29.5px,#3f4788 30.5px,#2a768e 32.5px,#25848e 33.5px,#228b8d 34.5px,#228c8d 35.5px,#20938c 84.5px,#1f968b 190.5px)"></i>
<i style="background:linear-gradient(90deg,#440154 0.5px,#440154 27.5px,#46085c 28.5px,#481d6f 29.5px,#453882 30.5px,#3b528b 31.5px,#306a8e 32.5px,#287c8e 33.5px,#23888e 34.5px,#228b8d 36.5px,#20928c 88.5px,#1f948c 190.5px)"></i>
<i style="background:linear-gradient(90deg,#440154 0.5px,#440256 28.5px,#471164 29.5px,#482878 30.5px,#414287 31.5px,#365d8d 32.5px,#2c718e 33.5px,#26828e 34.5px,#23898e 35.5px,#20928c 92.5px,#20938c 190.5px)"></i>
<i style="background:linear-gradient(90deg,#440154 0.5px,#440154 28.5px,#46075a 29.5px,#481a6c 30.5px,#46337f 31.5px,#3d4e8a 32.5px,#31668e 33.5px,#2a788e 34.5px,#25848e 35.5px,#23888e 36.5px,#21918c 97.5px,#20928c 190.5px)"></i>
<i style="background:linear-gradient(90deg,#440154 0.5px,#440154 29.5px,#470d60 30.5px,#482475 31.5px,#433e85 32.5px,#38588c 33.5px,#2e6e8e 34.5px,#277e8e 35.5px,#24868e 36.5px,#24878e 37.5px,#21908d 102.5px,#21918c 190.5px)"></i>
<i style="background:linear-gradient(90deg,#440154 0.5px,#440154 29.5px,#450457 30.5px,#481668 31.5px,#472e7c 32.5px,#3f4889 33.5px,#2c738e 35.5px,#26818e 36.5px,#24868e 37.5px,#218e8d 91.5px,#21908d 190.5px)"></i>
<i style="background:linear-gradient(90deg,#440154 0.5px,#440154 30.5px,#460a5d 31.5px,#481f70 32.5px,#453882 33.5px,#3b528b 34.5px,#29798e 36.5px,#25838e 37.5px,#25858e 39.5px,#228d8d 97.5px,#218f8d 190.5px)"></i>
<i style="background:linear-gradient(90deg,#440154 0.5px,#440256 31.5px,#471164 32.5px,#482878 33.5px,#414287 34.5px,#2e6f8e 36.5px,#287d8e 37.5px,#25838e 38.5px,#228b8d 89.5px,#228d8d 190.5px)"></i>
<i style="background:linear-gradient(90deg,#440154 0.5px,#440154 31.5px,#46075a 32.5px,#481a6c 33.5px,#46327e 34.5px,#3e4c8a 35.5px,#2b748e 37.5px,#27808e 38.5px,#26828e 39.5px,#238a8d 95.5px,#228c8d 190.5px)"></i>
<i style="background:linear-gradient(90deg,#440154 0.5px,#440154 32.5px,#470d60 33.5px,#482374 34.5px,#443b84 35.5px,#3a548c 36.5px,#30698e 37.5px,#2a788e 38.5px,#26818e 39.5px,#26828e 40.5px,#23898e 101.5px,#228b8d 190.5px)"></i>
<i style="background:linear-gradient(90deg,#440154 0.5px,#440154 32.5px,#450457 33.5px,#481467 34.5px,#472c7a 35.5px,#414487 36.5px,#365c8d 37.5px,#2e6f8e 38.5px,#297b8e 39.5px,#27808e 40.5px,#24878e 92.5px,#23898e 190.5px)"></i>
<i style="background:linear-gradient(90deg,#440154 0.5px,#440154 33.5px,#46085c 34.5px,#46337f 36.5px,#3d4d8a 37.5px,#2c728e 39.5px,#287d8e 40.5px,#277f8e 41.5px,#24868e 98.5px,#23888e 190.5px)"></i>
<i style="background:linear-gradient(90deg,#440154 0.5px,#440154 34.5px,#470e61 35.5px,#482374 36.5px,#443b84 37.5px,#3a538b 38.5px,#31688e 39.5px,#2a768e 40.5px,#287d8e 41.5px,#277e8e 42.5px,#25858e 106.5px,#24868e 190.5px)"></i>
<i style="background:linear-gradient(90deg,#440154 0.5px,#440154 34.5px,#450457 35.5px,#481467 36.5px,#472a7a 37.5px,#414487 38.5px,#2f6c8e 40.5px,#2a788e 41.5px,#287d8e 43.5px,#25838e 96.5px,#25858e 190.5px)"></i>
<i style="background:linear-gradient(90deg,#440154 0.5px,#440154 35.5px,#46085c 36.5px,#46327e 38.5px,#3e4a89 39.5px,#2d708e 41.5px,#29798e 42.5px,#297b8e 43.5px,#26828e 88.5px,#25848e 190.5px)"></i>
<i style="background:linear-gradient(90deg,#440154 0.5px,#440154 36.5px,#470d60 37.5px,#482173 38.5px,#443983 39.5px,#3c508b 40.5px,#32648e 41.5px,#2c728e 42.5px,#29798e 43.5px,#297a8e 44.5px,#26818e 93.5px,#26828e 190.5px)"></i>
<i style="background:linear-gradient(90deg,#440154 0.5px,#440154 36.5px,#450457 37.5px,#471365 38.5px,#482878 39.5px,#423f85 40.5px,#31688e 42.5px,#2b748e 43.5px,#29798e 45.5px,#27808e 100.5px,#26828e 190.5px)"></i>
<i style="background:linear-gradient(90deg,#440154 0.5px,#440154 37.5px,#46075a 38.5px,#472e7c 40.5px,#404588 41.5px,#375b8d 42.5px,#2f6b8e 43.5px,#2b758e 44.5px,#2a778e 45.5px,#277f8e 107.5px,#27808e 190.5px)"></i>
<i style="background:linear-gradient(90deg,#440154 0.5px,#440154 38.5px,#460a5d 39.5px,#463480 41.5px,#3e4a89 42.5px,#355f8d 43.5px,#2e6d8e 44.5px,#2b758e 45.5px,#2a768e 46.5px,#287d8e 97.5px,#277f8e 190.5px)"></i>
<i style="background:linear-gradient(90deg,#440154 0.5px,#440256 39.5px,#470e61 40.5px,#482374 41.5px,#443983 42.5px,#3c4f8a 43.5px,#33628d 44.5px,#2e6f8e 45.5px,#2b758e 47.5px,#287c8e 104.5px,#287d8e 190.5px)"></i>
<i style="background:linear-gradient(90deg,#440154 0.5px,#440154 39.5px,#450457 40.5px,#471365 41.5px,#482878 42.5px,#433e85 43.5px,#32658e 45.5px,#2d708e 46.5px,#2c738e 47.5px,#297a8e 96.5px,#287c8e 190.5px)"></i>
<i style="background:linear-gradient(90deg,#440154 0.5px,#440154 40.5px,#46075a 41.5px,#481769 42.5px,#472d7b 43.5px,#414287 44.5px,#31678e 46.5px,#2d718e 47.5px,#2c728e 48.5px,#29798e 106.5px,#297a8e 190.5px)"></i>
<i style="background:linear-gradient(90deg,#440154 0.5px,#440154 41.5px,#460a5d 42.5px,#481b6d 43.5px,#46307e 44.5px,#3f4788 45.5px,#31688e 47.5px,#2d708e 48.5px,#2c718e 50.5px,#2a778e 99.5px,#29798e 190.5px)"></i>
<i style="background:linear-gradient(90deg,#440154 0.5px,#440154 42.5px,#470d60 43.5px,#481f70 44.5px,#453581 45.5px,#3e4a89 46.5px,#30698e 48.5px,#2d708e 49.5px,#2a768e 109.5px,#2a778e 190.5px)"></i>
<i style="background:linear-gradient(90deg,#440154 0.5px,#440256 43.5px,#471063 44.5px,#482475 45.5px,#443983 46.5px,#3d4e8a 47.5px,#306a8e 49.5px,#2e6f8e 51.5px,#2b748e 102.5px,#2a768e 190.5px)"></i>
<i style="background:linear-gradient(90deg,#440154 0.5px,#440154 43.5px,#450559 44.5px,#482677 46.5px,#433d84 47.5px,#34608d 49.5px,#306a8e 50.5px,#2e6d8e 51.5px,#2c728e 95.5px,#2b748e 190.5px)"></i>
<i style="background:linear-gradient(90deg,#440154 0.5px,#440154 44.5px,#46075a 45.5px,#472a7a 47.5px,#423f85 48.5px,#34618d 50.5px,#306a8e 51.5px,#2f6c8e 52.5px,#2c718e 105.5px,#2c738e 190.5px)"></i>
<i style="background:linear-gradient(90deg,#440154 0.5px,#440154 45.5px,#46085c 46.5px,#472e7c 48.5px,#414287 49.5px,#33628d 51.5px,#30698e 52.5px,#306a8e 53.5px,#2d708e 98.5px,#2c718e 190.5px)"></i>
<i style="background:linear-gradient(90deg,#440154 0.5px,#440154 46.5px,#460b5e 47.5px,#46307e 49.5px,#404588 50.5px,#33628d 52.5px,#30698e 54.5px,#2e6f8e 108.5px,#2d708e 190.5px)"></i>
<i style="background:linear-gradient(90deg,#440154 0.5px,#440256 47.5px,#470e61 48.5px,#482071 49.5px,#3f4788 51.5px,#38588c 52.5px,#33628d 53.5px,#31678e 54.5px,#2e6d8e 101.5px,#2e6f8e 190.5px)"></i>
<i style="background:linear-gradient(90deg,#440154 0.5px,#440154 47.5px,#450457 48.5px,#471063 49.5px,#453581 51.5px,#3f4889 52.5px,#38588c 53.5px,#33628d 54.5px,#31668e 55.5px,#2f6c8e 111.5px,#2e6d8e 190.5px)"></i>
<i style="background:linear-gradient(90deg,#440154 0.5px,#440154 48.5px,#450559 49.5px,#471365 50.5px,#453882 52.5px,#3e4a89 53.5px,#33628d 55.5px,#32658e 57.5px,#2f6c8e 190.5px)"></i>
<i style="background:linear-gradient(90deg,#440154 0.5px,#440154 49.5px,#46075a 50.5px,#482677 52.5px,#443a83 53.5px,#375a8c 55.5px,#34618d 56.5px,#33638d 57.5px,#30698e 115.5px,#306a8e 190.5px)"></i>
<i style="background:linear-gradient(90deg,#440154 0.5px,#440154 50.5px,#46085c 51.5px,#482979 53.5px,#443b84 54.5px,#375a8c 56.5px,#34618d 57.5px,#31678e 107.5px,#31688e 190.5px)"></i>
<i style="background:linear-gradient(90deg,#440154 0.5px,#440154 51.5px,#460a5d 52.5px,#472c7a 54.5px,#433e85 55.5px,#375a8c 57.5px,#34608d 58.5px,#32658e 100.5px,#31678e 190.5px)"></i>
<i style="background:linear-gradient(90deg,#440154 0.5px,#440154 52.5px,#460b5e 53.5px,#472d7b 55.5px,#423f85 56.5px,#38598c 58.5px,#355e8d 59.5px,#32648e 115.5px,#32658e 190.5px)"></i>
<i style="background:linear-gradient(90deg,#440154 0.5px,#440256 53.5px,#470d60 54.5px,#472e7c 56.5px,#423f85 57.5px,#38598c 59.5px,#365d8d 60.5px,#33628d 113.5px,#33638d 190.5px)"></i>
<i style="background:linear-gradient(90deg,#440154 0.5px,#440256 54.5px,#481d6f 56.5px,#424086 58.5px,#38588c 60.5px,#375b8d 61.5px,#34608d 110.5px,#34618d 190.5px)"></i>
<i style="background:linear-gradient(90deg,#440154 0.5px,#440154 54.5px,#450457 55.5px,#471063 56.5px,#46307e 58.5px,#424186 59.5px,#39568c 61.5px,#38598c 62.5px,#355e8d 107.5px,#355f8d 190.5px)"></i>
<i style="background:linear-gradient(90deg,#440154 0.5px,#440154 55.5px,#450559 56.5px,#471164 57.5px,#46327e 59.5px,#424186 60.5px,#39558c 62.5px,#38588c 64.5px,#355e8d 190.5px)"></i>
<i style="background:linear-gradient(90deg,#440154 0.5px,#440154 56.5px,#450559 57.5px,#482173 59.5px,#424186 61.5px,#3a548c 63.5px,#39558c 64.5px,#365c8d 190.5px)"></i>
<i style="background:linear-gradient(90deg,#440154 0.5px,#440154 57.5px,#46075a 58.5px,#471365 59.5px,#46337f 61.5px,#424186 62.5px,#3d4d8a 63.5px,#3a538b 65.5px,#375a8c 190.5px)"></i>
<i style="background:linear-gradient(90deg,#440154 0.5px,#440154 58.5px,#46075a 59.5px,#46337f 62.5px,#3e4c8a 64.5px,#3b518b 65.5px,#39568c 117.5px,#38588c 190.5px)"></i>
<i style="background:linear-gradient(90deg,#440154 0.5px,#440154 59.5px,#46085c 60.5px,#481467 61.5px,#46337f 63.5px,#3e4a89 65.5px,#3c508b 67.5px,#39558c 190.5px)"></i>
<i style="background:linear-gradient(90deg,#440154 0.5px,#440154 60.5px,#46085c 61.5px,#46337f 64.5px,#3e4989 66.5px,#3d4e8a 67.5px,#3a538b 190.5px)"></i>
<i style="background:linear-gradient(90deg,#440154 0.5px,#440154 61.5px,#46085c 62.5px,#46327e 65.5px,#3f4788 67.5px,#3e4c8a 68.5px,#3c508b 109.5px,#3b518b 190.5px)"></i>
<i style="background:linear-gradient(90deg,#440154 0.5px,#440154 62.5px,#46085c 63.5px,#46327e 66.5px,#404688 68.5px,#3e4a89 71.5px,#3c4f8a 190.5px)"></i>
<i style="background:linear-gradient(90deg,#440154 0.5px,#440154 63.5px,#46085c 64.5px,#46307e 67.5px,#404588 69.5px,#3f4889 70.5px,#3d4e8a 190.5px)"></i>
<i style="background:linear-gradient(90deg,#440154 0.5px,#440154 64.5px,#46085c 65.5px,#472f7d 68.5px,#414287 70.5px,#404688 71.5px,#3e4c8a 190.5px)"></i>
<i style="background:linear-gradient(90deg,#440154 0.5px,#440154 65.5px,#46085c 66.5px,#472e7c 69.5px,#424086 71.5px,#404588 75.5px,#3e4989 190.5px)"></i>
<i style="background:linear-gradient(90deg,#440154 0.5px,#440154 66.5px,#471365 68.5px,#472d7b 70.5px,#423f85 72.5px,#414287 73.5px,#3f4788 190.5px)"></i>
<i style="background:linear-gradient(90deg,#440154 0.5px,#440154 67.5px,#46075a 68.5px,#481f70 70.5px,#453581 72.5px,#424086 74.5px,#404588 190.5px)"></i>
<i style="background:linear-gradient(90deg,#440154 0.5px,#440154 68.5px,#46075a 69.5px,#482979 72.5px,#46337f 73.5px,#433e85 75.5px,#423f85 77.5px,#414487 190.5px)"></i>
<i style="background:linear-gradient(90deg,#440154 0.5px,#440154 69.5px,#450559 70.5px,#46307e 74.5px,#433d84 76.5px,#424186 190.5px)"></i>
<i style="background:linear-gradient(90deg,#440154 0.5px,#440154 70.5px,#450559 71.5px,#472e7c 75.5px,#443a83 77.5px,#423f85 190.5px)"></i>
<i style="background:linear-gradient(90deg,#440154 0.5px,#440154 71.5px,#450457 72.5px,#472c7a 76.5px,#463480 77.5px,#443983 79.5px,#433d84 190.5px)"></i>
<i style="background:linear-gradient(90deg,#440154 0.5px,#440154 72.5px,#450457 73.5px,#460b5e 74.5px,#482979 77.5px,#453581 79.5px,#453781 80.5px,#443a83 190.5px)"></i>
<i style="background:linear-gradient(90deg,#440154 0.5px,#440154 73.5px,#440256 74.5px,#460a5d 75.5px,#481d6f 77.5px,#472e7c 79.5px,#46337f 80.5px,#453581 83.5px,#443983 190.5px)"></i>
<i style="background:linear-gradient(90deg,#440154 0.5px,#440154 75.5px,#46075a 76.5px,#482475 79.5px,#472c7a 80.5px,#46337f 82.5px,#453781 190.5px)"></i>
<i style="background:linear-gradient(90deg,#440154 0.5px,#440154 76.5px,#450559 77.5px,#482878 81.5px,#46307e 83.5px,#463480 190.5px)"></i>
<i style="background:linear-gradient(90deg,#440154 0.5px,#440154 77.5px,#450457 78.5px,#482576 82.5px,#472c7a 83.5px,#472f7d 85.5px,#46327e 190.5px)"></i>
<i style="background:linear-gradient(90deg,#440154 0.5px,#440154 78.5px,#46085c 80.5px,#482878 84.5px,#472d7b 86.5px,#46307e 190.5px)"></i>
<i style="background:linear-gradient(90deg,#440154 0.5px,#440154 80.5px,#470d60 82.5px,#481d6f 84.5px,#482979 86.5px,#472c7a 90.5px,#472e7c 190.5px)"></i>
<i style="background:linear-gradient(90deg,#440154 0.5px,#440154 81.5px,#460a5d 83.5px,#482173 86.5px,#482979 88.5px,#472c7a 190.5px)"></i>
<i style="background:linear-gradient(90deg,#440154 0.5px,#440154 82.5px,#46075a 84.5px,#481d6f 87.5px,#482677 89.5px,#482979 190.5px)"></i>
<i style="background:linear-gradient(90deg,#440154 0.5px,#440154 84.5px,#481a6c 88.5px,#482576 91.5px,#482878 190.5px)"></i>
<i style="background:linear-gradient(90deg,#440154 0.5px,#440154 85.5px,#440256 86.5px,#481668 89.5px,#482374 92.5px,#482576 190.5px)"></i>
<i style="background:linear-gradient(90deg,#440154 0.5px,#440154 87.5px,#482071 93.5px,#482173 96.5px,#482374 190.5px)"></i>
<i style="background:linear-gradient(90deg,#440154 0.5px,#440154 88.5px,#46075a 90.5px,#481467 92.5px,#481f70 95.5px,#482173 190.5px)"></i>
<i style="background:linear-gradient(90deg,#440154 0.5px,#440154 90.5px,#481c6e 96.5px,#481f70 190.5px)"></i>
<i style="background:linear-gradient(90deg,#440154 0.5px,#440154 91.5px,#481b6d 98.5px,#481c6e 190.5px)"></i>
<i style="background:linear-gradient(90deg,#440154 0.5px,#440154 93.5px,#48186a 99.5px,#481b6d 190.5px)"></i>
<i style="background:linear-gradient(90deg,#440154 0.5px,#440154 94.5px,#481467 100.5px,#481769 102.5px,#48186a 190.5px)"></i>
<i style="background:linear-gradient(90deg,#440154 0.5px,#440154 96.5px,#481467 102.5px,#481668 190.5px)"></i>
<i style="background:linear-gradient(90deg,#440154 0.5px,#440154 98.5px,#470e61 102.5px,#471365 108.5px,#471365 190.5px)"></i>
<i style="background:linear-gradient(90deg,#440154 0.5px,#440154 99.5px,#471063 106.5px,#471164 190.5px)"></i>
<i style="background:linear-gradient(90deg,#440154 0.5px,#440154 101.5px,#470d60 108.5px,#470d60 190.5px)"></i>
<i style="background:linear-gradient(90deg,#440154 0.5px,#440154 104.5px,#46075a 108.5px,#46075a 190.5px)"></i>
<i style="background:linear-gradient(90deg,#440154 0.5px,#440154 190.5px)"></i>
<i style="background:linear-gradient(90deg,#440154 0.5px,#440154 190.5px)"></i>
<i style="background:linear-gradient(90deg,#440154 0.5px,#440154 190.5px)"></i>
<i style="background:linear-gradient(90deg,#440154 0.5px,#440154 190.5px)"></i>
<i style="background:linear-gradient(90deg,#440154 0.5px,#440154 190.5px)"></i>
<i style="background:linear-gradient(90deg,#440154 0.5px,#440154 190.5px)"></i>
<i style="background:linear-gradient(90deg,#440154 0.5px,#440154 190.5px)"></i>
<i style="background:linear-gradient(90deg,#440154 0.5px,#440154 190.5px)"></i>
<i style="background:linear-gradient(90deg,#440154 0.5px,#440154 190.5px)"></i>
<i style="background:linear-gradient(90deg,#440154 0.5px,#440154 190.5px)"></i>
<i style="background:linear-gradient(90deg,#440154 0.5px,#440154 190.5px)"></i>
<i style="background:linear-gradient(90deg,#440154 0.5px,#440154 190.5px)"></i>
<i style="background:linear-gradient(90deg,#440154 0.5px,#440154 190.5px)"></i>
<i style="background:linear-gradient(90deg,#440154 0.5px,#440154 190.5px)"></i>
<i style="background:linear-gradient(90deg,#440154 0.5px,#440154 190.5px)"></i>
<i style="background:linear-gradient(90deg,#440154 0.5px,#440154 190.5px)"></i>
<i style="background:linear-gradient(90deg,#440154 0.5px,#440154 190.5px)"></i>
<i style="background:linear-gradient(90deg,#440154 0.5px,#440154 190.5px)"></i>
<i style="background:linear-gradient(90deg,#440154 0.5px,#440154 190.5px)"></i>
<i style="background:linear-gradient(90deg,#440154 0.5px,#440154 190.5px)"></i>
<i style="background:linear-gradient(90deg,#440154 0.5px,#440154 190.5px)"></i>
<i style="background:linear-gradient(90deg,#440154 0.5px,#440154 190.5px)"></i>
<i style="background:linear-gradient(90deg,#440154 0.5px,#440154 190.5px)"></i>
<i style="background:linear-gradient(90deg,#440154 0.5px,#440154 190.5px)"></i>
<i style="background:linear-gradient(90deg,#440154 0.5px,#440154 190.5px)"></i>
<i style="background:linear-gradient(90deg,#440154 0.5px,#440154 190.5px)"></i>
<i style="background:linear-gradient(90deg,#440154 0.5px,#440154 190.5px)"></i>
<i style="background:linear-gradient(90deg,#440154 0.5px,#440154 190.5px)"></i>
<i style="background:linear-gradient(90deg,#440154 0.5px,#440154 190.5px)"></i>
<i style="background:linear-gradient(90deg,#440154 0.5px,#440154 190.5px)"></i>
<i style="background:linear-gradient(90deg,#440154 0.5px,#440154 190.5px)"></i>
<i style="background:linear-gradient(90deg,#440154 0.5px,#440154 190.5px)"></i>
<i style="background:linear-gradient(90deg,#440154 0.5px,#440154 190.5px)"></i>
<i style="background:linear-gradient(90deg,#440154 0.5px,#440154 190.5px)"></i>
<i style="background:linear-gradient(90deg,#440154 0.5px,#440154 190.5px)"></i>
<i style="background:linear-gradient(90deg,#440154 0.5px,#440154 190.5px)"></i>
<i style="background:linear-gradient(90deg,#440154 0.5px,#440154 190.5px)"></i>
<i style="background:linear-gradient(90deg,#440154 0.5px,#440154 190.5px)"></i>
<i style="background:linear-gradient(90deg,#440154 0.5px,#440154 190.5px)"></i>
<i style="background:linear-gradient(90deg,#440154 0.5px,#440154 190.5px)"></i>
<i style="background:linear-gradient(90deg,#440154 0.5px,#440154 190.5px)"></i>
<i style="background:linear-gradient(90deg,#440154 0.5px,#440154 190.5px)"></i>
<i style="background:linear-gradient(90deg,#440154 0.5px,#440154 190.5px)"></i>
<i style="background:linear-gradient(90deg,#440154 0.5px,#440154 190.5px)"></i>
<i style="background:linear-gradient(90deg,#440154 0.5px,#440154 190.5px)"></i>
<i style="background:linear-gradient(90deg,#440154 0.5px,#440154 190.5px)"></i>
<i style="background:linear-gradient(90deg,#440154 0.5px,#440154 190.5px)"></i>
<i style="background:linear-gradient(90deg,#440154 0.5px,#440154 190.5px)"></i>
<i style="background:linear-gradient(90deg,#440154 0.5px,#440154 190.5px)"></i>
<i style="background:linear-gradient(90deg,#440154 0.5px,#440154 190.5px)"></i>
<i style="background:linear-gradient(90deg,#440154 0.5px,#440154 190.5px)"></i>
<i style="background:linear-gradient(90deg,#440154 0.5px,#440154 190.5px)"></i>
<i style="background:linear-gradient(90deg,#440154 0.5px,#440154 190.5px)"></i>
<i style="background:linear-gradient(90deg,#440154 0.5px,#440154 190.5px)"></i>
<i style="background:linear-gradient(90deg,#440154 0.5px,#440154 190.5px)"></i>
<i style="background:linear-gradient(90deg,#440154 0.5px,#440154 190.5px)"></i>
<i style="background:linear-gradient(90deg,#440154 0.5px,#440154 190.5px)"></i>
<i style="background:linear-gradient(90deg,#440154 0.5px,#440154 190.5px)"></i>
<i style="background:linear-gradient(90deg,#440154 0.5px,#440154 190.5px)"></i>
<i style="background:linear-gradient(90deg,#440154 0.5px,#440154 190.5px)"></i>
</div>
<svg width="685" height="475" viewBox="0 0 685 475">
<defs>
<clipPath id="c00"><rect x="35.45" y="24.40" width="191.05" height="191.05"/></clipPath>
<clipPath id="c01"><rect x="35.45" y="254.27" width="191.05" height="191.05"/></clipPath>
<clipPath id="c10"><rect x="264.40" y="24.40" width="191.05" height="191.05"/></clipPath>
<clipPath id="c11"><rect x="264.40" y="254.27" width="191.05" height="191.05"/></clipPath>
<clipPath id="c20"><rect x="493.40" y="24.40" width="191.05" height="191.05"/></clipPath>
<clipPath id="c21"><rect x="493.40" y="254.27" width="191.05" height="191.05"/></clipPath>
</defs>
<g clip-path="url(#c00)" fill="none" stroke-linejoin="round">
<path d="M46.3 28.6L49.4 30.8L49.3 33.0L48.4 35.2L48.0 37.4L48.4 39.6L49.6 41.8L50.9 44.1L51.5 46.3L53.5 48.5L54.6 50.7L54.2 52.9L54.5 55.1L54.9 57.3L55.7 59.5L57.0 61.7L58.1 63.9L60.0 66.1L61.0 68.3L60.4 70.6L60.4 72.8L60.9 75.0L59.9 77.2L60.0 79.4L61.1 81.6L61.8 83.8L61.9 86.0L62.0 88.2L62.5 90.4L62.5 92.6L62.5 94.9L62.1 97.1L61.4 99.3L61.0 101.5L61.5 103.7L62.5 105.9L63.4 108.1L64.9 110.3L65.7 112.5L65.7 114.7L64.2 116.9L63.8 119.1L64.1 121.4L65.5 123.6L66.2 125.8L65.8 128.0L66.4 130.2L67.9 132.4L68.3 134.6L67.2 136.8L66.8 139.0L67.3 141.2L68.0 143.4L68.8 145.6L70.3 147.9L71.4 150.1L71.8 152.3L72.9 154.5L72.8 156.7L73.8 158.9L75.5 161.1L77.0 163.3L76.9 165.5L77.5 167.7L78.9 169.9L79.9 172.1L80.9 174.4L82.0 176.6L81.0 178.8L80.3 181.0L80.2 183.2L79.9 185.4L80.4 187.6L81.9 189.8L80.5 192.0L77.7 194.2L77.9 196.4L77.7 198.7L75.9 200.9L74.7 203.1L72.0 205.3L70.4 207.5L69.6 209.7L68.7 211.9L67.2 214.1L66.1 215.2L87.8 215.2L87.3 214.1L88.4 211.9L90.5 209.7L91.8 207.5L91.4 205.3L92.9 203.1L94.8 200.9L95.6 198.7L97.0 196.4L99.3 194.2L100.9 192.0L101.6 189.8L101.4 187.6L100.5 185.4L99.8 183.2L100.7 181.0L101.9 178.8L102.2 176.6L100.9 174.4L98.5 172.1L98.1 169.9L98.4 167.7L96.9 165.5L95.9 163.3L94.9 161.1L93.7 158.9L93.0 156.7L92.9 154.5L92.3 152.3L91.7 150.1L90.6 147.9L89.5 145.6L88.5 143.4L87.7 141.2L87.1 139.0L86.7 136.8L87.4 134.6L87.6 132.4L86.6 130.2L85.8 128.0L86.9 125.8L87.7 123.6L86.7 121.4L86.0 119.1L84.9 116.9L84.4 114.7L83.6 112.5L83.5 110.3L83.0 108.1L82.0 105.9L82.2 103.7L82.2 101.5L82.4 99.3L82.4 97.1L83.0 94.9L83.2 92.6L82.8 90.4L82.2 88.2L81.6 86.0L81.9 83.8L82.3 81.6L81.7 79.4L80.7 77.2L80.1 75.0L79.0 72.8L78.6 70.6L78.1 68.3L76.6 66.1L75.6 63.9L76.0 61.7L76.8 59.5L75.5 57.3L74.5 55.1L73.1 52.9L72.5 50.7L72.8 48.5L71.4 46.3L69.9 44.1L69.6 41.8L68.3 39.6L66.3 37.4L69.1 35.2L73.1 33.0L72.0 30.8L65.5 28.6Z" fill="#ff1030" fill-opacity="0.1" stroke="#ff2040" stroke-opacity="0.24" stroke-width="0.6"/>
<path d="M52.1 28.6L56.8 30.8L57.5 33.0L57.1 35.2L57.3 37.4L58.7 39.6L60.3 41.8L61.6 44.1L62.9 46.3L64.1 48.5L65.0 50.7L65.3 52.9L65.9 55.1L66.9 57.3L67.7 59.5L68.0 61.7L68.5 63.9L69.2 66.1L69.9 68.3L70.4 70.6L70.9 72.8L71.7 75.0L72.4 77.2L72.7 79.4L72.9 81.6L73.0 83.8L73.1 86.0L73.1 88.2L73.3 90.4L73.5 92.6L73.4 94.9L73.3 97.1L73.3 99.3L73.4 101.5L73.7 103.7L73.9 105.9L74.2 108.1L75.0 110.3L75.8 112.5L75.9 114.7L75.7 116.9L75.7 119.1L76.3 121.4L77.0 123.6L77.1 125.8L77.1 128.0L77.7 130.2L78.3 132.4L78.3 134.6L78.6 136.8L79.0 139.0L79.2 141.2L79.6 143.4L80.3 145.6L81.2 147.9L82.2 150.1L83.1 152.3L83.7 154.5L84.2 156.7L85.0 158.9L85.9 161.1L87.0 163.3L87.9 165.5L88.6 167.7L89.6 169.9L90.4 172.1L91.5 174.4L92.5 176.6L92.8 178.8L92.4 181.0L92.1 183.2L92.2 185.4L92.5 187.6L92.6 189.8L91.5 192.0L89.9 194.2L89.0 196.4L88.4 198.7L87.3 200.9L86.1 203.1L84.3 205.3L82.6 207.5L81.2 209.7L79.8 211.9L78.2 214.1L77.2 215.2" stroke="#dc1432" stroke-width="1.5" stroke-opacity="0.82"/>
<path d="M36.8 25.7L55.6 25.7L54.6 26.8L37.1 27.1L37.1 28.2L50.5 27.9L52.1 28.6" stroke="#dc1432" stroke-width="1.5" stroke-opacity="0.95"/>
<path d="M36.5 24.8L68.2 24.8L69.6 28.8L54.6 29.7L43.6 32.8L36.5 31.5Z" fill="#ff1030" fill-opacity="0.22" stroke="#ff2040" stroke-opacity="0.3" stroke-width="0.6"/>
</g>
<g clip-path="url(#c10)" fill="none" stroke-linejoin="round">
<path d="M306.3 35.4L311.5 37.7L310.7 39.9L308.7 42.1L307.5 44.3L305.8 46.5L304.7 48.7L303.9 50.9L303.8 53.1L306.0 55.3L310.2 57.5L312.8 59.7L313.5 61.9L314.6 64.2L317.0 66.4L319.4 68.6L320.9 70.8L323.4 73.0L325.6 75.2L328.2 77.4L331.0 79.6L332.6 81.8L332.8 84.0L333.9 86.2L335.9 88.4L336.4 90.7L336.6 92.9L339.7 95.1L342.6 97.3L344.7 99.5L347.1 101.7L350.5 103.9L354.3 106.1L358.1 108.3L359.8 110.5L361.7 112.7L364.3 114.9L368.5 117.2L372.1 119.4L374.1 121.6L376.1 123.8L377.2 126.0L379.6 128.2L382.4 130.4L385.3 132.6L386.9 134.8L388.3 137.0L389.8 139.2L392.5 141.5L397.1 143.7L400.6 145.9L402.1 148.1L404.7 150.3L407.8 151.6L452.6 151.6L450.1 150.3L446.3 148.1L443.2 145.9L440.4 143.7L437.0 141.5L433.1 139.2L430.2 137.0L428.1 134.8L426.4 132.6L424.0 130.4L421.5 128.2L419.4 126.0L417.9 123.8L417.0 121.6L413.8 119.4L409.1 117.2L406.3 114.9L403.1 112.7L399.4 110.5L396.7 108.3L394.2 106.1L391.2 103.9L386.9 101.7L384.0 99.5L381.9 97.3L379.7 95.1L377.7 92.9L376.5 90.7L374.7 88.4L372.3 86.2L371.1 84.0L370.9 81.8L368.2 79.6L365.7 77.4L364.6 75.2L363.4 73.0L360.7 70.8L357.5 68.6L354.5 66.4L351.8 64.2L349.1 61.9L346.1 59.7L342.2 57.5L338.6 55.3L336.4 53.1L336.2 50.9L336.3 48.7L336.0 46.5L334.5 44.3L334.3 42.1L333.1 39.9L331.1 37.7L323.4 35.4Z" fill="#ff1030" fill-opacity="0.1" stroke="#ff2040" stroke-opacity="0.24" stroke-width="0.6"/>
<path d="M312.4 35.4L319.2 37.7L320.3 39.9L320.0 42.1L319.3 44.3L319.0 46.5L319.2 48.7L318.9 50.9L319.3 53.1L322.1 55.3L325.2 57.5L328.0 59.7L329.7 61.9L331.4 64.2L333.6 66.4L335.8 68.6L338.2 70.8L340.5 73.0L342.5 75.2L344.5 77.4L346.6 79.6L348.8 81.8L350.1 84.0L351.2 86.2L352.5 88.4L353.9 90.7L355.3 92.9L357.2 95.1L359.4 97.3L361.9 99.5L364.6 101.7L367.5 103.9L370.1 106.1L373.3 108.3L377.0 110.5L380.3 112.7L383.1 114.9L385.9 117.2L389.6 119.4L392.2 121.6L394.2 123.8L396.0 126.0L397.9 128.2L400.5 130.4L402.6 132.6L404.2 134.8L406.0 137.0L408.5 139.2L411.6 141.5L415.1 143.7L418.5 145.9L421.6 148.1L424.7 150.3L426.8 151.6" stroke="#dc1432" stroke-width="1.5" stroke-opacity="0.82"/>
<path d="M289.2 29.3L302.6 29.5L316.3 30.4L320.9 31.4L317.6 32.0L320.6 31.0" stroke="#dc1432" stroke-width="1.4" stroke-opacity="0.9"/>
<path d="M265.8 30.1L289.0 29.3" stroke="#dc1432" stroke-width="0.7" stroke-opacity="0.5"/>
<path d="M281.6 214.3L297.2 213.4L319.0 211.9L340.8 210.4L362.7 209.3L385.6 208.1L392.1 207.5L393.2 206.8L384.5 206.6L370.8 206.2L366.5 205.5L367.0 204.8L373.6 204.2L389.9 203.8L409.1 203.6" stroke="#dc1432" stroke-width="1.4" stroke-opacity="0.95"/>
<path d="M383.4 202.2L383.4 203.7" stroke="#dc1432" stroke-width="1.2" stroke-opacity="0.9"/>
<path d="M289.0 212.6L319.0 208.1L346.3 205.1L368.1 202.2L400.9 202.0L428.2 202.4L433.6 204.2L400.9 207.7L373.6 209.9L332.6 212.6L297.2 214.8Z" fill="#ff1030" fill-opacity="0.12" stroke="#ff2040" stroke-opacity="0.25" stroke-width="0.6"/>
</g>
<g clip-path="url(#c20)" fill="none" stroke-linejoin="round">
<path d="M500.3 65.0L513.2 67.2L520.0 69.5L523.1 71.7L527.0 73.9L530.6 76.1L532.4 78.3L533.7 80.5L535.0 82.7L538.0 84.9L542.0 87.1L546.0 89.3L550.4 91.5L553.6 93.7L554.8 96.0L557.7 98.2L562.4 100.4L566.4 102.6L571.2 104.8L577.2 107.0L582.1 109.2L587.0 111.4L594.3 113.6L600.7 115.8L605.2 118.0L608.3 119.4L664.3 119.4L659.2 118.0L652.3 115.8L646.8 113.6L640.9 111.4L633.3 109.2L626.0 107.0L619.2 104.8L614.5 102.6L610.7 100.4L606.5 98.2L601.8 96.0L597.3 93.7L592.7 91.5L588.1 89.3L583.2 87.1L579.1 84.9L575.6 82.7L571.5 80.5L568.7 78.3L566.1 76.1L562.2 73.9L557.3 71.7L552.5 69.5L544.8 67.2L530.7 65.0Z" fill="#ff1030" fill-opacity="0.1" stroke="#ff2040" stroke-opacity="0.24" stroke-width="0.6"/>
<path d="M515.2 65.0L527.8 67.2L534.6 69.5L538.6 71.7L542.7 73.9L545.3 76.1L547.7 78.3L550.1 80.5L552.4 82.7L555.4 84.9L558.9 87.1L562.7 89.3L566.6 91.5L570.1 93.7L573.1 96.0L576.3 98.2L580.0 100.4L583.9 102.6L588.4 104.8L594.0 107.0L599.8 109.2L606.1 111.4L612.6 113.6L618.5 115.8L624.1 118.0L628.2 119.4" stroke="#dc1432" stroke-width="1.5" stroke-opacity="0.82"/>
<path d="M494.8 57.1L496.1 53.6L500.2 50.9L506.0 50.5L505.4 51.6L500.5 52.2L509.2 52.9L511.4 53.6L501.6 54.4L495.6 55.3L503.2 56.0L508.7 56.6L497.8 57.5L497.2 58.4L505.4 58.9L512.0 59.3L512.2 61.1L504.3 61.3L504.9 62.4L512.5 62.8L514.7 63.7L515.2 65.0" stroke="#dc1432" stroke-width="1.1" stroke-opacity="0.95"/>
<path d="M494.2 49.1L509.8 48.7L523.4 51.8L533.0 57.5L531.6 68.1L515.2 65.5L501.6 71.2L494.2 61.9Z" fill="#ff1030" fill-opacity="0.22" stroke="#ff2040" stroke-opacity="0.3" stroke-width="0.6"/>
<path d="M555.4 214.8L563.0 213.0L570.1 210.8L570.6 208.1L571.2 205.5L576.6 203.3L582.6 202.0L590.0 201.1L600.9 198.4L605.0 198.0" stroke="#dc1432" stroke-width="1.3" stroke-opacity="0.95"/>
<path d="M545.3 215.2L550.7 209.9L558.9 205.5L567.1 201.1L578.0 198.0L602.6 195.8L618.9 196.7L629.9 198.4L608.0 200.6L591.7 203.7L580.7 207.7L578.0 215.2Z" fill="#ff1030" fill-opacity="0.2" stroke="#ff2040" stroke-opacity="0.3" stroke-width="0.6"/>
</g>
<g clip-path="url(#c01)" fill="none" stroke-linejoin="round">
<path d="M52.0 254.3L53.3 256.5L54.8 258.7L57.0 260.9L57.9 263.1L58.8 265.3L60.9 267.5L61.3 269.7L61.4 271.9L62.4 274.1L63.5 276.4L63.4 278.6L63.4 280.8L64.7 283.0L66.0 285.2L66.5 287.4L67.1 289.6L67.5 291.8L67.9 294.0L67.9 296.2L68.9 298.4L69.2 300.6L68.2 302.9L68.6 305.1L69.6 307.3L69.7 309.5L69.5 311.7L70.1 313.9L71.1 316.1L70.8 318.3L69.9 320.5L70.2 322.7L70.7 324.9L70.0 327.2L69.4 329.4L70.4 331.6L71.7 333.8L71.2 336.0L70.0 338.2L70.3 340.4L71.2 342.6L70.6 344.8L70.4 347.0L71.0 349.2L71.8 351.4L72.5 353.7L73.5 355.9L74.2 358.1L75.5 360.3L76.9 362.5L77.5 364.7L79.5 366.9L83.9 369.1L89.5 371.3L95.3 373.5L100.4 375.7L106.3 377.9L109.5 380.2L111.1 382.4L111.1 383.2L176.3 383.2L177.1 382.4L174.1 380.2L167.4 377.9L158.9 375.7L151.7 373.5L139.1 371.3L127.6 369.1L118.8 366.9L112.2 364.7L109.0 362.5L105.5 360.3L103.0 358.1L101.4 355.9L100.0 353.7L97.2 351.4L94.1 349.2L93.7 347.0L93.4 344.8L92.0 342.6L92.5 340.4L92.8 338.2L92.5 336.0L92.4 333.8L90.9 331.6L89.4 329.4L89.7 327.2L90.7 324.9L91.1 322.7L90.0 320.5L89.7 318.3L90.5 316.1L90.5 313.9L90.6 311.7L91.1 309.5L91.1 307.3L90.0 305.1L89.7 302.9L88.9 300.6L88.6 298.4L88.5 296.2L88.5 294.0L88.0 291.8L87.0 289.6L85.6 287.4L84.9 285.2L84.6 283.0L84.5 280.8L84.1 278.6L82.9 276.4L82.7 274.1L82.6 271.9L81.3 269.7L79.4 267.5L78.4 265.3L76.5 263.1L74.8 260.9L74.2 258.7L73.1 256.5L71.3 254.3Z" fill="#ff1030" fill-opacity="0.1" stroke="#ff2040" stroke-opacity="0.24" stroke-width="0.6"/>
<path d="M62.2 254.3L63.5 256.5L64.7 258.7L66.0 260.9L67.1 263.1L68.1 265.3L69.5 267.5L70.6 269.7L71.4 271.9L72.0 274.1L72.9 276.4L73.8 278.6L74.6 280.8L75.2 283.0L75.7 285.2L76.3 287.4L77.0 289.6L77.8 291.8L78.2 294.0L78.2 296.2L78.3 298.4L78.8 300.6L79.3 302.9L80.0 305.1L80.9 307.3L81.0 309.5L80.8 311.7L80.5 313.9L80.3 316.1L79.9 318.3L79.9 320.5L80.1 322.7L79.9 324.9L79.6 327.2L80.1 329.4L81.2 331.6L81.9 333.8L81.9 336.0L81.6 338.2L81.8 340.4L81.9 342.6L82.2 344.8L82.5 347.0L83.1 349.2L84.2 351.4L85.4 353.7L86.6 355.9L87.7 358.1L89.7 360.3L91.8 362.5L93.7 364.7L96.9 366.9L102.9 369.1L111.7 371.3L121.4 373.5L127.9 375.7L134.5 377.9L139.0 380.2L142.7 382.4L143.8 383.2" stroke="#dc1432" stroke-width="1.5" stroke-opacity="0.82"/>
</g>
<g clip-path="url(#c11)" fill="none" stroke-linejoin="round">
<path d="M274.3 255.2L276.7 257.4L279.2 259.6L281.9 261.8L284.5 264.0L285.8 266.2L285.5 268.4L286.3 270.6L286.9 272.8L287.8 275.0L289.7 277.2L290.9 279.4L290.6 281.7L289.8 283.9L289.1 286.1L290.1 288.3L290.5 290.5L291.2 292.7L291.4 294.9L290.6 297.1L290.1 299.3L291.2 301.5L291.5 303.7L290.8 305.9L291.9 308.2L293.3 310.4L293.5 312.6L292.8 314.8L292.0 317.0L291.9 319.2L292.2 321.4L292.4 323.6L291.4 325.8L291.7 328.0L292.5 330.2L292.4 332.5L292.1 334.7L292.9 336.9L293.3 339.1L293.2 341.3L293.4 343.5L293.9 345.7L294.3 347.9L295.7 350.1L296.2 352.3L295.1 354.5L295.0 356.7L295.1 359.0L293.5 361.2L293.3 363.4L294.8 365.6L295.6 367.8L296.3 370.0L296.3 372.2L296.2 374.4L295.3 376.6L296.2 378.8L299.4 381.0L300.2 383.2L300.6 385.5L302.0 387.7L303.9 389.9L305.7 392.1L308.7 394.3L314.3 396.5L321.8 398.7L332.1 400.9L341.5 403.1L347.1 405.3L352.2 407.5L357.0 409.7L358.9 412.0L361.0 414.2L363.3 416.4L365.5 418.6L369.3 419.5L421.7 419.5L421.6 418.6L421.0 416.4L419.3 414.2L417.4 412.0L414.7 409.7L410.9 407.5L407.0 405.3L402.6 403.1L394.1 400.9L382.7 398.7L373.0 396.5L364.7 394.3L358.0 392.1L350.6 389.9L342.2 387.7L335.9 385.5L332.4 383.2L329.1 381.0L325.4 378.8L324.2 376.6L323.2 374.4L321.6 372.2L318.9 370.0L317.4 367.8L317.1 365.6L317.1 363.4L317.9 361.2L317.4 359.0L316.6 356.7L317.2 354.5L318.1 352.3L319.1 350.1L318.0 347.9L316.8 345.7L317.2 343.5L317.6 341.3L317.3 339.1L316.4 336.9L316.1 334.7L315.8 332.5L314.8 330.2L314.6 328.0L314.1 325.8L313.2 323.6L312.7 321.4L312.2 319.2L312.3 317.0L312.6 314.8L312.7 312.6L314.2 310.4L314.9 308.2L314.6 305.9L313.1 303.7L312.2 301.5L312.1 299.3L312.1 297.1L312.0 294.9L312.7 292.7L313.0 290.5L312.0 288.3L310.4 286.1L309.5 283.9L309.3 281.7L309.2 279.4L308.7 277.2L308.6 275.0L308.7 272.8L309.0 270.6L309.5 268.4L309.5 266.2L306.9 264.0L303.3 261.8L300.3 259.6L298.8 257.4L298.0 255.2Z" fill="#ff1030" fill-opacity="0.1" stroke="#ff2040" stroke-opacity="0.24" stroke-width="0.6"/>
<path d="M285.1 255.2L287.8 257.4L290.3 259.6L292.2 261.8L294.3 264.0L296.5 266.2L296.9 268.4L297.2 270.6L297.7 272.8L298.1 275.0L298.4 277.2L299.0 279.4L299.7 281.7L300.0 283.9L300.0 286.1L300.6 288.3L301.6 290.5L302.0 292.7L301.8 294.9L301.9 297.1L302.0 299.3L302.1 301.5L302.3 303.7L302.5 305.9L302.8 308.2L302.7 310.4L302.3 312.6L301.9 314.8L301.8 317.0L302.1 319.2L302.3 321.4L302.4 323.6L302.6 325.8L302.8 328.0L303.2 330.2L303.5 332.5L304.0 334.7L304.4 336.9L304.7 339.1L305.0 341.3L305.1 343.5L305.2 345.7L305.8 347.9L306.4 350.1L306.4 352.3L306.5 354.5L306.3 356.7L305.8 359.0L305.3 361.2L305.4 363.4L306.4 365.6L306.8 367.8L307.1 370.0L307.8 372.2L309.0 374.4L310.2 376.6L312.1 378.8L314.3 381.0L316.1 383.2L317.6 385.5L319.5 387.7L323.4 389.9L327.6 392.1L331.8 394.3L337.9 396.5L346.3 398.7L356.1 400.9L364.1 403.1L370.5 405.3L376.4 407.5L382.1 409.7L386.1 412.0L389.0 414.2L391.0 416.4L393.0 418.6L394.9 419.5" stroke="#dc1432" stroke-width="1.5" stroke-opacity="0.82"/>
<path d="M362.7 418.6L424.1 418.6" stroke="#dc1432" stroke-width="1.5" stroke-opacity="0.45"/>
<path d="M365.4 422.8L426.8 422.8" stroke="#dc1432" stroke-width="1.5" stroke-opacity="0.45"/>
<path d="M361.3 426.5L421.3 426.5" stroke="#dc1432" stroke-width="1.4" stroke-opacity="0.4"/>
<path d="M359.9 430.3L417.2 430.3" stroke="#dc1432" stroke-width="1.2" stroke-opacity="0.3"/>
<path d="M357.2 434.5L411.8 434.5" stroke="#dc1432" stroke-width="1.0" stroke-opacity="0.25"/>
<path d="M393.5 422.1L396.2 423.0" stroke="#dc1432" stroke-width="2.0" stroke-opacity="1"/>
<path d="M387.2 427.0L391.6 426.1" stroke="#dc1432" stroke-width="1.6" stroke-opacity="1"/>
<path d="M349.0 444.2L354.5 444.6" stroke="#dc1432" stroke-width="1.4" stroke-opacity="0.9"/>
</g>
<g clip-path="url(#c21)" fill="none" stroke-linejoin="round">
<path d="M500.0 254.3L500.4 256.5L501.0 258.7L501.5 260.9L502.1 263.1L502.7 265.3L503.3 267.5L504.0 269.7L504.6 271.9L505.3 274.1L506.1 276.4L506.8 278.6L507.6 280.8L508.4 283.0L509.2 285.2L510.0 287.4L510.9 289.6L511.7 291.8L512.7 294.0L513.6 296.2L514.6 298.4L515.5 300.6L516.4 302.9L517.4 305.1L518.4 307.3L519.4 309.5L520.5 311.7L521.6 313.9L522.7 316.1L523.9 318.3L525.1 320.5L526.3 322.7L527.5 324.9L528.8 327.2L530.1 329.4L531.5 331.6L532.9 333.8L534.4 336.0L535.9 338.2L537.4 340.4L539.0 342.6L540.1 344.8L541.3 347.0L542.5 349.2L543.8 351.4L545.1 353.7L546.4 355.9L547.9 358.1L549.4 360.3L551.0 362.5L552.7 364.7L554.0 366.9L555.5 369.1L557.1 371.3L558.8 373.5L560.7 375.7L562.6 377.9L564.7 380.2L566.9 382.4L569.2 384.6L570.6 385.9L626.0 385.9L623.0 384.6L618.1 382.4L613.3 380.2L608.5 377.9L603.9 375.7L599.4 373.5L595.0 371.3L590.8 369.1L586.7 366.9L582.7 364.7L579.5 362.5L576.4 360.3L573.3 358.1L570.3 355.9L567.4 353.7L564.6 351.4L561.8 349.2L559.1 347.0L556.4 344.8L553.7 342.6L551.5 340.4L549.3 338.2L547.2 336.0L545.0 333.8L542.9 331.6L540.9 329.4L538.9 327.2L537.0 324.9L535.1 322.7L533.3 320.5L531.7 318.3L530.1 316.1L528.6 313.9L527.2 311.7L525.7 309.5L524.3 307.3L522.9 305.1L521.6 302.9L520.3 300.6L519.0 298.4L517.8 296.2L516.7 294.0L515.6 291.8L514.6 289.6L513.5 287.4L512.5 285.2L511.6 283.0L510.6 280.8L509.7 278.6L508.8 276.4L507.9 274.1L507.0 271.9L506.2 269.7L505.4 267.5L504.6 265.3L503.8 263.1L503.1 260.9L502.4 258.7L501.7 256.5L501.0 254.3Z" fill="#ff1030" fill-opacity="0.14" stroke="#ff2040" stroke-opacity="0.24" stroke-width="0.6"/>
<path d="M500.5 254.3L501.1 256.5L501.7 258.7L502.3 260.9L503.0 263.1L503.6 265.3L504.4 267.5L505.1 269.7L505.8 271.9L506.6 274.1L507.4 276.4L508.3 278.6L509.1 280.8L510.0 283.0L510.9 285.2L511.8 287.4L512.7 289.6L513.7 291.8L514.7 294.0L515.7 296.2L516.8 298.4L517.9 300.6L519.0 302.9L520.2 305.1L521.4 307.3L522.6 309.5L523.8 311.7L525.1 313.9L526.4 316.1L527.8 318.3L529.2 320.5L530.7 322.7L532.2 324.9L533.8 327.2L535.5 329.4L537.2 331.6L539.0 333.8L540.8 336.0L542.6 338.2L544.5 340.4L546.3 342.6L548.3 344.8L550.2 347.0L552.2 349.2L554.2 351.4L556.3 353.7L558.4 355.9L560.6 358.1L562.9 360.3L565.3 362.5L567.7 364.7L570.3 366.9L573.1 369.1L575.9 371.3L578.9 373.5L582.1 375.7L585.3 377.9L588.7 380.2L592.2 382.4L595.7 384.6L597.9 385.9" stroke="#dc1432" stroke-width="1.4" stroke-opacity="0.82"/>
</g>
<path fill="#fff" fill-rule="evenodd" d="M32.45 21.40h197.05v197.05h-197.05zM35.45 24.40h191.05v191.05h-191.05z"/>
<rect x="35.45" y="24.40" width="191.05" height="191.05" fill="none" stroke="#000" stroke-width="0.78"/>
<path d="M35.75 215.45v3.40M90.34 215.45v3.40M144.92 215.45v3.40M199.51 215.45v3.40M35.45 24.40h-3.40M35.45 46.49h-3.40M35.45 68.58h-3.40M35.45 90.68h-3.40M35.45 112.77h-3.40M35.45 134.86h-3.40M35.45 156.95h-3.40M35.45 179.04h-3.40M35.45 201.13h-3.40" stroke="#000" stroke-width="0.78" fill="none"/>
<g font-size="9.72" text-anchor="middle">
<text x="35.75" y="230.15">0</text>
<text x="90.34" y="230.15">20</text>
<text x="144.92" y="230.15">40</text>
<text x="199.51" y="230.15">60</text>
</g>
<g font-size="9.72" text-anchor="end">
<text x="29.05" y="28.35">0</text>
<text x="29.05" y="50.44">5</text>
<text x="29.05" y="72.53">10</text>
<text x="29.05" y="94.63">15</text>
<text x="29.05" y="116.72">20</text>
<text x="29.05" y="138.81">25</text>
<text x="29.05" y="160.90">30</text>
<text x="29.05" y="182.99">35</text>
<text x="29.05" y="205.08">40</text>
</g>
<text x="-0.15" y="21.70" font-size="29.2">A</text>
<text transform="translate(10.9 119.93) rotate(-90)" font-size="9.72" text-anchor="middle">Position [mm]</text>
<path fill="#fff" fill-rule="evenodd" d="M261.40 21.40h197.05v197.05h-197.05zM264.40 24.40h191.05v191.05h-191.05z"/>
<rect x="264.40" y="24.40" width="191.05" height="191.05" fill="none" stroke="#000" stroke-width="0.78"/>
<path d="M264.70 215.45v3.40M319.29 215.45v3.40M373.87 215.45v3.40M428.46 215.45v3.40M264.40 24.40h-3.40M264.40 46.66h-3.40M264.40 68.91h-3.40M264.40 91.17h-3.40M264.40 113.43h-3.40M264.40 135.68h-3.40M264.40 157.94h-3.40M264.40 180.20h-3.40M264.40 202.45h-3.40" stroke="#000" stroke-width="0.78" fill="none"/>
<g font-size="9.72" text-anchor="middle">
<text x="264.70" y="230.15">0</text>
<text x="319.29" y="230.15">20</text>
<text x="373.87" y="230.15">40</text>
<text x="428.46" y="230.15">60</text>
</g>
<g font-size="9.72" text-anchor="end">
<text x="258.00" y="28.35">0</text>
<text x="258.00" y="50.61">5</text>
<text x="258.00" y="72.86">10</text>
<text x="258.00" y="95.12">15</text>
<text x="258.00" y="117.38">20</text>
<text x="258.00" y="139.63">25</text>
<text x="258.00" y="161.89">30</text>
<text x="258.00" y="184.15">35</text>
<text x="258.00" y="206.40">40</text>
</g>
<text x="231.10" y="21.70" font-size="29.2">B</text>
<path fill="#fff" fill-rule="evenodd" d="M490.40 21.40h197.05v197.05h-197.05zM493.40 24.40h191.05v191.05h-191.05z"/>
<rect x="493.40" y="24.40" width="191.05" height="191.05" fill="none" stroke="#000" stroke-width="0.78"/>
<path d="M493.70 215.45v3.40M548.29 215.45v3.40M602.87 215.45v3.40M657.46 215.45v3.40M493.40 24.40h-3.40M493.40 46.66h-3.40M493.40 68.91h-3.40M493.40 91.17h-3.40M493.40 113.43h-3.40M493.40 135.68h-3.40M493.40 157.94h-3.40M493.40 180.20h-3.40M493.40 202.45h-3.40" stroke="#000" stroke-width="0.78" fill="none"/>
<g font-size="9.72" text-anchor="middle">
<text x="493.70" y="230.15">0</text>
<text x="548.29" y="230.15">20</text>
<text x="602.87" y="230.15">40</text>
<text x="657.46" y="230.15">60</text>
</g>
<g font-size="9.72" text-anchor="end">
<text x="487.00" y="28.35">0</text>
<text x="487.00" y="50.61">5</text>
<text x="487.00" y="72.86">10</text>
<text x="487.00" y="95.12">15</text>
<text x="487.00" y="117.38">20</text>
<text x="487.00" y="139.63">25</text>
<text x="487.00" y="161.89">30</text>
<text x="487.00" y="184.15">35</text>
<text x="487.00" y="206.40">40</text>
</g>
<text x="458.80" y="21.70" font-size="29.2">C</text>
<path fill="#fff" fill-rule="evenodd" d="M32.45 251.27h197.05v197.05h-197.05zM35.45 254.27h191.05v191.05h-191.05z"/>
<rect x="35.45" y="254.27" width="191.05" height="191.05" fill="none" stroke="#000" stroke-width="0.78"/>
<path d="M35.75 445.32v3.40M90.34 445.32v3.40M144.92 445.32v3.40M199.51 445.32v3.40M35.45 254.27h-3.40M35.45 276.64h-3.40M35.45 299.00h-3.40M35.45 321.37h-3.40M35.45 343.73h-3.40M35.45 366.10h-3.40M35.45 388.47h-3.40M35.45 410.83h-3.40M35.45 433.20h-3.40" stroke="#000" stroke-width="0.78" fill="none"/>
<g font-size="9.72" text-anchor="middle">
<text x="35.75" y="460.02">0</text>
<text x="90.34" y="460.02">20</text>
<text x="144.92" y="460.02">40</text>
<text x="199.51" y="460.02">60</text>
</g>
<g font-size="9.72" text-anchor="end">
<text x="29.05" y="258.22">0</text>
<text x="29.05" y="280.59">5</text>
<text x="29.05" y="302.95">10</text>
<text x="29.05" y="325.32">15</text>
<text x="29.05" y="347.68">20</text>
<text x="29.05" y="370.05">25</text>
<text x="29.05" y="392.42">30</text>
<text x="29.05" y="414.78">35</text>
<text x="29.05" y="437.15">40</text>
</g>
<text x="-0.15" y="251.57" font-size="29.2">D</text>
<text transform="translate(10.9 349.80) rotate(-90)" font-size="9.72" text-anchor="middle">Position [mm]</text>
<text x="130.98" y="473.3" font-size="9.72" text-anchor="middle">Time [h]</text>
<path fill="#fff" fill-rule="evenodd" d="M261.40 251.27h197.05v197.05h-197.05zM264.40 254.27h191.05v191.05h-191.05z"/>
<rect x="264.40" y="254.27" width="191.05" height="191.05" fill="none" stroke="#000" stroke-width="0.78"/>
<path d="M264.70 445.32v3.40M319.29 445.32v3.40M373.87 445.32v3.40M428.46 445.32v3.40M264.40 254.27h-3.40M264.40 276.30h-3.40M264.40 298.32h-3.40M264.40 320.35h-3.40M264.40 342.37h-3.40M264.40 364.40h-3.40M264.40 386.42h-3.40M264.40 408.45h-3.40M264.40 430.47h-3.40" stroke="#000" stroke-width="0.78" fill="none"/>
<g font-size="9.72" text-anchor="middle">
<text x="264.70" y="460.02">0</text>
<text x="319.29" y="460.02">20</text>
<text x="373.87" y="460.02">40</text>
<text x="428.46" y="460.02">60</text>
</g>
<g font-size="9.72" text-anchor="end">
<text x="258.00" y="258.22">0</text>
<text x="258.00" y="280.25">5</text>
<text x="258.00" y="302.27">10</text>
<text x="258.00" y="324.30">15</text>
<text x="258.00" y="346.32">20</text>
<text x="258.00" y="368.35">25</text>
<text x="258.00" y="390.37">30</text>
<text x="258.00" y="412.40">35</text>
<text x="258.00" y="434.42">40</text>
</g>
<text x="231.10" y="251.57" font-size="29.2">E</text>
<text x="359.92" y="473.3" font-size="9.72" text-anchor="middle">Time [h]</text>
<path fill="#fff" fill-rule="evenodd" d="M490.40 251.27h197.05v197.05h-197.05zM493.40 254.27h191.05v191.05h-191.05z"/>
<rect x="493.40" y="254.27" width="191.05" height="191.05" fill="none" stroke="#000" stroke-width="0.78"/>
<path d="M493.70 445.32v3.40M548.29 445.32v3.40M602.87 445.32v3.40M657.46 445.32v3.40M493.40 254.27h-3.40M493.40 276.53h-3.40M493.40 298.78h-3.40M493.40 321.04h-3.40M493.40 343.30h-3.40M493.40 365.55h-3.40M493.40 387.81h-3.40M493.40 410.07h-3.40M493.40 432.32h-3.40" stroke="#000" stroke-width="0.78" fill="none"/>
<g font-size="9.72" text-anchor="middle">
<text x="493.70" y="460.02">0</text>
<text x="548.29" y="460.02">20</text>
<text x="602.87" y="460.02">40</text>
<text x="657.46" y="460.02">60</text>
</g>
<g font-size="9.72" text-anchor="end">
<text x="487.00" y="258.22">0</text>
<text x="487.00" y="280.48">5</text>
<text x="487.00" y="302.73">10</text>
<text x="487.00" y="324.99">15</text>
<text x="487.00" y="347.25">20</text>
<text x="487.00" y="369.50">25</text>
<text x="487.00" y="391.76">30</text>
<text x="487.00" y="414.02">35</text>
<text x="487.00" y="436.27">40</text>
</g>
<text x="459.70" y="251.57" font-size="29.2">F</text>
<text x="588.92" y="473.3" font-size="9.72" text-anchor="middle">Time [h]</text>
</svg>
</div></body></html>
